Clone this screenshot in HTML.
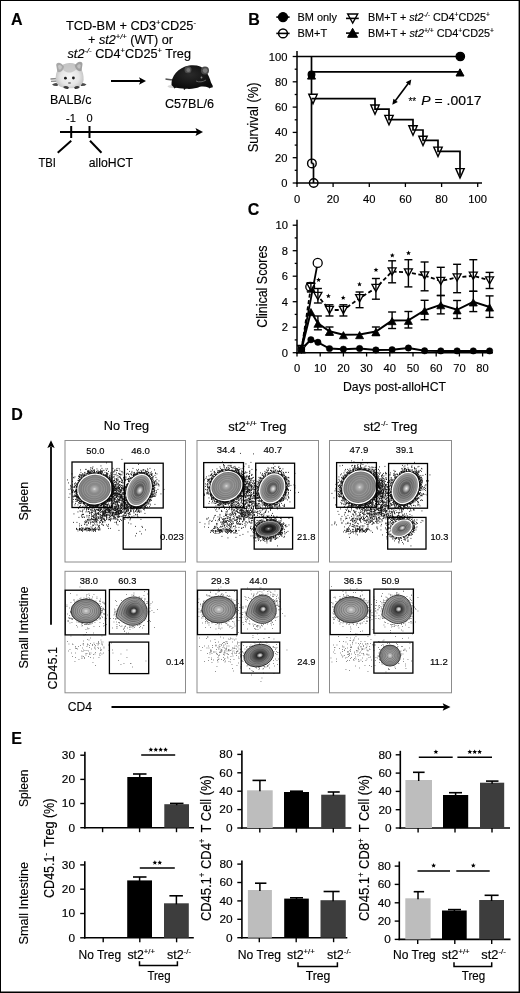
<!DOCTYPE html><html><head><meta charset="utf-8"><style>html,body{margin:0;padding:0;background:#fff;}svg{display:block;will-change:transform;font-family:"Liberation Sans",sans-serif;}text{stroke:#000;stroke-width:0.15px;}</style></head><body>
<svg width="520" height="993" viewBox="0 0 520 993">
<rect x="0" y="0" width="520" height="993" fill="#fff"/>
<text x="11" y="25" font-size="16" font-weight="bold">A</text>
<text x="66" y="30" font-size="12.8" textLength="130" lengthAdjust="spacingAndGlyphs">TCD-BM + CD3<tspan font-size="7.7" dy="-4.8">+</tspan><tspan dy="4.8">CD25</tspan><tspan font-size="7.7" dy="-4.8">-</tspan></text>
<text x="88" y="43.5" font-size="12.8" textLength="85" lengthAdjust="spacingAndGlyphs">+ <tspan font-style="italic">st2</tspan><tspan font-size="7.7" dy="-4.8" font-style="italic">+/+</tspan><tspan dy="4.8"> (WT) or</tspan></text>
<text x="67.5" y="57.5" font-size="12.8" textLength="123.5" lengthAdjust="spacingAndGlyphs"><tspan font-style="italic">st2</tspan><tspan font-size="7.7" dy="-4.8" font-style="italic">-/-</tspan><tspan dy="4.8"> CD4</tspan><tspan font-size="7.7" dy="-4.8">+</tspan><tspan dy="4.8">CD25</tspan><tspan font-size="7.7" dy="-4.8">+</tspan><tspan dy="4.8"> Treg</tspan></text>
<defs><radialGradient id="wm" cx="0.5" cy="0.55" r="0.55"><stop offset="0" stop-color="#f6f6f6"/><stop offset="0.6" stop-color="#e6e6e6"/><stop offset="1" stop-color="#bdbdbd"/></radialGradient>
<radialGradient id="bm" cx="0.45" cy="0.4" r="0.6"><stop offset="0" stop-color="#2a2a2a"/><stop offset="1" stop-color="#0a0a0a"/></radialGradient></defs>
<g>
<path d="M50.5 79 L58 78.5 M51 81.3 L58 81" stroke="#8a8a8a" stroke-width="1.3"/>
<path d="M52 84.5 Q55 82 58.5 83.5 L57.5 86 Q54 86.5 52 84.5Z" fill="#4a4a4a"/>
<path d="M86.5 84.5 Q83.5 82 80 83.5 L81 86 Q84.5 86.5 86.5 84.5Z" fill="#4a4a4a"/>
<path d="M55.8 80 C55 71 60 63.5 69.5 63 C79 63 84.3 70 83.6 80 C83 86 77 88.3 69.5 88.3 C62 88.3 56.3 86 55.8 80Z" fill="url(#wm)"/>
<path d="M62 67 C64 64 75 63.5 77.5 67 C76 71 72 72.5 69.5 72.5 C66 72.5 63 71 62 67Z" fill="#c4c4c4" opacity="0.85"/>
<path d="M56.2 65 C56.5 61.5 61.5 62 64 66.5 C63.3 71 59.5 73.5 57.3 71.5 Z" fill="#a8a8a8"/>
<path d="M82.5 64 C82.3 60.5 77 61 74.8 65.5 C75.5 70 79.5 72.5 81.6 70.5 Z" fill="#a0a0a0"/>
<path d="M58 66.2 C58.4 64.5 60.8 64.6 62 67 C61.5 69.3 59.8 70.2 58.8 69.2Z" fill="#c6c6c6"/>
<path d="M80.8 65.3 C80.5 63.6 78 63.7 77 66 C77.5 68.3 79.3 69.2 80.2 68.2Z" fill="#c0c0c0"/>
<circle cx="65.4" cy="78.2" r="1.4" fill="#1a1a1a"/>
<circle cx="73.4" cy="78" r="1.4" fill="#1a1a1a"/>
<ellipse cx="69.5" cy="83" rx="1.6" ry="1.1" fill="#8a8a8a"/>
<path d="M63 87 Q66 85 69 87.5 L68 89 Q65 89.5 63 87Z" fill="#3a3a3a"/>
<path d="M80 87 Q77 85 74 87.5 L75 89 Q78 89.5 80 87Z" fill="#3a3a3a"/>
</g>
<text x="50" y="104" font-size="12.3" textLength="41.5" lengthAdjust="spacingAndGlyphs">BALB/c</text>
<line x1="111" y1="81" x2="141" y2="81" stroke="#000" stroke-width="2"/>
<path d="M146 81 L139 77.3 L140.5 81 L139 84.7 Z" fill="#000"/>
<g>
<path d="M165.5 79 C169 79.5 172 80 176 80.5" stroke="#555" stroke-width="1.4" fill="none"/>
<ellipse cx="175" cy="86.5" rx="7.5" ry="1.6" fill="#d5d5d5"/>
<path d="M171.5 85 C171 76 178 67.5 189 65.5 C197 64.5 202 66.5 205 70 C208 73.5 210 79 211 82.5 C212 84.5 213.5 86 212.5 87.5 L209 87.8 C206 86.5 203 86 200 86.8 C196 88.5 191 89.3 186 88.8 C181 88.4 177 88 174 87.5 Z" fill="url(#bm)"/>
<path d="M174 88 L177 86 M184 89.5 L186 86.5 M209 88 L211.5 86" stroke="#111" stroke-width="1.5"/>
<circle cx="188" cy="69.8" r="3.5" fill="#4a4a4a"/>
<circle cx="188.3" cy="70" r="2" fill="#777"/>
<circle cx="205" cy="70.4" r="4" fill="#4a4a4a"/>
<circle cx="205.2" cy="70.6" r="2.4" fill="#7a7a7a"/>
<path d="M196 81 C199 82.5 203 82 206 80" stroke="#666" stroke-width="0.9" fill="none"/>
<circle cx="201.5" cy="77.5" r="0.9" fill="#888"/>
</g>
<text x="165" y="108" font-size="12.3" textLength="49" lengthAdjust="spacingAndGlyphs">C57BL/6</text>
<text x="71" y="122" font-size="11" text-anchor="middle">-1</text>
<text x="89.5" y="122" font-size="11" text-anchor="middle">0</text>
<line x1="60" y1="132" x2="197" y2="132" stroke="#000" stroke-width="2"/>
<path d="M203 132 L195.5 128 L197 132 L195.5 136 Z" fill="#000"/>
<line x1="71.2" y1="126" x2="71.2" y2="138" stroke="#000" stroke-width="2"/>
<line x1="89.5" y1="126" x2="89.5" y2="138" stroke="#000" stroke-width="2"/>
<line x1="71.2" y1="140.8" x2="57.7" y2="152.8" stroke="#000" stroke-width="2"/>
<line x1="90" y1="140.8" x2="101.5" y2="152.8" stroke="#000" stroke-width="2"/>
<text x="38.5" y="166.5" font-size="12.3" textLength="17.5" lengthAdjust="spacingAndGlyphs">TBI</text>
<text x="88.8" y="166.5" font-size="12.3" textLength="44.2" lengthAdjust="spacingAndGlyphs">alloHCT</text>
<text x="248.3" y="24.8" font-size="16" font-weight="bold">B</text>
<line x1="276.3" y1="17.1" x2="289.6" y2="17.1" stroke="#000" stroke-width="1.6"/>
<circle cx="283" cy="17.1" r="4.5" fill="#000" stroke="#000" stroke-width="1.3"/>
<circle cx="283" cy="33.4" r="4.4" fill="#fff" stroke="#000" stroke-width="1.5"/>
<line x1="276.3" y1="33.4" x2="289.6" y2="33.4" stroke="#000" stroke-width="1.6"/>
<text x="297.5" y="20.8" font-size="11" textLength="39.5" lengthAdjust="spacingAndGlyphs">BM only</text>
<text x="297.5" y="37" font-size="11">BM+T</text>
<path d="M347.7 14 L357.7 14 L352.7 23 Z" fill="#fff" stroke="#000" stroke-width="1.4"/>
<line x1="346" y1="18.4" x2="358.8" y2="18.4" stroke="#000" stroke-width="1.6"/>
<path d="M347.6 37.3 L357.6 37.3 L352.6 28.3 Z" fill="#000" stroke="#000" stroke-width="1"/>
<line x1="346" y1="33.1" x2="358.8" y2="33.1" stroke="#000" stroke-width="1.6"/>
<text x="368" y="21" font-size="11" textLength="122" lengthAdjust="spacingAndGlyphs">BM+T + <tspan font-style="italic">st2</tspan><tspan font-size="6.8" dy="-4.2" font-style="italic">-/-</tspan><tspan dy="4.2"> CD4</tspan><tspan font-size="6.8" dy="-4.2">+</tspan><tspan dy="4.2">CD25</tspan><tspan font-size="6.8" dy="-4.2">+</tspan></text>
<text x="368" y="37" font-size="11" textLength="126" lengthAdjust="spacingAndGlyphs">BM+T + <tspan font-style="italic">st2</tspan><tspan font-size="6.8" dy="-4.2" font-style="italic">+/+</tspan><tspan dy="4.2"> CD4</tspan><tspan font-size="6.8" dy="-4.2">+</tspan><tspan dy="4.2">CD25</tspan><tspan font-size="6.8" dy="-4.2">+</tspan></text>
<line x1="297" y1="51" x2="297" y2="184" stroke="#000" stroke-width="1.5"/>
<line x1="296.2" y1="183" x2="482" y2="183" stroke="#000" stroke-width="1.5"/>
<line x1="292.7" y1="183" x2="297" y2="183" stroke="#000" stroke-width="1.3"/>
<line x1="294.7" y1="170.3" x2="297" y2="170.3" stroke="#000" stroke-width="1.3"/>
<line x1="292.7" y1="157.7" x2="297" y2="157.7" stroke="#000" stroke-width="1.3"/>
<line x1="294.7" y1="145.1" x2="297" y2="145.1" stroke="#000" stroke-width="1.3"/>
<line x1="292.7" y1="132.4" x2="297" y2="132.4" stroke="#000" stroke-width="1.3"/>
<line x1="294.7" y1="119.8" x2="297" y2="119.8" stroke="#000" stroke-width="1.3"/>
<line x1="292.7" y1="107.1" x2="297" y2="107.1" stroke="#000" stroke-width="1.3"/>
<line x1="294.7" y1="94.5" x2="297" y2="94.5" stroke="#000" stroke-width="1.3"/>
<line x1="292.7" y1="81.8" x2="297" y2="81.8" stroke="#000" stroke-width="1.3"/>
<line x1="294.7" y1="69.2" x2="297" y2="69.2" stroke="#000" stroke-width="1.3"/>
<line x1="292.7" y1="56.5" x2="297" y2="56.5" stroke="#000" stroke-width="1.3"/>
<text x="287.5" y="187" font-size="11.2" text-anchor="end">0</text>
<text x="287.5" y="161.7" font-size="11.2" text-anchor="end">20</text>
<text x="287.5" y="136.4" font-size="11.2" text-anchor="end">40</text>
<text x="287.5" y="111.1" font-size="11.2" text-anchor="end">60</text>
<text x="287.5" y="85.8" font-size="11.2" text-anchor="end">80</text>
<text x="287.5" y="60.5" font-size="11.2" text-anchor="end">100</text>
<line x1="297" y1="183" x2="297" y2="187" stroke="#000" stroke-width="1.3"/>
<text x="297" y="202.6" font-size="11.2" text-anchor="middle">0</text>
<line x1="333.1" y1="183" x2="333.1" y2="187" stroke="#000" stroke-width="1.3"/>
<text x="333.1" y="202.6" font-size="11.2" text-anchor="middle">20</text>
<line x1="369.3" y1="183" x2="369.3" y2="187" stroke="#000" stroke-width="1.3"/>
<text x="369.3" y="202.6" font-size="11.2" text-anchor="middle">40</text>
<line x1="405.4" y1="183" x2="405.4" y2="187" stroke="#000" stroke-width="1.3"/>
<text x="405.4" y="202.6" font-size="11.2" text-anchor="middle">60</text>
<line x1="441.6" y1="183" x2="441.6" y2="187" stroke="#000" stroke-width="1.3"/>
<text x="441.6" y="202.6" font-size="11.2" text-anchor="middle">80</text>
<line x1="477.7" y1="183" x2="477.7" y2="187" stroke="#000" stroke-width="1.3"/>
<text x="477.7" y="202.6" font-size="11.2" text-anchor="middle">100</text>
<text transform="translate(258.2 117.3) rotate(-90)" x="0" y="0" font-size="14" text-anchor="middle" textLength="70" lengthAdjust="spacingAndGlyphs">Survival (%)</text>
<line x1="297" y1="56.5" x2="460.3" y2="56.5" stroke="#000" stroke-width="1.7"/>
<circle cx="460.3" cy="56.5" r="4.2" fill="#000" stroke="#000" stroke-width="1.3"/>
<line x1="311.5" y1="56.5" x2="311.5" y2="163.4" stroke="#000" stroke-width="1.7"/>
<line x1="311.5" y1="163.4" x2="313.5" y2="163.4" stroke="#000" stroke-width="1.7"/>
<line x1="313.5" y1="163.4" x2="313.5" y2="183" stroke="#000" stroke-width="1.7"/>
<circle cx="311.9" cy="163.4" r="4.3" fill="none" stroke="#000" stroke-width="1.4"/>
<circle cx="313.7" cy="183" r="4.3" fill="none" stroke="#000" stroke-width="1.4"/>
<line x1="311.5" y1="71.9" x2="460" y2="71.9" stroke="#000" stroke-width="1.7"/>
<path d="M456 76 L464 76 L460 68.8 Z" fill="#000" stroke="#000" stroke-width="1"/>
<circle cx="311.5" cy="74.5" r="3.3" fill="#000" stroke="#000" stroke-width="1.3"/>
<path d="M307.5 79.1 L315.5 79.1 L311.5 71.9 Z" fill="#000" stroke="#000" stroke-width="1"/>
<path d="M308.8 94.3 L317.2 94.3 L313 103.7 Z" fill="#fff" stroke="#000" stroke-width="1.4"/>
<path d="M370.8 105 L379.2 105 L375 114.4 Z" fill="#fff" stroke="#000" stroke-width="1.4"/>
<path d="M384.8 115.4 L393.2 115.4 L389 124.8 Z" fill="#fff" stroke="#000" stroke-width="1.4"/>
<path d="M408.8 125.8 L417.2 125.8 L413 135.2 Z" fill="#fff" stroke="#000" stroke-width="1.4"/>
<path d="M418.8 136.2 L427.2 136.2 L423 145.6 Z" fill="#fff" stroke="#000" stroke-width="1.4"/>
<path d="M433.8 147.1 L442.2 147.1 L438 156.5 Z" fill="#fff" stroke="#000" stroke-width="1.4"/>
<path d="M455.8 168.6 L464.2 168.6 L460 178 Z" fill="#fff" stroke="#000" stroke-width="1.4"/>
<polyline points="311.5,98.6 375,98.6 375,109.2 389,109.2 389,119.6 413,119.6 413,130 423,130 423,140.4 438,140.4 438,151.3 460,151.3 460,175.8" fill="none" stroke="#000" stroke-width="1.7"/>
<line x1="394" y1="102.5" x2="409.5" y2="81.8" stroke="#000" stroke-width="1.6"/>
<path d="M392.3 104.8 L393.4 98.7 L397.8 102 Z" fill="#000"/>
<path d="M411.3 79.5 L410.2 85.6 L405.8 82.3 Z" fill="#000"/>
<text x="408.4" y="104.5" font-size="10">**</text>
<text x="421.3" y="105" font-size="12.8" textLength="60.2" lengthAdjust="spacingAndGlyphs"><tspan font-style="italic">P</tspan> = .0017</text>
<text x="247.8" y="215.2" font-size="16" font-weight="bold">C</text>
<line x1="297" y1="219.8" x2="297" y2="354" stroke="#000" stroke-width="1.5"/>
<line x1="296.2" y1="352.7" x2="493" y2="352.7" stroke="#000" stroke-width="1.5"/>
<line x1="292.7" y1="352.7" x2="297" y2="352.7" stroke="#000" stroke-width="1.3"/>
<line x1="294.7" y1="339.9" x2="297" y2="339.9" stroke="#000" stroke-width="1.3"/>
<line x1="292.7" y1="327.2" x2="297" y2="327.2" stroke="#000" stroke-width="1.3"/>
<line x1="294.7" y1="314.4" x2="297" y2="314.4" stroke="#000" stroke-width="1.3"/>
<line x1="292.7" y1="301.7" x2="297" y2="301.7" stroke="#000" stroke-width="1.3"/>
<line x1="294.7" y1="288.9" x2="297" y2="288.9" stroke="#000" stroke-width="1.3"/>
<line x1="292.7" y1="276.2" x2="297" y2="276.2" stroke="#000" stroke-width="1.3"/>
<line x1="294.7" y1="263.4" x2="297" y2="263.4" stroke="#000" stroke-width="1.3"/>
<line x1="292.7" y1="250.7" x2="297" y2="250.7" stroke="#000" stroke-width="1.3"/>
<line x1="294.7" y1="237.9" x2="297" y2="237.9" stroke="#000" stroke-width="1.3"/>
<line x1="292.7" y1="225.2" x2="297" y2="225.2" stroke="#000" stroke-width="1.3"/>
<text x="288" y="356.7" font-size="11.2" text-anchor="end">0</text>
<text x="288" y="331.2" font-size="11.2" text-anchor="end">2</text>
<text x="288" y="305.7" font-size="11.2" text-anchor="end">4</text>
<text x="288" y="280.2" font-size="11.2" text-anchor="end">6</text>
<text x="288" y="254.7" font-size="11.2" text-anchor="end">8</text>
<text x="288" y="229.2" font-size="11.2" text-anchor="end">10</text>
<line x1="297" y1="352.7" x2="297" y2="356.5" stroke="#000" stroke-width="1.3"/>
<text x="297" y="372.3" font-size="11.2" text-anchor="middle">0</text>
<line x1="320.2" y1="352.7" x2="320.2" y2="356.5" stroke="#000" stroke-width="1.3"/>
<text x="320.2" y="372.3" font-size="11.2" text-anchor="middle">10</text>
<line x1="343.4" y1="352.7" x2="343.4" y2="356.5" stroke="#000" stroke-width="1.3"/>
<text x="343.4" y="372.3" font-size="11.2" text-anchor="middle">20</text>
<line x1="366.6" y1="352.7" x2="366.6" y2="356.5" stroke="#000" stroke-width="1.3"/>
<text x="366.6" y="372.3" font-size="11.2" text-anchor="middle">30</text>
<line x1="389.8" y1="352.7" x2="389.8" y2="356.5" stroke="#000" stroke-width="1.3"/>
<text x="389.8" y="372.3" font-size="11.2" text-anchor="middle">40</text>
<line x1="413" y1="352.7" x2="413" y2="356.5" stroke="#000" stroke-width="1.3"/>
<text x="413" y="372.3" font-size="11.2" text-anchor="middle">50</text>
<line x1="436.2" y1="352.7" x2="436.2" y2="356.5" stroke="#000" stroke-width="1.3"/>
<text x="436.2" y="372.3" font-size="11.2" text-anchor="middle">60</text>
<line x1="459.4" y1="352.7" x2="459.4" y2="356.5" stroke="#000" stroke-width="1.3"/>
<text x="459.4" y="372.3" font-size="11.2" text-anchor="middle">70</text>
<line x1="482.6" y1="352.7" x2="482.6" y2="356.5" stroke="#000" stroke-width="1.3"/>
<text x="482.6" y="372.3" font-size="11.2" text-anchor="middle">80</text>
<text transform="translate(267.3 286.6) rotate(-90)" x="0" y="0" font-size="14.8" text-anchor="middle" textLength="82.3" lengthAdjust="spacingAndGlyphs">Clinical Scores</text>
<text x="343" y="391" font-size="13.5" textLength="103" lengthAdjust="spacingAndGlyphs">Days post-alloHCT</text>
<line x1="317.9" y1="316" x2="317.9" y2="329.8" stroke="#000" stroke-width="1.4"/>
<line x1="313.9" y1="316" x2="321.9" y2="316" stroke="#000" stroke-width="1.4"/>
<line x1="313.9" y1="329.8" x2="321.9" y2="329.8" stroke="#000" stroke-width="1.4"/>
<line x1="329.5" y1="327" x2="329.5" y2="335" stroke="#000" stroke-width="1.4"/>
<line x1="325.5" y1="327" x2="333.5" y2="327" stroke="#000" stroke-width="1.4"/>
<line x1="325.5" y1="335" x2="333.5" y2="335" stroke="#000" stroke-width="1.4"/>
<line x1="375.9" y1="327" x2="375.9" y2="335.5" stroke="#000" stroke-width="1.4"/>
<line x1="371.9" y1="327" x2="379.9" y2="327" stroke="#000" stroke-width="1.4"/>
<line x1="371.9" y1="335.5" x2="379.9" y2="335.5" stroke="#000" stroke-width="1.4"/>
<line x1="392.1" y1="312" x2="392.1" y2="328.5" stroke="#000" stroke-width="1.4"/>
<line x1="388.1" y1="312" x2="396.1" y2="312" stroke="#000" stroke-width="1.4"/>
<line x1="388.1" y1="328.5" x2="396.1" y2="328.5" stroke="#000" stroke-width="1.4"/>
<line x1="408.4" y1="311.5" x2="408.4" y2="328" stroke="#000" stroke-width="1.4"/>
<line x1="404.4" y1="311.5" x2="412.4" y2="311.5" stroke="#000" stroke-width="1.4"/>
<line x1="404.4" y1="328" x2="412.4" y2="328" stroke="#000" stroke-width="1.4"/>
<line x1="424.6" y1="300.3" x2="424.6" y2="319.7" stroke="#000" stroke-width="1.4"/>
<line x1="420.6" y1="300.3" x2="428.6" y2="300.3" stroke="#000" stroke-width="1.4"/>
<line x1="420.6" y1="319.7" x2="428.6" y2="319.7" stroke="#000" stroke-width="1.4"/>
<line x1="440.8" y1="295.5" x2="440.8" y2="313.9" stroke="#000" stroke-width="1.4"/>
<line x1="436.8" y1="295.5" x2="444.8" y2="295.5" stroke="#000" stroke-width="1.4"/>
<line x1="436.8" y1="313.9" x2="444.8" y2="313.9" stroke="#000" stroke-width="1.4"/>
<line x1="457.1" y1="300.5" x2="457.1" y2="318.5" stroke="#000" stroke-width="1.4"/>
<line x1="453.1" y1="300.5" x2="461.1" y2="300.5" stroke="#000" stroke-width="1.4"/>
<line x1="453.1" y1="318.5" x2="461.1" y2="318.5" stroke="#000" stroke-width="1.4"/>
<line x1="473.3" y1="291.3" x2="473.3" y2="311.6" stroke="#000" stroke-width="1.4"/>
<line x1="469.3" y1="291.3" x2="477.3" y2="291.3" stroke="#000" stroke-width="1.4"/>
<line x1="469.3" y1="311.6" x2="477.3" y2="311.6" stroke="#000" stroke-width="1.4"/>
<line x1="489.6" y1="295.9" x2="489.6" y2="317.4" stroke="#000" stroke-width="1.4"/>
<line x1="485.6" y1="295.9" x2="493.6" y2="295.9" stroke="#000" stroke-width="1.4"/>
<line x1="485.6" y1="317.4" x2="493.6" y2="317.4" stroke="#000" stroke-width="1.4"/>
<polyline points="301.6,349 310.9,287 317.9,296 329.5,310 343.4,310 359.6,298.2 375.9,288 392.1,271.5 408.4,272.5 424.6,275.5 440.8,281 457.1,277.4 473.3,275.8 489.6,280.4" fill="none" stroke="#000" stroke-width="1.8" stroke-dasharray="4 2.5"/>
<polyline points="301.6,349 310.9,311.6 317.9,323.2 329.5,331.2 343.4,334.7 359.6,334.6 375.9,331.5 392.1,320.6 408.4,320.3 424.6,310.3 440.8,304.7 457.1,309.8 473.3,301.9 489.6,307" fill="none" stroke="#000" stroke-width="2"/>
<polyline points="301.6,349 310.9,339.7 317.9,342.3 329.5,348.6 343.4,349.2 359.6,348.5 375.9,350 392.1,349.7 408.4,348 424.6,350.8 440.8,350.9 457.1,350.9 473.3,350.9 489.6,350.9" fill="none" stroke="#000" stroke-width="2"/>
<polyline points="301.3,349.2 317.7,262.9" fill="none" stroke="#000" stroke-width="1.8"/>
<line x1="310.2" y1="282.7" x2="310.2" y2="291" stroke="#000" stroke-width="1.2"/>
<line x1="306.7" y1="282.7" x2="313.7" y2="282.7" stroke="#000" stroke-width="1.2"/>
<line x1="306.7" y1="291" x2="313.7" y2="291" stroke="#000" stroke-width="1.2"/>
<circle cx="310.2" cy="286.8" r="4.4" fill="none" stroke="#000" stroke-width="1.3"/>
<circle cx="317.7" cy="262.9" r="4.5" fill="#fff" stroke="#000" stroke-width="1.3"/>
<circle cx="301.3" cy="349.2" r="3.2" fill="none" stroke="#000" stroke-width="1.2"/>
<path d="M297.6 345.4 L305.6 345.4 L301.6 352.6 Z" fill="#fff" stroke="#000" stroke-width="1.3"/>
<path d="M306.9 283.4 L314.9 283.4 L310.9 290.6 Z" fill="#fff" stroke="#000" stroke-width="1.3"/>
<path d="M313.9 292.4 L321.9 292.4 L317.9 299.6 Z" fill="#fff" stroke="#000" stroke-width="1.3"/>
<path d="M325.5 306.4 L333.5 306.4 L329.5 313.6 Z" fill="#fff" stroke="#000" stroke-width="1.3"/>
<path d="M339.4 306.4 L347.4 306.4 L343.4 313.6 Z" fill="#fff" stroke="#000" stroke-width="1.3"/>
<path d="M355.6 294.6 L363.6 294.6 L359.6 301.8 Z" fill="#fff" stroke="#000" stroke-width="1.3"/>
<path d="M371.9 284.4 L379.9 284.4 L375.9 291.6 Z" fill="#fff" stroke="#000" stroke-width="1.3"/>
<path d="M388.1 267.9 L396.1 267.9 L392.1 275.1 Z" fill="#fff" stroke="#000" stroke-width="1.3"/>
<path d="M404.4 268.9 L412.4 268.9 L408.4 276.1 Z" fill="#fff" stroke="#000" stroke-width="1.3"/>
<path d="M420.6 271.9 L428.6 271.9 L424.6 279.1 Z" fill="#fff" stroke="#000" stroke-width="1.3"/>
<path d="M436.8 277.4 L444.8 277.4 L440.8 284.6 Z" fill="#fff" stroke="#000" stroke-width="1.3"/>
<path d="M453.1 273.8 L461.1 273.8 L457.1 281 Z" fill="#fff" stroke="#000" stroke-width="1.3"/>
<path d="M469.3 272.2 L477.3 272.2 L473.3 279.4 Z" fill="#fff" stroke="#000" stroke-width="1.3"/>
<path d="M485.6 276.8 L493.6 276.8 L489.6 284 Z" fill="#fff" stroke="#000" stroke-width="1.3"/>
<line x1="310.9" y1="282.7" x2="310.9" y2="292" stroke="#000" stroke-width="1.4"/>
<line x1="306.9" y1="282.7" x2="314.9" y2="282.7" stroke="#000" stroke-width="1.4"/>
<line x1="306.9" y1="292" x2="314.9" y2="292" stroke="#000" stroke-width="1.4"/>
<line x1="317.9" y1="288.5" x2="317.9" y2="303" stroke="#000" stroke-width="1.4"/>
<line x1="313.9" y1="288.5" x2="321.9" y2="288.5" stroke="#000" stroke-width="1.4"/>
<line x1="313.9" y1="303" x2="321.9" y2="303" stroke="#000" stroke-width="1.4"/>
<line x1="329.5" y1="304.8" x2="329.5" y2="316" stroke="#000" stroke-width="1.4"/>
<line x1="325.5" y1="304.8" x2="333.5" y2="304.8" stroke="#000" stroke-width="1.4"/>
<line x1="325.5" y1="316" x2="333.5" y2="316" stroke="#000" stroke-width="1.4"/>
<line x1="343.4" y1="304.8" x2="343.4" y2="316" stroke="#000" stroke-width="1.4"/>
<line x1="339.4" y1="304.8" x2="347.4" y2="304.8" stroke="#000" stroke-width="1.4"/>
<line x1="339.4" y1="316" x2="347.4" y2="316" stroke="#000" stroke-width="1.4"/>
<line x1="359.6" y1="292" x2="359.6" y2="307.7" stroke="#000" stroke-width="1.4"/>
<line x1="355.6" y1="292" x2="363.6" y2="292" stroke="#000" stroke-width="1.4"/>
<line x1="355.6" y1="307.7" x2="363.6" y2="307.7" stroke="#000" stroke-width="1.4"/>
<line x1="375.9" y1="278.5" x2="375.9" y2="299.2" stroke="#000" stroke-width="1.4"/>
<line x1="371.9" y1="278.5" x2="379.9" y2="278.5" stroke="#000" stroke-width="1.4"/>
<line x1="371.9" y1="299.2" x2="379.9" y2="299.2" stroke="#000" stroke-width="1.4"/>
<line x1="392.1" y1="260.8" x2="392.1" y2="282.8" stroke="#000" stroke-width="1.4"/>
<line x1="388.1" y1="260.8" x2="396.1" y2="260.8" stroke="#000" stroke-width="1.4"/>
<line x1="388.1" y1="282.8" x2="396.1" y2="282.8" stroke="#000" stroke-width="1.4"/>
<line x1="408.4" y1="259.7" x2="408.4" y2="286.9" stroke="#000" stroke-width="1.4"/>
<line x1="404.4" y1="259.7" x2="412.4" y2="259.7" stroke="#000" stroke-width="1.4"/>
<line x1="404.4" y1="286.9" x2="412.4" y2="286.9" stroke="#000" stroke-width="1.4"/>
<line x1="424.6" y1="262" x2="424.6" y2="290.8" stroke="#000" stroke-width="1.4"/>
<line x1="420.6" y1="262" x2="428.6" y2="262" stroke="#000" stroke-width="1.4"/>
<line x1="420.6" y1="290.8" x2="428.6" y2="290.8" stroke="#000" stroke-width="1.4"/>
<line x1="440.8" y1="267.3" x2="440.8" y2="295.5" stroke="#000" stroke-width="1.4"/>
<line x1="436.8" y1="267.3" x2="444.8" y2="267.3" stroke="#000" stroke-width="1.4"/>
<line x1="436.8" y1="295.5" x2="444.8" y2="295.5" stroke="#000" stroke-width="1.4"/>
<line x1="457.1" y1="264.3" x2="457.1" y2="292.7" stroke="#000" stroke-width="1.4"/>
<line x1="453.1" y1="264.3" x2="461.1" y2="264.3" stroke="#000" stroke-width="1.4"/>
<line x1="453.1" y1="292.7" x2="461.1" y2="292.7" stroke="#000" stroke-width="1.4"/>
<line x1="473.3" y1="259.7" x2="473.3" y2="291.3" stroke="#000" stroke-width="1.4"/>
<line x1="469.3" y1="259.7" x2="477.3" y2="259.7" stroke="#000" stroke-width="1.4"/>
<line x1="469.3" y1="291.3" x2="477.3" y2="291.3" stroke="#000" stroke-width="1.4"/>
<line x1="489.6" y1="272.4" x2="489.6" y2="288.5" stroke="#000" stroke-width="1.4"/>
<line x1="485.6" y1="272.4" x2="493.6" y2="272.4" stroke="#000" stroke-width="1.4"/>
<line x1="485.6" y1="288.5" x2="493.6" y2="288.5" stroke="#000" stroke-width="1.4"/>
<path d="M297.6 353.1 L305.6 353.1 L301.6 345.9 Z" fill="#000" stroke="#000" stroke-width="0.8"/>
<path d="M306.9 315.7 L314.9 315.7 L310.9 308.5 Z" fill="#000" stroke="#000" stroke-width="0.8"/>
<path d="M313.9 327.3 L321.9 327.3 L317.9 320.1 Z" fill="#000" stroke="#000" stroke-width="0.8"/>
<path d="M325.5 335.3 L333.5 335.3 L329.5 328.1 Z" fill="#000" stroke="#000" stroke-width="0.8"/>
<path d="M339.4 338.8 L347.4 338.8 L343.4 331.6 Z" fill="#000" stroke="#000" stroke-width="0.8"/>
<path d="M355.6 338.7 L363.6 338.7 L359.6 331.5 Z" fill="#000" stroke="#000" stroke-width="0.8"/>
<path d="M371.9 335.6 L379.9 335.6 L375.9 328.4 Z" fill="#000" stroke="#000" stroke-width="0.8"/>
<path d="M388.1 324.7 L396.1 324.7 L392.1 317.5 Z" fill="#000" stroke="#000" stroke-width="0.8"/>
<path d="M404.4 324.4 L412.4 324.4 L408.4 317.2 Z" fill="#000" stroke="#000" stroke-width="0.8"/>
<path d="M420.6 314.4 L428.6 314.4 L424.6 307.2 Z" fill="#000" stroke="#000" stroke-width="0.8"/>
<path d="M436.8 308.8 L444.8 308.8 L440.8 301.6 Z" fill="#000" stroke="#000" stroke-width="0.8"/>
<path d="M453.1 313.9 L461.1 313.9 L457.1 306.7 Z" fill="#000" stroke="#000" stroke-width="0.8"/>
<path d="M469.3 306 L477.3 306 L473.3 298.8 Z" fill="#000" stroke="#000" stroke-width="0.8"/>
<path d="M485.6 311.1 L493.6 311.1 L489.6 303.9 Z" fill="#000" stroke="#000" stroke-width="0.8"/>
<circle cx="301.6" cy="349" r="3.2" fill="#000" stroke="#000" stroke-width="0.5"/>
<circle cx="310.9" cy="339.7" r="3.2" fill="#000" stroke="#000" stroke-width="0.5"/>
<circle cx="317.9" cy="342.3" r="3.2" fill="#000" stroke="#000" stroke-width="0.5"/>
<circle cx="329.5" cy="348.6" r="3.2" fill="#000" stroke="#000" stroke-width="0.5"/>
<circle cx="343.4" cy="349.2" r="3.2" fill="#000" stroke="#000" stroke-width="0.5"/>
<circle cx="359.6" cy="348.5" r="3.2" fill="#000" stroke="#000" stroke-width="0.5"/>
<circle cx="375.9" cy="350" r="3.2" fill="#000" stroke="#000" stroke-width="0.5"/>
<circle cx="392.1" cy="349.7" r="3.2" fill="#000" stroke="#000" stroke-width="0.5"/>
<circle cx="408.4" cy="348" r="3.2" fill="#000" stroke="#000" stroke-width="0.5"/>
<circle cx="424.6" cy="350.8" r="3.2" fill="#000" stroke="#000" stroke-width="0.5"/>
<circle cx="440.8" cy="350.9" r="3.2" fill="#000" stroke="#000" stroke-width="0.5"/>
<circle cx="457.1" cy="350.9" r="3.2" fill="#000" stroke="#000" stroke-width="0.5"/>
<circle cx="473.3" cy="350.9" r="3.2" fill="#000" stroke="#000" stroke-width="0.5"/>
<circle cx="489.6" cy="350.9" r="3.2" fill="#000" stroke="#000" stroke-width="0.5"/>
<polygon points="318.6,277.4 319.3,279 321,279.1 319.7,280.2 320.1,281.9 318.6,281 317.1,281.9 317.5,280.2 316.2,279.1 317.9,279" fill="#000"/>
<polygon points="328.4,293.6 329.1,295.2 330.8,295.3 329.5,296.4 329.9,298.1 328.4,297.2 326.9,298.1 327.3,296.4 326,295.3 327.7,295.2" fill="#000"/>
<polygon points="343.2,295.3 343.9,296.9 345.6,297 344.3,298.1 344.7,299.8 343.2,298.9 341.7,299.8 342.1,298.1 340.8,297 342.5,296.9" fill="#000"/>
<polygon points="359.5,281.8 360.2,283.4 361.9,283.5 360.6,284.6 361,286.3 359.5,285.4 358,286.3 358.4,284.6 357.1,283.5 358.8,283.4" fill="#000"/>
<polygon points="376,267.5 376.7,269.1 378.4,269.2 377.1,270.3 377.5,272 376,271.1 374.5,272 374.9,270.3 373.6,269.2 375.3,269.1" fill="#000"/>
<polygon points="392.3,253 393,254.6 394.7,254.7 393.4,255.8 393.8,257.5 392.3,256.6 390.8,257.5 391.2,255.8 389.9,254.7 391.6,254.6" fill="#000"/>
<polygon points="408.5,250.6 409.2,252.2 410.9,252.3 409.6,253.4 410,255.1 408.5,254.2 407,255.1 407.4,253.4 406.1,252.3 407.8,252.2" fill="#000"/>
<text x="11.2" y="420" font-size="16" font-weight="bold">D</text>
<text x="103.8" y="430.4" font-size="12.5" textLength="45.4" lengthAdjust="spacingAndGlyphs">No Treg</text>
<text x="228.3" y="430.9" font-size="12.5" textLength="58.2" lengthAdjust="spacingAndGlyphs">st2<tspan font-size="7.5" dy="-4.6">+/+</tspan><tspan dy="4.6"> Treg</tspan></text>
<text x="363.5" y="430.9" font-size="12.5" textLength="53.9" lengthAdjust="spacingAndGlyphs">st2<tspan font-size="7.5" dy="-4.6">-/-</tspan><tspan dy="4.6"> Treg</tspan></text>
<defs><radialGradient id="g1" cx="0.5" cy="0.5" r="0.5" fx="0.5" fy="0.5"><stop offset="0" stop-color="#e0e0e0"/><stop offset="0.1" stop-color="#b0b0b0"/><stop offset="0.3" stop-color="#8a8a8a"/><stop offset="0.8" stop-color="#7a7a7a"/><stop offset="1" stop-color="#6a6a6a"/></radialGradient><radialGradient id="g5" cx="0.5" cy="0.5" r="0.5" fx="0.55" fy="0.5"><stop offset="0" stop-color="#f0f0f0"/><stop offset="0.12" stop-color="#bcbcbc"/><stop offset="0.3" stop-color="#5a5a5a"/><stop offset="0.6" stop-color="#6a6a6a"/><stop offset="0.88" stop-color="#8a8a8a"/><stop offset="1" stop-color="#9a9a9a"/></radialGradient><radialGradient id="g2" cx="0.5" cy="0.5" r="0.5" fx="0.5" fy="0.5"><stop offset="0" stop-color="#e0e0e0"/><stop offset="0.12" stop-color="#555"/><stop offset="0.35" stop-color="#1a1a1a"/><stop offset="0.7" stop-color="#3a3a3a"/><stop offset="1" stop-color="#6a6a6a"/></radialGradient><radialGradient id="g3" cx="0.5" cy="0.5" r="0.5" fx="0.5" fy="0.5"><stop offset="0" stop-color="#e0e0e0"/><stop offset="0.15" stop-color="#b0b0b0"/><stop offset="0.5" stop-color="#a0a0a0"/><stop offset="0.85" stop-color="#909090"/><stop offset="1" stop-color="#707070"/></radialGradient><radialGradient id="g4" cx="0.5" cy="0.5" r="0.5" fx="0.55" fy="0.5"><stop offset="0" stop-color="#f4f4f4"/><stop offset="0.1" stop-color="#b0b0b0"/><stop offset="0.22" stop-color="#2a2a2a"/><stop offset="0.42" stop-color="#505050"/><stop offset="0.7" stop-color="#8a8a8a"/><stop offset="1" stop-color="#888"/></radialGradient><radialGradient id="g6" cx="0.5" cy="0.5" r="0.5" fx="0.6" fy="0.5"><stop offset="0" stop-color="#f4f4f4"/><stop offset="0.09" stop-color="#b8b8b8"/><stop offset="0.2" stop-color="#333"/><stop offset="0.36" stop-color="#555"/><stop offset="0.6" stop-color="#8a8a8a"/><stop offset="0.85" stop-color="#a5a5a5"/><stop offset="1" stop-color="#999"/></radialGradient></defs>
<rect x="65" y="440.5" width="120.5" height="121.5" fill="none" stroke="#8c8c8c" stroke-width="1"/>
<rect x="65" y="571.3" width="120.5" height="121.5" fill="none" stroke="#8c8c8c" stroke-width="1"/>
<rect x="197" y="440.5" width="121.5" height="121.5" fill="none" stroke="#8c8c8c" stroke-width="1"/>
<rect x="197" y="571.3" width="121.5" height="121.5" fill="none" stroke="#8c8c8c" stroke-width="1"/>
<rect x="329.5" y="440.5" width="122" height="121.5" fill="none" stroke="#8c8c8c" stroke-width="1"/>
<rect x="329.5" y="571.3" width="122" height="121.5" fill="none" stroke="#8c8c8c" stroke-width="1"/>
<path d="M121.5 459.4h.9m117.6-6h.9m12.1 0.5h.9m-147.9 9h.9m31.1 1.5h.9m83.1-2.5h.9m0.1 2.5h.9m-0.9 0.5h.9m6.6-2h.9m-0.9-0.5h.9m0.6 0h.9m12.6 1.5h.9m4.1-1.5h.9m21.6 1.5h.9m77.1-3h.9m1.6 1h.9m3.1 2.5h.9m1.6-0.5h.9m0.1 0h.9m0.1-4h.9m-0.4 4.5h.9m3.6-1.5h.9m39.1 2h.9m6.1-2.5h.9m-334.9 7.5h.9m4.6-0.5h.9m-0.9 0h.9m0.6 2h.9m-0.9-0.5h.9m0.1 0h.9m-0.9 0.5h.9m-0.4-1h.9m0.6-2.5h.9m-0.9 2h.9m-0.9 1.5h.9m0.1-1h.9m-0.4 0.5h.9m-0.9-3h.9m-0.4 0.5h.9m-0.9 3h.9m-0.4-4.5h.9m-0.9 3h.9m-0.4 1h.9m-0.4-0.5h.9m-0.4 0.5h.9m-0.9-1h.9m-0.9 1.5h.9m1.1 0h.9m-0.4-2.5h.9m0.1 1.5h.9m1.6-0.5h.9m-0.9 1h.9m-0.4 0.5h.9m-0.9-5.5h.9m-0.9 5.5h.9m-0.9 0h.9m-0.4-0.5h.9m-0.4-2.5h.9m-0.4 3h.9m-0.4-1h.9m0.1 0h.9m1.1-1.5h.9m-0.4 1.5h.9m0.1-1.5h.9m0.1 2.5h.9m3.6-3h.9m0.6 2.5h.9m-0.4 0h.9m-0.9-1h.9m0.6 0.5h.9m-0.9-1.5h.9m0.1 1.5h.9m-0.4-2h.9m0.6 0.5h.9m-0.4 2h.9m1.1 0.5h.9m4.6-2h.9m1.1 2h.9m1.6 0h.9m0.1-3h.9m2.6 1.5h.9m0.1 1h.9m-0.4 0h.9m-0.4-1.5h.9m1.6 1h.9m0.1 0.5h.9m0.1-1h.9m-0.4 0h.9m-0.4 0h.9m0.6 0.5h.9m-0.9 1h.9m0.1 0h.9m0.1 0h.9m-0.9-2.5h.9m-0.4 1h.9m1.1-1.5h.9m3.6 1.5h.9m55.6 1.5h.9m0.6-1.5h.9m1.1 1.5h.9m1.6-2.5h.9m-0.4 2h.9m0.1 0h.9m-0.9 0h.9m0.1 0.5h.9m-0.9-0.5h.9m-0.4-0.5h.9m-0.9-3.5h.9m-0.4 1.5h.9m-0.9 3h.9m-0.4-1h.9m-0.4 0h.9m-0.9-0.5h.9m-0.9 1h.9m-0.4-1.5h.9m-0.9 2h.9m-0.9-2h.9m-0.9 1.5h.9m-0.4 0.5h.9m-0.9-1h.9m-0.9 0h.9m-0.4-1h.9m-0.4 0.5h.9m-0.9 1.5h.9m-0.9 0h.9m-0.4 0h.9m-0.9-6h.9m-0.9 1.5h.9m-0.4-1h.9m-0.9 2h.9m-0.4 3.5h.9m-0.9 0h.9m-0.9-1.5h.9m-0.9-0.5h.9m-0.4 1.5h.9m-0.9-1.5h.9m-0.9 2h.9m-0.4 0h.9m-0.9-0.5h.9m-0.9 0h.9m-0.9-1.5h.9m-0.4-1.5h.9m-0.9 3h.9m-0.9-3h.9m-0.4 3.5h.9m-0.9-1.5h.9m-0.9 0.5h.9m-0.9 0h.9m-0.4 1h.9m-0.9-0.5h.9m-0.9 0h.9m-0.4 0.5h.9m-0.9-2h.9m-0.9-1.5h.9m-0.9 3.5h.9m-0.9 0h.9m-0.9-0.5h.9m-0.9-5h.9m-0.9 4h.9m-0.4-2h.9m-0.9 1.5h.9m-0.4 1.5h.9m-0.9 0h.9m-0.9-1h.9m-0.9-4.5h.9m-0.9 4.5h.9m-0.9 0.5h.9m-0.4-2h.9m-0.9 2h.9m-0.4-4.5h.9m-0.4 5.5h.9m-0.9 0h.9m-0.9-1h.9m-0.4-4.5h.9m-0.9 4.5h.9m-0.9-5h.9m-0.9 6h.9m-0.9 0h.9m-0.9-0.5h.9m-0.9-4h.9m-0.4 4.5h.9m-0.9 0h.9m-0.9 0h.9m-0.9-0.5h.9m-0.9 0h.9m-0.9-3.5h.9m-0.4 4h.9m-0.9-1.5h.9m-0.9 0.5h.9m-0.9 1h.9m-0.4-0.5h.9m-0.9-3h.9m-0.9 3h.9m-0.9 0.5h.9m-0.4 0h.9m-0.9 0h.9m-0.9-0.5h.9m-0.9 0h.9m-0.9 0h.9m-0.4-3h.9m-0.4 2.5h.9m-0.9-3.5h.9m-0.4 4.5h.9m-0.9 0h.9m-0.4-3h.9m-0.9-2h.9m-0.9 2h.9m-0.9 2.5h.9m-0.4-1h.9m-0.9-2h.9m-0.9 2.5h.9m-0.9-1.5h.9m-0.4 0.5h.9m-0.9 1h.9m-0.9 1h.9m-0.4 0h.9m-0.9-3h.9m-0.4 2.5h.9m-0.9-0.5h.9m-0.9-1h.9m-0.9-0.5h.9m-0.4 0h.9m-0.9 0.5h.9m-0.9 0.5h.9m-0.4 0.5h.9m-0.4-0.5h.9m-0.9 1h.9m-0.9-1h.9m-0.9 1h.9m-0.4 0.5h.9m-0.9-4h.9m-0.9 3h.9m-0.4-1h.9m0.6-0.5h.9m-0.4 2h.9m-0.4 0.5h.9m0.1-3h.9m0.1-2h.9m4.1-0.5h.9m-0.9 1.5h.9m-0.4 4h.9m-0.4-0.5h.9m1.1-1.5h.9m3.6 0.5h.9m7.6 1.5h.9m0.6-1.5h.9m0.6 0.5h.9m-0.9-2.5h.9m-0.9 2.5h.9m-0.4-0.5h.9m-0.4-1.5h.9m0.6 2h.9m-0.4 0h.9m-0.9 0h.9m-0.4-2.5h.9m-0.9 3.5h.9m-0.4-0.5h.9m0.1-3h.9m-0.4 0h.9m-0.9 3.5h.9m-0.9-3.5h.9m-0.4 1h.9m-0.9 1.5h.9m0.1-4h.9m-0.9 5h.9m-0.4-1h.9m-0.4-0.5h.9m0.6 1h.9m-0.4 0.5h.9m-0.4 0h.9m-0.9-4h.9m-0.4 4h.9m-0.9-5h.9m-0.4 5h.9m-0.9-3h.9m-0.9 3h.9m-0.9 0h.9m-0.9-0.5h.9m-0.9 0h.9m-0.9-2h.9m0.1-0.5h.9m-0.9 3h.9m0.1-1h.9m0.6-1.5h.9m56.1-3h.9m1.6-0.5h.9m1.6 5.5h.9m-0.4-1.5h.9m1.1 0h.9m0.1 1h.9m0.1 1h.9m-0.4-1h.9m-0.9-1.5h.9m-0.4 1.5h.9m0.1-4.5h.9m-0.9 5h.9m0.1-5.5h.9m-0.9 4.5h.9m-0.9 1h.9m-0.4-3h.9m-0.9 3.5h.9m-0.9-2h.9m-0.4-0.5h.9m-0.9 2.5h.9m-0.9-2h.9m-0.9 1.5h.9m-0.9-1h.9m-0.9 0.5h.9m-0.9-1h.9m-0.4 0h.9m-0.9 2h.9m-0.4-5h.9m-0.9 0.5h.9m-0.9-1.5h.9m-0.9 2h.9m-0.4 3.5h.9m-0.9-2h.9m-0.9-0.5h.9m-0.4-0.5h.9m-0.9 2.5h.9m-0.9-4.5h.9m-0.4 5h.9m-0.9-1h.9m-0.9 1h.9m-0.9-0.5h.9m-0.9 0.5h.9m-0.9-1h.9m-0.9 1h.9m-0.4 0.5h.9m-0.9-1h.9m-0.9-2h.9m-0.9 3h.9m-0.4-0.5h.9m-0.9 0h.9m-0.4 0.5h.9m-0.9-6h.9m-0.9 2h.9m-0.9 2h.9m-0.9 0h.9m-0.9 2h.9m-0.9-1h.9m-0.4 0.5h.9m-0.9-2.5h.9m-0.9-1.5h.9m-0.9 2h.9m-0.9-2h.9m-0.9 3.5h.9m-0.9 0.5h.9m-0.9-1h.9m-0.4-0.5h.9m-0.9 1.5h.9m-0.9-3h.9m-0.9 2.5h.9m-0.4 0.5h.9m-0.9 0.5h.9m-0.9-1.5h.9m-0.9 0.5h.9m-0.9-2h.9m-0.9 2.5h.9m-0.9-0.5h.9m-0.9 1h.9m-0.4-1.5h.9m-0.9-1h.9m-0.9 1.5h.9m-0.9 1h.9m-0.9-1.5h.9m-0.4-1h.9m-0.9-0.5h.9m-0.9 3h.9m-0.9-3h.9m-0.9 2h.9m-0.9-1h.9m-0.9 1.5h.9m-0.9-2h.9m-0.4 2.5h.9m-0.9-2h.9m-0.9-3h.9m-0.9-1h.9m-0.9 6h.9m-0.9-2.5h.9m-0.9 2.5h.9m-0.9-5.5h.9m-0.4 1.5h.9m-0.9 0h.9m-0.9 1.5h.9m-0.9 2h.9m-0.9-0.5h.9m-0.9-0.5h.9m-0.4 1.5h.9m-0.9-0.5h.9m-0.9-2h.9m-0.9 1.5h.9m-0.9 0.5h.9m-0.9 0.5h.9m-0.4-3.5h.9m-0.9 2h.9m-0.9 1h.9m-0.9-2.5h.9m-0.9 1.5h.9m-0.4 0h.9m-0.9 1.5h.9m-0.9-1h.9m-0.9 0.5h.9m-0.9-0.5h.9m-0.4 1h.9m-0.9-0.5h.9m-0.9-1h.9m-0.9-0.5h.9m-0.9 1.5h.9m-0.9 0.5h.9m-0.4-1h.9m-0.9 0h.9m-0.9-1h.9m-0.9 1.5h.9m-0.9 0h.9m-0.4-2h.9m-0.9 0.5h.9m-0.9 0h.9m-0.9-1.5h.9m-0.9 2.5h.9m-0.9 0h.9m-0.9 1h.9m-0.9-0.5h.9m-0.9-0.5h.9m-0.4 0.5h.9m-0.9-2h.9m-0.9 0h.9m-0.9 0.5h.9m-0.4 0.5h.9m-0.9-3h.9m-0.4 2h.9m-0.9 1h.9m-0.9 1.5h.9m-0.9-0.5h.9m-0.9-1.5h.9m-0.9-0.5h.9m-0.4 2.5h.9m-0.9-2h.9m-0.9-3.5h.9m-0.9 5h.9m-0.4-0.5h.9m-0.9 0.5h.9m-0.9 0h.9m-0.9-2h.9m-0.9 2h.9m-0.4 0h.9m-0.9-0.5h.9m-0.4 0.5h.9m-0.9 0h.9m-0.9-0.5h.9m-0.4 0.5h.9m-0.9 0h.9m-0.9-2h.9m-0.4 0h.9m-0.9 1h.9m-0.9 0.5h.9m-0.4-4h.9m-0.9 4h.9m-0.9 1h.9m-0.9 0h.9m-0.4-2h.9m-0.9 2h.9m-0.4-2.5h.9m-0.9-1.5h.9m-0.9 2.5h.9m-0.4 1.5h.9m-0.4-0.5h.9m-0.9 0.5h.9m0.1-4.5h.9m-0.9 3.5h.9m-0.9-2.5h.9m-0.9 1.5h.9m-0.4 0h.9m-0.4-2h.9m-0.4 3.5h.9m-0.9 0h.9m-0.4-3.5h.9m-0.9 2h.9m-0.4 1h.9m0.1-3h.9m-0.9 2h.9m0.1 2h.9m1.1-2h.9m0.1 1.5h.9m-0.9-4h.9m4.6-0.5h.9m8.1 4h.9m0.6 1h.9m5.1 0h.9m-0.4-2.5h.9m-0.9-0.5h.9m-0.4-3h.9m-0.9 5.5h.9m-0.4-1.5h.9m-0.9 1.5h.9m-0.4 0.5h.9m-0.4-4.5h.9m-0.9 4h.9m-0.4 0.5h.9m-0.9-2.5h.9m-0.9 0.5h.9m-0.9-1h.9m-0.4 3h.9m-0.9-5.5h.9m-0.9 4.5h.9m-0.9-1.5h.9m-0.9 2.5h.9m-0.4-3h.9m-0.4 1.5h.9m-0.4 0h.9m-0.9 1h.9m-0.9-0.5h.9m-0.9 1h.9m-0.9 0h.9m-0.9-2h.9m-0.4 2h.9m0.1-3.5h.9m-0.9 1.5h.9m-0.4 0h.9m-0.9 1h.9m-0.9-1h.9m-0.4 1.5h.9m-0.4 0.5h.9m-0.9 0h.9m-0.9-1.5h.9m-0.9 1.5h.9m-0.4-1h.9m0.1-0.5h.9m-0.4-3h.9m-0.4 3.5h.9m-0.9-3h.9m-0.9-1.5h.9m-0.4 4h.9m0.6 1.5h.9m-0.4-2.5h.9m-0.9-1.5h.9m-0.9 1h.9m-0.4 2.5h.9m0.1 0.5h.9m-0.9-2.5h.9m-0.9 0h.9m-0.4 1.5h.9m-0.4 1h.9m0.1-4.5h.9m0.1 3.5h.9m-0.9-4h.9m0.6 4h.9m0.1-2h.9m-0.9 3h.9m-0.4-2.5h.9m-350.9 5h.9m2.1 3h.9m2.6-0.5h.9m-0.4-0.5h.9m-0.4 1h.9m-0.9 0h.9m-0.9-0.5h.9m-0.9 0.5h.9m-0.9-2.5h.9m-0.4 1.5h.9m-0.9 1h.9m0.1-2.5h.9m-0.9 1h.9m-0.9-3h.9m-0.9 2.5h.9m-0.4 0.5h.9m-0.9 1h.9m0.1-2.5h.9m-0.9 1h.9m-0.4-1h.9m-0.9 2h.9m-0.9 1h.9m-0.9-1h.9m-0.4 0.5h.9m-0.9-1.5h.9m-0.9 1.5h.9m-0.4-1h.9m-0.4 0h.9m-0.9 1.5h.9m-0.9-1.5h.9m-0.9-2.5h.9m-0.9 1.5h.9m-0.4 1.5h.9m-0.9-3.5h.9m-0.9 3h.9m-0.9 1h.9m-0.4 0.5h.9m-0.9-2h.9m-0.9 1.5h.9m-0.4 0h.9m-0.9 0h.9m-0.9 0.5h.9m-0.9-1h.9m-0.9 1h.9m-0.9-3.5h.9m-0.9 3.5h.9m-0.4-1.5h.9m-0.9 1h.9m-0.9 0.5h.9m-0.9-3h.9m-0.4 2h.9m-0.9 0h.9m-0.9-1.5h.9m-0.4-1.5h.9m-0.9 3.5h.9m-0.9-0.5h.9m-0.9-2.5h.9m-0.9 3h.9m-0.9-3h.9m-0.9 3h.9m-0.9 0h.9m-0.4-0.5h.9m-0.9-2h.9m-0.9 2h.9m-0.9 0.5h.9m-0.9-0.5h.9m-0.9 0h.9m-0.9-4h.9m-0.9 4.5h.9m-0.4-1h.9m-0.9 0.5h.9m-0.9-2h.9m-0.9-1.5h.9m-0.9 3.5h.9m-0.9-4h.9m-0.4 2h.9m-0.9 2h.9m-0.9-1h.9m-0.9-3h.9m-0.9 4h.9m-0.9-1.5h.9m-0.9 1h.9m-0.9-3h.9m-0.9 2.5h.9m-0.9 0.5h.9m-0.9-0.5h.9m-0.4-0.5h.9m-0.9 0h.9m-0.9-1h.9m-0.9 1h.9m-0.9-2h.9m-0.9 0h.9m-0.9-0.5h.9m-0.4 1.5h.9m-0.9 1h.9m-0.9 1h.9m-0.9-1.5h.9m-0.9 1.5h.9m-0.4-0.5h.9m-0.9-2.5h.9m-0.9 1.5h.9m-0.9-1h.9m-0.4 2.5h.9m-0.9-2.5h.9m-0.9 2h.9m-0.9 0.5h.9m-0.9-2h.9m-0.9 2h.9m-0.4-1.5h.9m-0.9 1h.9m-0.9 0h.9m-0.9 0.5h.9m-0.9-3.5h.9m-0.4 1h.9m-0.9 0.5h.9m-0.9 0h.9m-0.9 0h.9m-0.4 0.5h.9m-0.9 1h.9m-0.9-1h.9m-0.9 1h.9m-0.4-0.5h.9m-0.9-0.5h.9m-0.9 0.5h.9m-0.9 0.5h.9m-0.9-0.5h.9m-0.9-2h.9m-0.9 2h.9m-0.4 0h.9m-0.9-1.5h.9m-0.9 1.5h.9m-0.9-1.5h.9m-0.9 1.5h.9m-0.9 0.5h.9m-0.9-1h.9m-0.9 0.5h.9m-0.9-0.5h.9m-0.4-0.5h.9m-0.9 1.5h.9m-0.9 0h.9m-0.9-1h.9m-0.9-1h.9m-0.9 0.5h.9m-0.9 1h.9m-0.4-1h.9m-0.9-1.5h.9m-0.9 0h.9m-0.9 1h.9m-0.4 1.5h.9m-0.9-1h.9m-0.9 0h.9m-0.9 0h.9m-0.9 1.5h.9m-0.9-2h.9m-0.9 0.5h.9m-0.9-0.5h.9m-0.4 1h.9m-0.9 1h.9m-0.9 0h.9m-0.9-0.5h.9m-0.4-0.5h.9m-0.9 0.5h.9m-0.9 0h.9m-0.9-1.5h.9m0.1-1h.9m-0.9 2h.9m-0.9 0.5h.9m-0.9-2h.9m-0.9 1.5h.9m-0.4 0.5h.9m-0.9 0h.9m-0.9-0.5h.9m-0.9 0h.9m-0.9 1h.9m-0.9-2h.9m-0.4 1.5h.9m-0.9 0h.9m-0.9-0.5h.9m-0.9-2h.9m-0.9 3h.9m-0.9 0h.9m-0.4-1.5h.9m-0.9 1.5h.9m-0.9-2.5h.9m-0.9 1.5h.9m-0.9-0.5h.9m-0.9-1h.9m-0.9 1h.9m-0.9 1.5h.9m-0.9-0.5h.9m-0.9-2h.9m-0.9 0.5h.9m-0.9 1.5h.9m-0.4-2.5h.9m-0.9 2h.9m-0.9-2h.9m-0.9 2h.9m-0.9 0h.9m-0.9-1h.9m-0.9 1.5h.9m-0.4 1h.9m-0.9-3.5h.9m-0.9 3.5h.9m-0.9-0.5h.9m-0.9-2h.9m-0.9 2h.9m-0.9 0h.9m-0.4 0h.9m-0.9-0.5h.9m-0.9 1h.9m-0.9-3.5h.9m-0.4 1.5h.9m-0.9 2h.9m-0.9-2.5h.9m-0.9 0h.9m-0.9 2.5h.9m-0.9-1.5h.9m-0.9-1h.9m-0.9 0h.9m0.1 2h.9m-0.9-1.5h.9m-0.9 2h.9m-0.9-2h.9m-0.9 1h.9m-0.9 0h.9m-0.9 0h.9m-0.9 0.5h.9m-0.9-3h.9m-0.9 1h.9m-0.9 2h.9m-0.4-1h.9m-0.9 2h.9m-0.9-0.5h.9m-0.4 0.5h.9m-0.9-3.5h.9m-0.4 3.5h.9m-0.9 0h.9m-0.9-2h.9m-0.9 1h.9m-0.9 1h.9m-0.9-1h.9m-0.9 1.5h.9m-0.4-0.5h.9m-0.9-1.5h.9m-0.9 1h.9m-0.9 0h.9m-0.9 0.5h.9m-0.4 0h.9m-0.9 1h.9m-0.9-2h.9m-0.9 1h.9m-0.4 1h.9m-0.9 0h.9m-0.9-1h.9m-0.4-0.5h.9m-0.9-0.5h.9m-0.9 0h.9m-0.9 2h.9m-0.9-4.5h.9m-0.9 4.5h.9m-0.9 0h.9m-0.4 0h.9m-0.9 0h.9m-0.9-1.5h.9m-0.4 1h.9m-0.9 0.5h.9m-0.9-1h.9m-0.9 1h.9m-0.9-1.5h.9m-0.9 0.5h.9m-0.9-1h.9m-0.4 0h.9m-0.9 2h.9m-0.9-3h.9m-0.9 2.5h.9m-0.9-3.5h.9m-0.4 3h.9m-0.9-0.5h.9m-0.9 1.5h.9m-0.9-1h.9m-0.9 1h.9m-0.9-3.5h.9m-0.9-0.5h.9m-0.9 1h.9m-0.4 0h.9m-0.9 1h.9m-0.9 2h.9m-0.4 0h.9m-0.9 0h.9m-0.9-3h.9m0.6 3h.9m-0.4-1.5h.9m-0.9 0h.9m-0.4-1.5h.9m-0.4 2.5h.9m-0.9-4h.9m-0.4 2h.9m-0.9 2h.9m-0.9-0.5h.9m-0.4-3h.9m0.6 4h.9m-0.9-5h.9m-0.4 0h.9m-0.9 2.5h.9m-0.4 2.5h.9m-0.4-2h.9m0.1-0.5h.9m-0.4-1.5h.9m-0.4 3h.9m0.1-0.5h.9m-0.4-2h.9m-0.4 3.5h.9m-0.4 0h.9m-0.9-3h.9m-0.9 0.5h.9m-0.4 2.5h.9m-0.9-3h.9m-0.4 1h.9m-0.4-0.5h.9m0.1 0.5h.9m-0.9-3h.9m0.1 1h.9m2.1 4h.9m-0.4-2.5h.9m-0.4-1h.9m0.1 0h.9m-0.4 1h.9m-0.4 0h.9m-0.4 2h.9m0.1-2.5h.9m0.1 0.5h.9m-0.9 0.5h.9m-0.9-2h.9m0.6 0h.9m-0.9 2.5h.9m-0.4 0h.9m-0.9 1h.9m-0.9-1h.9m-0.9 1h.9m-0.9-2h.9m-0.9 0.5h.9m-0.4 1h.9m-0.9-3h.9m-0.9 3.5h.9m-0.9-1h.9m-0.9-1h.9m-0.4 2h.9m-0.9-2h.9m-0.9-2h.9m-0.4 4.5h.9m-0.9-1.5h.9m-0.9 1.5h.9m-0.9-2h.9m-0.9-1h.9m-0.9-0.5h.9m-0.9 2.5h.9m-0.9-1.5h.9m-0.4 0h.9m-0.9 0.5h.9m-0.4 0.5h.9m-0.9 1.5h.9m-0.9 0h.9m-0.9-1.5h.9m-0.4 1h.9m-0.9 0h.9m-0.9 0h.9m-0.9-0.5h.9m-0.9 0.5h.9m-0.9-2h.9m-0.9 0.5h.9m-0.4-0.5h.9m-0.9-1h.9m-0.9-1h.9m-0.9 1.5h.9m-0.9 1h.9m-0.9-0.5h.9m-0.9-1h.9m-0.4 1.5h.9m-0.9 1h.9m-0.9-2h.9m-0.9-0.5h.9m-0.9 0.5h.9m-0.4 0.5h.9m-0.9-1.5h.9m-0.9-0.5h.9m-0.9 3.5h.9m-0.4-0.5h.9m-0.9-0.5h.9m-0.9 1h.9m-0.9-3h.9m-0.9 2.5h.9m-0.9-0.5h.9m-0.4 0.5h.9m-0.9-0.5h.9m-0.9 0.5h.9m-0.9 0h.9m-0.9-3h.9m-0.9 2h.9m-0.4-2h.9m-0.9 3h.9m-0.9-3h.9m-0.9 1.5h.9m-0.9 1h.9m-0.9-0.5h.9m-0.9 1h.9m-0.9-2.5h.9m-0.4-0.5h.9m-0.9 0h.9m-0.9 3h.9m-0.9-1h.9m-0.4 0.5h.9m-0.9-2h.9m-0.9 2h.9m-0.9-0.5h.9m-0.4 0.5h.9m-0.9 0h.9m-0.9-1h.9m-0.9-0.5h.9m-0.9-0.5h.9m-0.9 0h.9m-0.4-1h.9m-0.9 3h.9m-0.9 0h.9m-0.9-2.5h.9m-0.9-0.5h.9m-0.9 3h.9m-0.4-1h.9m-0.9-1h.9m-0.9 1h.9m-0.9 0h.9m-0.9-1h.9m-0.9 1h.9m-0.9-1h.9m-0.9 0.5h.9m-0.9 1.5h.9m-0.4 0h.9m-0.9-2h.9m-0.9 1.5h.9m-0.9 0.5h.9m-0.9 0h.9m-0.9-1h.9m-0.4 0h.9m-0.9-1h.9m-0.9 1h.9m-0.9-0.5h.9m-0.4 1.5h.9m-0.9-2.5h.9m-0.4 2.5h.9m-0.9-2h.9m-0.9 2h.9m-0.9 0h.9m-0.9-1h.9m-0.9 0.5h.9m-0.9-1.5h.9m-0.4 0.5h.9m-0.9 2h.9m-0.9-1h.9m-0.9 0.5h.9m-0.9-1.5h.9m-0.9 1.5h.9m-0.9-2.5h.9m-0.4 2h.9m-0.4-0.5h.9m-0.9 1h.9m-0.9 1h.9m-0.9-0.5h.9m-0.9-3h.9m-0.9 3h.9m-0.4-1.5h.9m-0.4-1h.9m-0.9 1.5h.9m-0.9 0.5h.9m-0.9 0h.9m-0.9-3h.9m-0.9 1.5h.9m-0.9 2h.9m-0.4-1.5h.9m-0.9 2h.9m-0.9 0h.9m-0.9-0.5h.9m-0.9 0h.9m-0.9 1h.9m-0.9-2.5h.9m-0.9 0.5h.9m-0.9 1.5h.9m-0.4-2h.9m-0.9 1h.9m-0.9 0h.9m-0.9 0h.9m-0.9 1.5h.9m-0.9-1h.9m-0.4-2.5h.9m-0.9 2h.9m-0.9-1h.9m-0.4 3h.9m-0.9 0h.9m-0.9 0h.9m-0.9-1h.9m-0.9 0h.9m-0.9-3.5h.9m-0.9 0h.9m-0.9 3.5h.9m-0.4-3h.9m-0.9 3h.9m-0.9-0.5h.9m-0.4 0h.9m-0.4 1h.9m-0.9 0.5h.9m-0.9-0.5h.9m-0.9 0h.9m-0.9-2h.9m-0.4-1.5h.9m-0.4 1.5h.9m-0.4 0h.9m-0.9 1h.9m-0.9-3.5h.9m-0.9 2.5h.9m-0.9-0.5h.9m-0.4 1.5h.9m-0.4-1.5h.9m-0.4 2.5h.9m-0.4 0.5h.9m0.6-1.5h.9m-0.4-2h.9m-0.9-0.5h.9m0.6 1h.9m48.6 3h.9m1.6-1h.9m0.6-0.5h.9m-0.4-0.5h.9m-0.4-0.5h.9m-0.9 0h.9m-0.4-1h.9m-0.9 2h.9m-0.9 1.5h.9m-0.4-1.5h.9m-0.4 1h.9m-0.9 0.5h.9m-0.4-1h.9m-0.4 1h.9m-0.9-5h.9m-0.9 2.5h.9m-0.9 2.5h.9m-0.4-2.5h.9m-0.9-2h.9m-0.9 1.5h.9m-0.4 3h.9m-0.9 0h.9m-0.9-0.5h.9m-0.9 0h.9m-0.9-2h.9m-0.4 0.5h.9m-0.9 1h.9m-0.9-3h.9m-0.9 2.5h.9m-0.9 0h.9m-0.9-0.5h.9m-0.9 0h.9m-0.4 2h.9m-0.9-1.5h.9m-0.9 1h.9m-0.9 0.5h.9m-0.4-3h.9m-0.9 1h.9m-0.9-0.5h.9m-0.9 1h.9m-0.9 1h.9m-0.9 0h.9m-0.9 0h.9m-0.4 0h.9m-0.9-1h.9m-0.9 0h.9m-0.4-3h.9m-0.9 0.5h.9m-0.9-0.5h.9m-0.9 2.5h.9m-0.9 0.5h.9m-0.9 1h.9m-0.9-1.5h.9m-0.4 0.5h.9m-0.9-0.5h.9m-0.9 0.5h.9m-0.4-2.5h.9m-0.9 0h.9m-0.9 1.5h.9m-0.9 0.5h.9m-0.9 0h.9m-0.9 0.5h.9m-0.4-2.5h.9m-0.9 2h.9m-0.9-0.5h.9m-0.4-1h.9m-0.9 1.5h.9m-0.9-2.5h.9m-0.4 1h.9m-0.9-1.5h.9m-0.9 2h.9m-0.9 0.5h.9m-0.9 0h.9m-0.9 0h.9m-0.4-2.5h.9m-0.9 1.5h.9m-0.9 0.5h.9m-0.9 0.5h.9m-0.9-2.5h.9m-0.9 2h.9m-0.4 0h.9m-0.4-0.5h.9m-0.9 0h.9m-0.4 0h.9m-0.9-0.5h.9m-0.9 0.5h.9m-0.9-0.5h.9m-0.9 0.5h.9m-0.4-1h.9m-0.9 1h.9m-0.9 0h.9m-0.9-0.5h.9m-0.4 0h.9m-0.9 0h.9m-0.9 0h.9m-0.9-1h.9m-0.4 1h.9m-0.9-0.5h.9m-0.9 0h.9m-0.4 0h.9m-0.9 0.5h.9m-0.9-0.5h.9m-0.4 0h.9m-0.9 0h.9m-0.4-0.5h.9m-0.9 0h.9m-0.9 0h.9m-0.9 0h.9m-0.9 0h.9m-0.4 0h.9m-0.9 0.5h.9m-0.4 0h.9m-0.9-0.5h.9m-0.9 0.5h.9m-0.4-0.5h.9m-0.9 0.5h.9m-0.9 0h.9m-0.9 0h.9m0.1-0.5h.9m0.1 0h.9m-0.9 0h.9m-0.4 0h.9m-0.4 0h.9m-0.4 0.5h.9m-0.9-0.5h.9m-0.9 0h.9m-0.9 0h.9m-0.9 0h.9m-0.4 0h.9m-0.9 0h.9m-0.4 0.5h.9m-0.9 0h.9m-0.9-0.5h.9m-0.9 0h.9m-0.9 0h.9m0.1 0h.9m-0.9 0.5h.9m-0.9-0.5h.9m-0.9 0.5h.9m-0.4-0.5h.9m-0.9 0.5h.9m-0.9 0h.9m-0.4 0h.9m-0.9 0h.9m-0.9 0.5h.9m-0.4-0.5h.9m-0.9 0.5h.9m-0.9-0.5h.9m-0.9-0.5h.9m-0.9 1h.9m-0.9-0.5h.9m-0.4-0.5h.9m-0.9 0h.9m-0.9 1h.9m-0.9-0.5h.9m-0.9 0h.9m-0.9 0h.9m-0.9 0.5h.9m-0.4 0h.9m-0.9 0h.9m-0.9 0h.9m-0.9-1h.9m-0.9 1h.9m-0.4 0h.9m-0.9-0.5h.9m-0.9 0.5h.9m-0.9-1h.9m-0.9 1h.9m-0.9-0.5h.9m-0.4 0.5h.9m-0.9 0.5h.9m-0.9 0h.9m-0.4 0.5h.9m-0.9 0h.9m-0.9 0h.9m-0.4-1.5h.9m-0.9 2h.9m-0.9-2h.9m-0.9 2h.9m-0.4 0h.9m-0.9-2.5h.9m-0.9 2h.9m-0.9-0.5h.9m-0.9-0.5h.9m-0.9 0h.9m-0.9 1h.9m-0.4 1h.9m-0.9 0h.9m-0.9-0.5h.9m-0.9-1.5h.9m-0.9 1h.9m-0.9 0.5h.9m-0.4-2.5h.9m-0.9 2.5h.9m-0.9 0.5h.9m-0.9 0h.9m-0.9 0.5h.9m-0.9-1.5h.9m-0.9-1h.9m-0.9 2.5h.9m-0.9-1h.9m-0.9-0.5h.9m-0.4 2h.9m-0.9-0.5h.9m-0.9 0.5h.9m-0.9-0.5h.9m-0.9-3h.9m-0.9 0.5h.9m-0.9 1.5h.9m-0.9-2h.9m-0.9 3h.9m-0.4 0h.9m-0.9-2h.9m-0.9 2h.9m-0.9-3.5h.9m-0.9 4h.9m-0.9-2h.9m-0.9 0h.9m-0.9 0h.9m-0.9 2h.9m-0.9 0h.9m-0.9-2.5h.9m-0.9-0.5h.9m-0.9 0.5h.9m-0.4 2.5h.9m-0.9-2.5h.9m-0.9 3h.9m-0.9-1.5h.9m-0.9 0h.9m-0.9-0.5h.9m-0.9-0.5h.9m-0.9 2h.9m-0.9-1h.9m-0.4 1h.9m-0.9 0.5h.9m-0.9-1h.9m-0.9 0.5h.9m-0.9 0h.9m-0.9 1h.9m-0.9-1h.9m-0.9-0.5h.9m-0.9-2.5h.9m-0.4 3h.9m-0.9 1h.9m-0.9-1.5h.9m-0.9 0.5h.9m-0.9 1h.9m-0.4-0.5h.9m-0.9-1h.9m-0.9 1.5h.9m-0.9 0h.9m-0.9-3h.9m-0.9 1.5h.9m-0.9 0.5h.9m-0.9-1h.9m-0.9 0.5h.9m-0.9 1.5h.9m-0.4-4h.9m-0.9 4h.9m-0.9-3.5h.9m-0.9 3h.9m-0.4-1.5h.9m-0.9 0.5h.9m-0.4-3.5h.9m-0.9 2.5h.9m-0.9 2h.9m-0.9 0.5h.9m-0.4 0h.9m-0.9-2.5h.9m-0.9 2.5h.9m-0.4-4h.9m-0.4 3.5h.9m-0.9-0.5h.9m-0.4-2.5h.9m-0.4-0.5h.9m-0.9 3.5h.9m-0.4-4.5h.9m-0.4 1h.9m-0.4 4h.9m-0.9 0h.9m-0.4-4.5h.9m-0.9 4h.9m-0.9-1h.9m0.1 1.5h.9m-0.4-0.5h.9m-0.4 0.5h.9m-0.4-3.5h.9m-0.9 2.5h.9m-0.9 0h.9m-0.9 0.5h.9m-0.4-3.5h.9m0.6 2.5h.9m-0.4-0.5h.9m-0.9-0.5h.9m7.6-1.5h.9m0.6 2h.9m-0.4 0.5h.9m-0.9-2h.9m-0.4 1.5h.9m-0.4 1.5h.9m-0.9-0.5h.9m-0.9 1h.9m-0.4 0h.9m-0.4 0h.9m-0.9-3.5h.9m-0.4 1.5h.9m-0.9 1h.9m-0.4-1.5h.9m-0.9-1.5h.9m-0.9 2.5h.9m-0.4-1.5h.9m-0.9 3h.9m-0.9 0h.9m-0.9 0h.9m-0.9-0.5h.9m-0.4 0.5h.9m-0.9-4.5h.9m-0.9 4.5h.9m-0.4-1h.9m-0.9 1h.9m-0.9-4.5h.9m-0.4 4h.9m-0.9-4.5h.9m-0.9 4h.9m-0.9 0.5h.9m-0.9-1h.9m-0.4 1.5h.9m-0.9-0.5h.9m-0.9-2h.9m-0.9 0h.9m-0.9 2h.9m-0.9-2.5h.9m-0.4 2h.9m-0.9 0.5h.9m-0.9-3.5h.9m-0.9 2.5h.9m-0.9 1h.9m-0.9-2.5h.9m-0.9 2.5h.9m-0.4-3h.9m-0.9 0.5h.9m-0.9-1h.9m-0.9 3h.9m-0.9-1.5h.9m-0.4 1h.9m-0.9 0h.9m-0.9 0.5h.9m-0.4-2h.9m-0.9-1.5h.9m-0.9 3h.9m-0.9-1h.9m-0.9-0.5h.9m-0.4 1h.9m-0.9-1.5h.9m-0.9 1h.9m-0.9 0h.9m-0.4-1h.9m-0.9 1h.9m-0.9 0.5h.9m-0.9-2h.9m-0.9 2h.9m-0.9 0h.9m-0.9-1.5h.9m-0.9 0.5h.9m-0.4 0.5h.9m-0.9 0h.9m-0.9 0.5h.9m-0.9-0.5h.9m-0.9-0.5h.9m-0.9-0.5h.9m-0.9 1.5h.9m-0.4-1h.9m-0.9 1h.9m-0.9 0h.9m-0.9-1.5h.9m-0.4-0.5h.9m-0.9 1h.9m-0.9 1h.9m-0.4-1.5h.9m-0.9-1h.9m-0.9 1.5h.9m-0.9-0.5h.9m-0.9-1.5h.9m-0.9 2.5h.9m-0.4-1h.9m-0.9 0h.9m-0.9-1.5h.9m-0.4 2h.9m-0.9 0.5h.9m-0.9-0.5h.9m-0.9 0.5h.9m-0.9-1h.9m-0.9-0.5h.9m-0.9 1h.9m-0.4 0.5h.9m-0.9-1h.9m-0.9-1h.9m-0.4 2h.9m-0.9 0h.9m-0.9-0.5h.9m-0.9-1.5h.9m-0.9-0.5h.9m-0.9 1.5h.9m-0.9 1h.9m-0.4-0.5h.9m-0.9-0.5h.9m-0.4 1h.9m-0.9-0.5h.9m-0.9 0.5h.9m-0.9 0h.9m-0.4 0h.9m-0.9 0.5h.9m-0.9-1.5h.9m-0.9 1.5h.9m-0.4-3h.9m-0.9 2.5h.9m-0.9 0.5h.9m-0.9-2h.9m-0.4 1h.9m-0.9 1h.9m-0.9 0h.9m-0.4 0h.9m-0.9-1h.9m-0.4 0.5h.9m-0.9-0.5h.9m-0.9 0h.9m-0.9-0.5h.9m-0.9-0.5h.9m-0.4 1.5h.9m-0.9 0.5h.9m-0.9-1h.9m-0.9 0.5h.9m-0.9 0h.9m-0.4 1h.9m-0.9-0.5h.9m-0.9 0.5h.9m-0.4 0.5h.9m-0.9-0.5h.9m-0.4-3.5h.9m-0.9 3.5h.9m-0.9 0h.9m-0.9-1h.9m-0.9 2h.9m-0.9-1h.9m-0.4-0.5h.9m-0.9 2h.9m-0.9-1h.9m-0.9 0.5h.9m-0.4-0.5h.9m-0.9 1h.9m-0.9-0.5h.9m-0.9-3h.9m-0.9 2.5h.9m-0.9 0h.9m-0.9 1h.9m-0.9-2h.9m-0.9-0.5h.9m-0.9 2h.9m-0.9-4h.9m-0.4 4h.9m-0.9-1.5h.9m-0.9-1h.9m-0.9 1.5h.9m-0.9-3.5h.9m-0.9 2.5h.9m-0.9 1h.9m-0.9 0.5h.9m-0.4 1h.9m-0.9-0.5h.9m-0.4-1h.9m-0.9 0.5h.9m-0.9-1.5h.9m-0.9 2.5h.9m-0.4-4.5h.9m-0.9 0.5h.9m-0.4 1h.9m-0.9 2h.9m-0.9-1h.9m-0.4 0.5h.9m-0.4 1h.9m-0.4 0.5h.9m-0.9 0h.9m-0.4-0.5h.9m-0.9-4h.9m-0.9 0h.9m1.6 0h.9m5.6 1h.9m43.1 3.5h.9m0.6-2h.9m0.1-1h.9m0.6 2h.9m-0.4 0.5h.9m-0.4-3.5h.9m-0.4 2.5h.9m-0.4 1h.9m-0.9-2h.9m-0.4 1.5h.9m-0.4-0.5h.9m-0.9 1.5h.9m-0.9-1.5h.9m-0.9-0.5h.9m-0.9 2h.9m-0.4-0.5h.9m-0.9 0h.9m-0.9-3.5h.9m-0.9 2h.9m-0.4 0.5h.9m-0.9 0.5h.9m-0.9 1h.9m-0.9-4.5h.9m-0.9 4h.9m-0.4-1.5h.9m-0.9-1h.9m-0.9 3h.9m-0.9-5h.9m-0.9 2h.9m-0.9 0h.9m-0.9-1h.9m-0.9 4h.9m-0.4 0h.9m-0.9-1h.9m-0.9 0.5h.9m-0.4-1h.9m-0.9 1h.9m-0.9-3h.9m-0.9 2h.9m-0.9-2.5h.9m-0.9 2.5h.9m-0.9 0.5h.9m-0.9 1h.9m-0.9 0h.9m-0.4-4h.9m-0.9-0.5h.9m-0.9 1h.9m-0.9 1.5h.9m-0.9-3h.9m-0.4 4h.9m-0.9-3h.9m-0.9 2.5h.9m-0.9 0.5h.9m-0.9-1h.9m-0.9 1h.9m-0.9-1.5h.9m-0.9 1.5h.9m-0.9-1.5h.9m-0.9 0h.9m-0.4 0.5h.9m-0.9-1.5h.9m-0.9-0.5h.9m-0.9 0.5h.9m-0.9 0.5h.9m-0.9 0.5h.9m-0.4 0h.9m-0.9 0h.9m-0.9 0h.9m-0.9 0h.9m-0.9 0.5h.9m-0.9-3h.9m-0.9 3.5h.9m-0.9-2h.9m-0.4-1h.9m-0.9 1h.9m-0.9-0.5h.9m-0.9-0.5h.9m-0.4 1.5h.9m-0.9-0.5h.9m-0.9 0h.9m-0.9-0.5h.9m-0.9 0h.9m-0.9 0.5h.9m-0.9-1h.9m-0.4 2h.9m-0.9-1h.9m-0.4-1h.9m-0.9 0h.9m-0.9 1h.9m-0.9-0.5h.9m-0.9 0.5h.9m-0.9 0h.9m-0.9-0.5h.9m-0.4 0.5h.9m-0.9 0.5h.9m-0.9-2h.9m-0.4 1h.9m-0.9 0.5h.9m-0.4-0.5h.9m-0.9-1h.9m-0.9 1h.9m-0.4-1h.9m-0.9 0.5h.9m-0.9 0.5h.9m-0.4-1h.9m-0.9 0h.9m-0.9 1h.9m-0.4-1h.9m-0.9 0.5h.9m-0.9-0.5h.9m-0.9 0h.9m-0.4 0h.9m-0.9 0.5h.9m-0.9-0.5h.9m0.6 0h.9m-0.9 0h.9m-0.9 0h.9m-0.9 0h.9m5.6 0h.9m-0.4 0h.9m-0.4 0h.9m-0.4 0h.9m-0.4 0.5h.9m-0.9-0.5h.9m-0.9 0h.9m-0.4 0h.9m-0.9 0h.9m-0.9 0.5h.9m-0.4-0.5h.9m-0.4 0h.9m-0.9 1h.9m-0.9-1h.9m-0.9 0h.9m-0.4 0.5h.9m-0.9-0.5h.9m-0.4 1h.9m-0.4 0.5h.9m-0.9-1h.9m-0.9 0h.9m-0.9 0h.9m-0.9 1h.9m-0.4 0h.9m-0.9-0.5h.9m-0.9 0h.9m-0.4 0h.9m-0.9 1h.9m-0.9-1.5h.9m-0.9 1.5h.9m-0.9-2h.9m-0.4 1.5h.9m-0.9-0.5h.9m-0.9 1h.9m-0.9-1.5h.9m-0.9 1.5h.9m-0.4 0h.9m-0.9-1h.9m-0.9 1.5h.9m-0.9-2h.9m-0.9 2h.9m-0.9-1h.9m-0.9 1h.9m-0.9-0.5h.9m-0.9 1h.9m-0.9-2h.9m-0.9 0.5h.9m-0.9 0.5h.9m-0.9-1h.9m-0.4 1h.9m-0.9-0.5h.9m-0.9 1.5h.9m-0.9-1h.9m-0.9-1h.9m-0.4 2h.9m-0.9-3h.9m-0.9 2.5h.9m-0.9 0.5h.9m-0.9-1.5h.9m-0.9 1.5h.9m-0.4 1h.9m-0.9 0h.9m-0.9 0h.9m-0.4 0h.9m-0.9 0h.9m-0.9-1.5h.9m-0.9 1.5h.9m-0.9-1h.9m-0.9-1h.9m-0.9 2h.9m-0.9-4h.9m-0.4 4h.9m-0.9-2h.9m-0.9-0.5h.9m-0.9 2.5h.9m-0.9 1h.9m-0.9-1.5h.9m-0.9-0.5h.9m-0.9 2h.9m-0.9 0h.9m-0.9 0h.9m-0.9-0.5h.9m-0.9-3h.9m-0.4-0.5h.9m-0.9 3.5h.9m-0.9-4.5h.9m-0.9 4.5h.9m-0.9-1h.9m-0.4 1.5h.9m-0.9-1.5h.9m-0.9-3.5h.9m-0.9 1h.9m-0.9 1.5h.9m-0.9 2.5h.9m-0.4-4.5h.9m-0.9 2h.9m-0.9-1.5h.9m-0.9 2.5h.9m-0.9 0h.9m-0.4-1.5h.9m-0.9 3h.9m-0.9-4.5h.9m-0.4 4.5h.9m-0.9-3h.9m-0.9 2.5h.9m-0.9 0h.9m-0.9-2.5h.9m-0.9 3h.9m-0.4 0h.9m-0.4-2.5h.9m-0.9 2.5h.9m-0.9-1.5h.9m-0.4 1h.9m-0.9-3.5h.9m-0.9 2h.9m0.1 1h.9m-0.4-2.5h.9m-0.9-0.5h.9m-0.9 3.5h.9m-0.4-2h.9m0.1-1.5h.9m0.1 2.5h.9m-0.9 1h.9m0.1-1h.9m-0.9-1h.9m-0.4 2.5h.9m-0.4-3.5h.9m-0.4 2.5h.9m0.6-2.5h.9m-0.9-1h.9m-0.4 2.5h.9m-0.4-1.5h.9m2.6 1.5h.9m-0.9 0h.9m-0.4-2h.9m2.1 1h.9m-0.9 1.5h.9m0.1 0.5h.9m-0.9-2h.9m-0.9-2h.9m-0.4 2.5h.9m-0.9 1.5h.9m-0.4-1h.9m-0.9 2h.9m0.1 0h.9m-0.4-3h.9m-0.9 3h.9m-0.9-2.5h.9m-0.4 0.5h.9m-0.9-0.5h.9m-0.4 2h.9m-0.9 0.5h.9m-0.4-1h.9m-0.9 1h.9m-0.4-2h.9m-0.9 2h.9m-0.4-1.5h.9m-0.9-1.5h.9m-0.9 1h.9m-0.9-0.5h.9m-0.9 2h.9m-0.9 0h.9m-0.9-2.5h.9m-0.9-1h.9m-0.4 1h.9m-0.9 2.5h.9m-0.9-1h.9m-0.9 0.5h.9m-0.9-1h.9m-0.9-0.5h.9m-0.4 0h.9m-0.9 0h.9m-0.9 0.5h.9m-0.9 0.5h.9m-0.9-1h.9m-0.9 1h.9m-0.9 1h.9m-0.9-4.5h.9m-0.4 1h.9m-0.9 1h.9m-0.4 1.5h.9m-0.9-3h.9m-0.9 3h.9m-0.9-0.5h.9m-0.9 0.5h.9m-0.9-3.5h.9m-0.9 3.5h.9m-0.4-1h.9m-0.9 0.5h.9m-0.9-3h.9m-0.9 3.5h.9m-0.9-1.5h.9m-0.9-2h.9m-0.9 1h.9m-0.9-1h.9m-0.9 2h.9m-0.4 0.5h.9m-0.9 0h.9m-0.9-2h.9m-0.9 2.5h.9m-0.4-0.5h.9m-0.9-0.5h.9m-0.4 0h.9m-0.9-1.5h.9m-0.9 2h.9m-0.9-2h.9m-0.9 0h.9m0.1 1.5h.9m-0.9 0h.9m-0.9-1h.9m-0.9-1h.9m-0.9 0h.9m-0.9 0.5h.9m-0.9 0h.9m-0.4 1h.9m-0.9-1.5h.9m-0.9 1.5h.9m-0.9 0h.9m-0.9-0.5h.9m-0.4 0h.9m-0.9 0h.9m-0.4 0.5h.9m-0.9 0h.9m-0.4-0.5h.9m-0.9-1h.9m-0.9 1h.9m-0.4-1h.9m-0.9 1h.9m-0.9 0h.9m-0.9-1h.9m-0.9 1.5h.9m-0.4-1.5h.9m-0.9 1.5h.9m-0.9-0.5h.9m-0.9 0h.9m-0.4-1h.9m-0.9 0.5h.9m-0.9 0h.9m-0.9-0.5h.9m-0.4 0.5h.9m-0.9-0.5h.9m-0.9 0.5h.9m-0.9-0.5h.9m-0.9 1h.9m-0.4-1h.9m-0.9 0.5h.9m-0.9 0.5h.9m-0.9-0.5h.9m-0.9 0.5h.9m-0.4-1h.9m-0.9 0.5h.9m-0.9 0.5h.9m-0.9 0h.9m-0.9-0.5h.9m-0.9 0.5h.9m-0.4-1h.9m-0.9 0.5h.9m-0.9-0.5h.9m-0.4 0h.9m-0.9 0h.9m-0.9 0.5h.9m-0.4 1h.9m-0.9-0.5h.9m-0.4 0h.9m-0.9 0h.9m-0.9 0.5h.9m-0.9 0h.9m-0.9-1h.9m-0.4-0.5h.9m-0.9 1.5h.9m-0.9 0h.9m-0.9-1h.9m-0.9 1h.9m0.1-1h.9m-0.9 1.5h.9m-0.9-2h.9m-0.9 1.5h.9m-0.9-1h.9m-0.9 0h.9m-0.9 1.5h.9m-0.9-0.5h.9m-0.9 0.5h.9m-0.9-2h.9m-0.4 0.5h.9m-0.9 1h.9m-0.9 0h.9m-0.9-1.5h.9m-0.9 2h.9m-0.4-0.5h.9m-0.9 0h.9m-0.9 0.5h.9m-0.9-0.5h.9m-0.4 0h.9m-0.9 1.5h.9m-0.9-1.5h.9m-0.9 1h.9m-0.9-1h.9m-0.4 2h.9m-0.9-0.5h.9m-0.9 0h.9m-0.9 0h.9m-0.9-3h.9m-0.9 2.5h.9m-0.9 1h.9m-0.9-2h.9m-0.9 1h.9m-0.4 1.5h.9m-0.9-0.5h.9m-0.9-2.5h.9m-0.9 3.5h.9m-0.9-1h.9m-0.9-2h.9m-0.9 2.5h.9m-0.4 0h.9m-0.9-1h.9m-0.9-0.5h.9m-0.9 2.5h.9m-0.9-0.5h.9m-0.9-0.5h.9m-0.9 0h.9m-0.9-2.5h.9m-0.9-1.5h.9m-0.9 4h.9m-0.9 1h.9m-0.4 0h.9m-0.9-2.5h.9m-0.9 0.5h.9m-0.9 0.5h.9m-0.9-1.5h.9m-0.9-1.5h.9m-0.9 3h.9m-0.9-3h.9m-0.9 2h.9m-0.4 1h.9m-0.9-0.5h.9m-0.9 0.5h.9m-0.9 1.5h.9m-0.9 0h.9m-0.9-0.5h.9m-0.9 0.5h.9m-0.4-3.5h.9m-0.9 1.5h.9m-0.9 1.5h.9m-0.9-3h.9m-0.9 2h.9m-0.9-2.5h.9m-0.4 2h.9m-0.9-3h.9m-0.9 3.5h.9m-0.9 0.5h.9m-0.4 0.5h.9m-0.9-4.5h.9m-0.9 4.5h.9m-0.9-4.5h.9m-0.9 2.5h.9m-0.9-1.5h.9m0.1-1h.9m-0.9 4.5h.9m-0.9 0.5h.9m-0.4-1.5h.9m0.1 0.5h.9m1.1-0.5h.9m1.6-1h.9m3.6 0.5h.9m-363.4 5h.9m0.1 3h.9m3.1-1.5h.9m0.1-4h.9m-0.4 0.5h.9m0.6 5h.9m1.1 0.5h.9m-0.4-0.5h.9m-0.9-2.5h.9m-0.9 2.5h.9m-0.4-4.5h.9m-0.9 2.5h.9m-0.9 2h.9m-0.9-0.5h.9m-0.9 0h.9m-0.9-1.5h.9m-0.9-0.5h.9m-0.4 2h.9m-0.9 1h.9m-0.9-0.5h.9m-0.9 0h.9m-0.4-2.5h.9m-0.9 1.5h.9m-0.9-1h.9m-0.9-1h.9m-0.9-0.5h.9m-0.9 2h.9m-0.9 2h.9m-0.9-1h.9m-0.4 1h.9m-0.9 0h.9m-0.9-2h.9m-0.9 1h.9m-0.9 1h.9m-0.9-3.5h.9m-0.9 2.5h.9m-0.9-1.5h.9m-0.9 0.5h.9m-0.9 2h.9m-0.9-1h.9m-0.9-4.5h.9m-0.9 3h.9m-0.9 0.5h.9m-0.9 1.5h.9m-0.4 0.5h.9m-0.9-2h.9m-0.9-1h.9m-0.9 2h.9m-0.9 0h.9m-0.9 0h.9m-0.9-2.5h.9m-0.4 0.5h.9m-0.9-1h.9m-0.9-2h.9m-0.9 1h.9m-0.9 1h.9m-0.9 2h.9m-0.9 0h.9m-0.9-0.5h.9m-0.4-1h.9m-0.9 0h.9m-0.9-0.5h.9m-0.9 1.5h.9m-0.9 0.5h.9m-0.9-2.5h.9m-0.9 1h.9m-0.9 1.5h.9m-0.9-0.5h.9m-0.9 0h.9m-0.4-0.5h.9m-0.9 0h.9m-0.9-1h.9m-0.9 1h.9m-0.9-1h.9m-0.9 1.5h.9m-0.9-0.5h.9m-0.9-2h.9m-0.9-1h.9m-0.9 0.5h.9m-0.9 0h.9m-0.4 1.5h.9m-0.9 1h.9m-0.9-1h.9m-0.9 1h.9m-0.9-0.5h.9m-0.9-0.5h.9m-0.9 0.5h.9m-0.9-1.5h.9m-0.4 1h.9m-0.9-1h.9m-0.9 0.5h.9m-0.4 0.5h.9m-0.9-1.5h.9m-0.4 0h.9m-0.9 0h.9m-0.9 0.5h.9m-0.9 0h.9m-0.4 0h.9m-0.9 0h.9m-0.9 0h.9m-0.9-0.5h.9m-0.9 0.5h.9m-0.9-1h.9m-0.9 1h.9m-0.9 0h.9m-0.9 0h.9m-0.4-1h.9m-0.4 0.5h.9m-0.9 0h.9m-0.9 0h.9m-0.4-0.5h.9m-0.9 0h.9m-0.9 0h.9m-0.9 0h.9m18.1 0h.9m-0.4 0.5h.9m-0.9-0.5h.9m-0.4 0.5h.9m-0.9 0.5h.9m-0.9-0.5h.9m-0.9 0.5h.9m-0.9-1h.9m-0.4 1h.9m-0.9-0.5h.9m-0.9 0h.9m-0.9 0.5h.9m-0.9 0h.9m-0.4 0h.9m-0.9 0.5h.9m-0.9-1h.9m-0.9 1h.9m-0.9-1h.9m-0.4 0h.9m-0.9 1.5h.9m-0.9-1h.9m-0.4 1h.9m-0.9 0.5h.9m-0.9 0h.9m-0.9-1.5h.9m-0.9-1h.9m-0.9 2.5h.9m-0.4 0h.9m-0.9-1.5h.9m-0.9 1h.9m-0.9 0.5h.9m-0.9 0h.9m-0.9 0.5h.9m-0.9-0.5h.9m-0.9 0h.9m-0.9 0.5h.9m-0.9-0.5h.9m-0.9-1.5h.9m-0.4 2.5h.9m-0.9-1.5h.9m-0.9 1h.9m-0.9-0.5h.9m-0.9 1.5h.9m-0.9-1.5h.9m-0.4-0.5h.9m-0.9 2h.9m-0.9-1.5h.9m-0.9 2h.9m-0.9-1.5h.9m-0.9 1h.9m-0.9 0.5h.9m-0.9-4.5h.9m-0.9 0h.9m-0.9 4.5h.9m-0.9-0.5h.9m-0.9-2.5h.9m-0.9-0.5h.9m-0.9 1.5h.9m-0.4 1h.9m-0.9 2h.9m-0.9 0h.9m-0.9-0.5h.9m-0.9-2.5h.9m-0.9 0h.9m-0.9 2h.9m-0.4-3.5h.9m-0.9 3.5h.9m-0.9 0.5h.9m-0.9-1.5h.9m-0.9 2h.9m-0.9-1.5h.9m-0.9-2h.9m-0.9 4h.9m-0.4-1h.9m-0.9 1h.9m-0.9-2.5h.9m-0.9 2.5h.9m-0.9-6h.9m-0.9 6h.9m-0.9-1.5h.9m-0.9-2.5h.9m-0.9 2h.9m-0.9 0.5h.9m-0.9-4.5h.9m-0.9 3.5h.9m-0.9 0h.9m-0.4-1h.9m-0.9-1.5h.9m-0.9 3.5h.9m-0.9-0.5h.9m-0.9 1h.9m-0.9-0.5h.9m-0.9 1.5h.9m-0.9-2.5h.9m-0.9 2.5h.9m-0.9-3h.9m-0.4 3h.9m-0.9-5h.9m-0.9 4.5h.9m-0.9-3h.9m-0.9 2h.9m-0.4 1.5h.9m-0.9-0.5h.9m-0.9 0h.9m-0.9 0h.9m-0.9 0h.9m-0.9 0h.9m-0.9 0.5h.9m-0.9 0h.9m-0.4-6h.9m-0.9 3.5h.9m-0.9 0.5h.9m-0.4-0.5h.9m-0.9 2h.9m-0.9 0.5h.9m-0.4-3h.9m-0.4-1.5h.9m-0.9 1.5h.9m-0.9 0h.9m-0.9 2h.9m-0.4-0.5h.9m-0.4 0h.9m-0.4-3h.9m-0.9 3h.9m-0.4-2.5h.9m-0.9-0.5h.9m-0.9 3.5h.9m-0.4-1.5h.9m-0.9 2h.9m-0.9-4h.9m-0.9 1.5h.9m-0.9 0.5h.9m-0.4-1h.9m-0.4-2h.9m-0.4 2h.9m-0.9 3.5h.9m-0.4-2h.9m-0.9 1h.9m-0.4-1h.9m-0.4 0h.9m-0.9 0.5h.9m-0.4-3.5h.9m-0.9-1h.9m0.1 2.5h.9m-0.9-1h.9m-0.9 3.5h.9m-0.9 0h.9m-0.4-1.5h.9m-0.9-1h.9m-0.4 2h.9m-0.9-1.5h.9m-0.4 2.5h.9m-0.9 0h.9m-0.4-5.5h.9m-0.9 1.5h.9m0.1 3.5h.9m-0.4-0.5h.9m-0.4-1.5h.9m-0.9-1h.9m-0.4-1.5h.9m0.1 1.5h.9m-0.4 0h.9m-0.4 0h.9m-0.4 2h.9m-0.9-0.5h.9m-0.9-2h.9m-0.9-0.5h.9m-0.4 2.5h.9m-0.9 0h.9m-0.9-2h.9m-0.9 1h.9m-0.9 2h.9m-0.4 1.5h.9m-0.9-4.5h.9m-0.9 4h.9m-0.9-0.5h.9m-0.9 1h.9m-0.9-1.5h.9m-0.4 0h.9m-0.9-4h.9m-0.9 4.5h.9m-0.9-1h.9m-0.9 0.5h.9m-0.9 1.5h.9m-0.9-0.5h.9m-0.9 0.5h.9m-0.4-2.5h.9m-0.9-3h.9m-0.9 4.5h.9m-0.9 0.5h.9m-0.9-1h.9m-0.9-1.5h.9m-0.9 2h.9m-0.9-4h.9m-0.9 0h.9m-0.9 4.5h.9m-0.9-1.5h.9m-0.4 0h.9m-0.9-1.5h.9m-0.9 2.5h.9m-0.4-1h.9m-0.9-0.5h.9m-0.9-1.5h.9m-0.9 2h.9m-0.9-1h.9m-0.9 0.5h.9m-0.9 0.5h.9m-0.9-0.5h.9m-0.4-2h.9m-0.9 2h.9m-0.9-1h.9m-0.9-1.5h.9m-0.9 0.5h.9m-0.9 0h.9m-0.9-1.5h.9m-0.9 0h.9m-0.4 3h.9m-0.9-3h.9m-0.9 0.5h.9m-0.9 0h.9m-0.9 0h.9m-0.9 2h.9m-0.9-0.5h.9m-0.4 0h.9m-0.9 0h.9m-0.9 0.5h.9m-0.4-1h.9m-0.9-1.5h.9m-0.9 2h.9m-0.9-2h.9m-0.4 1h.9m-0.9 0.5h.9m-0.9-0.5h.9m-0.4-0.5h.9m-0.9-0.5h.9m-0.4 0.5h.9m-0.9 0h.9m-0.4-0.5h.9m12.1 0.5h.9m-0.9-0.5h.9m-0.4 0.5h.9m-0.9 0h.9m-0.9 0h.9m-0.9 0h.9m-0.9 0.5h.9m-0.9-1h.9m-0.9 1h.9m-0.9 0h.9m-0.4 0.5h.9m-0.9 0h.9m-0.9 0h.9m-0.4 1h.9m-0.9-1.5h.9m-0.9 2h.9m-0.9-2h.9m-0.9 0.5h.9m-0.9 1.5h.9m-0.9-1.5h.9m-0.4-0.5h.9m-0.9 0.5h.9m-0.9-0.5h.9m-0.9 0.5h.9m-0.9 1.5h.9m-0.9-2h.9m-0.9 1h.9m-0.4 3h.9m-0.9-1.5h.9m-0.9 1h.9m-0.9-2h.9m-0.9-0.5h.9m-0.9-1h.9m-0.9 2h.9m-0.9-2.5h.9m-0.9 3.5h.9m-0.9 2h.9m-0.9-0.5h.9m-0.4 0h.9m-0.9-3h.9m-0.9 1.5h.9m-0.9 2h.9m-0.9-1h.9m-0.9-2h.9m-0.9 3h.9m-0.9-2h.9m-0.9-3.5h.9m-0.9 5h.9m-0.9 0h.9m-0.9-0.5h.9m-0.9-0.5h.9m-0.9-1h.9m-0.4 2.5h.9m-0.9-2h.9m-0.9 1.5h.9m-0.9-3.5h.9m-0.9-1.5h.9m-0.9 5.5h.9m-0.9 0h.9m-0.9-2h.9m-0.4-2.5h.9m-0.9 3h.9m-0.9-4.5h.9m-0.4 5.5h.9m-0.9-0.5h.9m-0.9-3.5h.9m-0.9 1h.9m-0.9 1h.9m-0.4 0h.9m-0.9 2h.9m0.1 0.5h.9m-0.9-2h.9m-0.9 1.5h.9m-0.9-0.5h.9m-0.9 0.5h.9m0.1-2h.9m-0.4-3.5h.9m-0.9 4.5h.9m-0.9-1h.9m0.1-1.5h.9m-0.9 3.5h.9m0.1 0.5h.9m0.1-2.5h.9m43.6-3.5h.9m-0.9 4h.9m0.1-1.5h.9m0.6-1.5h.9m0.6 3h.9m-0.9-2h.9m-0.9 4h.9m-0.4-3h.9m-0.4 0h.9m-0.9-1h.9m-0.4 2h.9m-0.9-2h.9m-0.9 0.5h.9m-0.9 0.5h.9m-0.9 2h.9m-0.4-3h.9m-0.9 4h.9m-0.4-1h.9m-0.9-1h.9m-0.9-3h.9m-0.4 4h.9m-0.9 0.5h.9m-0.9 0h.9m-0.9-1.5h.9m-0.9 0.5h.9m-0.9-0.5h.9m-0.4 1h.9m-0.9-0.5h.9m-0.9-0.5h.9m-0.9-3h.9m-0.9 1.5h.9m-0.4 1.5h.9m-0.9 1h.9m-0.9-0.5h.9m-0.9 0h.9m-0.9-1.5h.9m-0.9-1h.9m-0.9-1.5h.9m-0.9 1.5h.9m-0.4 4h.9m-0.9-1.5h.9m-0.9-3.5h.9m-0.9-0.5h.9m-0.9 2h.9m-0.9-1h.9m-0.9 3h.9m-0.9-2.5h.9m-0.9-1h.9m-0.9 2.5h.9m-0.4-1h.9m-0.9 2.5h.9m-0.9-2.5h.9m-0.9 1.5h.9m-0.9 1.5h.9m-0.9-1h.9m-0.4-0.5h.9m-0.9-1h.9m-0.9-0.5h.9m-0.9 2h.9m-0.9-2h.9m-0.9-1.5h.9m-0.9 0.5h.9m-0.9-0.5h.9m-0.9 1h.9m-0.4 0h.9m-0.9 0h.9m-0.9 0h.9m-0.9 1.5h.9m-0.4-0.5h.9m-0.9-2h.9m-0.9 1.5h.9m-0.9-2.5h.9m-0.9 1.5h.9m-0.4-0.5h.9m-0.9 1.5h.9m-0.9-0.5h.9m-0.9-0.5h.9m-0.9-1.5h.9m-0.9 1h.9m-0.9-0.5h.9m-0.4 0h.9m-0.9 0.5h.9m-0.9-0.5h.9m-0.4 0.5h.9m-0.9-1h.9m-0.4 0h.9m-0.9 0h.9m-0.9 0h.9m-0.9 0h.9m23.6 0.5h.9m-0.9 0.5h.9m-0.9-0.5h.9m-0.9-0.5h.9m-0.4 2.5h.9m-0.9-1h.9m-0.9-1h.9m-0.4 1.5h.9m-0.9-1h.9m-0.9 0h.9m-0.9 1.5h.9m-0.9-0.5h.9m-0.9-1h.9m-0.9 1.5h.9m-0.4 2h.9m-0.9-2h.9m-0.9-1h.9m-0.9 0h.9m-0.9 4h.9m-0.9-4.5h.9m-0.9-1h.9m-0.9 2h.9m-0.9-2h.9m-0.9 3.5h.9m-0.9 2.5h.9m-0.9-4.5h.9m-0.9 1h.9m-0.9 1h.9m-0.9 1h.9m-0.9-1h.9m-0.9 2h.9m-0.9-5.5h.9m-0.9 5h.9m-0.9 1h.9m-0.9-5.5h.9m-0.4 4h.9m-0.9-4h.9m-0.9 4h.9m-0.9-4h.9m-0.9 0.5h.9m-0.9 0.5h.9m-0.9 1h.9m-0.9-2.5h.9m-0.9 4.5h.9m-0.9-2.5h.9m-0.9 4h.9m-0.9-5h.9m-0.9 0h.9m-0.4 2.5h.9m-0.9 2.5h.9m-0.9-4.5h.9m-0.9 3h.9m-0.9-1h.9m-0.9 0h.9m-0.4 0.5h.9m-0.9-0.5h.9m-0.9 2.5h.9m-0.9-4h.9m-0.9 3h.9m-0.9-4h.9m-0.9 3h.9m-0.9-1.5h.9m-0.9 0.5h.9m-0.9 2h.9m-0.9-0.5h.9m-0.4-1.5h.9m-0.9-1.5h.9m-0.9 4.5h.9m-0.9-2.5h.9m-0.9-0.5h.9m-0.9-0.5h.9m-0.4-2.5h.9m-0.9 1h.9m-0.9 1h.9m-0.9 1h.9m-0.9-0.5h.9m-0.9-1.5h.9m-0.9 0.5h.9m-0.9-0.5h.9m-0.9 3.5h.9m-0.4-0.5h.9m-0.9 1h.9m-0.9-1h.9m-0.9-2h.9m-0.9 1.5h.9m-0.9 0h.9m-0.9 1h.9m-0.4-2.5h.9m-0.9-2h.9m-0.9 4.5h.9m-0.9-2.5h.9m-0.4-1h.9m-0.9 2.5h.9m-0.9-1h.9m-0.4 2h.9m-0.9 1.5h.9m-0.9 0h.9m-0.4-4h.9m-0.9 3h.9m-0.4-1h.9m-0.9 2h.9m-0.9-1.5h.9m-0.4 1h.9m-0.9-3h.9m-0.4-2h.9m-0.4 0.5h.9m-0.9-0.5h.9m-0.9 1h.9m-0.9-0.5h.9m-0.9 3h.9m-0.9 2h.9m-0.4-5h.9m-0.9 4.5h.9m-0.9-3.5h.9m-0.4 4h.9m-0.9-1h.9m-0.9 0.5h.9m-0.9-1h.9m-0.9-3h.9m-0.4 1.5h.9m-0.4-0.5h.9m-0.9-1.5h.9m-0.9 3.5h.9m-0.4-3h.9m-0.4 3.5h.9m-0.9-2h.9m-0.9-2h.9m-0.4-0.5h.9m-0.9 5.5h.9m0.1-6h.9m-0.9 3.5h.9m-0.9 1h.9m0.1 1.5h.9m-0.9-0.5h.9m-0.4-2.5h.9m-0.4-1h.9m-0.9 1h.9m0.6 1h.9m0.1 0.5h.9m-0.4 1h.9m-0.4 0.5h.9m-0.9-2h.9m-0.9 1h.9m-0.9-5h.9m-0.9 2.5h.9m-0.4 3h.9m-0.9-2.5h.9m-0.4 2.5h.9m-0.9-5h.9m-0.9 0.5h.9m-0.4 4.5h.9m-0.9-1.5h.9m-0.9 1.5h.9m-0.9-4.5h.9m-0.9 4h.9m-0.9-5h.9m-0.9 5.5h.9m-0.4 0.5h.9m-0.9-1.5h.9m-0.9-2.5h.9m-0.9 2h.9m-0.9-1h.9m-0.4 3h.9m-0.9-0.5h.9m-0.9-4.5h.9m-0.9 3h.9m-0.9 1.5h.9m-0.4 0.5h.9m-0.9-2h.9m-0.9 1.5h.9m-0.9-3h.9m-0.9 0.5h.9m-0.9-2.5h.9m-0.9 3.5h.9m-0.9-1h.9m-0.9 0.5h.9m-0.9 1h.9m-0.4 1h.9m-0.9-0.5h.9m-0.9-2h.9m-0.9 1.5h.9m-0.9-0.5h.9m-0.9 0.5h.9m-0.9-3.5h.9m-0.4 1.5h.9m-0.9-1h.9m-0.9 2h.9m-0.4 0h.9m-0.9 0h.9m-0.9-2.5h.9m-0.9 2.5h.9m-0.9 0.5h.9m-0.9-0.5h.9m-0.4-2h.9m-0.9-1h.9m-0.9 0h.9m-0.9 0.5h.9m-0.9 1.5h.9m-0.4-1.5h.9m-0.9 1.5h.9m-0.9-2h.9m-0.9 1h.9m-0.9 0h.9m-0.4 0h.9m-0.9-0.5h.9m-0.9 0.5h.9m-0.4-1h.9m-0.9 1h.9m-0.9-1.5h.9m-0.9 0.5h.9m-0.9 0.5h.9m-0.4-1h.9m-0.9 0.5h.9m-0.4-0.5h.9m-0.9 0h.9m-0.4 0h.9m14.1 0.5h.9m-0.4-0.5h.9m-0.9 0.5h.9m-0.9 0h.9m-0.9-0.5h.9m-0.9 0.5h.9m-0.4 1h.9m-0.9-1.5h.9m-0.9 2h.9m-0.4 0h.9m-0.9 0.5h.9m-0.4-2h.9m-0.9 2.5h.9m-0.9-2h.9m-0.9 1h.9m-0.9-1h.9m-0.4 0h.9m-0.9 4.5h.9m-0.9-4h.9m-0.9-1h.9m-0.9 1.5h.9m-0.9 1.5h.9m-0.9-1h.9m-0.9-1.5h.9m-0.9 1.5h.9m-0.9-0.5h.9m-0.9 2h.9m-0.9 0h.9m-0.9-3.5h.9m-0.9 4h.9m-0.9-3h.9m-0.4-1h.9m-0.9 1h.9m-0.9 3h.9m-0.9-0.5h.9m-0.9 1.5h.9m-0.9-1h.9m-0.9 0h.9m-0.9 0h.9m-0.9-0.5h.9m-0.9-3h.9m-0.4 4h.9m-0.9-1h.9m-0.9 0h.9m-0.9 1h.9m-0.9-2h.9m-0.9 3h.9m-0.9-5h.9m-0.9 5h.9m-0.9-0.5h.9m-0.4 0h.9m-0.9-3h.9m-0.9 3h.9m-0.9-3.5h.9m-0.9-2h.9m-0.9 2.5h.9m-0.9 3.5h.9m-0.9-3.5h.9m-0.4 3h.9m-0.9-5h.9m-0.9 1h.9m-0.4 4h.9m-0.9-3h.9m-0.9 3.5h.9m-0.9-2h.9m-0.9-2h.9m-0.9-0.5h.9m0.1-1.5h.9m-0.9 3.5h.9m-0.4 2.5h.9m-0.9-3h.9m-0.9 1.5h.9m-0.9-4.5h.9m-0.4 0.5h.9m-0.9 3h.9m-0.4 1h.9m47.1 1h.9m0.1-0.5h.9m-0.4-3h.9m-0.4 1.5h.9m0.1 0.5h.9m-0.9 1.5h.9m0.1-5.5h.9m-0.9 4h.9m-0.9-1h.9m-0.4 3h.9m-0.9-1h.9m-0.9 0h.9m-0.9 0.5h.9m-0.9-4h.9m-0.9 3h.9m-0.9 1h.9m-0.9-1h.9m-0.4-4h.9m-0.9 5h.9m-0.9 0h.9m-0.4-4h.9m-0.9 4.5h.9m-0.9-1h.9m-0.9-4h.9m-0.9 0.5h.9m-0.9 2.5h.9m-0.9 0.5h.9m-0.9-1h.9m-0.4 0.5h.9m-0.9-2h.9m-0.9-1h.9m-0.9 3.5h.9m-0.9-4h.9m-0.9 1.5h.9m-0.9-0.5h.9m-0.9 4.5h.9m-0.9-2h.9m-0.9-4h.9m-0.4 2h.9m-0.9-1h.9m-0.9 3.5h.9m-0.9-2.5h.9m-0.9 1.5h.9m-0.9 1.5h.9m-0.9-0.5h.9m-0.9-1h.9m-0.9 2h.9m-0.4-4h.9m-0.9 4.5h.9m-0.9-0.5h.9m-0.9-1.5h.9m-0.9-2.5h.9m-0.9 4h.9m-0.9-1h.9m-0.9-1h.9m-0.9 1.5h.9m-0.9-5h.9m-0.9 4.5h.9m-0.4-1h.9m-0.9-2h.9m-0.9 1.5h.9m-0.9 1.5h.9m-0.9-1.5h.9m-0.9 0.5h.9m-0.9 1h.9m-0.9 0.5h.9m-0.9-4h.9m-0.9 1.5h.9m-0.4 0.5h.9m-0.9 1h.9m-0.9 0h.9m-0.9-2h.9m-0.9 0.5h.9m-0.9 0h.9m-0.9-2.5h.9m-0.4 2h.9m-0.9-1.5h.9m-0.9 1h.9m-0.9 0h.9m-0.9-1.5h.9m-0.9 1.5h.9m-0.9 1h.9m-0.9 0h.9m-0.9 0h.9m-0.9-2.5h.9m-0.9 0.5h.9m-0.9 0h.9m-0.9 2.5h.9m-0.9-2.5h.9m-0.4 1.5h.9m-0.9-2h.9m-0.4 1h.9m-0.4 0h.9m-0.9-0.5h.9m23.6 2.5h.9m-0.4 0h.9m0.1-3h.9m-0.9 1.5h.9m-0.4-1.5h.9m-0.9 0h.9m-0.9 0.5h.9m-0.4 0h.9m-0.9 0h.9m-0.9-0.5h.9m-0.9 0.5h.9m-0.9 3.5h.9m-0.4-2h.9m-0.9-1h.9m-0.9 0.5h.9m-0.9-1h.9m-0.4 1.5h.9m-0.9-0.5h.9m-0.9 1.5h.9m-0.9-1h.9m-0.9-2h.9m-0.9 1.5h.9m-0.4 2h.9m-0.9-2h.9m-0.9-0.5h.9m-0.9-0.5h.9m-0.9 2h.9m-0.9 1h.9m-0.9 1h.9m-0.9-3h.9m-0.9 3.5h.9m-0.9-1.5h.9m-0.4-1.5h.9m-0.9 2h.9m-0.9-4h.9m-0.9 5.5h.9m-0.9-3h.9m-0.9 3.5h.9m-0.9-2.5h.9m-0.9 1.5h.9m-0.9-2.5h.9m-0.9 3.5h.9m-0.9-1.5h.9m-0.9 0h.9m-0.9 0h.9m-0.9 0.5h.9m-0.9 1h.9m-0.9-4h.9m-0.9 3h.9m-0.9-3h.9m-0.9 3.5h.9m-0.9-3h.9m-0.9 2h.9m-0.4-4.5h.9m-0.9 3.5h.9m-0.9 0.5h.9m-0.9 2h.9m-0.9-0.5h.9m-0.9 0h.9m-0.9 0.5h.9m-0.9-1.5h.9m-0.9-2h.9m-0.9 1h.9m-0.9-1h.9m-0.9 3h.9m-0.9-4h.9m-0.9 4h.9m-0.9-3.5h.9m-0.9 1.5h.9m-0.4-0.5h.9m-0.9 2.5h.9m-0.9-3.5h.9m-0.9 2.5h.9m-0.9-1h.9m-0.9-1.5h.9m-0.9-0.5h.9m-0.9 0.5h.9m-0.9 4h.9m-0.9 0h.9m-0.4-5.5h.9m-0.9-0.5h.9m-0.9 1.5h.9m-0.9 1.5h.9m-0.9-2h.9m-0.9 0h.9m-0.9 4h.9m-0.9 0h.9m-0.9-1.5h.9m-0.9-3.5h.9m-0.4 3h.9m-0.9 2.5h.9m-0.9 0.5h.9m-0.9-1.5h.9m-0.4 1.5h.9m-0.9-1h.9m-0.9-3h.9m-0.9 2.5h.9m-0.4-3h.9m-0.9 2.5h.9m-0.9 1.5h.9m-0.9-3h.9m-0.9 2.5h.9m-0.9-0.5h.9m-0.4-1h.9m-0.9-0.5h.9m-0.9 2.5h.9m-0.9 0.5h.9m-0.9-0.5h.9m-0.4-2.5h.9m-0.9-1.5h.9m-0.4 4h.9m-0.9-2.5h.9m-0.4 0.5h.9m-0.9 1.5h.9m-0.9-3h.9m-0.9 1h.9m-0.4 0.5h.9m-0.9-2.5h.9m-0.9 2h.9m-0.9-2.5h.9m-0.9 4h.9m-0.9 1.5h.9m-0.4-2h.9m-0.9-3.5h.9m-0.9 3.5h.9m-0.9-1.5h.9m-0.9 2h.9m-0.9 1.5h.9m-0.4-2.5h.9m-0.9 2h.9m-0.9-1h.9m-0.4-3.5h.9m-0.4 0.5h.9m-0.9 4h.9m-0.9-2.5h.9m-0.9 0h.9m-0.9 1.5h.9m-0.4 0h.9m-0.9 1.5h.9m-0.4-4h.9m-0.4 2h.9m-0.4-3.5h.9m-0.9 0h.9m-0.4 1.5h.9m-0.9 0h.9m0.1 3h.9m-0.9 0h.9m0.1 0h.9m0.1-0.5h.9m-0.9-1.5h.9m-0.4 2h.9m-0.4-2.5h.9m-0.9 3.5h.9m-0.4-2h.9m-0.9-3.5h.9m-0.4 5h.9m-0.9-5h.9m-0.9 2.5h.9m-0.9 2.5h.9m-0.4-0.5h.9m-0.9-3h.9m-0.9 0h.9m-0.4 1h.9m-0.4 2.5h.9m-0.9 0h.9m-0.9-1h.9m-0.9 1h.9m-0.4 0h.9m-0.9-2h.9m-0.9 1h.9m-0.9 0h.9m-0.9 1.5h.9m-0.4-0.5h.9m-0.9 0h.9m-0.9-0.5h.9m-0.9 0h.9m-0.9 1h.9m-0.9-4h.9m-0.9 3.5h.9m-0.4-2h.9m-0.9 0h.9m-0.9 0h.9m-0.9-1h.9m-0.9 3.5h.9m-0.9-3h.9m-0.9 1.5h.9m-0.9-1.5h.9m-0.4 2.5h.9m-0.9-4.5h.9m-0.9-1h.9m-0.9 4.5h.9m-0.9 1h.9m-0.9-5.5h.9m-0.9 5h.9m-0.9 0h.9m-0.9 0h.9m-0.4-0.5h.9m-0.9 0h.9m-0.9-3h.9m-0.9 1h.9m-0.9-1.5h.9m-0.9 3.5h.9m-0.4-0.5h.9m-0.9-2.5h.9m-0.9 0.5h.9m-0.9 1.5h.9m-0.9 0.5h.9m-0.9-4h.9m-0.4 2.5h.9m-0.9-1h.9m-0.4-1h.9m-0.9 1.5h.9m-0.9-1h.9m-0.9-1h.9m-0.9 1h.9m-0.9-1h.9m-0.4 0.5h.9m-0.9 0h.9m-0.9 1h.9m-0.4-1.5h.9m-0.9 1h.9m-0.4-0.5h.9m-0.4-0.5h.9m-0.9 0h.9m16.6 0h.9m-0.4 0.5h.9m-0.9-0.5h.9m-0.9 0h.9m-0.4 0h.9m-0.9 0.5h.9m-0.9 0.5h.9m-0.9-1h.9m-0.4 1.5h.9m-0.9 0.5h.9m-0.9-0.5h.9m-0.9 1h.9m-0.9-1.5h.9m-0.9 1h.9m-0.9-2h.9m-0.9 2.5h.9m-0.9 0.5h.9m-0.4-1h.9m-0.9 2h.9m-0.9-1h.9m-0.9 2.5h.9m-0.9-4.5h.9m-0.9-0.5h.9m-0.9 5h.9m-0.9-2h.9m-0.9-2.5h.9m-0.9 3h.9m-0.9 0.5h.9m-0.9-4.5h.9m-0.9 1.5h.9m-0.9 0h.9m-0.4 4h.9m-0.9-5.5h.9m-0.9 4h.9m-0.9-1.5h.9m-0.9-1.5h.9m-0.9 4h.9m-0.9 0.5h.9m-0.9-4h.9m-0.4 4h.9m-0.9-0.5h.9m-0.9-4.5h.9m-0.9 4h.9m-0.9-3.5h.9m-0.9 1h.9m-0.9 2h.9m-0.9 1h.9m-0.4 0.5h.9m-0.9-1h.9m-0.9-2.5h.9m-0.9 2h.9m-0.9-3h.9m-0.9 3.5h.9m-0.9 1h.9m-0.9-4.5h.9m-0.9 5h.9m-0.9-3h.9m-0.4-3h.9m-0.9 4.5h.9m-0.9-2h.9m-0.9 1h.9m-0.9 2.5h.9m-0.9-3h.9m-0.4 0.5h.9m-0.9-3h.9m-0.4 1.5h.9m-0.9 1.5h.9m-0.9-3.5h.9m-0.9 5h.9m-0.4 0.5h.9m-0.9-2.5h.9m-0.9 2.5h.9m-0.9-4.5h.9m-0.9 2.5h.9m-0.9-1.5h.9m-0.4 2.5h.9m-0.9-1h.9m3.1 0h.9m-0.9 0h.9m1.1 0h.9m-358.9 4.5h.9m-0.9 3.5h.9m-0.9-2h.9m0.6 0.5h.9m-0.9-1h.9m-0.4-1.5h.9m0.6 2.5h.9m-0.9-0.5h.9m-0.4 0h.9m-0.9 0h.9m-0.9-3h.9m-0.4 0h.9m-0.9 2h.9m-0.4-0.5h.9m-0.4 2.5h.9m-0.9-2h.9m-0.4-2h.9m-0.9 2.5h.9m-0.9 1h.9m-0.9-1h.9m-0.4-2h.9m-0.9 2h.9m-0.9-2h.9m-0.9 2.5h.9m-0.9-1h.9m-0.9 1.5h.9m-0.9 1.5h.9m-0.4-4h.9m-0.9 1.5h.9m-0.9 1h.9m-0.9-0.5h.9m-0.9 0h.9m-0.9-1.5h.9m-0.9 1.5h.9m-0.9 1h.9m-0.9 0h.9m-0.9-2.5h.9m-0.9 1.5h.9m-0.4-0.5h.9m-0.9 1.5h.9m-0.9-3.5h.9m-0.9 2h.9m-0.9-0.5h.9m-0.9 1.5h.9m-0.9-3h.9m-0.9 2.5h.9m-0.9 1.5h.9m-0.4-3.5h.9m-0.9 0.5h.9m-0.9-1.5h.9m-0.9 4.5h.9m-0.9 0h.9m-0.9-2.5h.9m-0.9-0.5h.9m-0.9-1.5h.9m-0.9 4h.9m-0.9 1h.9m-0.9-3h.9m-0.9 2.5h.9m-0.4-2.5h.9m-0.9-1h.9m-0.9 0.5h.9m-0.9-1h.9m-0.9 0h.9m-0.9-0.5h.9m-0.9 2h.9m-0.9-1h.9m-0.9-0.5h.9m-0.4 0h.9m-0.9 0h.9m-0.9 1h.9m-0.9 0h.9m-0.9-1h.9m-0.9-0.5h.9m25.6 0.5h.9m-0.4 2.5h.9m3.1-3h.9m-0.9 0.5h.9m-0.4 1.5h.9m-0.9-2h.9m-0.9 0.5h.9m-0.9 0.5h.9m-0.9 4h.9m-0.4-0.5h.9m-0.9-1h.9m-0.9-0.5h.9m-0.9-0.5h.9m-0.9-1.5h.9m-0.9 0h.9m-0.9 1.5h.9m-0.9-2h.9m-0.9 1.5h.9m-0.9 3h.9m-0.9-0.5h.9m-0.4-2h.9m-0.9-1.5h.9m-0.9-0.5h.9m-0.9 1.5h.9m-0.9 2.5h.9m-0.9 0h.9m-0.9-3h.9m-0.9 0.5h.9m-0.9 0h.9m-0.4 3h.9m-0.9-0.5h.9m-0.9-2h.9m-0.9 1h.9m-0.9-2.5h.9m-0.9 1h.9m-0.9 2.5h.9m-0.9 0h.9m-0.4-4.5h.9m-0.9 4.5h.9m-0.9 0.5h.9m-0.9-3h.9m-0.9-2h.9m-0.9 2.5h.9m-0.9-0.5h.9m-0.9-0.5h.9m-0.9 2.5h.9m-0.9-1.5h.9m-0.9 2h.9m-0.4-4h.9m-0.9 1.5h.9m-0.9 0h.9m-0.9 0h.9m-0.9 2.5h.9m-0.9 0h.9m-0.9-3.5h.9m-0.9 1.5h.9m-0.4 1h.9m-0.9 0h.9m-0.9-1.5h.9m-0.9 1.5h.9m-0.9-0.5h.9m-0.9-1h.9m-0.9 2.5h.9m-0.9-2.5h.9m-0.9 3h.9m-0.4-1.5h.9m-0.9 0.5h.9m-0.9-0.5h.9m-0.9-1h.9m-0.4 2h.9m-0.9-2h.9m-0.9-2h.9m-0.9 4.5h.9m-0.9-4.5h.9m-0.4 4h.9m-0.9-3.5h.9m-0.9 1h.9m-0.9 2.5h.9m-0.9 0.5h.9m-0.4-4h.9m-0.9 2.5h.9m-0.9-2h.9m-0.9 1.5h.9m-0.9-0.5h.9m-0.9-2h.9m-0.4 4h.9m-0.9-4.5h.9m-0.4 5h.9m-0.9-0.5h.9m-0.9-1h.9m-0.9 1.5h.9m-0.4-4h.9m-0.9-1h.9m-0.9 3h.9m-0.4 1h.9m-0.9 0.5h.9m-0.9-1h.9m-0.4 1h.9m-0.9-0.5h.9m-0.9-2h.9m-0.9 1h.9m-0.9-0.5h.9m-0.4-1.5h.9m-0.9-0.5h.9m-0.9 4h.9m-0.4-1h.9m-0.9 1h.9m-0.9-3.5h.9m-0.9 3h.9m-0.9-2.5h.9m-0.9 2h.9m-0.4 0h.9m-0.4-1h.9m-0.9-1.5h.9m0.1 3.5h.9m-0.9-1h.9m-0.9-2h.9m-0.4 2h.9m-0.9 0.5h.9m-0.9-2.5h.9m-0.4 3h.9m-0.4 0h.9m-0.9-2h.9m-0.9-1h.9m-0.9 1.5h.9m-0.4 1.5h.9m-0.9-0.5h.9m-0.4 0h.9m-0.4-2.5h.9m-0.9 3.5h.9m-0.4 0h.9m-0.9-2h.9m-0.9 2h.9m-0.4-1h.9m-0.9-0.5h.9m-0.9-1h.9m-0.4 1h.9m-0.9 1h.9m-0.9-1h.9m-0.4-1h.9m-0.9 0.5h.9m-0.9 1h.9m-0.4 0h.9m-0.9-1h.9m-0.9-2h.9m-0.9 2.5h.9m-0.9-0.5h.9m-0.9-2.5h.9m-0.9 0.5h.9m-0.9 4h.9m-0.9-3.5h.9m-0.9 0h.9m-0.4 0h.9m-0.9-1.5h.9m-0.9 1.5h.9m-0.9 2.5h.9m-0.9-3.5h.9m-0.9 2.5h.9m-0.9-2.5h.9m-0.4 2.5h.9m-0.9 0.5h.9m-0.9-3.5h.9m-0.9 4.5h.9m-0.9-2h.9m-0.9 2.5h.9m-0.9-3h.9m-0.9-1.5h.9m-0.9 1h.9m-0.4 1.5h.9m-0.9 0.5h.9m-0.9-3.5h.9m-0.9 0h.9m-0.9 0.5h.9m-0.9 1h.9m-0.9 0h.9m-0.9 1h.9m-0.9-0.5h.9m-0.4-0.5h.9m-0.9 0.5h.9m-0.9-1h.9m-0.9 2h.9m-0.9-1h.9m-0.4-0.5h.9m21.1 0.5h.9m-0.9 0h.9m-0.9 3h.9m-0.9 0h.9m-0.9-4h.9m-0.4 0.5h.9m-0.9-1h.9m-0.9 1.5h.9m-0.9 1h.9m-0.9-3h.9m-0.9 4.5h.9m-0.9-1.5h.9m-0.9 1.5h.9m-0.9-0.5h.9m-0.9-0.5h.9m-0.9-3.5h.9m-0.9 0.5h.9m-0.9 0h.9m-0.9 2.5h.9m-0.4-0.5h.9m-0.9-0.5h.9m-0.9-0.5h.9m-0.9 3h.9m-0.9 0.5h.9m-0.9-4h.9m-0.9 0.5h.9m-0.9 0h.9m-0.4 0.5h.9m-0.9 0.5h.9m-0.9-0.5h.9m-0.9 0h.9m-0.9 3h.9m-0.9-3h.9m-0.9 0h.9m-0.9 0.5h.9m-0.4 0h.9m-0.9 2h.9m-0.9-2.5h.9m-0.9 2h.9m-0.9-3h.9m-0.9 0.5h.9m-0.4 3h.9m-0.9 0h.9m-0.4-2.5h.9m-0.9 1.5h.9m-0.9-2h.9m-0.4 2.5h.9m-0.9-3.5h.9m-0.9-0.5h.9m-0.9 1.5h.9m0.1-0.5h.9m-0.4-1h.9m-0.4 1h.9m0.6-0.5h.9m-0.4 0.5h.9m-0.9 1h.9m45.6-2h.9m-0.9 2.5h.9m0.6-1.5h.9m-0.4 2h.9m-0.9-2h.9m-0.9 2h.9m-0.4-0.5h.9m-0.9-2.5h.9m-0.9 4h.9m-0.9-0.5h.9m-0.9-2.5h.9m0.1 3h.9m-0.9 0.5h.9m-0.9-1h.9m-0.9 0.5h.9m-0.4-1.5h.9m-0.9 1h.9m-0.4 0h.9m-0.9-2.5h.9m-0.9 4h.9m-0.9-0.5h.9m-0.9-0.5h.9m-0.4-3h.9m-0.9 3.5h.9m-0.9 0.5h.9m-0.9-4h.9m-0.9 0h.9m-0.9 2h.9m-0.9 0.5h.9m-0.9 1h.9m-0.9-2.5h.9m-0.4 1.5h.9m-0.9-1.5h.9m-0.9-2h.9m-0.9 0.5h.9m-0.9 4.5h.9m-0.9-1h.9m-0.9-0.5h.9m-0.9-1.5h.9m-0.9 1.5h.9m-0.9-3h.9m-0.4 2.5h.9m-0.9 0.5h.9m-0.9-0.5h.9m-0.9-2.5h.9m-0.9 3.5h.9m-0.9-4h.9m-0.9 3.5h.9m-0.9-1.5h.9m-0.9-1h.9m-0.9-0.5h.9m-0.9 3h.9m-0.9-1h.9m-0.9 0.5h.9m-0.9-1.5h.9m-0.9-0.5h.9m-0.4 0.5h.9m-0.9-1.5h.9m-0.9 1.5h.9m-0.9 0.5h.9m25.1-1.5h.9m2.1 2.5h.9m0.1 2h.9m-0.9-1h.9m-0.9 0h.9m-0.9-1.5h.9m-0.9 0.5h.9m-0.9-3h.9m-0.9 4.5h.9m-0.9-2h.9m-0.9-1h.9m-0.9 3.5h.9m-0.9 0h.9m-0.4-3.5h.9m-0.9-1h.9m-0.9 4h.9m-0.9-4.5h.9m-0.9 3.5h.9m-0.9-1h.9m-0.9 0.5h.9m-0.9-0.5h.9m-0.9 2h.9m-0.9-3.5h.9m-0.9 0.5h.9m-0.9 0h.9m-0.9-1h.9m-0.9 0h.9m-0.9 2h.9m-0.9-0.5h.9m-0.9 2h.9m-0.4-1.5h.9m-0.9-1h.9m-0.9 0h.9m-0.9-0.5h.9m-0.9 1h.9m-0.9 2.5h.9m-0.9 0h.9m-0.9-0.5h.9m-0.9-2h.9m-0.9-0.5h.9m-0.4-1.5h.9m-0.9 1h.9m-0.9 2.5h.9m-0.9 0.5h.9m-0.9-3.5h.9m-0.9 2.5h.9m-0.9 0.5h.9m-0.9-2h.9m-0.9-1.5h.9m-0.9 5h.9m-0.4-2.5h.9m-0.9 0h.9m-0.9-2h.9m-0.9 0.5h.9m-0.9 2h.9m-0.9-2.5h.9m-0.9 1.5h.9m-0.9 3h.9m-0.4 0h.9m-0.9-1.5h.9m-0.9-1h.9m-0.9-2.5h.9m-0.9 2h.9m-0.9-1.5h.9m-0.9 0h.9m-0.9 3.5h.9m-0.9 0.5h.9m-0.4-2h.9m-0.9 2h.9m-0.9-3.5h.9m-0.9 1.5h.9m-0.9 0h.9m-0.9-1.5h.9m-0.4 0h.9m-0.9-0.5h.9m-0.9 0.5h.9m-0.9 3h.9m-0.9-0.5h.9m-0.4-1h.9m-0.9 2.5h.9m-0.9-4h.9m-0.9-1h.9m-0.9 5h.9m-0.9-2h.9m-0.9-2.5h.9m-0.4 4.5h.9m-0.9-2h.9m-0.4 0.5h.9m-0.9 0h.9m-0.4 0.5h.9m-0.9-1.5h.9m-0.9 1h.9m-0.9 1.5h.9m-0.9-0.5h.9m-0.4-3.5h.9m-0.9 3h.9m-0.4-1h.9m-0.9 2h.9m-0.9-5h.9m-0.4 0.5h.9m-0.9 1.5h.9m-0.9 0h.9m-0.9-2h.9m-0.9 2h.9m-0.9-1h.9m-0.4-0.5h.9m-0.4 3.5h.9m-0.9-2h.9m-0.9 1h.9m-0.4-1h.9m-0.9-1h.9m-0.4 4h.9m-0.9-3.5h.9m-0.9-0.5h.9m-0.4 4h.9m-0.9-3h.9m-0.9 0.5h.9m-0.9 1h.9m-0.9 0h.9m-0.9-1h.9m-0.9-1.5h.9m-0.4 1.5h.9m-0.4 0.5h.9m-0.9 2h.9m-0.4-3.5h.9m-0.4 2.5h.9m-0.9 0h.9m-0.4-4h.9m-0.9 2.5h.9m-0.9-2.5h.9m-0.4 3h.9m-0.9-1.5h.9m-0.4 2.5h.9m-0.9-2.5h.9m-0.4 2h.9m-0.9 1.5h.9m-0.4-2.5h.9m-0.4 0.5h.9m-0.9-1h.9m-0.9 3h.9m0.1-2.5h.9m-0.9 1h.9m-0.9 1h.9m-0.4-2h.9m-0.9-2h.9m-0.9 2.5h.9m-0.9 0h.9m-0.9-3h.9m-0.4 2h.9m-0.9 1.5h.9m-0.9 1.5h.9m-0.9-1.5h.9m-0.4 0.5h.9m-0.9 0.5h.9m-0.9-2.5h.9m-0.4 1h.9m-0.9-2h.9m-0.9 0h.9m-0.9 0h.9m-0.9 1h.9m-0.4 0.5h.9m-0.9 2h.9m-0.9 0.5h.9m-0.9-0.5h.9m-0.9-4.5h.9m-0.9 1.5h.9m-0.9 3h.9m-0.9-3.5h.9m-0.9 2h.9m-0.9 2h.9m-0.4-5h.9m-0.9 3h.9m-0.9 1h.9m-0.9 0h.9m-0.9-0.5h.9m-0.9-1.5h.9m-0.9 1.5h.9m-0.4-3h.9m-0.9 1h.9m-0.9-1h.9m-0.9 1h.9m-0.4-1.5h.9m-0.9 0.5h.9m-0.9 0h.9m22.6 1.5h.9m-0.9-1h.9m-0.9 1h.9m-0.9 1.5h.9m-0.9-3h.9m-0.9 3h.9m-0.9-3h.9m-0.9 4.5h.9m-0.9 0h.9m-0.9-2h.9m-0.9-2.5h.9m-0.9 2.5h.9m-0.9-1h.9m-0.4-0.5h.9m-0.9 0h.9m-0.9 0h.9m-0.9-1.5h.9m-0.9 4h.9m-0.9-1h.9m-0.9 1h.9m-0.9-3h.9m-0.9-0.5h.9m-0.9 2.5h.9m-0.4-2.5h.9m-0.9 1.5h.9m-0.9 1.5h.9m-0.9 0h.9m-0.9-2h.9m-0.9 1.5h.9m-0.9-0.5h.9m-0.9 1.5h.9m-0.4-1.5h.9m-0.9 0.5h.9m-0.9-3h.9m-0.9 5h.9m-0.9-5h.9m-0.9 0h.9m-0.9 5h.9m-0.9-0.5h.9m-0.4-2h.9m-0.9 1.5h.9m-0.9 1h.9m-0.9-2h.9m-0.9 0.5h.9m-0.4 1h.9m-0.9-4h.9m-0.9 1.5h.9m-0.9-0.5h.9m-0.9 3h.9m0.1-2h.9m-0.9-1.5h.9m-0.4-1h.9m-0.4 0h.9m-0.9 2h.9m0.6-0.5h.9m2.1-0.5h.9m0.1 1h.9m-0.9 2h.9m40.1-3.5h.9m-0.9 4h.9m-0.4-3.5h.9m-0.4 0h.9m0.6 1h.9m-0.9 0.5h.9m-0.4-0.5h.9m-0.9 3h.9m-0.4-1.5h.9m-0.9-2h.9m-0.4-0.5h.9m-0.9 2.5h.9m-0.9-2.5h.9m-0.9 3h.9m-0.4-1h.9m-0.9 1h.9m-0.9 1h.9m-0.9-2.5h.9m-0.9 0.5h.9m-0.9-1h.9m-0.4-2h.9m-0.4 4.5h.9m-0.9-2.5h.9m-0.4 3h.9m-0.9-4h.9m-0.9-1h.9m-0.9 4h.9m-0.9-0.5h.9m-0.9-2h.9m-0.9 2.5h.9m-0.9 0.5h.9m-0.9-2.5h.9m-0.4 2.5h.9m-0.9-1h.9m-0.9-1.5h.9m-0.9-1h.9m-0.9 1h.9m-0.9 0.5h.9m-0.9 0h.9m-0.9-1h.9m-0.9-1h.9m-0.4 4h.9m-0.9-3h.9m-0.9-0.5h.9m-0.9 3.5h.9m-0.9-3h.9m-0.9 0h.9m-0.9 2.5h.9m-0.9-0.5h.9m-0.9-2h.9m-0.9 3h.9m-0.9-2h.9m-0.9-1.5h.9m-0.9 1.5h.9m-0.9 2.5h.9m-0.9-3.5h.9m-0.9 0.5h.9m-0.4-2h.9m-0.9 5h.9m-0.9-2h.9m-0.9-3h.9m-0.9 4.5h.9m-0.9-3.5h.9m-0.9 0h.9m-0.9 3h.9m-0.9-2.5h.9m-0.9 1h.9m-0.9 0h.9m-0.4-2.5h.9m-0.9 2.5h.9m-0.9-2.5h.9m-0.9 0.5h.9m-0.9 0.5h.9m-0.9-0.5h.9m-0.4-0.5h.9m31.1 4h.9m-0.9 0.5h.9m-0.9-3h.9m-0.9-0.5h.9m-0.9 3h.9m-0.4-3.5h.9m-0.9 1h.9m-0.9 0.5h.9m-0.9-0.5h.9m-0.9-1h.9m-0.9 0h.9m-0.9-0.5h.9m-0.9 3.5h.9m-0.9-2.5h.9m-0.9 4h.9m-0.9-3.5h.9m-0.9 2h.9m-0.9 1.5h.9m-0.9-4.5h.9m-0.9 1.5h.9m-0.9 2.5h.9m-0.9 0.5h.9m-0.9-5h.9m-0.4 0.5h.9m-0.9 4.5h.9m-0.9-5h.9m-0.9 1.5h.9m-0.9 2h.9m-0.9-0.5h.9m-0.9-1h.9m-0.9 0h.9m-0.9-1h.9m-0.4 2.5h.9m-0.9-3.5h.9m-0.9 1h.9m-0.9 2h.9m-0.9 0h.9m-0.9-1h.9m-0.9 0.5h.9m-0.9-2.5h.9m-0.9 1.5h.9m-0.9 2.5h.9m-0.9 0h.9m-0.9-3.5h.9m-0.9 4.5h.9m-0.4-3.5h.9m-0.9 1h.9m-0.9 0.5h.9m-0.9 0h.9m-0.9-0.5h.9m-0.9-1h.9m-0.9 1.5h.9m-0.4-2h.9m-0.9 3h.9m-0.9-2h.9m-0.9 1.5h.9m-0.9-2h.9m-0.9-1h.9m-0.9 1.5h.9m-0.9 0h.9m-0.9-1.5h.9m-0.4 1.5h.9m-0.9 0.5h.9m-0.9 2h.9m-0.9-0.5h.9m-0.9-3.5h.9m-0.9 3h.9m-0.4-1h.9m-0.9 2h.9m-0.9-1h.9m-0.9 1h.9m-0.9-1h.9m-0.9 1.5h.9m-0.4-4h.9m-0.9 4h.9m-0.9 0h.9m-0.9-3.5h.9m-0.9-1.5h.9m-0.9 3.5h.9m-0.4-0.5h.9m-0.9-1h.9m-0.9 2h.9m-0.9-3.5h.9m-0.4 4.5h.9m-0.9-3.5h.9m-0.9 1.5h.9m-0.9-1h.9m-0.9-2h.9m-0.4 4h.9m-0.9 1h.9m-0.9-2h.9m-0.4-0.5h.9m-0.9-2.5h.9m-0.9 1.5h.9m-0.9 1.5h.9m-0.9 0h.9m-0.9-2h.9m-0.4 1h.9m-0.9 3h.9m-0.9-2h.9m-0.9-2.5h.9m-0.9 2.5h.9m-0.9-2.5h.9m-0.4 4.5h.9m-0.9-3h.9m-0.4-1h.9m-0.4 2h.9m-0.9 0h.9m-0.9 2h.9m-0.4-1.5h.9m-0.9 1h.9m-0.9-2.5h.9m-0.9-1.5h.9m-0.9 3.5h.9m-0.4-1h.9m-0.9-2h.9m-0.9 4h.9m-0.9-3.5h.9m-0.4-1h.9m-0.9 1h.9m-0.9-0.5h.9m-0.9 1h.9m-0.4 1h.9m-0.4-2.5h.9m-0.4 2h.9m-0.9 1h.9m-0.4 1.5h.9m-0.9-2h.9m0.1-1.5h.9m-0.4 3.5h.9m-0.9-2h.9m-0.4-0.5h.9m-0.4-1.5h.9m-0.9 0.5h.9m-0.4 3h.9m-0.4-2h.9m-0.9-1h.9m-0.9 1.5h.9m-0.9 2h.9m-0.9-1.5h.9m-0.9 0h.9m-0.4-3h.9m-0.9 4.5h.9m-0.9-2h.9m-0.4 0h.9m-0.9 1h.9m-0.9 0.5h.9m-0.9 0h.9m-0.9-4.5h.9m-0.9 5h.9m-0.9-3.5h.9m-0.4-1h.9m-0.9 3.5h.9m-0.9-1.5h.9m-0.9 2h.9m-0.9-2.5h.9m-0.9 3h.9m-0.9-1.5h.9m-0.9 1h.9m-0.9 0h.9m-0.9 0h.9m-0.9 0.5h.9m-0.4-2h.9m-0.9-3h.9m-0.9 3h.9m-0.9-2h.9m-0.9 2h.9m-0.4-1.5h.9m-0.9-0.5h.9m-0.9 0.5h.9m-0.9 0h.9m-0.4-1h.9m23.1 0h.9m-0.9 4.5h.9m-0.9-1.5h.9m-0.4-0.5h.9m-0.9-1h.9m-0.9 0h.9m-0.9-1h.9m-0.9-1h.9m-0.9 4.5h.9m-0.9-2.5h.9m-0.9-1h.9m-0.9-0.5h.9m-0.9 0.5h.9m-0.9 2h.9m-0.9-2.5h.9m-0.9 3.5h.9m-0.9-1.5h.9m-0.9 1.5h.9m-0.4-3h.9m-0.9 1h.9m-0.9 3h.9m-0.9-3h.9m-0.9 0.5h.9m-0.9 0h.9m-0.9-0.5h.9m-0.9 1h.9m-0.9 1h.9m-0.9-2.5h.9m-0.9-1.5h.9m-0.4 0h.9m-0.9 1h.9m-0.9 0.5h.9m-0.9-1h.9m-0.9-0.5h.9m-0.9 1.5h.9m-0.9-0.5h.9m-0.9 4h.9m-0.9-2.5h.9m-0.4-1.5h.9m-0.9 0.5h.9m-0.9 3.5h.9m-0.9-1.5h.9m-0.4-3.5h.9m-0.9 3.5h.9m-0.9 1h.9m-0.9-1.5h.9m-0.9 0h.9m-0.9-2.5h.9m-0.9 0h.9m-0.9 0h.9m-0.4 1.5h.9m-0.9 3h.9m-0.9-1h.9m-0.9-3h.9m0.1 1.5h.9m-0.9 0.5h.9m-0.4 2h.9m-0.4-1h.9m0.1-0.5h.9m-0.4-1.5h.9m-0.4 2.5h.9m-0.9-3.5h.9m0.6 0h.9m-358.9 4.5h.9m0.1 4.5h.9m0.6-3h.9m-0.9-1h.9m-0.4 2.5h.9m-0.4 0h.9m-0.9-1h.9m-0.4-1.5h.9m-0.4 0.5h.9m-0.4 1.5h.9m-0.4 0h.9m-0.4 0.5h.9m-0.9-1h.9m-0.9 3h.9m-0.4-3h.9m-0.9-0.5h.9m-0.4-0.5h.9m-0.9 1h.9m-0.9-1h.9m-0.9-1h.9m-0.9 2h.9m-0.9 2h.9m-0.9-2h.9m-0.9 0.5h.9m-0.4-2.5h.9m-0.9 0.5h.9m-0.9 4h.9m-0.9-0.5h.9m-0.9-2h.9m-0.9-0.5h.9m-0.9 0.5h.9m-0.9 3.5h.9m-0.9-2.5h.9m-0.9 1h.9m-0.9 0h.9m-0.4-2.5h.9m-0.9 4h.9m-0.9-2.5h.9m-0.9-3h.9m-0.9 1h.9m-0.9-1h.9m-0.9 5h.9m-0.9-4h.9m-0.9 0.5h.9m-0.9 0h.9m-0.9-1h.9m-0.9-0.5h.9m-0.9 2.5h.9m-0.9-1.5h.9m-0.4-0.5h.9m-0.9 0.5h.9m-0.9-0.5h.9m-0.9 2h.9m-0.9-2h.9m-0.9 1.5h.9m-0.9 0h.9m-0.9-0.5h.9m-0.9 1h.9m-0.9-1h.9m-0.4 0.5h.9m-0.9-1h.9m-0.9 2h.9m-0.9 2.5h.9m-0.9-5h.9m-0.9 5h.9m-0.9-2.5h.9m-0.9-2.5h.9m-0.9 0h.9m-0.9 0.5h.9m-0.9 2h.9m-0.9 2.5h.9m-0.9-2h.9m-0.9 2.5h.9m-0.9-3h.9m-0.9-1h.9m-0.9 1h.9m-0.9 1.5h.9m-0.4 1h.9m-0.9 0h.9m-0.9-1h.9m-0.9 0h.9m-0.9 0.5h.9m-0.9-2h.9m-0.9 0.5h.9m-0.9-2.5h.9m-0.9 5h.9m-0.9 0h.9m-0.9-3h.9m-0.9 3h.9m-0.9-4.5h.9m-0.4 4h.9m-0.9 0h.9m-0.9-1h.9m-0.9 0.5h.9m-0.9-0.5h.9m-0.9 1.5h.9m-0.4 0h.9m-0.9-0.5h.9m-0.9 0h.9m29.1-5.5h.9m-0.9 0h.9m-0.4 6h.9m-0.9 0h.9m-0.9-0.5h.9m-0.4-0.5h.9m-0.9 0.5h.9m-0.9 0h.9m-0.9 0h.9m-0.9 0.5h.9m-0.9-3h.9m-0.4 2h.9m-0.9-1h.9m-0.9 0.5h.9m-0.9 0h.9m-0.9-0.5h.9m-0.9 0h.9m-0.9-1h.9m-0.9 2.5h.9m-0.9-3h.9m-0.9 3h.9m-0.4-1.5h.9m-0.9-2h.9m-0.9 1.5h.9m-0.9-0.5h.9m-0.9 0.5h.9m-0.9 0.5h.9m-0.9-3.5h.9m-0.9 4h.9m-0.9 0h.9m-0.9 0.5h.9m-0.9-1h.9m-0.9-1.5h.9m-0.9-2h.9m-0.9 1.5h.9m-0.9 1h.9m-0.9 3h.9m-0.9 0h.9m-0.9-4.5h.9m-0.9 4.5h.9m-0.9-1.5h.9m-0.9 0.5h.9m-0.9-4.5h.9m-0.9 1h.9m-0.9 3.5h.9m-0.9-1h.9m-0.4-2h.9m-0.9-1h.9m-0.9-1h.9m-0.9 5h.9m-0.9-5h.9m-0.9 5.5h.9m-0.9-4h.9m-0.9 0.5h.9m-0.9 0.5h.9m-0.9-1.5h.9m-0.9 4.5h.9m-0.9-5h.9m-0.9 5.5h.9m-0.9-3.5h.9m-0.9 0h.9m-0.9-0.5h.9m-0.9 3.5h.9m-0.4-4h.9m-0.9-1.5h.9m-0.9 0.5h.9m-0.9 1h.9m-0.9 0h.9m-0.9 0h.9m-0.9 3h.9m-0.9-4h.9m-0.9 2.5h.9m-0.9 2.5h.9m-0.9-5.5h.9m-0.4 0.5h.9m-0.9 1h.9m-0.9 3h.9m-0.9-3.5h.9m-0.9 0.5h.9m-0.9-0.5h.9m-0.9 0h.9m-0.9-0.5h.9m-0.9 4h.9m-0.9-1h.9m-0.9-0.5h.9m-0.4-0.5h.9m-0.9-2.5h.9m-0.9 2h.9m-0.9 2.5h.9m-0.9-1h.9m-0.9-1.5h.9m-0.9 2h.9m-0.9 0.5h.9m-0.9-3h.9m-0.9-1h.9m-0.4 0.5h.9m-0.9 3.5h.9m-0.9-0.5h.9m-0.9-3h.9m-0.9 2.5h.9m-0.9 2h.9m-0.9-1.5h.9m-0.9 0h.9m-0.9 1h.9m-0.9-2.5h.9m-0.9-2.5h.9m-0.9 4h.9m-0.4 0h.9m-0.9 2h.9m-0.9-2h.9m-0.9-3h.9m-0.4 2.5h.9m-0.9 1h.9m-0.9 1h.9m-0.9 0.5h.9m-0.9-2h.9m-0.9-3.5h.9m-0.9 3.5h.9m-0.9-2.5h.9m-0.9-1h.9m-0.9-0.5h.9m-0.4 1h.9m-0.9 0h.9m-0.9 3.5h.9m-0.9 0h.9m-0.9-1.5h.9m-0.4 3h.9m-0.9-1.5h.9m-0.9 1.5h.9m-0.9-1h.9m-0.4-1.5h.9m-0.9-3.5h.9m-0.9 2.5h.9m-0.9 1.5h.9m-0.9 0.5h.9m-0.9-2.5h.9m-0.9-1.5h.9m-0.4 0.5h.9m-0.9 2.5h.9m-0.9 1h.9m-0.9 1h.9m-0.9 0h.9m-0.9-4h.9m-0.4 2.5h.9m-0.9 0h.9m-0.9-3.5h.9m-0.9 5.5h.9m-0.9-2.5h.9m-0.4 2h.9m-0.9-4h.9m-0.9 4h.9m-0.9 0h.9m-0.4-5h.9m-0.9 4.5h.9m-0.9-1h.9m-0.9-2.5h.9m-0.4 2h.9m-0.9-1.5h.9m-0.9 3h.9m-0.9-0.5h.9m-0.9-2h.9m-0.4 2.5h.9m-0.9 0.5h.9m-0.9-0.5h.9m-0.9-1h.9m-0.9-1.5h.9m-0.9-1h.9m-0.4-1.5h.9m-0.9 0h.9m-0.9 5.5h.9m-0.9-5h.9m-0.9-0.5h.9m-0.9 5.5h.9m-0.4 0h.9m-0.9-3h.9m-0.9-1h.9m-0.9-0.5h.9m-0.9 2h.9m-0.9 0.5h.9m-0.9 2h.9m-0.4-4h.9m-0.9 3.5h.9m-0.9 1h.9m-0.9-4h.9m-0.4-0.5h.9m-0.9 4.5h.9m-0.9-6h.9m-0.9 1h.9m-0.4 4.5h.9m-0.9-4.5h.9m-0.9 4.5h.9m-0.9-2.5h.9m-0.9 1.5h.9m-0.9 0.5h.9m-0.4-1h.9m-0.4-1h.9m-0.9-3h.9m-0.4 5h.9m-0.9-1h.9m-0.9-4h.9m-0.9 1h.9m-0.9 2h.9m-0.4-3h.9m-0.9 1.5h.9m-0.9 1.5h.9m-0.9 2.5h.9m-0.9-1h.9m-0.4 1.5h.9m-0.9-0.5h.9m-0.9-5h.9m-0.9 4.5h.9m-0.4-1.5h.9m-0.9-3h.9m-0.9 5.5h.9m-0.9-5.5h.9m-0.9 0h.9m-0.4 2h.9m-0.9 1.5h.9m-0.9-3h.9m-0.9 2.5h.9m-0.9 0.5h.9m-0.4-1.5h.9m-0.9 0h.9m-0.9 3h.9m-0.9-1h.9m-0.9 0h.9m-0.9 0.5h.9m-0.9-2.5h.9m-0.4 0.5h.9m-0.9 0h.9m-0.9 1.5h.9m-0.9-4h.9m-0.9 3.5h.9m-0.9 0.5h.9m-0.9-4.5h.9m-0.9 2.5h.9m-0.9 2h.9m-0.9-1.5h.9m-0.9 0h.9m-0.9 1.5h.9m-0.4-0.5h.9m-0.9-2.5h.9m-0.9 3.5h.9m-0.9 0.5h.9m-0.9-4.5h.9m-0.9 4.5h.9m-0.9 0h.9m-0.9-2h.9m-0.9 1.5h.9m-0.9-1h.9m-0.9 0h.9m-0.9-2h.9m-0.9-1.5h.9m-0.9 0.5h.9m-0.4 4.5h.9m-0.9-3h.9m-0.9 2.5h.9m-0.9-0.5h.9m-0.9 1.5h.9m-0.9-4h.9m-0.9 0.5h.9m-0.9 3.5h.9m-0.9-2h.9m-0.4-3.5h.9m-0.9-0.5h.9m21.1 5.5h.9m-0.9 0h.9m-0.4 0.5h.9m-0.9 0h.9m-0.9-2h.9m-0.9 0h.9m-0.4 1h.9m-0.9 1h.9m-0.9-4h.9m-0.9 0.5h.9m-0.9 1.5h.9m-0.9-1h.9m-0.9 0.5h.9m-0.9 2h.9m-0.9-1.5h.9m-0.9-1h.9m-0.4-3h.9m-0.9 2h.9m-0.9-2h.9m-0.9 0.5h.9m-0.9 4.5h.9m-0.9 0h.9m-0.9 0h.9m-0.9-4h.9m-0.9 0.5h.9m-0.9-1.5h.9m-0.9 1h.9m-0.9 3h.9m-0.9-3.5h.9m-0.4 0h.9m-0.9 2h.9m-0.9 0.5h.9m-0.9-3h.9m-0.4 2h.9m-0.9 1.5h.9m-0.9 1.5h.9m-0.9 0.5h.9m-0.9-5.5h.9m-0.4 6h.9m-0.9-6h.9m-0.9 4h.9m-0.9-2.5h.9m-0.9-1h.9m-0.9 4h.9m-0.4-4.5h.9m-0.9 2.5h.9m-0.9 2.5h.9m-0.4-3h.9m-0.4-1.5h.9m-0.9 3h.9m-0.9-1.5h.9m-0.9-0.5h.9m-0.9-1h.9m-0.4 3.5h.9m-0.9 1.5h.9m-0.9-4.5h.9m0.1 4.5h.9m-0.9-2h.9m-0.4-0.5h.9m-0.9-1.5h.9m0.6-1.5h.9m2.1 4.5h.9m2.1-4.5h.9m39.1 4h.9m-0.4 2h.9m-0.9-1h.9m0.1-5h.9m0.1 3.5h.9m-0.4-3h.9m-0.9 4h.9m-0.4-0.5h.9m-0.9-4h.9m-0.9 1.5h.9m-0.4 1.5h.9m-0.9-0.5h.9m-0.9 0.5h.9m-0.4 1.5h.9m-0.4 0h.9m-0.9-4h.9m-0.4 0h.9m-0.4 4h.9m-0.9-3h.9m-0.9-1h.9m-0.9 2h.9m-0.9-1.5h.9m-0.9 1h.9m-0.4-1.5h.9m-0.9-0.5h.9m-0.9 2.5h.9m-0.9 1h.9m-0.9 2.5h.9m-0.9-0.5h.9m-0.4-0.5h.9m-0.9-4h.9m-0.9 1h.9m-0.9-1.5h.9m-0.9-0.5h.9m-0.9 4h.9m-0.9 1.5h.9m-0.9-0.5h.9m-0.9-3h.9m-0.9-1h.9m-0.9 4.5h.9m-0.9-2.5h.9m-0.9 1.5h.9m-0.9 0h.9m-0.9-1h.9m-0.9 1.5h.9m-0.4-5h.9m-0.9 5.5h.9m-0.9-4.5h.9m-0.9 2h.9m-0.9 1.5h.9m-0.9-3h.9m-0.9-1.5h.9m-0.9 3h.9m-0.9-1.5h.9m-0.9-1h.9m-0.9 3h.9m-0.9-2.5h.9m-0.9 1h.9m-0.9-1h.9m-0.9 1h.9m-0.4 2.5h.9m-0.9 0.5h.9m-0.9-1h.9m-0.9 2h.9m-0.9-1h.9m-0.9-0.5h.9m-0.9-2.5h.9m-0.9 2.5h.9m-0.9-1h.9m-0.9 0h.9m-0.9-0.5h.9m-0.4 1h.9m-0.9 1h.9m-0.9 0h.9m-0.9 0h.9m-0.9-0.5h.9m-0.9 1.5h.9m-0.4-2h.9m-0.9 1h.9m-0.9 0h.9m-0.9-0.5h.9m-0.4 1.5h.9m-0.9-0.5h.9m-0.4 0.5h.9m-0.9-0.5h.9m-0.9 0.5h.9m-0.9 0h.9m14.1 0h.9m0.1-1.5h.9m5.6 0.5h.9m0.1 1h.9m-0.9-1h.9m-0.4 0.5h.9m-0.9 0.5h.9m-0.9-0.5h.9m-0.4 0.5h.9m-0.9-1h.9m-0.4-0.5h.9m-0.9 1.5h.9m-0.9-1h.9m-0.9 0h.9m-0.4 1h.9m-0.9-2h.9m-0.9-0.5h.9m-0.9 1h.9m-0.4-1.5h.9m-0.9-0.5h.9m-0.9 1h.9m-0.9 2.5h.9m-0.9-1.5h.9m-0.4-1h.9m-0.9 1h.9m-0.9-0.5h.9m-0.9-0.5h.9m-0.9 1.5h.9m-0.9-1h.9m-0.9 1.5h.9m-0.9-0.5h.9m-0.9-1.5h.9m-0.4 2.5h.9m-0.9 0h.9m-0.9-5h.9m-0.9 0.5h.9m-0.9-0.5h.9m-0.9 0.5h.9m-0.9 1.5h.9m-0.9-1.5h.9m-0.9 3h.9m-0.9-1h.9m-0.9 0h.9m-0.9-1h.9m-0.9-1.5h.9m-0.9 1h.9m-0.9-0.5h.9m-0.9 3h.9m-0.4-2.5h.9m-0.9 0.5h.9m-0.9-2h.9m-0.9 0h.9m-0.9-0.5h.9m-0.9 1h.9m-0.9-0.5h.9m-0.9 5.5h.9m-0.4-5.5h.9m-0.9 5.5h.9m-0.9-6h.9m-0.9 4h.9m-0.9-2h.9m-0.9 0h.9m-0.9 0.5h.9m-0.4-2.5h.9m-0.9 1h.9m-0.4-0.5h.9m-0.9 1.5h.9m-0.9-1h.9m-0.9 5h.9m-0.9-5h.9m-0.9 2h.9m-0.9-3h.9m-0.9 2h.9m-0.9-2h.9m-0.4 4.5h.9m-0.9-1.5h.9m-0.9-1h.9m-0.9-0.5h.9m-0.9 3h.9m-0.4-3.5h.9m-0.9 5h.9m-0.9-5.5h.9m-0.9 4h.9m-0.9 1h.9m-0.9-5.5h.9m-0.9 5h.9m-0.9 1h.9m-0.9-4.5h.9m-0.4 0h.9m-0.9-1h.9m-0.9 4.5h.9m-0.9-3h.9m-0.9-2h.9m-0.9 3.5h.9m-0.9 1h.9m-0.4-2h.9m-0.9-2h.9m-0.9 3h.9m-0.4 0.5h.9m-0.9-3.5h.9m-0.4-0.5h.9m-0.9 6h.9m-0.9-4h.9m-0.9 3.5h.9m-0.4-1.5h.9m-0.9 1h.9m-0.9-2.5h.9m-0.9-0.5h.9m-0.9 1h.9m-0.4-2.5h.9m-0.9 2h.9m-0.9 0h.9m-0.4 0h.9m-0.9 1h.9m-0.9-1h.9m-0.9-0.5h.9m-0.9-1.5h.9m-0.9 0.5h.9m-0.9 0h.9m-0.9 1.5h.9m-0.9-1h.9m-0.4 1h.9m-0.9-2h.9m-0.9 5.5h.9m-0.9 0h.9m-0.4-5.5h.9m-0.9 2h.9m-0.9-2.5h.9m-0.9 4.5h.9m-0.9-3h.9m-0.4 4.5h.9m-0.9-5.5h.9m-0.9 1.5h.9m-0.9-1.5h.9m-0.4 2.5h.9m-0.9-2.5h.9m-0.9 2.5h.9m-0.9-2.5h.9m-0.9 0.5h.9m-0.9 2h.9m-0.9-3h.9m-0.9 6h.9m-0.4-4.5h.9m-0.9 4h.9m-0.9-5h.9m-0.4 4h.9m-0.9-3h.9m-0.9 4.5h.9m-0.4-5.5h.9m-0.9 2.5h.9m-0.9 3h.9m-0.4-5h.9m-0.9 4.5h.9m-0.9 0.5h.9m-0.9-5.5h.9m-0.9 2.5h.9m-0.4 2h.9m-0.9-0.5h.9m0.1-4.5h.9m-0.4 4h.9m-0.9 2h.9m-0.9-3.5h.9m-0.9-2h.9m-0.9 5.5h.9m-0.9-3h.9m-0.4 1h.9m-0.9 0.5h.9m-0.9-1h.9m-0.4-1h.9m-0.9 3.5h.9m-0.9 0h.9m-0.9-5.5h.9m-0.9-0.5h.9m-0.4 0.5h.9m-0.4-0.5h.9m-0.4 2h.9m-0.4 2h.9m-0.9 1.5h.9m-0.4-1.5h.9m-0.9 0.5h.9m-0.9-1h.9m-0.9 0h.9m-0.4-3h.9m-0.9 5.5h.9m-0.9-0.5h.9m-0.9 0.5h.9m-0.9 0h.9m-0.9-3.5h.9m-0.9-1.5h.9m-0.9 1h.9m-0.9 1.5h.9m-0.4 2.5h.9m-0.9-1.5h.9m-0.9 0.5h.9m-0.9-4h.9m-0.4 3h.9m-0.9-3.5h.9m-0.9 1h.9m-0.9-1.5h.9m-0.4 6h.9m-0.9-1h.9m-0.9-0.5h.9m-0.9-0.5h.9m-0.9 0h.9m-0.9-1h.9m-0.9 2h.9m-0.9-2h.9m-0.4-1h.9m-0.9 2.5h.9m-0.9-0.5h.9m-0.9-2h.9m-0.9 1.5h.9m-0.4 2h.9m-0.9-2.5h.9m-0.9 0.5h.9m-0.9-1h.9m-0.9-0.5h.9m-0.9 1.5h.9m-0.9 2h.9m-0.9 0.5h.9m-0.9-4h.9m-0.9-0.5h.9m-0.9 0.5h.9m-0.9 1h.9m-0.9-1.5h.9m-0.9 1h.9m-0.9 2h.9m-0.9 0h.9m-0.9-1h.9m-0.9 2h.9m-0.4-1.5h.9m-0.9-3.5h.9m-0.9 2h.9m-0.9 3h.9m-0.9-5.5h.9m-0.9 4.5h.9m-0.9-3h.9m-0.9-1.5h.9m-0.9 2h.9m-0.9-2h.9m-0.9 6h.9m21.1 0h.9m-0.9-0.5h.9m-0.4 0h.9m-0.9-0.5h.9m-0.4 0.5h.9m-0.9 0.5h.9m-0.9-1.5h.9m-0.4-1.5h.9m-0.9 0.5h.9m-0.9 1h.9m-0.9 0.5h.9m-0.9-1.5h.9m-0.9 2.5h.9m-0.9-3h.9m-0.4 1.5h.9m-0.9-2h.9m-0.9 0h.9m-0.9-0.5h.9m-0.4 3h.9m-0.9-2.5h.9m-0.9-2h.9m-0.9 2h.9m-0.9 2.5h.9m-0.9 0h.9m-0.9-2.5h.9m-0.9-2.5h.9m-0.9 2h.9m-0.9-1h.9m-0.9-1h.9m-0.9 2.5h.9m-0.4-2h.9m-0.9 2.5h.9m-0.9-1.5h.9m-0.9 2.5h.9m-0.9 1.5h.9m-0.9-1.5h.9m-0.9 0.5h.9m-0.9-0.5h.9m-0.9-2.5h.9m-0.9 4.5h.9m-0.9-3h.9m-0.9 1.5h.9m-0.4-4.5h.9m-0.9 3h.9m-0.9-1.5h.9m-0.9-1.5h.9m-0.9 1.5h.9m-0.9 0h.9m-0.4-1h.9m-0.9 2.5h.9m-0.9 1.5h.9m-0.9-4.5h.9m-0.9 0.5h.9m-0.9-0.5h.9m-0.9 0.5h.9m-0.4 2h.9m-0.4-2.5h.9m-0.9 0h.9m-0.4 5.5h.9m-0.9-4.5h.9m-0.4 2h.9m-0.9-3h.9m-0.9 1h.9m-0.9 3.5h.9m-0.9-1h.9m1.1-2.5h.9m3.1 1h.9m-0.4 1.5h.9m2.6-0.5h.9m32.6 1h.9m2.1-2.5h.9m0.1-1h.9m0.1 5.5h.9m0.1-4h.9m-0.4 0h.9m-0.9 2h.9m-0.4 1h.9m-0.9 0h.9m-0.4-4.5h.9m-0.9 5h.9m-0.9-2.5h.9m-0.4-1h.9m-0.4 0h.9m-0.9-1h.9m-0.4-0.5h.9m-0.9 1h.9m-0.9 2h.9m-0.9 2h.9m-0.9-4.5h.9m-0.9 3.5h.9m-0.9-1h.9m-0.9-1h.9m-0.9 1.5h.9m-0.4-2h.9m-0.9-1.5h.9m-0.9 0.5h.9m-0.9 3h.9m-0.4-4h.9m-0.9 5h.9m-0.9-2h.9m-0.9 1h.9m-0.9 0.5h.9m-0.9-4.5h.9m-0.9 1h.9m-0.9 0.5h.9m-0.9 1.5h.9m-0.9 1.5h.9m-0.9-2.5h.9m-0.9 1h.9m-0.4-2.5h.9m-0.9 2h.9m-0.9 1.5h.9m-0.9-2.5h.9m-0.4-1h.9m-0.9 2.5h.9m-0.9-1.5h.9m-0.9 2.5h.9m-0.9-1h.9m-0.9-1.5h.9m-0.9 1.5h.9m-0.4 0h.9m-0.9-2h.9m-0.9 4h.9m-0.9-3h.9m-0.9-1.5h.9m-0.9 5h.9m-0.9-5h.9m-0.9 5h.9m-0.9-1.5h.9m-0.9-1.5h.9m-0.9 0.5h.9m-0.9-2h.9m-0.9-1h.9m-0.9 1.5h.9m-0.4 3h.9m-0.9 0h.9m-0.9 1h.9m-0.9 0h.9m-0.9 0.5h.9m-0.9-1h.9m-0.9-0.5h.9m-0.9 0h.9m-0.9-1h.9m-0.9 2.5h.9m-0.4 0h.9m-0.9-0.5h.9m-0.9 0.5h.9m-0.9-0.5h.9m-0.9 0h.9m-0.9 0h.9m-0.4 0.5h.9m-0.9 0h.9m28.1 0h.9m-0.9-0.5h.9m-0.4-1h.9m-0.9 0.5h.9m-0.9 0h.9m-0.4 0.5h.9m-0.9 0h.9m-0.9 0h.9m-0.9-1h.9m-0.9 1.5h.9m-0.9-1.5h.9m-0.9 0h.9m-0.9 0.5h.9m-0.9 1h.9m-0.9-1.5h.9m-0.9 0h.9m-0.9 0.5h.9m-0.9 1h.9m-0.9-1.5h.9m-0.9 0.5h.9m-0.4-1.5h.9m-0.9 1h.9m-0.9 1h.9m-0.9-2h.9m-0.9 1.5h.9m-0.9-1h.9m-0.9 1.5h.9m-0.4-1.5h.9m-0.9 0.5h.9m-0.9-2.5h.9m-0.9 0h.9m-0.9 4h.9m-0.9-3.5h.9m-0.9-1.5h.9m-0.9-0.5h.9m-0.9 1h.9m-0.9 3h.9m-0.9-3h.9m-0.4 3h.9m-0.9-0.5h.9m-0.9 1.5h.9m-0.9-1.5h.9m-0.9-4h.9m-0.9 4h.9m-0.9-3.5h.9m-0.9 0.5h.9m-0.9 3h.9m-0.9-1.5h.9m-0.9-2h.9m-0.9 1.5h.9m-0.9-2h.9m-0.9 6h.9m-0.4-3.5h.9m-0.9 3.5h.9m-0.9-3.5h.9m-0.9 2h.9m-0.9-2.5h.9m-0.9-2h.9m-0.9 0.5h.9m-0.9-0.5h.9m-0.9 4.5h.9m-0.4-3h.9m-0.9-0.5h.9m-0.9 2h.9m-0.9-2.5h.9m-0.9 4.5h.9m-0.9-1.5h.9m-0.9-0.5h.9m-0.9 0.5h.9m-0.9 0.5h.9m-0.9 2h.9m-0.9-5.5h.9m-0.4 4.5h.9m-0.9-1.5h.9m-0.9-2.5h.9m-0.9 0.5h.9m-0.9-0.5h.9m-0.9 2.5h.9m-0.9 0.5h.9m-0.4-2.5h.9m-0.9 2.5h.9m-0.9 1.5h.9m-0.9-0.5h.9m-0.9-3h.9m-0.9 1.5h.9m-0.9-1.5h.9m-0.4 1.5h.9m-0.9-0.5h.9m-0.9 1.5h.9m-0.9 1h.9m-0.9-3h.9m-0.9 1h.9m-0.9 0h.9m-0.9 0h.9m-0.4 0h.9m-0.9-2h.9m-0.9 3h.9m-0.9-1.5h.9m-0.9 1.5h.9m-0.9-2.5h.9m-0.4 2.5h.9m-0.9-1h.9m-0.9-3.5h.9m-0.9 3h.9m-0.9 0h.9m-0.9 2h.9m-0.9-3.5h.9m-0.9 4.5h.9m-0.4-3.5h.9m-0.9 1h.9m-0.9-2h.9m-0.9 2.5h.9m-0.9-0.5h.9m-0.9-1.5h.9m-0.9 3.5h.9m-0.4-5h.9m-0.9 2.5h.9m-0.9-1h.9m-0.4-0.5h.9m-0.9 2.5h.9m-0.9 0.5h.9m-0.9-2h.9m-0.9-0.5h.9m-0.9-1h.9m-0.9 2.5h.9m-0.9-2.5h.9m-0.4 3h.9m-0.9 2h.9m-0.4-3h.9m-0.9-1.5h.9m-0.9 4.5h.9m-0.9-1.5h.9m-0.9-0.5h.9m-0.9-4h.9m-0.9 6h.9m-0.4-2.5h.9m-0.9 1.5h.9m-0.9-1h.9m-0.9 1h.9m-0.9-5h.9m-0.9 0.5h.9m-0.4 1h.9m-0.9 1h.9m-0.9 0h.9m-0.9 0h.9m-0.9 0.5h.9m-0.9-2h.9m-0.9 1h.9m-0.9-0.5h.9m-0.4 2.5h.9m-0.9-3.5h.9m-0.9 5h.9m-0.9 0.5h.9m-0.9-3.5h.9m-0.9 1.5h.9m0.1-4h.9m-0.9 1h.9m-0.4 3.5h.9m-0.9-2.5h.9m-0.9 3h.9m-0.9-5h.9m-0.9 2.5h.9m-0.9 1h.9m-0.9 2.5h.9m-0.4 0h.9m-0.9-4.5h.9m-0.4-1.5h.9m-0.9 4h.9m-0.9-0.5h.9m-0.4-3.5h.9m-0.9 3.5h.9m-0.9-3h.9m-0.9 0h.9m-0.9 1.5h.9m-0.4 4h.9m-0.9-1.5h.9m-0.9-0.5h.9m-0.9-1h.9m-0.4 1h.9m-0.4-3.5h.9m-0.9 2h.9m-0.9-2h.9m-0.9 0h.9m-0.9-0.5h.9m-0.9 0h.9m-0.9 3h.9m-0.4-2h.9m-0.4 5h.9m-0.9-5.5h.9m-0.9 3.5h.9m-0.4-4h.9m-0.9 3h.9m-0.9 0h.9m-0.4 0h.9m-0.9-0.5h.9m-0.9 3h.9m-0.9-0.5h.9m-0.9 1h.9m-0.4-4h.9m-0.9 3h.9m-0.9-2h.9m-0.9 2.5h.9m-0.9-0.5h.9m-0.9-1.5h.9m-0.9 2h.9m-0.9-3.5h.9m-0.9-1h.9m-0.4-0.5h.9m-0.9 2.5h.9m-0.9-1h.9m-0.9-2h.9m-0.9 2h.9m-0.9-2h.9m-0.9 2h.9m-0.9-2h.9m-0.9 5h.9m-0.4-3.5h.9m-0.9 3h.9m-0.9-2h.9m-0.4-0.5h.9m-0.9 3.5h.9m-0.9-4h.9m-0.9 3h.9m-0.9-1h.9m-0.9-3h.9m-0.9 5.5h.9m-0.9-1.5h.9m-0.9-3h.9m-0.9 0.5h.9m-0.9 2h.9m-0.4-4h.9m-0.9 3.5h.9m-0.9 0h.9m-0.9 2h.9m-0.9 0.5h.9m-0.9-2h.9m-0.9-2h.9m-0.9 4h.9m-0.9-6h.9m-0.4 6h.9m-0.9 0h.9m2.6-2h.9m18.1 1.5h.9m-0.4 0h.9m-0.9 0.5h.9m-0.4-1h.9m-0.9-1.5h.9m-0.9 1.5h.9m-0.9-0.5h.9m-0.9 1h.9m-0.9 0.5h.9m-0.9-2h.9m-0.9 0h.9m-0.4 0.5h.9m-0.9-1.5h.9m-0.9 3h.9m-0.9-2h.9m-0.9 1h.9m-0.9-1.5h.9m-0.9-1h.9m-0.4-0.5h.9m-0.9 0h.9m-0.9 3.5h.9m-0.9-4h.9m-0.9 1h.9m-0.9-0.5h.9m-0.9-1h.9m-0.9 2h.9m-0.9 2.5h.9m-0.4-3.5h.9m-0.9 2h.9m-0.9-1h.9m-0.9-1h.9m-0.9 2.5h.9m-0.9-4.5h.9m-0.9 3h.9m-0.4 2h.9m-0.9-4.5h.9m-0.9 0h.9m-0.9 3.5h.9m-0.9-4h.9m-0.9 4h.9m-0.9-0.5h.9m-0.4 1h.9m-0.9-0.5h.9m-0.9-3h.9m-0.9-0.5h.9m-0.9 0.5h.9m-0.9-1h.9m-0.9 5h.9m-0.4-1.5h.9m-0.4 2.5h.9m-0.9-3h.9m-0.9-2h.9m-0.4 0h.9m-0.9 3.5h.9m-0.4 1.5h.9m-0.4-1.5h.9m-0.9 1.5h.9m0.1-5.5h.9m-0.9 4.5h.9m-0.4-0.5h.9m-0.9 0h.9m0.1-4.5h.9m-0.4 5h.9m-0.4-4h.9m0.6 4.5h.9m-358.9 2.5h.9m3.1-1h.9m-0.4 0.5h.9m-0.9 2.5h.9m-0.4-3.5h.9m-0.4 0h.9m-0.4 0.5h.9m-0.9 0h.9m-0.4 3h.9m-0.9-3.5h.9m-0.9 0h.9m-0.4 0h.9m-0.9 3.5h.9m-0.9-3.5h.9m-0.4 0h.9m-0.9 4h.9m-0.9-3.5h.9m-0.9 0h.9m-0.4 1h.9m-0.9 1h.9m-0.9-1h.9m-0.9 0.5h.9m-0.9-1.5h.9m-0.4 3h.9m-0.9-2.5h.9m-0.9 4h.9m-0.9-4.5h.9m-0.9 1h.9m-0.9 3h.9m-0.4-4h.9m-0.9 0h.9m-0.9 0h.9m-0.9 1.5h.9m-0.4-0.5h.9m-0.9 0h.9m-0.9 3h.9m-0.9-2h.9m-0.4 1h.9m-0.9-2h.9m-0.9-1.5h.9m-0.9 3h.9m-0.9 1.5h.9m-0.9-3h.9m-0.9-1.5h.9m-0.9 0.5h.9m-0.9 0h.9m-0.9 1.5h.9m-0.9-0.5h.9m-0.9-1.5h.9m-0.4 4h.9m-0.9-1.5h.9m-0.9-2h.9m-0.9-0.5h.9m-0.9 0h.9m-0.9 1h.9m-0.9 1.5h.9m-0.9-1h.9m-0.4-0.5h.9m-0.9 0h.9m-0.9-0.5h.9m-0.9 1h.9m-0.9-1h.9m-0.9 2h.9m-0.4-0.5h.9m-0.9-0.5h.9m-0.9 1h.9m-0.9 0.5h.9m-0.9 0h.9m-0.9-2h.9m-0.9 3h.9m-0.4-1.5h.9m-0.9 0.5h.9m-0.9 2h.9m-0.9-1.5h.9m-0.4 0h.9m-0.9 0h.9m-0.9 1h.9m-0.9-2h.9m-0.9 2h.9m-0.9-2h.9m-0.4 0.5h.9m-0.9 1h.9m-0.9-0.5h.9m-0.9 0h.9m-0.9 0h.9m-0.9 0h.9m-0.4 0h.9m-0.9 0.5h.9m-0.4 0h.9m-0.9 0.5h.9m-0.9-0.5h.9m-0.4 0.5h.9m-0.9 0h.9m-0.9 0.5h.9m-0.9 0h.9m-0.9-0.5h.9m-0.4 0.5h.9m-0.9 0h.9m-0.4 0h.9m-0.9 0h.9m-0.9 0h.9m8.1-4.5h.9m-0.4 4h.9m3.1 0.5h.9m0.6-1h.9m4.6 1h.9m-0.9 0h.9m-0.4 0h.9m-0.9 0h.9m-0.9-0.5h.9m-0.4-0.5h.9m-0.9 0h.9m-0.9 0.5h.9m-0.9 0.5h.9m-0.9 0h.9m-0.4-0.5h.9m-0.4 0h.9m-0.9-0.5h.9m-0.9 0.5h.9m-0.9-1.5h.9m-0.9 0.5h.9m-0.9-0.5h.9m-0.9 0.5h.9m-0.9 0h.9m-0.4 0h.9m-0.9 0.5h.9m-0.9-0.5h.9m-0.9-1h.9m-0.9 2h.9m-0.4-1h.9m-0.9-0.5h.9m-0.9 1.5h.9m-0.9 0.5h.9m-0.9-2h.9m-0.9-0.5h.9m-0.9 0h.9m-0.9 1h.9m-0.9-1.5h.9m-0.9 2h.9m-0.9-2h.9m-0.9 2.5h.9m-0.4-1.5h.9m-0.9 0h.9m-0.9 0h.9m-0.9 0h.9m-0.9-1h.9m-0.9 0.5h.9m-0.9 1.5h.9m-0.9-2.5h.9m-0.9 2.5h.9m-0.9-1h.9m-0.4 1.5h.9m-0.9-2.5h.9m-0.9 1.5h.9m-0.9 1.5h.9m-0.9-2h.9m-0.9 0h.9m-0.4 2h.9m-0.9-3.5h.9m-0.9 0h.9m-0.9-1h.9m-0.9 2.5h.9m-0.9 0.5h.9m-0.9 1.5h.9m-0.9-2h.9m-0.9-1h.9m-0.9 0.5h.9m-0.9 0h.9m-0.9 2h.9m-0.9-4h.9m-0.9 0h.9m-0.4 3h.9m-0.9 1.5h.9m-0.9-1.5h.9m-0.9 0.5h.9m-0.9-3.5h.9m-0.9 0.5h.9m-0.9-0.5h.9m-0.9-0.5h.9m-0.9 4h.9m-0.9-3h.9m-0.4-1h.9m-0.9 2.5h.9m-0.9 0h.9m-0.9-2h.9m-0.4 0h.9m-0.9 3.5h.9m-0.9-1h.9m-0.9 0h.9m-0.9-3h.9m-0.9 0h.9m-0.9 1h.9m-0.9 3.5h.9m-0.9 0h.9m-0.4-4.5h.9m-0.9 3.5h.9m-0.9 1h.9m-0.9-1.5h.9m-0.4-2.5h.9m-0.9 2h.9m-0.9 2h.9m-0.4-3.5h.9m-0.4 0.5h.9m-0.9 0h.9m-0.9-0.5h.9m-0.9-1h.9m-0.9 1.5h.9m-0.4 1h.9m-0.9-2h.9m-0.9 0h.9m-0.9 4h.9m-0.4-1h.9m-0.9 0h.9m-0.4-1h.9m-0.9 1h.9m-0.9-1h.9m-0.9 0h.9m-0.9 2h.9m-0.4-3.5h.9m-0.9 2.5h.9m-0.9-1.5h.9m-0.9-2h.9m-0.9 3h.9m-0.4-1h.9m-0.4 1.5h.9m-0.4-3h.9m-0.9 1h.9m-0.9 0h.9m-0.9-1.5h.9m-0.9 5h.9m-0.4-4h.9m-0.9 0h.9m-0.9 4h.9m-0.4-4.5h.9m-0.9 4.5h.9m-0.9-2.5h.9m-0.4 1h.9m-0.9 0h.9m-0.4-3h.9m-0.9 3.5h.9m-0.9 1h.9m-0.4-0.5h.9m-0.9-3h.9m-0.9 2h.9m-0.9 0h.9m-0.4 0.5h.9m-0.9-3h.9m-0.9 2h.9m-0.9 1.5h.9m-0.9-1.5h.9m-0.4-2h.9m-0.9 0h.9m-0.4-0.5h.9m-0.9 1h.9m-0.9 3h.9m-0.9-3h.9m-0.9-0.5h.9m-0.9 0h.9m-0.9 0.5h.9m-0.9 1.5h.9m-0.4-1h.9m-0.9 1h.9m-0.4 1.5h.9m-0.9-4h.9m-0.9 0h.9m-0.9 1h.9m-0.4 0h.9m-0.9-1h.9m-0.9 3.5h.9m-0.9-2h.9m-0.9 0h.9m-0.9 0.5h.9m-0.9-1.5h.9m-0.9-1h.9m-0.4 1h.9m-0.9 2.5h.9m-0.9-1h.9m-0.9 2h.9m-0.4-1.5h.9m-0.9 0h.9m-0.9 1.5h.9m-0.9-1.5h.9m-0.4-2h.9m-0.9 2h.9m-0.4 0.5h.9m-0.9 0h.9m-0.9 0.5h.9m-0.9 0h.9m-0.4 1h.9m-0.9-5h.9m-0.9 1.5h.9m-0.9-0.5h.9m-0.9 0h.9m-0.4-1h.9m-0.4 4.5h.9m-0.9-3.5h.9m-0.9 1h.9m-0.9 0.5h.9m-0.4 2h.9m-0.9-2.5h.9m-0.9-0.5h.9m-0.9 2.5h.9m-0.9-3h.9m-0.9 3h.9m-0.9 1h.9m-0.9-1h.9m-0.9 0h.9m-0.4-2.5h.9m-0.9 3.5h.9m-0.9-2h.9m-0.9-3h.9m-0.9 1.5h.9m-0.9 2.5h.9m-0.9-2.5h.9m-0.4 2h.9m-0.9-2h.9m-0.9 1h.9m-0.9 1h.9m-0.9 1.5h.9m-0.9-0.5h.9m-0.9-3.5h.9m-0.9 3h.9m-0.9 0h.9m-0.9 0.5h.9m-0.9 0.5h.9m-0.4 0h.9m-0.9-2h.9m-0.9-3h.9m-0.9 1.5h.9m-0.9 1.5h.9m-0.9-2.5h.9m-0.9 2.5h.9m-0.9 1h.9m-0.4 0.5h.9m-0.9-2h.9m-0.9-0.5h.9m-0.9 2h.9m-0.9 1h.9m-0.9-0.5h.9m-0.9-0.5h.9m-0.9 1h.9m-0.9-3h.9m-0.4 2h.9m-0.9 0.5h.9m-0.9 0.5h.9m-0.4 0h.9m1.6-2.5h.9m13.6 2.5h.9m-0.4-0.5h.9m-0.9 0h.9m-0.4-1h.9m-0.9 0.5h.9m-0.4-0.5h.9m-0.9 0.5h.9m-0.9 1h.9m-0.9 0h.9m-0.9 0h.9m-0.9-1h.9m-0.9-0.5h.9m-0.4 1h.9m-0.9 0.5h.9m-0.9-1.5h.9m-0.9-0.5h.9m-0.9 0.5h.9m-0.4-1.5h.9m-0.9 0.5h.9m-0.9 0h.9m-0.9-1h.9m-0.9 0.5h.9m-0.9 1.5h.9m-0.9-0.5h.9m-0.4-2.5h.9m-0.9 1h.9m-0.9 0.5h.9m-0.4-2h.9m-0.9 1.5h.9m-0.9 0h.9m-0.9-1.5h.9m-0.9 4h.9m-0.9-4h.9m-0.9 4h.9m-0.9-4h.9m-0.9 1h.9m-0.9 3.5h.9m-0.9-4h.9m-0.9 1.5h.9m-0.4 0h.9m-0.9-1h.9m-0.9-1h.9m-0.9 1.5h.9m-0.9 0h.9m-0.9-1h.9m-0.4 3h.9m-0.9-3h.9m-0.9 3h.9m-0.9-3h.9m-0.9 4.5h.9m-0.4-3h.9m-0.9-1h.9m-0.9-1h.9m-0.9 4h.9m-0.9-4h.9m-0.9 1h.9m-0.4 3.5h.9m-0.4-4h.9m-0.9 0.5h.9m-0.9 0.5h.9m-0.4-1h.9m-0.4-0.5h.9m-0.9 0.5h.9m-0.4 0h.9m0.1-0.5h.9m-0.4 0.5h.9m-0.9 0h.9m53.1 1.5h.9m1.1-1.5h.9m-0.4-0.5h.9m-0.9 3h.9m-0.9-1h.9m-0.9 1.5h.9m-0.9-3h.9m-0.4 2.5h.9m-0.9-1.5h.9m-0.9 0.5h.9m-0.9 0h.9m-0.4-0.5h.9m-0.9 2.5h.9m-0.4-1.5h.9m-0.9-2h.9m-0.9-0.5h.9m-0.4 2h.9m-0.9-2h.9m-0.9 4h.9m-0.9-2h.9m-0.9 0h.9m-0.9-1.5h.9m-0.9 1h.9m-0.4-1h.9m-0.9 0h.9m-0.9 0.5h.9m-0.9 1.5h.9m-0.9-2.5h.9m-0.9 2.5h.9m-0.9-2h.9m-0.4 1h.9m-0.9-1.5h.9m-0.9 0.5h.9m-0.9 1h.9m-0.9 2.5h.9m-0.9-2.5h.9m-0.9 3.5h.9m-0.9-3.5h.9m-0.4 0.5h.9m-0.9-1.5h.9m-0.9 1h.9m-0.9 0.5h.9m-0.9 0h.9m-0.9-1h.9m-0.4 2.5h.9m-0.9-1h.9m-0.9 0.5h.9m-0.9-1h.9m-0.9 1.5h.9m-0.9-0.5h.9m-0.9 0h.9m-0.4 0.5h.9m-0.9-1h.9m-0.9-0.5h.9m-0.9 1h.9m-0.4 0h.9m-0.9 1h.9m-0.9-0.5h.9m-0.9-0.5h.9m-0.9 0h.9m-0.9-0.5h.9m-0.9 0h.9m-0.4 2h.9m-0.9-1.5h.9m-0.4 0.5h.9m-0.9 1h.9m-0.9-1.5h.9m-0.4 0.5h.9m-0.9 0h.9m-0.9 1.5h.9m-0.9-0.5h.9m-0.4-1h.9m-0.9 0.5h.9m-0.9-0.5h.9m-0.9 0.5h.9m-0.4 0h.9m-0.9 0h.9m-0.9 0h.9m-0.4 0.5h.9m-0.9 0h.9m-0.9-0.5h.9m-0.9 0.5h.9m-0.4 0h.9m-0.9-0.5h.9m-0.9 1h.9m-0.9-0.5h.9m-0.9 0h.9m-0.9-0.5h.9m-0.4 0.5h.9m-0.9 0h.9m-0.9 0h.9m-0.9 0.5h.9m-0.9 0h.9m-0.9 0h.9m-0.4-0.5h.9m-0.9 0h.9m-0.9 0.5h.9m-0.4 0h.9m-0.9-0.5h.9m-0.9 0h.9m-0.4 0h.9m-0.9 0h.9m-0.4 0.5h.9m-0.9-0.5h.9m-0.9 0.5h.9m-0.4 0h.9m-0.4 0h.9m-0.4 0h.9m-0.9 0h.9m-0.4 0h.9m-0.4 0h.9m-0.9 0h.9m-0.9 0h.9m-0.9 0h.9m-0.4 0h.9m-0.9 0h.9m-0.9 0h.9m-0.4 0h.9m-0.4 0h.9m-0.4 0h.9m-0.4 0h.9m-0.9 0h.9m-0.9 0h.9m-0.9-0.5h.9m-0.9 0.5h.9m-0.4 0h.9m-0.9-0.5h.9m-0.9 0.5h.9m-0.9-0.5h.9m-0.9-1.5h.9m-0.4 1.5h.9m-0.9 0.5h.9m0.1 0h.9m-0.4-1h.9m-0.9 1h.9m-0.4-1h.9m-0.9 0.5h.9m-0.4-0.5h.9m-0.4 0.5h.9m-0.9-1h.9m-0.9 1h.9m-0.4 0h.9m-0.9-0.5h.9m-0.9 1h.9m-0.9-0.5h.9m-0.9-0.5h.9m-0.4 0.5h.9m-0.9-1h.9m-0.9 1.5h.9m-0.9-1.5h.9m-0.9 0h.9m-0.4 0h.9m-0.9 0.5h.9m-0.9 1h.9m-0.4-1.5h.9m-0.9 1.5h.9m-0.9-2h.9m-0.9 0h.9m-0.9 1h.9m-0.9 0.5h.9m-0.9 0.5h.9m-0.9-0.5h.9m-0.4-1h.9m-0.9-1h.9m-0.9 1h.9m-0.9 1.5h.9m-0.9-4h.9m-0.4 3.5h.9m-0.9-0.5h.9m-0.9-1.5h.9m-0.9 0h.9m-0.4-0.5h.9m-0.4 0.5h.9m-0.4 1h.9m-0.9-2h.9m-0.9 1h.9m-0.9-1.5h.9m-0.9 0.5h.9m-0.9 2h.9m-0.4-2.5h.9m-0.4-1h.9m-0.9 2.5h.9m-0.9 0.5h.9m-0.9 1h.9m-0.9-0.5h.9m-0.9-2.5h.9m-0.4-1h.9m-0.9 1h.9m-0.9 1h.9m-0.9-0.5h.9m-0.4-1.5h.9m-0.9 0.5h.9m-0.9-0.5h.9m-0.9 1.5h.9m-0.9-1h.9m-0.9 0.5h.9m-0.9 1h.9m-0.4 1h.9m-0.9-2h.9m-0.9 1h.9m-0.9 2.5h.9m-0.4-0.5h.9m-0.9-2.5h.9m-0.9 3.5h.9m-0.4-4.5h.9m-0.9-0.5h.9m-0.4 3h.9m-0.9-3h.9m-0.9 0.5h.9m-0.9 0.5h.9m-0.9 3h.9m-0.4-1.5h.9m-0.9-2h.9m-0.4-0.5h.9m-0.9 2.5h.9m-0.4-2.5h.9m-0.9 1.5h.9m-0.9 1.5h.9m-0.9-2.5h.9m-0.9 4h.9m-0.4 0h.9m-0.9-1h.9m-0.4-3h.9m-0.9 0h.9m-0.4 0.5h.9m0.1 0.5h.9m-0.4-1.5h.9m-0.9 4.5h.9m-0.4-4h.9m-0.9 4h.9m-0.9 0.5h.9m-0.4-3.5h.9m-0.9-0.5h.9m-0.9 3h.9m-0.4 0.5h.9m-0.9-2.5h.9m-0.9-1.5h.9m-0.9 1h.9m-0.9-1.5h.9m0.1 3.5h.9m-0.9 1h.9m-0.9-4.5h.9m-0.9 4h.9m0.1-4h.9m-0.9 0.5h.9m-0.9 4h.9m-0.9-1.5h.9m-0.4-0.5h.9m-0.4 2.5h.9m-0.9-3h.9m-0.9 2h.9m-0.4-1h.9m-0.9 0.5h.9m-0.4 0.5h.9m-0.9 0h.9m-0.9-1.5h.9m-0.9 1h.9m-0.9-2.5h.9m-0.4 2.5h.9m-0.9-3h.9m-0.9 0h.9m-0.9 1h.9m-0.9 1.5h.9m-0.4-2.5h.9m-0.4 4.5h.9m-0.4-2.5h.9m-0.9-1.5h.9m-0.9 2h.9m0.1-0.5h.9m-0.9 2.5h.9m-0.9-4h.9m-0.9 1.5h.9m0.1-1h.9m-0.9-1h.9m-0.4 1.5h.9m-0.9-1.5h.9m-0.9 2.5h.9m-0.4-0.5h.9m-0.4-2.5h.9m-0.9 1.5h.9m-0.9 2.5h.9m-0.4-3h.9m-0.9-1h.9m-0.9 1.5h.9m-0.9 1.5h.9m-0.4-1h.9m-0.9 0.5h.9m0.1-2.5h.9m-0.9 2h.9m-0.9 0.5h.9m-0.9-1h.9m-0.4 0.5h.9m-0.9 2.5h.9m-0.4-3h.9m-0.9 1h.9m-0.4-2h.9m-0.9 1.5h.9m-0.9-1h.9m-0.9 4h.9m-0.9 0h.9m-0.4-1h.9m-0.9-3h.9m-0.9 0.5h.9m-0.9 0h.9m-0.4-1.5h.9m-0.9 2.5h.9m-0.9-1.5h.9m-0.9-0.5h.9m-0.9-0.5h.9m-0.9 4.5h.9m-0.9-4h.9m-0.4 1.5h.9m-0.9-2h.9m-0.9 0h.9m-0.9 1.5h.9m-0.9-1h.9m-0.9 0.5h.9m-0.4 0.5h.9m-0.9 3h.9m-0.9-3h.9m-0.9 0.5h.9m-0.9-1.5h.9m-0.9-0.5h.9m-0.9 0.5h.9m-0.9 1h.9m-0.9-1h.9m-0.9 1h.9m-0.9 1h.9m-0.4-0.5h.9m-0.9-0.5h.9m-0.9 0.5h.9m-0.9 0.5h.9m-0.9 0.5h.9m-0.9 2h.9m-0.4-1h.9m-0.9-1.5h.9m-0.9 1h.9m-0.9 0h.9m-0.9 0.5h.9m-0.9-2h.9m-0.9 0.5h.9m-0.9 0h.9m-0.9-0.5h.9m-0.9 2.5h.9m-0.4-2h.9m-0.9 0.5h.9m-0.9 0h.9m-0.9 1h.9m-0.9 0h.9m-0.4 0.5h.9m-0.9 0.5h.9m-0.9-0.5h.9m-0.9-0.5h.9m-0.9 1h.9m-0.9-1h.9m-0.9 0h.9m-0.4 0.5h.9m-0.4 0.5h.9m-0.9 0h.9m-0.4 0h.9m12.6-0.5h.9m-0.4-0.5h.9m-0.9 0.5h.9m-0.9 0h.9m-0.4 0h.9m-0.9 0h.9m-0.9 0.5h.9m-0.9 0h.9m-0.9-1h.9m-0.4 0.5h.9m-0.9-0.5h.9m-0.9 0h.9m-0.9 0.5h.9m-0.9-1h.9m-0.4 1.5h.9m-0.9-2.5h.9m-0.9 2.5h.9m-0.9-0.5h.9m-0.9-0.5h.9m-0.4-1.5h.9m-0.9 2h.9m-0.9-0.5h.9m-0.4-1h.9m-0.9 1h.9m-0.9-1h.9m-0.9 0h.9m-0.4-2h.9m-0.9 3.5h.9m-0.9-1h.9m-0.9-2.5h.9m-0.9 1h.9m-0.9 2h.9m-0.9-2.5h.9m-0.4 1h.9m-0.9-0.5h.9m-0.9-0.5h.9m-0.9 2.5h.9m-0.4-1h.9m-0.9-1.5h.9m-0.9-1.5h.9m-0.9 5h.9m-0.4-2.5h.9m-0.9 1.5h.9m-0.9-2h.9m-0.4-2h.9m-0.9 1h.9m-0.9 3.5h.9m-0.9-2h.9m-0.9 1.5h.9m-0.4-1.5h.9m-0.9 1h.9m-0.9-0.5h.9m-0.9-3h.9m-0.9 0h.9m-0.4 1.5h.9m-0.4-1h.9m0.1 2.5h.9m-0.9-1h.9m0.1-2h.9m-0.4 4h.9m0.1-3h.9m-0.9 1h.9m-0.9-1h.9m-0.4 1h.9m44.1 0h.9m3.6-1.5h.9m-0.4-0.5h.9m-0.4 1h.9m-0.9-1h.9m-0.4 1h.9m-0.9-0.5h.9m0.1-0.5h.9m-0.9 0.5h.9m-0.9 0h.9m-0.4 0.5h.9m-0.9 3.5h.9m0.1-2.5h.9m-0.9-0.5h.9m-0.9 1.5h.9m-0.9 2h.9m-0.4-1h.9m-0.9-2h.9m-0.9-2h.9m-0.4 0h.9m-0.9 0.5h.9m-0.9 0.5h.9m-0.9-1h.9m-0.9 1.5h.9m-0.9-1.5h.9m-0.9 3h.9m-0.9-3h.9m-0.4 3h.9m-0.9 1.5h.9m-0.9-4h.9m-0.9-0.5h.9m-0.9 0h.9m-0.9 2.5h.9m-0.9-2.5h.9m-0.9 2.5h.9m-0.9 2.5h.9m-0.4-5h.9m-0.9 0.5h.9m-0.9 1h.9m-0.9 0.5h.9m-0.9-1h.9m-0.9 0h.9m-0.9 3h.9m-0.4-3.5h.9m-0.9 1h.9m-0.9 2h.9m-0.9-1.5h.9m-0.9 0h.9m-0.9-2h.9m-0.9 2.5h.9m-0.9-0.5h.9m-0.4-1h.9m-0.9 2.5h.9m-0.9-1.5h.9m-0.9 1h.9m-0.9 1h.9m-0.9-2h.9m-0.9-0.5h.9m-0.9-1.5h.9m-0.4 3h.9m-0.9-0.5h.9m-0.9 0.5h.9m-0.9 0.5h.9m-0.9-2h.9m-0.9 0.5h.9m-0.9 3h.9m-0.4-1.5h.9m-0.9 0.5h.9m-0.9-0.5h.9m-0.9-0.5h.9m-0.9 0.5h.9m-0.9-0.5h.9m-0.9-0.5h.9m-0.9 1h.9m-0.4-0.5h.9m-0.9 0h.9m-0.9-0.5h.9m-0.9 1h.9m-0.9 0.5h.9m-0.9-0.5h.9m-0.4-0.5h.9m-0.9 1h.9m-0.9-0.5h.9m-0.9 0.5h.9m-0.4 0.5h.9m-0.9-0.5h.9m-0.9 0.5h.9m-0.4 0h.9m-0.9 0h.9m-0.9-0.5h.9m-0.4 0.5h.9m-0.9 0.5h.9m-0.9 0h.9m-0.4 0h.9m-0.9 0h.9m-0.4 0h.9m7.6-0.5h.9m8.1 0h.9m0.1 0.5h.9m-0.4 0h.9m-0.9 0h.9m-0.9-0.5h.9m-0.9 0.5h.9m-0.4 0h.9m-0.9-0.5h.9m-0.9 0h.9m-0.9-0.5h.9m-0.4 1h.9m-0.9 0h.9m-0.9-1.5h.9m-0.9 1h.9m-0.9-0.5h.9m-0.9-0.5h.9m-0.9 1.5h.9m-0.4-1h.9m-0.9-0.5h.9m-0.9 1h.9m-0.9-1h.9m-0.4 0h.9m-0.4 0.5h.9m-0.9-0.5h.9m-0.4 0.5h.9m-0.9-1h.9m-0.9-0.5h.9m-0.9 1h.9m-0.9 0.5h.9m-0.9-1h.9m-0.4-1.5h.9m-0.9 0.5h.9m-0.9 2h.9m-0.9 1h.9m-0.9-3.5h.9m-0.9 0.5h.9m-0.9 2h.9m-0.9 0.5h.9m-0.4-3h.9m-0.9-0.5h.9m-0.9 2h.9m-0.9 1.5h.9m-0.9-3h.9m-0.4 2h.9m-0.9 0h.9m-0.9-3h.9m-0.9 1.5h.9m-0.9-1h.9m-0.9-0.5h.9m-0.9-0.5h.9m-0.9 2h.9m-0.9-0.5h.9m-0.9 1.5h.9m-0.4-1h.9m-0.9 0h.9m-0.9 3h.9m-0.9-4.5h.9m-0.4 1.5h.9m-0.9-1h.9m-0.9 3h.9m-0.9-2.5h.9m-0.9 2h.9m-0.9-0.5h.9m-0.9-2h.9m-0.9 2.5h.9m-0.4-3.5h.9m-0.9 2.5h.9m-0.9-2.5h.9m-0.9 4h.9m-0.9-3h.9m-0.9-1h.9m-0.9 1.5h.9m-0.9-1h.9m-0.9 0.5h.9m-0.9 0.5h.9m-0.4-0.5h.9m-0.9 0.5h.9m-0.9-1.5h.9m-0.9 1h.9m-0.9 0.5h.9m-0.4 3h.9m-0.9-0.5h.9m-0.4-4h.9m-0.9 0h.9m-0.9 3h.9m-0.9 0.5h.9m-0.9 1h.9m-0.4-4h.9m-0.9 2h.9m-0.9-1.5h.9m-0.9 1.5h.9m-0.9 0h.9m-0.4-2h.9m-0.9 0.5h.9m-0.9 3h.9m-0.9-4h.9m-0.4 5h.9m-0.4-3h.9m-0.9-2h.9m-0.4 1.5h.9m-0.9 3.5h.9m-0.9-1h.9m-0.4-1h.9m-0.9-0.5h.9m-0.9 0.5h.9m-0.4-2.5h.9m-0.9 2h.9m-0.4-2h.9m-0.9 0.5h.9m-0.9 3.5h.9m-0.4-4.5h.9m-0.9 2.5h.9m-0.4 0h.9m-0.9-2h.9m-0.9 0h.9m-0.9 2.5h.9m-0.9-2h.9m-0.4 1h.9m-0.9 0.5h.9m-0.9 2.5h.9m-0.9-4h.9m-0.9 3.5h.9m-0.9-1h.9m-0.9 1.5h.9m-0.4-3.5h.9m-0.9 3h.9m-0.9-3h.9m-0.9-0.5h.9m-0.9-0.5h.9m-0.9 4h.9m-0.9-3h.9m-0.9 3.5h.9m-0.4-3h.9m-0.9-1h.9m-0.9 0h.9m-0.4 0h.9m-0.4 2h.9m-0.9 2h.9m-0.4-3h.9m-0.4-0.5h.9m-0.9-1h.9m-0.4-0.5h.9m-0.9 3.5h.9m-0.4-0.5h.9m-0.4-2h.9m-0.9 2h.9m-0.9 2h.9m-0.4-2h.9m-0.9-0.5h.9m-0.4-1h.9m-0.4 3.5h.9m-0.9-0.5h.9m-0.4 0h.9m-0.4-1h.9m-0.9 0.5h.9m-0.4-4h.9m-0.4 5h.9m-0.9-2h.9m-0.9 1.5h.9m-0.4-4h.9m-0.9-0.5h.9m-0.9 1h.9m-0.4-0.5h.9m-0.9 2h.9m-0.9 1.5h.9m-0.4-2.5h.9m-0.9-1.5h.9m-0.9 2h.9m-0.9-1.5h.9m-0.9 4h.9m-0.9-4.5h.9m-0.9 3h.9m-0.4-2.5h.9m-0.9 1.5h.9m-0.9 0h.9m-0.9-0.5h.9m-0.9 0.5h.9m-0.9-2h.9m-0.9 2h.9m-0.9 0h.9m-0.9 0.5h.9m-0.4-1.5h.9m-0.9-1h.9m-0.9 0.5h.9m-0.9 2h.9m-0.4 0h.9m-0.9-0.5h.9m-0.9 1h.9m-0.9-3h.9m-0.9 4.5h.9m-0.9-2h.9m-0.9-2h.9m-0.9 2.5h.9m-0.9-2h.9m-0.9 2h.9m-0.4 2h.9m-0.9-3.5h.9m-0.9-1h.9m-0.9 1.5h.9m-0.9-1h.9m-0.9 1.5h.9m-0.9 0.5h.9m-0.9 0.5h.9m-0.9-2.5h.9m-0.9 1h.9m-0.4-1h.9m-0.9 1.5h.9m-0.9-0.5h.9m-0.9 0.5h.9m-0.9 1h.9m-0.9 1.5h.9m-0.9-4h.9m-0.9 1h.9m-0.4 1h.9m-0.9 1h.9m-0.9 0.5h.9m-0.9-1h.9m-0.9 0h.9m-0.4 0h.9m-0.9 0.5h.9m-0.9-0.5h.9m-0.9 1h.9m-0.4 0h.9m-0.9 0h.9m-0.9 0.5h.9m-0.9 0h.9m-0.9 0h.9m-0.4-0.5h.9m14.1 0.5h.9m-0.4 0h.9m-0.4-0.5h.9m-0.9-0.5h.9m-0.4 0h.9m-0.4 0.5h.9m-0.9-1h.9m-0.9 1.5h.9m-0.9 0h.9m-0.9-0.5h.9m-0.9-0.5h.9m-0.9-0.5h.9m-0.4 0.5h.9m-0.9 1h.9m-0.9-2.5h.9m-0.4 2h.9m-0.9-2.5h.9m-0.9 3h.9m-0.9-2.5h.9m-0.4-0.5h.9m-0.9 0h.9m-0.9 0.5h.9m-0.9 1h.9m-0.9-0.5h.9m-0.9-1.5h.9m-0.9 0.5h.9m-0.9-1h.9m-0.4 4h.9m-0.9-3.5h.9m-0.9 0.5h.9m-0.9-0.5h.9m-0.9-0.5h.9m-0.9 0.5h.9m-0.9 0.5h.9m-0.4-2h.9m-0.9 4h.9m-0.9 0h.9m-0.9-1.5h.9m-0.9-2h.9m-0.9 0h.9m-0.9 1h.9m-0.9 1h.9m-0.9-2.5h.9m-0.9 3h.9m-0.9-1h.9m-0.4 1h.9m-0.9-3h.9m-0.9 0.5h.9m-0.9 3h.9m-0.4 1h.9m-0.9-2h.9m-0.9-2.5h.9m-0.9 0.5h.9m-0.9 3.5h.9m-0.4-2.5h.9m-0.4 1h.9m-0.9-2.5h.9m-0.9 0h.9m-0.9 2.5h.9m-0.9 1h.9m0.1-1.5h.9m-0.9 0h.9m-0.4 0.5h.9m0.1-1.5h.9m-0.4 3.5h.9m0.1-0.5h.9m-0.4-4h.9m-0.4 4.5h.9m-350.4 1.5h.9m1.1 3h.9m-0.4-1.5h.9m-0.4-2h.9m0.1 0h.9m0.1 3.5h.9m-0.4-2h.9m-0.4-0.5h.9m-0.4 4.5h.9m-0.9-5h.9m-0.9-0.5h.9m-0.9 2h.9m-0.9-2h.9m-0.4 5h.9m-0.9-5h.9m-0.4 4h.9m-0.9-4h.9m-0.9 2h.9m-0.4-2h.9m-0.9 1h.9m-0.9 1h.9m-0.9-2h.9m-0.4 0h.9m-0.9 0.5h.9m-0.4 1h.9m-0.9 4.5h.9m-0.4-0.5h.9m-0.9-5.5h.9m-0.9 0h.9m-0.4 0h.9m-0.9 0h.9m-0.9 0h.9m-0.9 1.5h.9m-0.4-0.5h.9m-0.9 0h.9m-0.9 1h.9m-0.9 0h.9m-0.9-0.5h.9m-0.9-1h.9m-0.9-0.5h.9m-0.9 0h.9m-0.4 3.5h.9m-0.9-2h.9m-0.9-1h.9m-0.9 1h.9m-0.9-1h.9m-0.9 0.5h.9m-0.9-0.5h.9m-0.9-0.5h.9m-0.9 5.5h.9m-0.4-5h.9m-0.9 0h.9m-0.9 1.5h.9m-0.9 1h.9m-0.9-2h.9m-0.4-0.5h.9m-0.9 1h.9m-0.9-1.5h.9m-0.9 0h.9m-0.9 0.5h.9m-0.9 1.5h.9m-0.9-1.5h.9m-0.4 5h.9m-0.9-5.5h.9m-0.9 0.5h.9m-0.9 0.5h.9m-0.9 3h.9m-0.4-2.5h.9m-0.9 0.5h.9m-0.9-0.5h.9m-0.9 2h.9m-0.9-2.5h.9m-0.9 0h.9m-0.9-0.5h.9m-0.4 5h.9m-0.9-4h.9m-0.9 0h.9m-0.4 0h.9m-0.9 2h.9m-0.9 1.5h.9m-0.9-3.5h.9m-0.9 1.5h.9m-0.9 1.5h.9m-0.4-3h.9m-0.9 2.5h.9m-0.9-0.5h.9m-0.9-2h.9m-0.9 1h.9m-0.4-1h.9m-0.9 2h.9m-0.9-1h.9m-0.9-0.5h.9m-0.9 0h.9m-0.9 2h.9m-0.9-1.5h.9m-0.9-0.5h.9m-0.4 1.5h.9m-0.9-1h.9m-0.9-1h.9m-0.9 0.5h.9m-0.9 1.5h.9m-0.9 0.5h.9m-0.4-0.5h.9m-0.9 0.5h.9m-0.9-0.5h.9m-0.9-1h.9m-0.9-0.5h.9m-0.4 1h.9m-0.9 2.5h.9m-0.9-3h.9m-0.9 3h.9m-0.9-3h.9m-0.9 0.5h.9m-0.9-1h.9m-0.9 0.5h.9m-0.9-0.5h.9m-0.9 0h.9m-0.4 0.5h.9m-0.9 1h.9m-0.9 0h.9m-0.9 1.5h.9m-0.9-3h.9m-0.9 2.5h.9m-0.9 0h.9m-0.9-2h.9m-0.9 2h.9m-0.9-1.5h.9m-0.9 1h.9m-0.4 1.5h.9m-0.9-3h.9m-0.9 1h.9m-0.4 2h.9m-0.9-1h.9m-0.9-0.5h.9m-0.9 1.5h.9m-0.9-2.5h.9m-0.9 0.5h.9m-0.9-1h.9m-0.9 1h.9m-0.4 0h.9m-0.9 1h.9m-0.9-1h.9m-0.9-1h.9m-0.9 0.5h.9m-0.9 1.5h.9m-0.4 0h.9m-0.9-1h.9m-0.9-0.5h.9m-0.9-0.5h.9m-0.4 0.5h.9m-0.9 2.5h.9m-0.9-2.5h.9m-0.9 1h.9m-0.9-1.5h.9m-0.9 3h.9m-0.9-1.5h.9m-0.9 0h.9m-0.4 0h.9m-0.9 0.5h.9m-0.9-1.5h.9m-0.9-0.5h.9m-0.9 2.5h.9m-0.4-2h.9m-0.9 1h.9m-0.9-1h.9m-0.9 0.5h.9m-0.9 0.5h.9m-0.9-1h.9m-0.9 2.5h.9m-0.9-0.5h.9m-0.4-0.5h.9m-0.9 1h.9m-0.9-2.5h.9m-0.9 0.5h.9m-0.9-0.5h.9m-0.9 0h.9m-0.9 1h.9m-0.9 0.5h.9m-0.4 0h.9m-0.9-1h.9m-0.4 0.5h.9m-0.9 1h.9m-0.9-0.5h.9m-0.9-0.5h.9m-0.9-1.5h.9m-0.9 1.5h.9m-0.9-0.5h.9m-0.4 0.5h.9m-0.9 1.5h.9m-0.9 0h.9m-0.9-3h.9m-0.9 1.5h.9m-0.9-1h.9m-0.9 2h.9m-0.9 1h.9m-0.4-3h.9m-0.9 0.5h.9m-0.9 0h.9m-0.9-0.5h.9m-0.9 1.5h.9m-0.9-2.5h.9m-0.9 2.5h.9m-0.4 0h.9m-0.9-1.5h.9m-0.9 2h.9m-0.9-1.5h.9m-0.9-1h.9m-0.9 1h.9m-0.9-0.5h.9m-0.9 0h.9m-0.4 2h.9m-0.9-1h.9m-0.9-1h.9m-0.9 1h.9m-0.9-1h.9m-0.9 1.5h.9m-0.9-2h.9m-0.9 1h.9m-0.4 1h.9m-0.9-1h.9m-0.9 0.5h.9m-0.9-1.5h.9m-0.9 1.5h.9m-0.9 0h.9m-0.9-1h.9m-0.9 0.5h.9m-0.9 0h.9m-0.9 1.5h.9m-0.9 0h.9m-0.4 0.5h.9m-0.9 0h.9m-0.4-1.5h.9m-0.9 0.5h.9m-0.9-1.5h.9m-0.9 0h.9m-0.4-0.5h.9m-0.9 0.5h.9m-0.9 1.5h.9m-0.9-1h.9m-0.9-0.5h.9m-0.9-0.5h.9m-0.4 0h.9m-0.9-0.5h.9m-0.4 2.5h.9m-0.9-2.5h.9m-0.9 3.5h.9m-0.9-3h.9m-0.4-0.5h.9m-0.9 0h.9m-0.9-0.5h.9m-0.9 0.5h.9m-0.9 2h.9m-0.9-1.5h.9m-0.9 2h.9m-0.9-2.5h.9m-0.4 2h.9m-0.9-2h.9m-0.9 2h.9m-0.4-3h.9m-0.9 2.5h.9m-0.9-1.5h.9m-0.9-0.5h.9m-0.9 2.5h.9m-0.9-1h.9m-0.9 3h.9m-0.9-3.5h.9m-0.4-1h.9m-0.9 2h.9m-0.9-1.5h.9m-0.9-0.5h.9m-0.9 1.5h.9m-0.9-2h.9m-0.9 1.5h.9m-0.9-0.5h.9m-0.9-0.5h.9m-0.9 3.5h.9m-0.9-4.5h.9m-0.4 1h.9m-0.9 0.5h.9m-0.9 1h.9m-0.9-2h.9m-0.4 1.5h.9m-0.9 0h.9m-0.9 1h.9m-0.9-2.5h.9m-0.9 1.5h.9m-0.9-0.5h.9m-0.9 1h.9m-0.9-0.5h.9m-0.9-2h.9m-0.9 1h.9m-0.4 0h.9m-0.9 0h.9m-0.9 0.5h.9m-0.9 3h.9m-0.9-2.5h.9m-0.9-2.5h.9m-0.9 1h.9m-0.9 0h.9m-0.9 0.5h.9m-0.9 0h.9m-0.9 4h.9m-0.9-0.5h.9m-0.9-1h.9m-0.4-2.5h.9m-0.9-1.5h.9m-0.9 1h.9m-0.9 0.5h.9m-0.9-1.5h.9m-0.9 2h.9m-0.9 1.5h.9m-0.9 1.5h.9m-0.9-1.5h.9m-0.9 0.5h.9m-0.4-3h.9m-0.9 1.5h.9m-0.9 1h.9m-0.9-1.5h.9m-0.9-0.5h.9m-0.9-1.5h.9m-0.9 5h.9m-0.4-0.5h.9m-0.9-3h.9m-0.9 4.5h.9m-0.9-3.5h.9m-0.9-2.5h.9m-0.9 1h.9m-0.9-0.5h.9m-0.9 5.5h.9m-0.4-0.5h.9m-0.9-2.5h.9m-0.9-3h.9m-0.9 0.5h.9m-0.9 1h.9m-0.9-1h.9m-0.9 2h.9m-0.9 3.5h.9m-0.4-5.5h.9m-0.9 2.5h.9m-0.9-0.5h.9m-0.9 2.5h.9m-0.9-2.5h.9m-0.9 2.5h.9m-0.4-4h.9m-0.9 5h.9m-0.9-2.5h.9m-0.4-2.5h.9m-0.9 5h.9m-0.9-6h.9m-0.9 0h.9m-0.9 6h.9m-0.9-3h.9m-0.9 1.5h.9m-0.4-4.5h.9m-0.9 0h.9m-0.9 4h.9m-0.9 1h.9m-0.9-2h.9m-0.9 0.5h.9m-0.4-3.5h.9m-0.4 0.5h.9m-0.9 2h.9m-0.4 0.5h.9m-0.9 1.5h.9m-0.4 0.5h.9m-0.9-0.5h.9m-0.4 0h.9m-0.9-4.5h.9m-0.9 5.5h.9m-0.9 0.5h.9m-0.9 0h.9m-0.4 0h.9m-0.4-1h.9m-0.9-2.5h.9m-0.4-1h.9m-0.9 2.5h.9m-0.9 0h.9m-0.9 1.5h.9m-0.4-0.5h.9m-0.9-5h.9m-0.9 4.5h.9m-0.9 0h.9m-0.4-2h.9m-0.9 3h.9m-0.9-2h.9m-0.4 2.5h.9m-0.9-0.5h.9m-0.9-1h.9m-0.4-2h.9m-0.9-0.5h.9m-0.9-1h.9m-0.9 1h.9m-0.4-2h.9m-0.4 0h.9m-0.9 2.5h.9m-0.9-1h.9m-0.9 4.5h.9m-0.9-1h.9m-0.4-4.5h.9m-0.9 4.5h.9m-0.4-4h.9m-0.9 1.5h.9m-0.9 1h.9m-0.9-3.5h.9m-0.9 5h.9m-0.4-3.5h.9m-0.9 1.5h.9m-0.9 3h.9m-0.4-1h.9m-0.9-4.5h.9m-0.9 0h.9m-0.9 5h.9m-0.4-5.5h.9m-0.9 0.5h.9m-0.9 3h.9m-0.9 1h.9m-0.9 0h.9m-0.9 1.5h.9m-0.9-4.5h.9m-0.4 0h.9m-0.9 0h.9m-0.9 1.5h.9m-0.9-2.5h.9m-0.9 2h.9m-0.4-2h.9m-0.9 4.5h.9m-0.9-1h.9m-0.4 1h.9m-0.9-1.5h.9m-0.9 1h.9m-0.9 0h.9m-0.9-0.5h.9m-0.9 1.5h.9m-0.9-1.5h.9m-0.4-3.5h.9m-0.9 0h.9m-0.9 4h.9m-0.9 1.5h.9m-0.4-5h.9m-0.4 3.5h.9m-0.4 0.5h.9m-0.4-1h.9m-0.9-2.5h.9m-0.9 1h.9m-0.9 3h.9m-0.9-1h.9m-0.9-1h.9m-0.9-0.5h.9m-0.9 3h.9m-0.4-3.5h.9m-0.9 0h.9m-0.9 1h.9m-0.9-3h.9m-0.9 3.5h.9m-0.9 2h.9m-0.4-1.5h.9m-0.9-1h.9m-0.4-3h.9m-0.9 0h.9m-0.9 4h.9m-0.9-1.5h.9m-0.9-1h.9m-0.9 2.5h.9m-0.4 1h.9m-0.9 0.5h.9m-0.9-2.5h.9m-0.4-3h.9m-0.9 0.5h.9m-0.9-0.5h.9m-0.9-0.5h.9m-0.9 5.5h.9m-0.4-1.5h.9m-0.9-4h.9m-0.9 2h.9m-0.9 0h.9m-0.9 1.5h.9m-0.9 1h.9m-0.4-1.5h.9m-0.9 0.5h.9m-0.9-0.5h.9m-0.9 0.5h.9m-0.4 2.5h.9m-0.9-1h.9m-0.9-2h.9m-0.9 1.5h.9m-0.4-2.5h.9m-0.9-0.5h.9m-0.9-0.5h.9m-0.9 1.5h.9m-0.4 0.5h.9m-0.9-2h.9m-0.9 3h.9m-0.4-1h.9m-0.9 1.5h.9m-0.9-1.5h.9m-0.9 2h.9m-0.4 0h.9m-0.9 1h.9m-0.9-4.5h.9m-0.9 1.5h.9m-0.9 1h.9m-0.4 0h.9m-0.9-2.5h.9m-0.9 1h.9m-0.9 3h.9m-0.9-5.5h.9m-0.9 3.5h.9m-0.9 2.5h.9m-0.4-5h.9m-0.9 0.5h.9m-0.9-0.5h.9m-0.9 0h.9m-0.9 4.5h.9m-0.4-2h.9m-0.9-2h.9m-0.9-1.5h.9m-0.9 5h.9m-0.9-2h.9m-0.9-1h.9m-0.9-1h.9m-0.9-0.5h.9m-0.9 0h.9m-0.9 5h.9m-0.4-4.5h.9m-0.9 0h.9m-0.9 1h.9m-0.9-1.5h.9m-0.9-0.5h.9m-0.9 2h.9m-0.9-1.5h.9m-0.9-0.5h.9m-0.4 1h.9m-0.9 2h.9m-0.9-2.5h.9m-0.9 2.5h.9m-0.9-1h.9m-0.9 3h.9m-0.9-4h.9m-0.9 2.5h.9m-0.9 0h.9m-0.4-1h.9m-0.9-0.5h.9m-0.9 1.5h.9m-0.9-2.5h.9m-0.9 2.5h.9m-0.9-0.5h.9m-0.9 1.5h.9m-0.4-2h.9m-0.9 0.5h.9m-0.9 3h.9m-0.9-3.5h.9m-0.9-1h.9m-0.9 2.5h.9m-0.9-0.5h.9m-0.9-1h.9m-0.9 3.5h.9m-0.9-3.5h.9m-0.9 0h.9m-0.9 0h.9m-0.9 3.5h.9m-0.4-1h.9m-0.9 1h.9m-0.9-4h.9m-0.9 2h.9m-0.9 1h.9m-0.9-0.5h.9m-0.9 1h.9m-0.4-3h.9m-0.9 1h.9m-0.9 0.5h.9m-0.9 0.5h.9m-0.9 0h.9m-0.9-0.5h.9m-0.9 0h.9m-0.9 1h.9m-0.9-0.5h.9m-0.9-1.5h.9m-0.9 1.5h.9m-0.9 1h.9m-0.9-1h.9m-0.4-1h.9m-0.9-0.5h.9m-0.9 2h.9m-0.9-2h.9m-0.9 1.5h.9m-0.9-0.5h.9m-0.4 1.5h.9m-0.9-2h.9m-0.9 0.5h.9m-0.9-0.5h.9m-0.9 0h.9m-0.9 0h.9m-0.4 1h.9m-0.9 0.5h.9m-0.9 0.5h.9m-0.9-2h.9m-0.9 1.5h.9m-0.9-0.5h.9m-0.9-0.5h.9m-0.4 1.5h.9m-0.9 0h.9m-0.9-1h.9m-0.9 1h.9m-0.9-1h.9m-0.9-0.5h.9m-0.9 0h.9m-0.9 0h.9m-0.9 2h.9m-0.4-2h.9m-0.9 1h.9m-0.9 1h.9m-0.9-2h.9m-0.9 1.5h.9m-0.9-1h.9m-0.9 1.5h.9m-0.4-1.5h.9m-0.9 1.5h.9m-0.9-1h.9m-0.9 0.5h.9m-0.9-1h.9m-0.4 0h.9m-0.9 1h.9m-0.9-1h.9m-0.4 0.5h.9m-0.9 1h.9m-0.9-0.5h.9m-0.9-1h.9m-0.9 0.5h.9m-0.4 1h.9m-0.9-1.5h.9m-0.9 0.5h.9m-0.9 1h.9m-0.9-1h.9m-0.9 0.5h.9m-0.9 0h.9m-0.9-0.5h.9m-0.4 0h.9m-0.9 0.5h.9m-0.9-0.5h.9m-0.4 0.5h.9m-0.9-0.5h.9m-0.9-0.5h.9m-0.9 0h.9m-0.9 0h.9m-0.4 1.5h.9m-0.9-0.5h.9m-0.9-1h.9m-0.4 0.5h.9m-0.9 0h.9m-0.9 0.5h.9m-0.9-1h.9m-0.9-3.5h.9m-0.4 4h.9m-0.9 0.5h.9m-0.9-1h.9m-0.9 1.5h.9m-0.9-1.5h.9m-0.9 1h.9m-0.4 0.5h.9m-0.9-1h.9m-0.9 0.5h.9m-0.9-1h.9m-0.4-0.5h.9m-0.9 0h.9m-0.9 1h.9m-0.9-0.5h.9m-0.9 1h.9m-0.4-1h.9m-0.9 0h.9m-0.9 0h.9m-0.9 1.5h.9m-0.9-1h.9m-0.9-1h.9m-0.4 2h.9m-0.9-1.5h.9m-0.9 1h.9m-0.9-2h.9m-0.9 2.5h.9m-0.9-2.5h.9m-0.4 0.5h.9m-0.9-1h.9m-0.9 3h.9m-0.9-1.5h.9m-0.9-0.5h.9m-0.9-0.5h.9m-0.4 2h.9m-0.9-2.5h.9m-0.9 2h.9m-0.9 1h.9m-0.9-0.5h.9m-0.9-2.5h.9m-0.4 0.5h.9m-0.9 0.5h.9m-0.9-1h.9m-0.9 2.5h.9m-0.9-1.5h.9m-0.9 0h.9m-0.9-0.5h.9m-0.9 0.5h.9m-0.4 0h.9m-0.9 0.5h.9m-0.9-1h.9m-0.4 0h.9m-0.9 0h.9m-0.9-1h.9m-0.9 1h.9m-0.9 1.5h.9m-0.9-1.5h.9m-0.9 1.5h.9m-0.4-2.5h.9m-0.9 1.5h.9m-0.9-2h.9m-0.9 1.5h.9m-0.9-0.5h.9m-0.4-1.5h.9m-0.9 1.5h.9m-0.9 0h.9m-0.4 0h.9m-0.9 0h.9m-0.9-1.5h.9m-0.9 3h.9m-0.9-3h.9m-0.9 0h.9m-0.9 3.5h.9m-0.4-3h.9m-0.9-0.5h.9m-0.9-0.5h.9m-0.9 4h.9m-0.9-2.5h.9m-0.9 1h.9m-0.9-3h.9m-0.9 5.5h.9m-0.4-4h.9m-0.9-1h.9m-0.9 1.5h.9m-0.9-1h.9m-0.9 0h.9m-0.9 0h.9m-0.9-1h.9m-0.9 5.5h.9m-0.9-4.5h.9m-0.9 0h.9m-0.9-0.5h.9m-0.9 0h.9m-0.9 4h.9m-0.4-4h.9m-0.9 0.5h.9m-0.9 0.5h.9m-0.9-1.5h.9m-0.9 1h.9m-0.9-1h.9m-0.9 3.5h.9m-0.9-4h.9m-0.9 4h.9m-0.9 2h.9m-0.4-5h.9m-0.9 2.5h.9m-0.4-2.5h.9m-0.9 1h.9m-0.4 3.5h.9m-0.9-4h.9m-0.4 1.5h.9m-0.9-3h.9m-0.9 1h.9m-0.4 1h.9m-0.4-1h.9m-0.4-1h.9m-0.9 5h.9m-0.4-2.5h.9m-0.4 1h.9m3.6-0.5h.9m53.1-1h.9m-0.4-2h.9m1.6 1.5h.9m-0.4-1.5h.9m0.6 1.5h.9m-0.4-1.5h.9m-0.4 2h.9m-0.4 0h.9m-0.4-1.5h.9m-0.9 4h.9m-0.9-4.5h.9m-0.4 0h.9m-0.9 1.5h.9m-0.4-1.5h.9m-0.9 0.5h.9m-0.9 0.5h.9m-0.4 2.5h.9m-0.9-3.5h.9m-0.9 1h.9m-0.9 2.5h.9m-0.4-3.5h.9m-0.4 3.5h.9m-0.9 0h.9m-0.9 0h.9m-0.9-2h.9m-0.4-1.5h.9m-0.9 3.5h.9m-0.9-2.5h.9m-0.4 3h.9m-0.9-1.5h.9m-0.9 0h.9m-0.4-2.5h.9m-0.9 2h.9m-0.9-1h.9m-0.9 5h.9m-0.9-6h.9m-0.4 3h.9m-0.9-1.5h.9m-0.9 2h.9m-0.9-1h.9m-0.4-1.5h.9m-0.9-1h.9m-0.9 0h.9m-0.4 1.5h.9m-0.9 1h.9m-0.4-0.5h.9m-0.9 1.5h.9m-0.9-3h.9m-0.9-0.5h.9m-0.9 5.5h.9m-0.4-5.5h.9m-0.9 0h.9m-0.9 0.5h.9m-0.9 1h.9m-0.9-1h.9m-0.4 0.5h.9m-0.9-1h.9m-0.9 4.5h.9m-0.9-1.5h.9m-0.4-3h.9m-0.9 1.5h.9m-0.9 2.5h.9m-0.9-3.5h.9m-0.9 4.5h.9m-0.9-3.5h.9m-0.9-1h.9m-0.9 1.5h.9m-0.4-0.5h.9m-0.9 3.5h.9m-0.4-4.5h.9m-0.9 0h.9m-0.9 0.5h.9m-0.9 0h.9m-0.9-1h.9m-0.9 2.5h.9m-0.4 0h.9m-0.9-2.5h.9m-0.9 0.5h.9m-0.9 2h.9m-0.9-1.5h.9m-0.4-1h.9m-0.9 1.5h.9m-0.9 0h.9m-0.9-1h.9m-0.9 0.5h.9m-0.9 0.5h.9m-0.9 1.5h.9m-0.9 0h.9m-0.9-2.5h.9m-0.9 0.5h.9m-0.4 1.5h.9m-0.9-2h.9m-0.9 0.5h.9m-0.4 1.5h.9m-0.9-2h.9m-0.9-0.5h.9m-0.9 0.5h.9m-0.9 0.5h.9m-0.4-0.5h.9m-0.9 0h.9m-0.4-0.5h.9m-0.9 1.5h.9m-0.9 0h.9m-0.4-1.5h.9m-0.9 0h.9m-0.9 0h.9m-0.9 0h.9m-0.9 2.5h.9m-0.9-2h.9m-0.9 1h.9m-0.4-1.5h.9m-0.9 0h.9m-0.9 2h.9m-0.9-2h.9m-0.9 3.5h.9m-0.4-2.5h.9m-0.9 1h.9m-0.4-0.5h.9m-0.9 3.5h.9m-0.4-3h.9m-0.9-0.5h.9m-0.9-1.5h.9m-0.4 0.5h.9m-0.4 3h.9m-0.9-3.5h.9m-0.9 3.5h.9m-0.9-2.5h.9m-0.9 3h.9m-0.4-1.5h.9m-0.9 2h.9m-0.9 0h.9m-0.9-4h.9m-0.9 0h.9m-0.9-0.5h.9m-0.9 5h.9m-0.9-3h.9m-0.9 3h.9m-0.4-0.5h.9m-0.9-2h.9m-0.9 1h.9m-0.9 2.5h.9m-0.4-3.5h.9m-0.9-0.5h.9m-0.9 2.5h.9m-0.9-3h.9m-0.9-1.5h.9m-0.4 0.5h.9m-0.9 3.5h.9m-0.4-3h.9m-0.9 0.5h.9m-0.9 4h.9m-0.4-4.5h.9m-0.9 2.5h.9m-0.9-0.5h.9m-0.4-2.5h.9m-0.4 2h.9m-0.9 3h.9m-0.9 0.5h.9m-0.9-2h.9m-0.4-4h.9m-0.9 5h.9m-0.9 1h.9m-0.9 0h.9m-0.4-5h.9m-0.9 2.5h.9m-0.9 1h.9m-0.4-1.5h.9m-0.9 3h.9m-0.9-0.5h.9m-0.4-5h.9m-0.9 0h.9m-0.9 0h.9m-0.4 1.5h.9m-0.9 4h.9m-0.9 0h.9m-0.4-3.5h.9m-0.9 2h.9m-0.9 0h.9m-0.9 1.5h.9m-0.9 0h.9m-0.4-5h.9m-0.9 1h.9m-0.9 2h.9m-0.4 0.5h.9m-0.9-2h.9m-0.4 3.5h.9m-0.9-2.5h.9m-0.4 2h.9m-0.9-3h.9m-0.4 2.5h.9m-0.9 0h.9m-0.4-4h.9m-0.4 3h.9m-0.9-4h.9m-0.9 1.5h.9m0.6 0.5h.9m-0.9 3.5h.9m-0.9-0.5h.9m-0.9-3h.9m-0.9 0.5h.9m-0.4 3.5h.9m-0.9-5h.9m-0.9 4.5h.9m-0.4-5.5h.9m-0.9 3h.9m-0.4 2h.9m-0.9-1h.9m-0.9-1.5h.9m-0.9 3.5h.9m-0.9 0h.9m-0.4-3h.9m-0.4-2.5h.9m-0.9 2.5h.9m-0.9-1h.9m-0.4 0h.9m-0.9 3h.9m-0.4-3.5h.9m-0.9-1h.9m-0.9 4.5h.9m-0.4-3.5h.9m-0.9-1h.9m-0.9 5h.9m0.1-3h.9m-0.9 2.5h.9m-0.9-4h.9m-0.9 2.5h.9m-0.9 0.5h.9m-0.4 0h.9m-0.4 1h.9m-0.9-1.5h.9m-0.9 0h.9m-0.9-3.5h.9m-0.4 4h.9m-0.9-3.5h.9m-0.9 1h.9m-0.9-0.5h.9m-0.9 4h.9m-0.9-1h.9m-0.9-3.5h.9m-0.4 0h.9m-0.9 0.5h.9m-0.9-0.5h.9m-0.9 4h.9m-0.9 1.5h.9m-0.4-5h.9m-0.9-1h.9m-0.9 0.5h.9m-0.4 3.5h.9m-0.4-3.5h.9m-0.9 2.5h.9m-0.9-1.5h.9m-0.9 4.5h.9m-0.4-6h.9m-0.9 1h.9m-0.9 4h.9m-0.9-2.5h.9m-0.4-2.5h.9m-0.9 2.5h.9m-0.4 1.5h.9m-0.9-2h.9m-0.9-1.5h.9m-0.4 5h.9m-0.9-5.5h.9m-0.9 1.5h.9m-0.9 4h.9m-0.9-0.5h.9m0.1-5h.9m-0.9 3.5h.9m-0.9 1h.9m-0.4-2h.9m-0.9-1.5h.9m-0.9 1h.9m0.1 0h.9m-0.4 2.5h.9m-0.9-1h.9m-0.9 1h.9m-0.4-2.5h.9m-0.4 2h.9m-0.9-0.5h.9m-0.4 1.5h.9m-0.9 0.5h.9m-0.4-3.5h.9m-0.9 0.5h.9m-0.4 2h.9m-0.9-1h.9m-0.9-3.5h.9m-0.4 2h.9m-0.4 3h.9m-0.9-5h.9m-0.4 6h.9m-0.4-6h.9m-0.9 3.5h.9m-0.4-3.5h.9m-0.4 0.5h.9m-0.9 1h.9m-0.4 3h.9m-0.9-2h.9m-0.4-1.5h.9m-0.4 2.5h.9m-0.4-0.5h.9m-0.9-1h.9m-0.9-1h.9m-0.9 0.5h.9m-0.9-1h.9m-0.4 2.5h.9m-0.9-2h.9m-0.9-0.5h.9m-0.9 0h.9m-0.9 3.5h.9m-0.9-3.5h.9m-0.9 0h.9m-0.9 1.5h.9m-0.9 1.5h.9m-0.9-3.5h.9m-0.4 2.5h.9m-0.9 0h.9m-0.9-1.5h.9m-0.9 0.5h.9m-0.9-1.5h.9m-0.4 5h.9m-0.9-3.5h.9m-0.9 2.5h.9m-0.9-3h.9m-0.9 1h.9m-0.9 1.5h.9m-0.4-2h.9m-0.9 1h.9m-0.9-1.5h.9m-0.9-0.5h.9m-0.9 1.5h.9m-0.9 2.5h.9m-0.4-3.5h.9m-0.9 0h.9m-0.9 2h.9m-0.9-2h.9m-0.9 1h.9m-0.9 2h.9m-0.4-1.5h.9m-0.9-1h.9m-0.9 2.5h.9m-0.9-1h.9m-0.9-2h.9m-0.4 4h.9m-0.9-3.5h.9m-0.9 1h.9m-0.9 0.5h.9m-0.9 0.5h.9m-0.9 2h.9m-0.4-3h.9m-0.9-0.5h.9m-0.9 1.5h.9m-0.9-2h.9m-0.9 0.5h.9m-0.4 2.5h.9m-0.9-2.5h.9m-0.9 0h.9m-0.4 2.5h.9m-0.9-0.5h.9m-0.9-0.5h.9m-0.4-1.5h.9m-0.9 1h.9m-0.9-0.5h.9m-0.9 1.5h.9m-0.9-2h.9m-0.9 2.5h.9m-0.9 0h.9m-0.9-1h.9m-0.9-2h.9m-0.9 4.5h.9m-0.9-2.5h.9m-0.9 0h.9m-0.4-0.5h.9m-0.9-1.5h.9m-0.9 0.5h.9m-0.9 0h.9m-0.9-0.5h.9m-0.9 4h.9m-0.4-2h.9m-0.9 0h.9m-0.9-1h.9m-0.9 0.5h.9m-0.9-1h.9m-0.9 0.5h.9m-0.9 0.5h.9m-0.9 2.5h.9m-0.4-3.5h.9m-0.9 2.5h.9m-0.9-0.5h.9m-0.9 0.5h.9m-0.9-2h.9m-0.9 0h.9m-0.4-1h.9m-0.9 0.5h.9m-0.9 0h.9m-0.9 2.5h.9m-0.9-2.5h.9m-0.4 3h.9m-0.9-2h.9m-0.9 0h.9m-0.4-1h.9m-0.9 3.5h.9m-0.9-4h.9m-0.9 2h.9m-0.4-1.5h.9m-0.9 1h.9m-0.9-1h.9m-0.9 3.5h.9m-0.9-4h.9m-0.9 0.5h.9m-0.9 0h.9m-0.9 1.5h.9m-0.4-1.5h.9m-0.9-0.5h.9m-0.9 1h.9m-0.9 0h.9m-0.9-1h.9m-0.9 1h.9m-0.9-1h.9m-0.4 0.5h.9m-0.9 0h.9m-0.4-1h.9m-0.9 0.5h.9m-0.9 0.5h.9m-0.9 0.5h.9m-0.9-0.5h.9m-0.9 1.5h.9m-0.4 1.5h.9m-0.9-1h.9m-0.9-3h.9m-0.9 1.5h.9m-0.9 2h.9m-0.9 0h.9m-0.9-1.5h.9m-0.9-2h.9m-0.4 0.5h.9m-0.9 1.5h.9m-0.9-2h.9m-0.9-0.5h.9m-0.4 3h.9m-0.9-3.5h.9m-0.9 3h.9m-0.9-2.5h.9m-0.4 0h.9m-0.9-0.5h.9m-0.9 1h.9m-0.9-0.5h.9m-0.9 3h.9m-0.9-2h.9m-0.9-1.5h.9m-0.9 3h.9m-0.9-3h.9m-0.4 0.5h.9m-0.9 4.5h.9m-0.9-4.5h.9m-0.9 0.5h.9m-0.9 0h.9m-0.9 1.5h.9m-0.9-1.5h.9m-0.9 5h.9m-0.9-6h.9m-0.9 0h.9m-0.9 0h.9m-0.4 0h.9m-0.9 1h.9m-0.9 2h.9m-0.9-3h.9m-0.4 4.5h.9m-0.9-4.5h.9m-0.9 0h.9m-0.9 2h.9m-0.9-1h.9m0.1 1h.9m-0.9 3h.9m-0.9-5h.9m-0.4 4h.9m-0.9-1h.9m-0.9 1h.9m-0.9 0.5h.9m-0.4 1h.9m-0.9-5h.9m-0.9 0h.9m-0.4-0.5h.9m-0.4 0h.9m-0.9 0h.9m-0.4 2h.9m0.6 2h.9m0.1 1h.9m-0.4 0h.9m-0.9-2h.9m-0.9 1h.9m4.6-3.5h.9m44.6 3h.9m4.6-2.5h.9m-0.4 1.5h.9m-0.4-0.5h.9m0.6 4h.9m-0.4-3h.9m-0.9-0.5h.9m-0.4 2.5h.9m-0.9-4.5h.9m0.1 3h.9m-0.4-2.5h.9m-0.9 1h.9m-0.9 1h.9m-0.4-1h.9m-0.9-1.5h.9m-0.9 1.5h.9m-0.4 0h.9m-0.4 3.5h.9m-0.9-4h.9m-0.4-0.5h.9m-0.9 5h.9m-0.9-4.5h.9m-0.4-1.5h.9m-0.9 2h.9m-0.9-2h.9m-0.9 5h.9m-0.4-1h.9m-0.9-1.5h.9m-0.9-0.5h.9m-0.9 2.5h.9m-0.9-2h.9m-0.9 0h.9m-0.4-2h.9m-0.9 0h.9m-0.9 1.5h.9m-0.9-1.5h.9m-0.9 0h.9m-0.9-0.5h.9m-0.4 1h.9m-0.9 3h.9m-0.9-3h.9m-0.9 1h.9m-0.9-2h.9m-0.9 0.5h.9m-0.9 1.5h.9m-0.9 3h.9m-0.4 1h.9m-0.9-5.5h.9m-0.9-0.5h.9m-0.9 1h.9m-0.9 0.5h.9m-0.9-1h.9m-0.4 5h.9m-0.9-4h.9m-0.9-0.5h.9m-0.9 3h.9m-0.9-3h.9m-0.4 1h.9m-0.9-0.5h.9m-0.9 0h.9m-0.9 0.5h.9m-0.9 1h.9m-0.9 0.5h.9m-0.9 1h.9m-0.9-3.5h.9m-0.9-0.5h.9m-0.9 3.5h.9m-0.9-1.5h.9m-0.4 2h.9m-0.9-3.5h.9m-0.9 1.5h.9m-0.9-0.5h.9m-0.9 1.5h.9m-0.9 2h.9m-0.9 0h.9m-0.9-2.5h.9m-0.9 2h.9m-0.9-0.5h.9m-0.9-1h.9m-0.9-1.5h.9m-0.9 2h.9m-0.9-2.5h.9m-0.4 1.5h.9m-0.9 0.5h.9m-0.9-2.5h.9m-0.9 2h.9m-0.4-1h.9m-0.9 0h.9m-0.9-0.5h.9m-0.9 1h.9m-0.9-1h.9m-0.9 0h.9m-0.9 3h.9m-0.9-2h.9m-0.4 3.5h.9m-0.9-1.5h.9m-0.9-3h.9m-0.9 0.5h.9m-0.9-0.5h.9m-0.9 0.5h.9m-0.9-0.5h.9m-0.4 3h.9m-0.9-1h.9m-0.9-1h.9m-0.9 1.5h.9m-0.9-2h.9m-0.9-0.5h.9m-0.9 1.5h.9m-0.4 0h.9m-0.9-0.5h.9m-0.9-0.5h.9m-0.4 0h.9m-0.9 0.5h.9m-0.9-0.5h.9m-0.9 0h.9m-0.9 2.5h.9m-0.9-1.5h.9m-0.9 0.5h.9m-0.9-1h.9m-0.4 0.5h.9m-0.9 1.5h.9m-0.4-2h.9m-0.9 0.5h.9m-0.9 1.5h.9m-0.4-1.5h.9m-0.9-1h.9m-0.9 2h.9m-0.9 0h.9m-0.9 1.5h.9m-0.4-3h.9m-0.9-0.5h.9m-0.9 0h.9m-0.9 0h.9m-0.4 1h.9m-0.9 0h.9m-0.9 2h.9m-0.4-2.5h.9m-0.9 1h.9m-0.9-1h.9m-0.9 0h.9m-0.4 1h.9m-0.9-0.5h.9m-0.9 3h.9m-0.9-1.5h.9m-0.9 0.5h.9m-0.9 0.5h.9m-0.4-2.5h.9m-0.9 1h.9m-0.9 0.5h.9m-0.4 0h.9m-0.9-2h.9m-0.9 1h.9m-0.9-0.5h.9m-0.9 1h.9m-0.9 0.5h.9m-0.9-2h.9m-0.9 1.5h.9m-0.9-1.5h.9m-0.9 0h.9m-0.4 1.5h.9m-0.9 0h.9m-0.9-1h.9m-0.9-0.5h.9m-0.9 2h.9m-0.9 0h.9m-0.9-2h.9m-0.9 2h.9m-0.9-2h.9m-0.4 1h.9m-0.9 1.5h.9m-0.9-2h.9m-0.9-0.5h.9m-0.9-1h.9m-0.4 2h.9m-0.9-0.5h.9m-0.9-0.5h.9m-0.9 0h.9m-0.9 1h.9m-0.9-1.5h.9m-0.9 2h.9m-0.9-1h.9m-0.9 2.5h.9m-0.9 0h.9m-0.4-3.5h.9m-0.9 1.5h.9m-0.9 0h.9m-0.9-1.5h.9m-0.4 0h.9m-0.9 0.5h.9m-0.9-0.5h.9m-0.9 2h.9m-0.9-1h.9m-0.9 1h.9m-0.9-2h.9m-0.9 1.5h.9m-0.9-0.5h.9m-0.9-0.5h.9m-0.4 2h.9m-0.9-1h.9m-0.9-1h.9m-0.9-1.5h.9m-0.4 0.5h.9m-0.9 0h.9m-0.9 1.5h.9m-0.9-1.5h.9m-0.9 0.5h.9m-0.9 0.5h.9m-0.4-1h.9m-0.9 2.5h.9m-0.9-1.5h.9m-0.4 1h.9m-0.9 0.5h.9m-0.9-2h.9m-0.4 3h.9m-0.9-1.5h.9m-0.9 0h.9m-0.9-2h.9m-0.9 1h.9m-0.4-1h.9m-0.9 0h.9m-0.9 0h.9m-0.9 0.5h.9m-0.9 0.5h.9m-0.9 2h.9m-0.9 1.5h.9m-0.9-0.5h.9m-0.4-1h.9m-0.9-2.5h.9m-0.9 2h.9m-0.9-1h.9m-0.9 1h.9m-0.9-0.5h.9m-0.9-0.5h.9m-0.9-0.5h.9m-0.9-0.5h.9m-0.9 0h.9m-0.4 0h.9m-0.9-0.5h.9m-0.9 1.5h.9m-0.9-2.5h.9m-0.9 1h.9m-0.9-0.5h.9m-0.9 2h.9m-0.9 2.5h.9m-0.9-0.5h.9m-0.9 0h.9m-0.9-4h.9m-0.9 2h.9m-0.9-2h.9m-0.4 0h.9m-0.9 1.5h.9m-0.9 0h.9m-0.9-1.5h.9m-0.9-0.5h.9m-0.4 1.5h.9m-0.9-0.5h.9m-0.9-0.5h.9m-0.9-0.5h.9m-0.9 0h.9m-0.9 0h.9m-0.9 4.5h.9m-0.9-1.5h.9m-0.9-3h.9m-0.9 2.5h.9m-0.9-2.5h.9m-0.9 2h.9m-0.9-2h.9m-0.9 0.5h.9m-0.9 3.5h.9m-0.4-4h.9m-0.9 2.5h.9m-0.9-3h.9m-0.9 1h.9m-0.9 0h.9m-0.4 2.5h.9m-0.9-3.5h.9m-0.9 0.5h.9m-0.9 1h.9m-0.9 0.5h.9m-0.9 2h.9m-0.9-3.5h.9m-0.9 4.5h.9m-0.9-5h.9m-0.4 5h.9m-0.9-5h.9m-0.9 4.5h.9m-0.9-2.5h.9m-0.9-2h.9m-0.9 0.5h.9m-0.9 3h.9m-0.9-3.5h.9m-0.9 4h.9m-0.4-3.5h.9m-0.9 1h.9m-0.9 0.5h.9m-0.9 3h.9m-0.4-4.5h.9m-0.9 0h.9m-0.9 1.5h.9m-0.9-1.5h.9m-0.9 2.5h.9m-0.9 2.5h.9m-0.4-1h.9m-0.9-2.5h.9m-0.9 0h.9m-0.9-2h.9m-0.4 2h.9m-0.9-2h.9m-0.9 1h.9m-0.9 3.5h.9m-0.9-3.5h.9m-0.4 0.5h.9m-0.9 0h.9m-0.9 0.5h.9m-0.9-0.5h.9m-0.4 0h.9m-0.9 0h.9m-0.9-1h.9m-0.9 2.5h.9m-0.9 2h.9m-0.4-0.5h.9m-0.9 0h.9m-0.4-4.5h.9m-0.9 1h.9m-0.9 2h.9m-0.9 1.5h.9m-0.9-2.5h.9m-0.9-2h.9m-0.4 1.5h.9m-0.9 3h.9m-0.9-1.5h.9m-0.4-1.5h.9m-0.4 2h.9m-0.4 1h.9m-0.9 0h.9m-0.4 0h.9m-0.4-1h.9m-0.9-1h.9m-0.9-0.5h.9m-0.9 3h.9m-0.9-5h.9m-0.4 0h.9m-0.9 0h.9m-0.4 4h.9m-0.9-1.5h.9m-0.9 2h.9m-0.4-3.5h.9m-0.9 4h.9m-0.4-5h.9m-0.9 3h.9m-0.9-2.5h.9m-0.9 3h.9m-0.4-0.5h.9m-0.9 1.5h.9m-0.9-4h.9m-0.9 5.5h.9m-0.9-3h.9m-0.4-1h.9m-0.9-0.5h.9m-0.9 0h.9m-0.4-1.5h.9m-0.9 3h.9m-0.9-3h.9m-0.9 3h.9m-0.4-1.5h.9m-0.9 1.5h.9m0.1 1.5h.9m-0.9 1.5h.9m-0.9-5h.9m-0.9 5h.9m-0.9-1h.9m-0.4-2h.9m-0.9 3h.9m-0.9-5.5h.9m-0.4 5.5h.9m-0.9-1.5h.9m-0.9 0h.9m-0.9-4.5h.9m-0.9 4.5h.9m-0.4-1h.9m-0.9 0h.9m-0.9 0h.9m-0.9-3h.9m-0.9 5.5h.9m-0.9 0h.9m-0.9-1.5h.9m-0.4-2h.9m-0.9 3h.9m-0.9 0.5h.9m-0.9-6h.9m-0.9 3h.9m-0.9-2h.9m-0.9 5h.9m-0.9-0.5h.9m-0.9 0h.9m-0.4-4h.9m-0.9-0.5h.9m-0.9 5h.9m-0.4-3.5h.9m-0.9 1.5h.9m-0.9-3.5h.9m-0.9 4h.9m-0.4-3.5h.9m-0.9-0.5h.9m-0.9 1h.9m-0.9 3h.9m-0.4-1h.9m-0.4-3h.9m-0.9 0.5h.9m-0.9 3h.9m-0.9 1.5h.9m-0.9-0.5h.9m-0.9-1.5h.9m-0.4 1.5h.9m-0.9-2h.9m-0.9-1.5h.9m-0.4 2.5h.9m-0.4 0h.9m-0.9 1h.9m-0.9-3.5h.9m-0.9 1.5h.9m-0.4-1.5h.9m-0.9 0h.9m-0.9-1.5h.9m-0.4 4.5h.9m-0.9-0.5h.9m-0.4 0h.9m-0.9 1.5h.9m-0.9-0.5h.9m-0.4-5h.9m-0.9 4h.9m-0.4-2.5h.9m-0.9 2.5h.9m-0.4-4h.9m-0.9 0h.9m-0.4 0.5h.9m-0.9 4h.9m-0.9 0.5h.9m-0.4-3h.9m-0.9 0.5h.9m-0.4 1h.9m-0.4-1h.9m-0.9 1.5h.9m-0.4-0.5h.9m-0.9-0.5h.9m-0.4-2h.9m-0.4 2.5h.9m-0.4-3.5h.9m-0.9 1.5h.9m-0.9 0h.9m-0.4 1.5h.9m-0.9-1.5h.9m-0.9-1.5h.9m-0.9 0.5h.9m-0.9-0.5h.9m-0.9 2.5h.9m-0.4-2.5h.9m-0.9 5.5h.9m-0.9-1.5h.9m-0.9-2.5h.9m-0.9-1.5h.9m-0.4 6h.9m-0.9-2h.9m-0.9-1.5h.9m-0.9 0.5h.9m-0.9-3h.9m-0.4 2h.9m-0.9-1h.9m-0.9-0.5h.9m-0.9-0.5h.9m-0.4 0.5h.9m-0.9 5h.9m-0.9-5.5h.9m-0.9 0h.9m-0.9 2h.9m-0.9 3.5h.9m-0.9-4h.9m-0.9 0.5h.9m-0.9-0.5h.9m-0.4 2.5h.9m-0.9-3.5h.9m-0.9 2.5h.9m-0.9-2h.9m-0.9 2h.9m-0.9-2.5h.9m-0.9 1h.9m-0.4-0.5h.9m-0.9 3.5h.9m-0.9-3.5h.9m-0.9-0.5h.9m-0.9-0.5h.9m-0.9 1h.9m-0.9 1h.9m-0.4 1h.9m-0.9 0h.9m-0.9-1h.9m-0.9 0h.9m-0.9 0.5h.9m-0.9-1h.9m-0.9 4.5h.9m-0.9-4.5h.9m-0.4-0.5h.9m-0.9 0h.9m-0.9 0h.9m-0.9 1h.9m-0.9 0h.9m-0.4-0.5h.9m-0.9 3h.9m-0.9-3.5h.9m-0.9 1h.9m-0.9 4h.9m-0.9-0.5h.9m-0.9-3h.9m-0.9 2h.9m-0.4-2h.9m-0.9 0h.9m-0.9 0.5h.9m-0.9-1h.9m-0.9 2.5h.9m-0.9 0.5h.9m-0.4 0h.9m-0.9-2.5h.9m-0.9 0.5h.9m-0.9 2.5h.9m-0.9-2.5h.9m-0.9 0.5h.9m-0.4 1h.9m-0.9 0h.9m-0.9 0.5h.9m-0.9-3h.9m-0.9 1h.9m-0.4 0.5h.9m-0.9 1.5h.9m-0.9-2.5h.9m-0.9 3.5h.9m-0.4-2.5h.9m-0.9 0.5h.9m-0.9-1h.9m-0.9 1h.9m-0.9 2h.9m-0.9-4h.9m-0.9 4h.9m-0.9-0.5h.9m-0.4-2h.9m-0.9-0.5h.9m-0.9 0h.9m-0.4 1h.9m-0.9-1.5h.9m-0.9 0.5h.9m-0.9-0.5h.9m-0.9-0.5h.9m-0.9 1.5h.9m-0.4 0.5h.9m-0.9-0.5h.9m-0.9-0.5h.9m-0.9-0.5h.9m-0.4 0h.9m-0.9 0h.9m-0.9 1h.9m-0.9-0.5h.9m-0.9 1h.9m-0.4 1.5h.9m-0.9-3h.9m-0.9 1.5h.9m-0.9 1h.9m-0.4 0h.9m-0.9 0.5h.9m-0.9-1h.9m-0.9 1h.9m-0.9-1.5h.9m-0.9-1.5h.9m-0.9 0h.9m-0.4 2h.9m-0.9 0h.9m-0.9-0.5h.9m-0.9-1.5h.9m-0.9 0h.9m-0.4 1.5h.9m-0.9 2h.9m-0.9-1h.9m-0.9-2.5h.9m-0.9 3.5h.9m-0.9-3.5h.9m-0.9 0h.9m-0.9 0h.9m-0.9 1.5h.9m-0.9 0h.9m-0.4-1h.9m-0.9-0.5h.9m-0.4 3.5h.9m-0.9-2.5h.9m-0.9 0h.9m-0.9 0h.9m-0.9-0.5h.9m-0.9-0.5h.9m-0.4 1.5h.9m-0.9-2h.9m-0.9 0.5h.9m-0.9-0.5h.9m-0.4 0h.9m-0.9 4h.9m-0.9-4h.9m-0.9 0h.9m-0.9-0.5h.9m-0.9 0h.9m-0.4 3.5h.9m-0.9-2.5h.9m-0.9 1.5h.9m-0.9-1.5h.9m-0.9 1h.9m-0.9-1h.9m-0.9-0.5h.9m-0.9 0.5h.9m-0.9-1h.9m-0.4 0h.9m-0.9 0h.9m-0.9 0.5h.9m-0.9-1h.9m-0.9 2h.9m-0.9-1h.9m-0.9 3h.9m-0.9-2.5h.9m-0.9-0.5h.9m-0.4 0h.9m-0.9 0h.9m-0.9-1h.9m-0.9 0h.9m-0.9 1h.9m-0.4-1h.9m-0.9 1h.9m-0.9 0h.9m-0.9-1.5h.9m-0.9 1.5h.9m-0.9-1h.9m-0.4 1h.9m-0.9-1h.9m-0.9 4.5h.9m-0.9-3h.9m-0.9-1.5h.9m-0.9 0.5h.9m-0.4 1h.9m-0.9-2.5h.9m-0.9 1h.9m-0.9 1.5h.9m-0.9-2h.9m-0.4 1.5h.9m-0.9 1h.9m-0.9-1.5h.9m-0.9 1h.9m-0.4-1h.9m-0.9-1.5h.9m-0.9 0h.9m-0.9 3.5h.9m-0.9-3.5h.9m-0.9 0h.9m-0.4 2h.9m-0.9-2h.9m-0.9 4.5h.9m-0.4-3h.9m-0.9-0.5h.9m-0.4-1h.9m-0.9 0.5h.9m-0.9 0.5h.9m-0.9-0.5h.9m-0.4 1h.9m-0.9-1h.9m-0.4 0h.9m-0.9 3.5h.9m-0.4 0h.9m0.1-3.5h.9m-0.4 4h.9m1.1-4.5h.9m-0.4 4h.9m-0.9-4h.9m-0.9 1.5h.9m-0.9 1.5h.9m-0.4-2h.9m-0.4 2h.9m0.1 1.5h.9m-342.9 6h.9m-0.4-3.5h.9m0.6 2.5h.9m0.1 0.5h.9m0.6 0.5h.9m-0.9-1h.9m-0.4-1h.9m0.6-1h.9m0.6 3h.9m-0.4-1h.9m-0.9-1.5h.9m-0.4-0.5h.9m-0.9-1h.9m-0.9 0.5h.9m0.1 3.5h.9m-0.4-2.5h.9m-0.9-0.5h.9m-0.9 0.5h.9m-0.9 2h.9m-0.4-2.5h.9m-0.4 3h.9m-0.9-4h.9m-0.4 5h.9m-0.9 0h.9m-0.4-3.5h.9m-0.4 1h.9m-0.4 1.5h.9m-0.9 1h.9m-0.9 0h.9m-0.4-4h.9m-0.9 1.5h.9m-0.9-1h.9m-0.9 3h.9m-0.4-1.5h.9m-0.9 1.5h.9m-0.4-4h.9m0.1 2h.9m-0.9 1h.9m-0.4-3.5h.9m-0.9 1.5h.9m-0.4 0.5h.9m-0.9 0h.9m-0.9 2h.9m-0.4 1h.9m-0.9-1.5h.9m-0.9-1h.9m-0.4 0.5h.9m-0.9 2h.9m-0.4-3.5h.9m-0.4 0h.9m-0.4 0.5h.9m-0.4 0h.9m-0.9 3h.9m-0.9-3h.9m-0.4 0.5h.9m-0.9 0h.9m-0.9-1h.9m-0.9 3h.9m-0.4-3.5h.9m-0.9 4h.9m-0.9-2.5h.9m-0.9-1.5h.9m-0.4-1h.9m-0.9 3.5h.9m-0.4-3.5h.9m-0.9 2h.9m-0.9 0.5h.9m-0.4 0.5h.9m-0.9-1h.9m-0.9 0.5h.9m-0.9 2h.9m-0.9-2.5h.9m-0.4-1h.9m-0.9-0.5h.9m-0.9 0.5h.9m-0.4 0.5h.9m-0.9 2h.9m-0.4 1h.9m-0.9-3.5h.9m-0.4 2h.9m-0.9 1h.9m-0.9 0h.9m-0.4 1h.9m-0.9-2h.9m-0.4 1.5h.9m-0.9-3.5h.9m-0.9 3h.9m-0.4-0.5h.9m-0.9-3.5h.9m-0.9 3.5h.9m-0.9-1.5h.9m-0.4 0.5h.9m-0.9 2h.9m-0.4-4h.9m-0.9 3h.9m-0.9 0.5h.9m-0.9-3h.9m-0.9-1h.9m-0.9 3h.9m-0.4 0.5h.9m-0.9-1.5h.9m-0.9 2h.9m-0.9-1.5h.9m-0.9 2h.9m-0.4 0h.9m-0.9 0h.9m-0.9-4.5h.9m-0.9 1.5h.9m-0.9 3.5h.9m-0.9-2.5h.9m-0.9 0.5h.9m-0.9-3h.9m-0.9 3h.9m-0.4-2h.9m-0.9 0.5h.9m-0.9 0h.9m-0.4 3h.9m-0.9 0h.9m-0.4-4h.9m-0.9 1.5h.9m-0.4 0.5h.9m-0.9-1.5h.9m-0.9 1h.9m-0.9-1h.9m-0.9 1.5h.9m-0.9 1.5h.9m-0.9-3.5h.9m-0.9 1h.9m-0.9 3h.9m-0.4-4h.9m-0.9 3.5h.9m-0.9-2h.9m-0.4 0h.9m-0.9 2h.9m-0.9-2h.9m-0.9 2h.9m-0.9-1h.9m-0.9 1h.9m-0.9-2h.9m-0.9 2h.9m-0.4-2h.9m-0.9 1.5h.9m-0.9-1.5h.9m-0.9 1.5h.9m-0.9 1h.9m-0.9-3.5h.9m-0.9 1.5h.9m-0.4 1h.9m-0.9-1.5h.9m-0.9 0h.9m-0.9 2.5h.9m-0.9-3.5h.9m-0.4-0.5h.9m-0.9 2h.9m-0.4 2.5h.9m-0.9-2.5h.9m-0.9 0h.9m-0.9 2h.9m-0.9-1h.9m-0.9 1.5h.9m-0.4-4.5h.9m-0.9 1h.9m-0.4 2.5h.9m-0.9-2h.9m-0.4 3h.9m-0.9-4.5h.9m-0.4 1h.9m-0.9 3h.9m-0.9-2.5h.9m-0.9 2h.9m-0.9-3h.9m-0.9 0h.9m-0.9 4h.9m-0.4 0h.9m-0.9-0.5h.9m-0.4-3h.9m-0.9 0h.9m-0.9 3h.9m-0.9-4h.9m-0.9 2h.9m-0.9-1h.9m-0.4-1h.9m-0.9 2h.9m-0.4 0h.9m-0.9 2h.9m-0.9-4.5h.9m-0.9 0.5h.9m-0.4 2h.9m-0.9 0h.9m-0.9 0h.9m-0.9-2.5h.9m-0.9 2h.9m-0.9-1.5h.9m-0.9-0.5h.9m-0.9 5h.9m-0.4-1h.9m-0.9 0.5h.9m-0.9-3.5h.9m-0.9 3.5h.9m-0.9 0.5h.9m-0.9-3.5h.9m-0.9-0.5h.9m-0.9 3.5h.9m-0.4-2.5h.9m-0.9 1.5h.9m-0.9 0h.9m-0.9 0.5h.9m-0.9-2h.9m-0.4 1.5h.9m-0.9 1h.9m-0.9 0.5h.9m-0.9-4h.9m-0.9-1h.9m-0.9 4h.9m-0.4-2.5h.9m-0.9-0.5h.9m-0.9-0.5h.9m-0.9 3.5h.9m-0.9-2.5h.9m-0.4 2h.9m-0.9-1.5h.9m-0.9 1h.9m-0.9 0h.9m-0.9 2h.9m-0.9-4.5h.9m-0.9 1h.9m-0.9-1h.9m-0.9 2h.9m-0.4 2h.9m-0.9-1.5h.9m-0.9 0.5h.9m-0.9-3.5h.9m-0.9 5h.9m-0.4-4.5h.9m-0.9 2h.9m-0.9 0.5h.9m-0.9-3h.9m-0.9 4.5h.9m-0.4-2.5h.9m-0.9 0.5h.9m-0.4-2h.9m-0.9 3h.9m-0.9 0h.9m-0.4-0.5h.9m-0.9 1h.9m-0.9-3.5h.9m-0.9 1h.9m-0.9 3.5h.9m-0.9-2.5h.9m-0.4-2.5h.9m-0.9 4.5h.9m-0.9 0.5h.9m-0.9-2h.9m-0.9 1.5h.9m-0.9 0h.9m-0.4-4h.9m-0.9 2h.9m-0.9-2.5h.9m-0.9 3h.9m-0.9-0.5h.9m-0.9 1h.9m-0.4-0.5h.9m-0.9-2.5h.9m-0.9 3.5h.9m-0.4 0.5h.9m-0.9-3h.9m-0.4-0.5h.9m-0.9 3h.9m-0.4-3h.9m-0.9 3h.9m-0.4-1.5h.9m-0.9-2h.9m-0.9 0.5h.9m-0.4-1h.9m-0.9 4h.9m-0.9-3.5h.9m-0.9 4.5h.9m-0.9-4.5h.9m-0.9 1h.9m-0.4-0.5h.9m-0.9 1h.9m-0.9-2h.9m-0.9 2h.9m-0.4 2h.9m-0.9 0.5h.9m-0.4-4h.9m-0.9 0.5h.9m-0.9-0.5h.9m-0.9 4h.9m-0.9-3.5h.9m-0.4 1.5h.9m-0.9 1h.9m-0.9 0h.9m-0.9-1.5h.9m-0.4 1h.9m-0.9-2h.9m-0.9 2.5h.9m-0.4-1.5h.9m-0.9-2h.9m-0.9 2h.9m-0.4 2h.9m-0.4-1.5h.9m-0.9-1h.9m-0.9 1.5h.9m-0.9-1h.9m0.1 2.5h.9m-0.9 0.5h.9m-0.4 0h.9m-0.4-3h.9m-0.9 1.5h.9m-0.9-1h.9m-0.9-2.5h.9m-0.4 1h.9m-0.9 2.5h.9m-0.9-3h.9m-0.4-0.5h.9m-0.9 3h.9m-0.9-2.5h.9m-0.9 0h.9m-0.9 0.5h.9m0.1-0.5h.9m-0.4 0.5h.9m-0.9 0h.9m-0.9-0.5h.9m-0.4 0.5h.9m-0.9-1h.9m-0.9 3h.9m-0.9 0h.9m-0.4 1h.9m-0.9 1h.9m-0.4-4h.9m-0.4-1h.9m-0.9 0h.9m-0.4 3.5h.9m-0.9-0.5h.9m-0.4-3h.9m-0.4 1.5h.9m-0.9-1h.9m-0.9 1.5h.9m-0.4-2h.9m-0.9 2h.9m-0.9-1.5h.9m-0.9 1.5h.9m-0.9 2h.9m-0.9-3.5h.9m-0.9-0.5h.9m-0.9 1h.9m-0.4-1h.9m-0.9 4h.9m-0.4-3.5h.9m-0.4 2h.9m-0.9-0.5h.9m-0.9 1.5h.9m-0.4 0h.9m-0.9-2.5h.9m-0.9-0.5h.9m-0.9 3.5h.9m-0.4-1h.9m-0.9 1.5h.9m-0.4-4h.9m-0.9 0.5h.9m-0.4-1h.9m-0.4 4h.9m-0.9-1h.9m1.1-3h.9m-0.4 1.5h.9m0.1 0.5h.9m-0.9-1.5h.9m1.6-0.5h.9m58.6 0h.9m7.1 0h.9m0.1 2h.9m0.1-1h.9m-0.4 2.5h.9m1.1-2.5h.9m-0.4-0.5h.9m1.1 3h.9m-0.9-1h.9m-0.4 1h.9m1.6-3h.9m0.6 3.5h.9m-0.4-2.5h.9m-0.4 3.5h.9m-0.9-1.5h.9m-0.4-0.5h.9m0.6-1.5h.9m-0.4-1h.9m1.1-0.5h.9m-0.9 2h.9m-0.9-1h.9m-0.4 4h.9m-0.9-3h.9m-0.9 2h.9m-0.4 0h.9m-0.9-3h.9m-0.9 4h.9m0.1-2.5h.9m-0.4-2.5h.9m-0.9 1.5h.9m-0.9 2.5h.9m-0.4-2h.9m-0.9 3h.9m-0.4-2.5h.9m-0.4-2.5h.9m-0.9 4h.9m-0.4-4h.9m-0.4 0.5h.9m-0.9 2.5h.9m-0.4 0.5h.9m-0.9 0h.9m-0.9-1h.9m-0.9-1.5h.9m-0.4 3.5h.9m-0.9-3h.9m-0.9-1.5h.9m-0.9 3.5h.9m-0.4-2.5h.9m-0.4 3.5h.9m-0.9-3.5h.9m-0.4 4h.9m-0.4-5h.9m-0.9 3h.9m-0.4-3h.9m-0.9 1h.9m-0.9 4h.9m-0.9-0.5h.9m-0.9-2h.9m-0.4 0h.9m-0.4 1h.9m-0.9-2.5h.9m-0.9 1h.9m-0.9 0.5h.9m-0.9-1h.9m-0.4 3.5h.9m-0.9-2.5h.9m-0.9 2h.9m-0.9-1h.9m-0.4-1.5h.9m-0.9-1h.9m-0.9 0.5h.9m-0.9 0.5h.9m-0.9-1.5h.9m-0.9 2.5h.9m-0.4 1.5h.9m-0.9-4.5h.9m-0.9 2.5h.9m-0.4 2h.9m-0.9-4.5h.9m-0.9 4h.9m-0.9-1h.9m-0.9-3h.9m-0.4 2.5h.9m-0.9 2.5h.9m-0.9-1h.9m-0.9-4h.9m-0.4 0h.9m-0.9 1h.9m-0.9 2h.9m-0.9 1.5h.9m-0.4-0.5h.9m-0.9-3.5h.9m-0.9 0h.9m-0.9 4.5h.9m-0.4-4.5h.9m-0.9 0.5h.9m-0.9 2.5h.9m-0.9-3h.9m-0.4 4.5h.9m-0.9-4.5h.9m-0.9 0h.9m-0.4 3.5h.9m-0.9 0.5h.9m-0.9 0.5h.9m-0.9-2.5h.9m-0.9 2.5h.9m-0.4-5h.9m-0.9 2.5h.9m-0.9 0.5h.9m-0.9-1.5h.9m-0.9-1.5h.9m-0.9 0.5h.9m-0.9 0h.9m-0.4 3h.9m-0.9 0h.9m-0.4 0.5h.9m-0.9-1h.9m-0.9 2h.9m-0.9 0h.9m-0.9-5h.9m-0.9 3h.9m-0.4 0h.9m-0.9 0h.9m-0.4 1.5h.9m-0.9-1.5h.9m-0.9-2h.9m-0.4 3h.9m-0.9 0.5h.9m-0.4-1.5h.9m-0.9 1h.9m-0.4 1h.9m-0.9-4.5h.9m-0.9 4.5h.9m-0.4-2.5h.9m-0.9 0h.9m-0.9 2.5h.9m-0.9-3h.9m-0.4 3h.9m-0.4-4.5h.9m-0.9-0.5h.9m-0.9 0.5h.9m-0.9 4h.9m-0.9-1h.9m-0.4 0.5h.9m-0.9 0h.9m-0.9-1.5h.9m-0.4-0.5h.9m-0.9 2h.9m-0.4 0.5h.9m-0.9-2.5h.9m-0.9-1.5h.9m-0.9 2h.9m-0.9 1h.9m-0.4-3.5h.9m-0.9 5h.9m-0.9-4h.9m-0.9 0h.9m-0.4 3.5h.9m-0.9-0.5h.9m0.1-1h.9m-0.9 1.5h.9m-0.4-4h.9m-0.4 0h.9m-0.9 3.5h.9m-0.4 0.5h.9m-0.4-3h.9m-0.4 3.5h.9m-0.9-1.5h.9m-0.4 0h.9m-0.4-3h.9m0.1 2.5h.9m0.1 1.5h.9m-0.4-1.5h.9m0.6-1h.9m-0.4-0.5h.9m1.1-0.5h.9m-0.9 3.5h.9m-0.4-1h.9m-0.9-3.5h.9m-0.9 4.5h.9m-0.4-1.5h.9m-0.4-1h.9m0.6-2h.9m-0.9 0.5h.9m-0.4 3.5h.9m1.1-2.5h.9m-0.9-1.5h.9m-0.9 2.5h.9m-0.4-2.5h.9m-0.4 0h.9m-0.9 0.5h.9m-0.4-0.5h.9m-0.4 0h.9m4.1 1h.9m-0.9-1h.9m59.6 3.5h.9m1.6-2.5h.9m3.6 4h.9m-0.4-0.5h.9m-0.4-3h.9m-0.4 1h.9m0.1-1.5h.9m0.1 1.5h.9m-0.9 1.5h.9m-0.9-0.5h.9m0.1 0h.9m0.1 0.5h.9m0.1-3.5h.9m-0.9 1.5h.9m1.1 1h.9m-0.4-0.5h.9m-0.4 2h.9m-0.9-0.5h.9m-0.4 0h.9m-0.4 1h.9m-0.4-5h.9m-0.9 3.5h.9m-0.9-3.5h.9m0.1 1h.9m-0.9-0.5h.9m-0.4 0.5h.9m-0.4-1h.9m0.1 4.5h.9m-0.9-4.5h.9m-0.4 0h.9m-0.9 0.5h.9m-0.9 0.5h.9m-0.4-1h.9m-0.4 4.5h.9m-0.9-1.5h.9m-0.4-3h.9m-0.9 4.5h.9m-0.9-3.5h.9m0.1 2.5h.9m-0.9-2h.9m-0.9 0h.9m-0.9-0.5h.9m-0.4 1h.9m-0.4-2h.9m-0.9 2.5h.9m-0.9 2h.9m-0.9-4h.9m-0.4 0h.9m-0.9 0h.9m-0.4 0.5h.9m-0.9 4h.9m-0.4-1h.9m-0.9-3.5h.9m-0.9 1.5h.9m-0.9 1.5h.9m-0.4-1h.9m-0.9 0h.9m-0.4-1h.9m-0.4 1.5h.9m-0.4-2h.9m-0.9 2h.9m-0.4-1h.9m-0.9 3h.9m-0.9-2h.9m-0.9-2.5h.9m0.1 2h.9m-0.9-2.5h.9m-0.9 2h.9m-0.9 0.5h.9m-0.9 2.5h.9m0.1-4h.9m-0.9 1h.9m-0.4 3h.9m-0.9-2.5h.9m-0.4 1.5h.9m-0.4-3.5h.9m-0.9 3h.9m-0.9-3h.9m-0.9 0.5h.9m-0.9 0h.9m-0.9 0.5h.9m-0.4 1h.9m-0.9-1h.9m-0.9-1.5h.9m-0.9 0h.9m-0.9 1h.9m-0.9 3h.9m-0.9-2h.9m-0.4-0.5h.9m-0.9 2h.9m-0.9 1.5h.9m-0.9-1.5h.9m-0.4-2.5h.9m-0.9 1h.9m-0.4 2h.9m-0.4-3h.9m-0.4 2.5h.9m-0.9 0.5h.9m-0.4-3h.9m-0.9-1h.9m-0.9 1.5h.9m-0.4 2.5h.9m-0.9-1.5h.9m-0.9 1.5h.9m-0.9-2.5h.9m-0.4 1.5h.9m-0.9-0.5h.9m-0.9 1.5h.9m-0.4-1.5h.9m-0.9-1.5h.9m-0.4 3.5h.9m-0.9-2h.9m-0.4-2h.9m-0.9 1h.9m-0.4-0.5h.9m-0.4 4h.9m-0.9-4h.9m-0.9 0.5h.9m-0.4 3h.9m-0.9-3.5h.9m-0.9 1h.9m-0.9-1h.9m-0.4 3.5h.9m-0.9-2h.9m-0.9-1.5h.9m-0.9-0.5h.9m-0.9 2h.9m-0.4-0.5h.9m-0.9 3h.9m-0.9-5h.9m-0.9 4.5h.9m-0.4 0h.9m-0.9-4h.9m-0.9 4.5h.9m-0.9 0h.9m-0.4-0.5h.9m-0.9 0h.9m-0.9 0.5h.9m-0.9-5h.9m-0.9 3h.9m-0.9-0.5h.9m-0.9-2h.9m-0.9 2.5h.9m-0.4-0.5h.9m-0.9-1.5h.9m-0.9 2h.9m-0.9-2.5h.9m-0.4 4h.9m-0.9-3.5h.9m-0.9-1h.9m-0.9 5h.9m-0.9-4h.9m-0.9 3h.9m-0.9-2h.9m-0.9-2h.9m-0.4 2.5h.9m-0.9 0h.9m-0.9-1.5h.9m-0.9 0.5h.9m-0.9 3h.9m-0.9-0.5h.9m-0.9-0.5h.9m-0.4-1h.9m-0.9-0.5h.9m-0.9 0h.9m-0.9-1h.9m-0.9 3h.9m-0.4-4h.9m-0.9 3h.9m-0.4-2h.9m-0.4 0.5h.9m-0.9 2h.9m-0.4-1.5h.9m-0.9 0.5h.9m-0.4-1.5h.9m-0.4 1h.9m-0.9 1h.9m-0.9-2.5h.9m-0.9 2h.9m-0.9 1h.9m-0.9-3h.9m-0.4 1.5h.9m-0.9-1h.9m-0.9 3.5h.9m-0.9-0.5h.9m-0.4-4h.9m-0.9 4h.9m-0.9-1h.9m-0.4 0h.9m-0.9 0h.9m-0.9 0h.9m-0.4 0h.9m-0.9 1h.9m-0.9-1.5h.9m-0.4-1.5h.9m-0.9-1h.9m-0.4 0h.9m-0.4 1h.9m-0.4 0.5h.9m-0.9 2.5h.9m-0.9-3.5h.9m-0.4 2.5h.9m-0.9 1h.9m0.1-3.5h.9m-0.4 3h.9m-0.4 1h.9m-0.9-3.5h.9m-0.4 2.5h.9m-0.9-2h.9m-0.9 2h.9m-0.4 1h.9m-0.4-4h.9m-0.4 2.5h.9m-0.4-2.5h.9m-0.9 3.5h.9m-0.9-2h.9m-0.4 2h.9m-0.9 0.5h.9m0.1-4.5h.9m-0.4 0.5h.9m-0.9 2h.9m-0.4 2h.9m-0.9-4h.9m0.6 4h.9m-0.9-3.5h.9m-0.4-0.5h.9m-0.4 4.5h.9m-0.9 0h.9m-0.4-3h.9m-0.9 2.5h.9m0.6-4.5h.9m-0.9 1h.9m-0.9 3.5h.9m-0.4-2h.9m-0.9-1h.9m-0.4 2h.9m-0.9 0h.9m-0.9 1.5h.9m-0.4-4h.9m-0.4 1h.9m-0.4-1.5h.9m-0.9 1h.9m3.1-0.5h.9m0.1-1h.9m0.1 3.5h.9m0.1-3h.9m-0.9 1.5h.9m-0.4 1h.9m1.6-1.5h.9m-0.4 0h.9m-0.9 1h.9m7.1 0.5h.9m-348.9 3h.9m4.1 3.5h.9m1.6-1.5h.9m-0.4-1h.9m-0.9 2h.9m-0.4-2.5h.9m-0.9 3h.9m-0.4-3h.9m-0.9 0h.9m-0.4 0h.9m-0.4 2.5h.9m-0.4 0.5h.9m1.6-0.5h.9m-0.9-1.5h.9m-0.4 4h.9m0.6-3.5h.9m-0.9 1.5h.9m-0.9 1.5h.9m-0.4-3.5h.9m-0.9-2h.9m0.1 6h.9m0.1-1h.9m-0.9-4h.9m-0.9 4.5h.9m-0.9-2h.9m-0.4-1h.9m-0.9 0h.9m-0.9 3.5h.9m-0.9-0.5h.9m-0.4-2.5h.9m-0.4 3h.9m-0.9 0h.9m-0.9 0h.9m-0.4-4h.9m-0.9 1h.9m-0.9 1h.9m-0.4-3.5h.9m-0.9 4h.9m-0.9-0.5h.9m-0.9 2h.9m-0.4-3.5h.9m-0.9-1.5h.9m-0.9 3.5h.9m0.1 0h.9m-0.9-2h.9m-0.9 2.5h.9m-0.9 1h.9m-0.4-5h.9m-0.9-0.5h.9m-0.9 0h.9m-0.9 1h.9m-0.9 1.5h.9m-0.9-3h.9m-0.9 5.5h.9m-0.4-3.5h.9m-0.9 2h.9m-0.9 1h.9m-0.9 1h.9m-0.4-2.5h.9m-0.9-2.5h.9m-0.9 5h.9m-0.4-6h.9m-0.4 0h.9m-0.9 5h.9m-0.9-1.5h.9m-0.4-3h.9m-0.9 0h.9m-0.9 3.5h.9m-0.9 1h.9m-0.9-4h.9m-0.4-0.5h.9m-0.9 3h.9m0.1 1h.9m-0.9-2h.9m-0.9-1.5h.9m-0.9 4.5h.9m-0.4-4.5h.9m-0.9 2h.9m-0.9 1.5h.9m-0.4 0.5h.9m-0.9-1h.9m-0.9-2h.9m-0.4 2.5h.9m-0.9-2.5h.9m-0.9 4h.9m-0.4 0h.9m-0.9-2h.9m-0.9 0.5h.9m-0.9-1.5h.9m-0.9 1.5h.9m-0.4-4.5h.9m-0.9 1.5h.9m-0.9 3h.9m-0.9-2.5h.9m-0.9 1h.9m-0.9-1.5h.9m-0.4 1h.9m-0.9-1h.9m-0.9 4h.9m-0.4-4.5h.9m-0.9-1h.9m-0.9 5h.9m-0.4-3h.9m-0.9-2h.9m-0.9 2.5h.9m-0.9-1.5h.9m-0.9 0.5h.9m-0.9-0.5h.9m-0.9 2.5h.9m-0.9 2.5h.9m-0.9-5.5h.9m-0.9 5.5h.9m-0.9-6h.9m-0.4 2h.9m-0.9-2h.9m-0.9 2.5h.9m-0.9 3h.9m-0.9 0.5h.9m-0.4-3.5h.9m-0.9-1.5h.9m-0.4-1h.9m-0.9 2.5h.9m-0.9 0h.9m-0.4-1.5h.9m-0.4 1.5h.9m-0.9-1.5h.9m-0.9 3.5h.9m-0.9 0h.9m-0.9-2.5h.9m-0.9 1.5h.9m-0.9-1h.9m-0.9 3.5h.9m-0.9-3.5h.9m-0.4-1h.9m-0.9 0.5h.9m-0.9 3.5h.9m-0.9-1.5h.9m-0.9-1.5h.9m-0.9-1h.9m0.1-0.5h.9m-0.9-0.5h.9m0.1 1.5h.9m-0.9 4h.9m-0.9-1.5h.9m-0.9-3h.9m-0.4 2.5h.9m-0.9-2h.9m-0.9 1.5h.9m-0.9 2.5h.9m-0.4-5.5h.9m-0.9 0h.9m-0.9 5.5h.9m-0.4-3h.9m-0.9-2.5h.9m-0.4 1.5h.9m-0.9 1.5h.9m-0.9 2h.9m-0.9 0.5h.9m-0.9-1h.9m-0.4-3h.9m-0.4-0.5h.9m-0.9-1h.9m-0.4 0.5h.9m-0.9-1h.9m-0.9 1h.9m-0.9 0h.9m-0.9-1h.9m-0.9 2.5h.9m-0.9-0.5h.9m-0.4 0h.9m-0.9 3.5h.9m-0.4-5h.9m-0.9 2.5h.9m-0.4-1h.9m-0.9 3h.9m-0.9-4.5h.9m-0.9 4h.9m-0.9-1.5h.9m-0.9 2.5h.9m-0.9-1.5h.9m-0.4-0.5h.9m-0.9-3h.9m-0.4 2h.9m-0.9-1.5h.9m-0.9 4.5h.9m-0.9-1.5h.9m-0.9-2.5h.9m-0.4 3h.9m-0.9-4h.9m-0.9 0.5h.9m-0.9 3.5h.9m-0.4-4h.9m-0.9 0.5h.9m-0.9 5h.9m-0.4-5h.9m-0.9-0.5h.9m-0.4-0.5h.9m-0.9 2.5h.9m-0.9-1h.9m-0.9 3.5h.9m-0.4-1.5h.9m-0.9-2.5h.9m-0.4 2.5h.9m-0.9 0h.9m-0.9-3.5h.9m-0.9 1.5h.9m-0.4 2h.9m-0.9-3.5h.9m-0.9 3.5h.9m-0.9-2.5h.9m-0.9 1h.9m-0.9-2h.9m-0.4 4h.9m-0.9-4h.9m-0.9 0.5h.9m-0.9-0.5h.9m-0.4 0h.9m-0.9 3h.9m-0.9-3h.9m-0.9 3h.9m-0.9-2.5h.9m-0.9 0h.9m0.1 5.5h.9m-0.9-6h.9m-0.4 3h.9m-0.4-3h.9m-0.4 3h.9m0.1-1h.9m-0.9 1h.9m-0.4-0.5h.9m-0.4-0.5h.9m-0.9-1h.9m-0.4 4.5h.9m-0.4-5.5h.9m-0.9 6h.9m-0.9-6h.9m-0.9 2.5h.9m-0.9-0.5h.9m-0.4 2h.9m-0.9 0h.9m-0.9-1.5h.9m-0.4-0.5h.9m-0.9-2h.9m-0.4 1.5h.9m0.1 2.5h.9m-0.4-4h.9m-0.9 4.5h.9m-0.4-4h.9m-0.9 0h.9m-0.9 2h.9m-0.4-2.5h.9m-0.4 3h.9m-0.4-2h.9m-0.9 0h.9m-0.4 3.5h.9m-0.9 1h.9m0.6-2.5h.9m1.1-0.5h.9m0.6-1.5h.9m-0.4 0.5h.9m0.6 1h.9m-0.9-1.5h.9m-0.4 2.5h.9m2.1 2.5h.9m3.1-6h.9m61.1 5h.9m-0.9 1h.9m0.6-1.5h.9m4.1 1h.9m-0.4-1.5h.9m-0.4-1.5h.9m0.1-0.5h.9m1.6 1.5h.9m0.1 2.5h.9m-0.9 0h.9m-0.4-0.5h.9m-0.9-0.5h.9m-0.4-4h.9m-0.9 1.5h.9m-0.9 1.5h.9m0.6 0.5h.9m0.1 1.5h.9m-0.4-0.5h.9m0.1-2.5h.9m-0.9 2.5h.9m-0.9 0.5h.9m-0.9-0.5h.9m0.1 0h.9m-0.4-5h.9m-0.9 1.5h.9m-0.9 3h.9m-0.9-3.5h.9m-0.4 3.5h.9m-0.9-3h.9m-0.4-1h.9m-0.9 1h.9m-0.4 1.5h.9m-0.4 1.5h.9m-0.9-1.5h.9m-0.4-2.5h.9m-0.9 4h.9m-0.4-1.5h.9m0.1-2h.9m-0.9 4.5h.9m-0.9-1.5h.9m-0.4-4h.9m-0.9 3.5h.9m-0.4 1.5h.9m-0.9-1.5h.9m-0.9-3.5h.9m-0.4 1.5h.9m-0.9 0.5h.9m-0.4-1.5h.9m-0.4 5h.9m-0.4-5.5h.9m-0.4-0.5h.9m-0.9 1.5h.9m-0.9 3.5h.9m-0.4-2h.9m-0.9 2.5h.9m-0.9-4.5h.9m0.1 3.5h.9m-0.4 1.5h.9m-0.9-3.5h.9m-0.9-2.5h.9m-0.4 0.5h.9m-0.9 0h.9m-0.9 1h.9m-0.4-1h.9m-0.4 3h.9m-0.9 0.5h.9m-0.4 0.5h.9m-0.4-0.5h.9m-0.9 2h.9m-0.9-2h.9m-0.4 0.5h.9m-0.9 0.5h.9m-0.9-1.5h.9m-0.9 0.5h.9m-0.4-1.5h.9m-0.4 2h.9m-0.4-2h.9m-0.9 3h.9m-0.4-0.5h.9m-0.9-1.5h.9m-0.9 1.5h.9m-0.9-2.5h.9m-0.9 1h.9m-0.9-3.5h.9m-0.4 0h.9m-0.9 1h.9m-0.9 4h.9m-0.4 1h.9m-0.9-6h.9m-0.9 1.5h.9m-0.4 1.5h.9m-0.9-3h.9m-0.9 1.5h.9m-0.9 4h.9m-0.9-3.5h.9m-0.4-1.5h.9m-0.9 0h.9m-0.9 0.5h.9m-0.9 2.5h.9m-0.9-1h.9m-0.9 1h.9m-0.4-3.5h.9m-0.9 2.5h.9m-0.9-2h.9m-0.9 2.5h.9m-0.4-1.5h.9m-0.9 1h.9m-0.9-1.5h.9m-0.4 0h.9m-0.9 2.5h.9m-0.9 2.5h.9m-0.9-4.5h.9m-0.9 4h.9m-0.9-2h.9m-0.4-3h.9m-0.9 0.5h.9m-0.9 4.5h.9m-0.9-1h.9m-0.9 0.5h.9m-0.9-1h.9m-0.4-1h.9m-0.9-1h.9m-0.4 0.5h.9m-0.9 0h.9m-0.9-0.5h.9m-0.9-1h.9m-0.9-1h.9m-0.9 3.5h.9m-0.9 2h.9m-0.4-3.5h.9m-0.9-1h.9m-0.4 0.5h.9m-0.9 2.5h.9m-0.9 0h.9m-0.4-1.5h.9m-0.9 1.5h.9m-0.4-2.5h.9m-0.9-1.5h.9m-0.4 3.5h.9m-0.4-0.5h.9m-0.9-2.5h.9m-0.9 2h.9m-0.9-1.5h.9m-0.9 3h.9m-0.9-1.5h.9m-0.4-1.5h.9m-0.9-0.5h.9m-0.9 2h.9m-0.9-1.5h.9m-0.4 4h.9m-0.9-3.5h.9m-0.9 3h.9m-0.4-3.5h.9m-0.9 3h.9m-0.9-4h.9m-0.4 2h.9m-0.9 0.5h.9m-0.4-1.5h.9m-0.9 4h.9m-0.4-1h.9m-0.4-2.5h.9m-0.4 3.5h.9m-0.9 0h.9m-0.9-0.5h.9m-0.9 0h.9m-0.4-4h.9m-0.9 4.5h.9m-0.9-1h.9m-0.9-1.5h.9m-0.9 0.5h.9m-0.4-3h.9m-0.9 3.5h.9m-0.9 0.5h.9m-0.9-2h.9m-0.4-0.5h.9m-0.4 0h.9m-0.4 0.5h.9m-0.9-1h.9m-0.9 0.5h.9m-0.4 4h.9m0.1-1.5h.9m0.6-3.5h.9m-0.9 1.5h.9m-0.4 2h.9m0.1-4h.9m-0.4 0.5h.9m-0.9 3h.9m0.6-2.5h.9m-0.4 1.5h.9m-0.4-1.5h.9m-0.9 0h.9m0.1 2h.9m-0.9 0h.9m-0.4-0.5h.9m-0.4-1h.9m-0.9 3.5h.9m-0.9-5h.9m0.1 4h.9m0.1 1h.9m-0.9 0h.9m-0.4 1h.9m-0.4-3.5h.9m-0.4 0.5h.9m-0.9 0h.9m-0.9 3h.9m-0.4-3h.9m-0.9 0.5h.9m0.1 2.5h.9m-0.9-3.5h.9m-0.4 3h.9m0.1-1.5h.9m-0.9 2h.9m-0.4 0h.9m-0.9-1h.9m-0.4 1h.9m-0.9-0.5h.9m-0.9-3.5h.9m-0.9 0h.9m0.1 4h.9m-0.9-6h.9m0.1 2.5h.9m-0.9 3.5h.9m-0.4-3h.9m-0.4 2.5h.9m0.1 0h.9m-0.4 0h.9m0.1-2.5h.9m2.6 2h.9m-0.4-1h.9m-0.4 1.5h.9m6.6-0.5h.9m49.1-4h.9m1.1 4h.9m0.1-2h.9m1.6-1.5h.9m0.1 4h.9m-0.4-2h.9m-0.4 1.5h.9m-0.4 0h.9m0.1-3h.9m0.6 2.5h.9m1.1-1.5h.9m-0.4 3h.9m-0.9-0.5h.9m-0.4-0.5h.9m-0.4-4h.9m-0.9-0.5h.9m-0.9 4.5h.9m-0.4 0.5h.9m-0.9-4h.9m-0.4 3h.9m-0.9-2h.9m0.6 3h.9m-0.4-4h.9m-0.9 3.5h.9m-0.9-4.5h.9m0.1 3h.9m-0.9 2h.9m-0.4-3h.9m-0.9 3h.9m-0.4 0.5h.9m-0.4-3.5h.9m-0.4 2h.9m-0.4 1h.9m-0.9-5h.9m-0.9 1.5h.9m-0.9 4h.9m-0.4-3.5h.9m-0.9 3h.9m-0.9-4.5h.9m-0.4 0.5h.9m-0.9 4h.9m-0.9-0.5h.9m-0.4-1.5h.9m-0.4 1h.9m-0.9 0h.9m-0.9 0h.9m0.1 1.5h.9m-0.9-6h.9m-0.4 0h.9m-0.9 3h.9m-0.4 2h.9m-0.9-1h.9m-0.9 0.5h.9m-0.9-3.5h.9m-0.4 1.5h.9m-0.9 3h.9m-0.9-5h.9m-0.4 5h.9m-0.9-0.5h.9m-0.4-4h.9m-0.9 0h.9m-0.4 3h.9m0.1-1.5h.9m-0.9 0.5h.9m-0.4 3h.9m-0.9-3h.9m-0.9-3h.9m-0.4 0h.9m-0.9 3h.9m-0.4 1h.9m-0.9-3h.9m-0.9 4.5h.9m-0.4-5.5h.9m-0.4 0.5h.9m-0.9 5h.9m-0.9-5.5h.9m-0.4 2h.9m-0.9 1.5h.9m-0.9-2h.9m-0.9-1h.9m-0.4 0h.9m-0.4 4.5h.9m-0.9-1h.9m-0.9-1.5h.9m-0.9 2h.9m-0.4-4.5h.9m-0.9 1h.9m-0.9 0h.9m-0.4 4.5h.9m-0.9-4h.9m-0.9 0h.9m-0.9 2.5h.9m-0.4-3h.9m-0.9 2h.9m-0.9-0.5h.9m-0.4 2.5h.9m-0.9-0.5h.9m-0.4-3.5h.9m-0.9-0.5h.9m-0.9 2h.9m-0.9-1h.9m-0.4 4.5h.9m-0.9-3h.9m-0.9 0h.9m-0.4 0.5h.9m-0.9-3.5h.9m-0.9 0h.9m-0.4 3.5h.9m-0.9-2h.9m-0.9 4h.9m-0.9-4.5h.9m-0.4-1h.9m-0.9 5.5h.9m-0.9-3h.9m-0.9-1.5h.9m-0.4-1h.9m-0.9 3.5h.9m-0.9-2h.9m0.1-1.5h.9m-0.9 5h.9m-0.9-4h.9m-0.9 5h.9m-0.9-1.5h.9m-0.9-1h.9m-0.4 1.5h.9m-0.9-3.5h.9m-0.9 4.5h.9m0.1-4.5h.9m-0.9-1.5h.9m-0.4 4.5h.9m-0.9-3h.9m-0.9 2.5h.9m-0.4-4h.9m-0.9 4h.9m-0.9 0.5h.9m-0.4 1h.9m-0.9-1h.9m-0.4-3h.9m-0.9-1h.9m-0.9 2.5h.9m-0.4 2.5h.9m-0.4-4.5h.9m-0.9 0h.9m-0.4 0.5h.9m-0.9-1.5h.9m-0.9 1h.9m-0.9 1h.9m-0.4-2h.9m-0.9 1.5h.9m-0.9 1.5h.9m-0.4 2.5h.9m-0.9-5.5h.9m-0.4 2.5h.9m-0.4-2.5h.9m-0.9 2.5h.9m-0.9 2h.9m-0.9 0.5h.9m-0.4-2.5h.9m-0.9 0h.9m-0.9 0.5h.9m-0.9-2h.9m-0.4 1h.9m-0.9 0h.9m-0.9-0.5h.9m-0.4 3h.9m-0.9-2.5h.9m-0.9 2h.9m-0.9-3.5h.9m0.1 3h.9m-0.9 2h.9m-0.9-4.5h.9m-0.4 0.5h.9m-0.9-0.5h.9m-0.9 1.5h.9m-0.4 1h.9m-0.9 0h.9m-0.9-3.5h.9m-0.9 1.5h.9m-0.9 0h.9m-0.9 2.5h.9m-0.4-1h.9m-0.4 2.5h.9m-0.9-5.5h.9m-0.9 0.5h.9m-0.4 5h.9m-0.9-3.5h.9m-0.9-0.5h.9m-0.9 2h.9m-0.4-1.5h.9m-0.9-1.5h.9m-0.9 4h.9m-0.4 0.5h.9m-0.9-1.5h.9m-0.4-0.5h.9m-0.9 1.5h.9m-0.4 1.5h.9m-0.9-4h.9m-0.9-2h.9m-0.4 2h.9m-0.9 1h.9m-0.4 1h.9m-0.9 1h.9m-0.9-1h.9m-0.4 0h.9m-0.9-3.5h.9m-0.4 1.5h.9m-0.9 1h.9m-0.9 0h.9m-0.9-1.5h.9m-0.9 4h.9m-0.9-5h.9m-0.4 4h.9m-0.9-1h.9m-0.9 1.5h.9m-0.4 0.5h.9m-0.9 0.5h.9m-0.9-3h.9m-0.4 2.5h.9m-0.9 0h.9m-0.9-2h.9m-0.4-3.5h.9m-0.4 6h.9m-0.9-5.5h.9m-0.9 4h.9m-0.9-1h.9m-0.9 1.5h.9m0.1 0.5h.9m-0.9-2h.9m-0.4 2.5h.9m-0.4 0h.9m-0.9-3h.9m-0.9 3h.9m-0.4-3h.9m-0.9-0.5h.9m-0.9 3h.9m-0.9-2.5h.9m-0.4 2.5h.9m-0.9-2h.9m-0.9 1.5h.9m-0.9 0.5h.9m-0.4-3h.9m-0.9-2h.9m-0.9 1.5h.9m-0.4 3.5h.9m-0.9 0h.9m-0.9-3.5h.9m-0.4 1h.9m-0.9 1.5h.9m-0.9 0h.9m-0.4-1.5h.9m-0.9 2.5h.9m-0.9-0.5h.9m-0.9 0.5h.9m-0.9 0h.9m-0.9-1.5h.9m-0.4-1h.9m-0.9 3h.9m-0.9-0.5h.9m-0.4-2h.9m-0.4-0.5h.9m-0.9 3h.9m-0.9-1.5h.9m-0.9 1h.9m-0.4 0.5h.9m-0.9-3h.9m-0.4-1.5h.9m-0.9 2.5h.9m-0.9 1h.9m-0.9 0.5h.9m-0.9-1h.9m-0.4-2h.9m-0.9-0.5h.9m-0.9 3h.9m-0.4 1h.9m-0.9-1.5h.9m-0.9 1h.9m-0.4-4h.9m-0.9 3h.9m-0.9-1h.9m-0.4 0h.9m-0.9 2.5h.9m-0.9-3h.9m-0.9 2.5h.9m-0.9-1h.9m-0.9-4h.9m-0.4 2.5h.9m0.1-0.5h.9m-0.9 1.5h.9m-0.4 2h.9m-0.9-5.5h.9m-0.9 4h.9m-0.4 1.5h.9m-0.4-1h.9m-0.9-2.5h.9m-0.4 2.5h.9m-0.9-2h.9m-0.9 1h.9m-0.4 2h.9m-0.4 0h.9m-0.4-0.5h.9m-0.4-4.5h.9m-0.9 2.5h.9m-0.9 0h.9m-0.9 1h.9m-0.9 0h.9m-0.4-0.5h.9m0.1 2h.9m-0.4-3.5h.9m-0.9 3.5h.9m-0.4-1.5h.9m-339.9 4.5h.9m2.6 0h.9m1.6 1.5h.9m4.1-2h.9m-0.9 2.5h.9m-0.4-0.5h.9m-0.4-1.5h.9m-0.4 0h.9m-0.9-2h.9m-0.9 1h.9m-0.4 0.5h.9m-0.4 2.5h.9m-0.9-2.5h.9m-0.4-2h.9m-0.4 1h.9m-0.9-1h.9m-0.4 0h.9m-0.9 2.5h.9m-0.9 1h.9m0.1-3.5h.9m-0.4 1h.9m-0.4 3h.9m-0.9-1.5h.9m-0.4-1.5h.9m0.1 1.5h.9m-0.4-0.5h.9m-0.4 3h.9m-0.9-3.5h.9m-0.4 1h.9m-0.4-2.5h.9m-0.9 0h.9m-0.4 4h.9m-0.9-2h.9m-0.9-2h.9m-0.4 1h.9m-0.4-1h.9m-0.9 0h.9m-0.4 1h.9m-0.9 1h.9m-0.9 3h.9m-0.9-3h.9m-0.4-0.5h.9m-0.9-0.5h.9m-0.4 1h.9m-0.9 1h.9m-0.4-3h.9m-0.9 5h.9m-0.4-4.5h.9m0.6 2.5h.9m-0.9-1h.9m0.1 0.5h.9m-0.4-2h.9m-0.9 0h.9m-0.9 0.5h.9m-0.4-0.5h.9m-0.4 4h.9m-0.9-0.5h.9m-0.9-3h.9m-0.4 1.5h.9m-0.9-0.5h.9m-0.4 0h.9m-0.9 0h.9m-0.9 3h.9m0.6-4.5h.9m-0.4 1.5h.9m-0.9-1.5h.9m-0.4 0h.9m0.1 4.5h.9m1.1-0.5h.9m-0.4-4.5h.9m0.6 0.5h.9m-0.9 0.5h.9m3.6 1.5h.9m0.6-0.5h.9m-0.9 0.5h.9m-0.9 1.5h.9m0.1-4h.9m-0.4 0h.9m-0.9 0h.9m-0.9 5h.9m0.6-3.5h.9m-0.9 0h.9m1.1-1h.9m6.1 2.5h.9m0.6-3h.9m0.1 4h.9m68.1-1.5h.9m4.1 1.5h.9m3.1 0h.9m-0.9-2h.9m0.1-1.5h.9m0.6 1h.9m0.1-0.5h.9m2.1-0.5h.9m0.1 3.5h.9m-0.4-0.5h.9m-0.9 1.5h.9m-0.9-1h.9m0.1-3h.9m0.6-0.5h.9m0.6 2h.9m-0.9-0.5h.9m0.1 2h.9m-0.9 0.5h.9m-0.4-1.5h.9m-0.4-0.5h.9m-0.9-1h.9m-0.4-1h.9m-0.9 3.5h.9m-0.9 0h.9m-0.9-2.5h.9m-0.4 0h.9m-0.9 1h.9m-0.4 0.5h.9m-0.4-2.5h.9m-0.9 4.5h.9m-0.9-3.5h.9m-0.9 1h.9m0.1-1.5h.9m-0.9 0.5h.9m-0.9 0.5h.9m-0.9 0h.9m-0.9 0.5h.9m-0.4-1h.9m-0.4-1h.9m-0.9 3.5h.9m-0.9-1.5h.9m-0.4 1.5h.9m-0.9-3.5h.9m-0.4 4h.9m-0.4-3h.9m-0.4-1h.9m-0.4 3.5h.9m-0.9-2.5h.9m-0.9 3.5h.9m0.1-4h.9m-0.9 1.5h.9m-0.9-2.5h.9m-0.4 4.5h.9m-0.9 0.5h.9m-0.4-4h.9m-0.9 2.5h.9m-0.4 0h.9m-0.9 1h.9m-0.9-3.5h.9m-0.9 3h.9m0.1-2h.9m-0.9 0h.9m-0.4 1.5h.9m0.1-3h.9m0.1 0h.9m0.1 2h.9m-0.9-2.5h.9m-0.9 0h.9m-0.4 1h.9m-0.9 2.5h.9m-0.9-1.5h.9m-0.9 2h.9m-0.4-2.5h.9m-0.4 2.5h.9m-0.9 0h.9m-0.4-1h.9m-0.4 1h.9m-0.4-2.5h.9m-0.9 0h.9m-0.9 3h.9m-0.9-4.5h.9m-0.4 3.5h.9m-0.4 1h.9m-0.4-0.5h.9m0.6 0.5h.9m-0.9-2.5h.9m-0.9-0.5h.9m0.1-0.5h.9m-0.4-1h.9m-0.4 0h.9m-0.4 3.5h.9m-0.4-1.5h.9m-0.4 3h.9m-0.4-3h.9m0.1 1h.9m0.6-3h.9m-0.9 2h.9m-0.4 0h.9m-0.9 0h.9m0.6 1.5h.9m-0.9-1h.9m-0.4-1.5h.9m-0.9-0.5h.9m-0.4 2.5h.9m-0.4-2.5h.9m0.6 0.5h.9m0.1 1h.9m-0.4 2.5h.9m-0.4 0.5h.9m-0.9-2h.9m-0.4 0.5h.9m-0.4-3h.9m-0.4 4.5h.9m-0.9-2.5h.9m-0.9 1.5h.9m-0.4 0.5h.9m-0.9-4h.9m-0.4 4.5h.9m-0.4-3h.9m-0.9 2.5h.9m-0.9-0.5h.9m-0.9 0.5h.9m-0.9-3h.9m-0.9 1.5h.9m-0.9 0.5h.9m-0.9 1h.9m-0.9-2h.9m-0.4 2.5h.9m-0.9-1.5h.9m-0.9 1.5h.9m-0.9-4.5h.9m-0.4 3h.9m-0.9 1.5h.9m-0.9-2h.9m-0.9 0.5h.9m-0.9-1h.9m-0.9 2h.9m-0.9 0.5h.9m-0.4 0h.9m-0.9-4.5h.9m-0.9 0.5h.9m-0.4 1.5h.9m-0.9-1.5h.9m-0.9 3.5h.9m-0.9-0.5h.9m-0.9-3.5h.9m-0.4 2.5h.9m-0.9 1h.9m-0.9-4h.9m-0.4 2h.9m-0.9 0.5h.9m-0.9 0.5h.9m-0.9 0h.9m-0.9 0h.9m-0.9-1.5h.9m-0.9 2.5h.9m-0.4-1h.9m-0.9-0.5h.9m-0.9 0.5h.9m-0.9 0.5h.9m-0.9-1.5h.9m-0.4-1h.9m-0.9 2h.9m-0.9 0h.9m-0.9-2h.9m-0.9 2h.9m-0.9-3h.9m-0.4 2h.9m-0.9 1h.9m-0.9 0h.9m-0.4-0.5h.9m-0.9 0h.9m-0.4-1h.9m-0.9 1h.9m-0.9-0.5h.9m-0.9 0.5h.9m-0.9-1h.9m-0.9 0h.9m-0.4 0.5h.9m-0.9 0.5h.9m-0.9 0.5h.9m-0.4-0.5h.9m-0.9-0.5h.9m-0.4 0.5h.9m-0.9-1h.9m-0.4 1h.9m-0.9-2.5h.9m-0.9 2h.9m-0.9-1h.9m-0.4-0.5h.9m-0.9 0h.9m-0.9 0h.9m-0.9 1.5h.9m-0.4-2h.9m-0.9 1.5h.9m-0.9 0.5h.9m-0.4-2h.9m-0.9 0h.9m-0.9 2h.9m-0.4-0.5h.9m-0.4-0.5h.9m-0.9 0h.9m-0.4-0.5h.9m-0.4 1.5h.9m-0.9-1h.9m-0.9 0.5h.9m-0.4-1h.9m-0.9 0.5h.9m-0.9 0h.9m-0.4 0.5h.9m-0.9 0h.9m-0.9-1h.9m-0.9 0.5h.9m-0.9-0.5h.9m-0.4 1h.9m-0.9-1h.9m-0.4 1.5h.9m-0.9-0.5h.9m-0.9 0h.9m-0.4-0.5h.9m-0.9-1h.9m-0.9 1.5h.9m-0.9 0h.9m-0.4 0.5h.9m-0.9 0h.9m-0.9-1.5h.9m-0.4-0.5h.9m-0.9 1.5h.9m-0.9-1h.9m-0.9 1.5h.9m-0.9 0h.9m-0.4-1h.9m-0.9-0.5h.9m-0.9 0.5h.9m-0.9 1h.9m-0.9-1.5h.9m-0.4 1.5h.9m-0.9-2h.9m-0.4 2h.9m-0.9-1.5h.9m-0.9 1h.9m-0.9-0.5h.9m-0.9 0h.9m-0.9 1h.9m-0.9 0h.9m-0.9-1h.9m-0.4 1.5h.9m-0.9 0h.9m-0.9-1.5h.9m-0.9 1h.9m-0.9-1.5h.9m-0.4 2.5h.9m-0.9-0.5h.9m-0.9 0h.9m-0.9-0.5h.9m-0.4-1h.9m-0.9 2h.9m-0.9 0h.9m-0.9-3h.9m-0.9 2h.9m-0.4 0h.9m-0.4 0h.9m-0.9 1.5h.9m-0.9 0h.9m-0.9-1.5h.9m-0.4 1h.9m-0.9 1h.9m-0.4 0h.9m-0.9 0h.9m-0.4-2h.9m-0.9 1.5h.9m-0.9 0.5h.9m-0.9 0.5h.9m-0.9-1.5h.9m-0.9-2h.9m-0.9 3h.9m-0.9-1.5h.9m-0.9 1.5h.9m-0.4-1h.9m-0.9 1.5h.9m-0.9-0.5h.9m-0.4 1h.9m-0.9-0.5h.9m-0.9 0h.9m-0.9 0h.9m-0.9 0h.9m-0.4-2h.9m-0.9 1.5h.9m-0.4-3h.9m-0.9 3.5h.9m-0.9-3.5h.9m-0.4 3.5h.9m-0.9-0.5h.9m0.1 0h.9m-0.4 0.5h.9m-0.4-1.5h.9m-0.9 1.5h.9m-0.4-1h.9m1.1 1.5h.9m2.1 0h.9m42.1 0h.9m1.6-1h.9m-0.4-1h.9m-0.9-1h.9m0.6 3h.9m3.6-5h.9m0.1 3.5h.9m-0.9-1h.9m0.6-1.5h.9m1.6 3h.9m0.6-0.5h.9m-0.4-1h.9m0.1 1h.9m0.6-3h.9m-0.9 3h.9m-0.9 1.5h.9m0.6-5h.9m-0.9 0.5h.9m-0.4 4h.9m-0.9-3h.9m-0.4 0.5h.9m-0.9-1.5h.9m-0.4 4.5h.9m-0.4-3h.9m-0.4-1h.9m-0.9-0.5h.9m-0.4 0h.9m-0.9 3h.9m-0.4-1h.9m-0.4-1.5h.9m-0.4 1h.9m-0.4-2h.9m-0.4 3.5h.9m0.1 0.5h.9m0.6-3.5h.9m-0.9 0h.9m-0.4 1h.9m-0.9-1.5h.9m-0.4 2.5h.9m1.6-2.5h.9m-0.4 1h.9m-0.4-0.5h.9m-0.4 3h.9m-0.4-3h.9m-0.4 1h.9m-0.4-1h.9m-0.9 2h.9m-0.4 2h.9m-0.9-2.5h.9m-0.4-1.5h.9m-0.4 4h.9m-0.9 0h.9m-0.4-1.5h.9m-0.4-1h.9m-0.9-2h.9m-0.9 1.5h.9m-0.4 1.5h.9m-0.4-3h.9m-0.4 2.5h.9m-0.9-0.5h.9m-0.9-1h.9m-0.4-0.5h.9m-0.4 1h.9m-0.4 3h.9m-0.9-4h.9m-0.4-0.5h.9m-0.9 4h.9m-0.9-2.5h.9m-0.4 1.5h.9m-0.4-0.5h.9m-0.4 1h.9m-0.9-0.5h.9m0.6-1.5h.9m0.1 1.5h.9m-0.4-2h.9m-0.9-1h.9m-0.9 2h.9m-0.9-1h.9m-0.9 1h.9m0.1 1.5h.9m-0.4-2.5h.9m-0.4-1h.9m-0.4 2h.9m0.6 0h.9m-0.4 2.5h.9m-0.9-4.5h.9m0.1 1h.9m2.6 3h.9m-0.9-0.5h.9m-0.9-0.5h.9m1.6 1.5h.9m-0.4-1h.9m-0.9-1.5h.9m-0.9 0.5h.9m-0.9 2h.9m0.6-3h.9m-0.9 1.5h.9m-0.4 2h.9m-0.4-1.5h.9m-0.9-3h.9m-0.9 0h.9m-0.4 2.5h.9m-0.9-3h.9m-0.4 3h.9m-0.9 1.5h.9m-0.9 0h.9m-0.9-2.5h.9m-0.9-1.5h.9m0.1 4h.9m-0.9 0.5h.9m-0.9-2.5h.9m-0.9-0.5h.9m-0.4 1.5h.9m-0.9-0.5h.9m-0.4 0.5h.9m-0.9 1h.9m-0.9-4.5h.9m-0.4 3h.9m-0.9-2h.9m-0.9-1h.9m-0.4 3.5h.9m-0.9 0.5h.9m-0.9-2.5h.9m-0.4 2.5h.9m-0.9-2h.9m-0.9 0.5h.9m-0.9-1.5h.9m-0.4 2.5h.9m-0.4-1.5h.9m-0.9-0.5h.9m-0.4 0.5h.9m-0.9 0h.9m-0.4 1.5h.9m-0.9-1h.9m-0.4-1h.9m-0.9-0.5h.9m-0.9 1.5h.9m-0.9-1h.9m-0.4-1.5h.9m-0.9 0h.9m-0.4 1.5h.9m-0.9 0h.9m-0.9 0.5h.9m-0.9-1h.9m-0.4 0.5h.9m-0.9-1h.9m-0.9 1h.9m-0.9-1.5h.9m-0.9 0.5h.9m-0.4 1h.9m-0.9-1h.9m-0.9 2.5h.9m-0.4-1.5h.9m-0.9-1.5h.9m-0.9 0h.9m-0.9 3.5h.9m-0.9-2.5h.9m-0.4 0h.9m-0.4-0.5h.9m-0.9 0h.9m-0.4 0.5h.9m-0.9-1h.9m-0.4 0.5h.9m-0.9-0.5h.9m-0.9 0h.9m-0.9 0.5h.9m-0.4 2h.9m-0.4-2h.9m-0.4 0h.9m-0.9 0.5h.9m-0.4-0.5h.9m-0.9-0.5h.9m-0.4 0h.9m-0.4 0h.9m-0.9 0.5h.9m-0.9 0h.9m-0.4 0h.9m-0.4 0.5h.9m-0.9-1h.9m-0.9 1h.9m-0.4-0.5h.9m-0.9 0h.9m-0.9 0h.9m-0.9 0h.9m-0.9 3h.9m-0.9-3h.9m-0.4 0.5h.9m-0.9 0h.9m-0.4 0.5h.9m-0.9-1h.9m-0.4 0.5h.9m-0.9 0h.9m-0.9 0h.9m-0.4 1h.9m-0.9-1h.9m-0.9 0.5h.9m-0.9 0.5h.9m-0.4-0.5h.9m-0.4-1h.9m-0.4 2.5h.9m-0.9 0.5h.9m-0.9-1.5h.9m-0.9 1h.9m-0.9-1h.9m-0.4 0.5h.9m-0.9 1.5h.9m-0.4-0.5h.9m-0.9-1.5h.9m-0.9 3h.9m-0.9-1h.9m-0.9-1h.9m-0.4 0.5h.9m-0.9-1h.9m-0.9-1h.9m-0.9-0.5h.9m-0.9 3h.9m-0.9 1h.9m-0.4-1.5h.9m-0.9-0.5h.9m-0.9 0.5h.9m-0.4-1h.9m-0.9-0.5h.9m-0.4 0.5h.9m-0.9-2h.9m-0.9 3.5h.9m-0.9 0.5h.9m-0.4-4.5h.9m-0.9 3.5h.9m-0.4-2h.9m-0.9 2.5h.9m0.1 0.5h.9m-0.4-1.5h.9m-0.9-0.5h.9m-0.4-2.5h.9m-0.4 3.5h.9m2.6-1h.9m0.1-2h.9m0.1 0.5h.9m-347.4 8h.9m-0.9-0.5h.9m-0.9 0.5h.9m-0.4 0.5h.9m0.1 1.5h.9m-0.9-1.5h.9m0.6-3.5h.9m-0.9 2.5h.9m-0.9 0h.9m-0.9 1h.9m-0.9 0h.9m-0.9 0.5h.9m-0.4-0.5h.9m-0.9-0.5h.9m-0.9 0h.9m-0.9 1.5h.9m-0.4-1.5h.9m0.1-3.5h.9m-0.9 2.5h.9m-0.9 2.5h.9m-0.4-1h.9m-0.9 0h.9m-0.9 1h.9m-0.9-0.5h.9m-0.4 1.5h.9m-0.9-3h.9m-0.4 2h.9m-0.9-2.5h.9m-0.9 1h.9m0.1 0h.9m-0.4 0.5h.9m-0.9 0.5h.9m0.1-1h.9m-0.9 0.5h.9m-0.9-0.5h.9m-0.9 1h.9m-0.9-0.5h.9m-0.4-2h.9m-0.4 2.5h.9m-0.9-1.5h.9m-0.9 0.5h.9m-0.4-3.5h.9m-0.9 5.5h.9m-0.4-2h.9m-0.9-1h.9m-0.4 2.5h.9m-0.4-2h.9m-0.9 0.5h.9m-0.9 1.5h.9m-0.4-2h.9m-0.9 0h.9m-0.9 1h.9m-0.9-1h.9m-0.9 0h.9m-0.4 1.5h.9m-0.9 1h.9m-0.9-2.5h.9m-0.9 0.5h.9m-0.4 1.5h.9m-0.4-0.5h.9m-0.9-0.5h.9m-0.4-2.5h.9m-0.9 3h.9m-0.9-1h.9m-0.9 0.5h.9m0.1 1.5h.9m-0.9-3h.9m-0.4-2h.9m-0.9 3h.9m-0.4 0h.9m-0.9 1h.9m-0.9 0h.9m-0.4-4.5h.9m-0.9 4.5h.9m-0.9-0.5h.9m-0.9 2h.9m-0.4-1.5h.9m-0.4-1h.9m-0.9 1h.9m-0.4 0.5h.9m-0.9-2h.9m-0.9 1.5h.9m-0.9-1.5h.9m-0.4 3h.9m-0.9-1.5h.9m-0.9-2.5h.9m-0.9 2h.9m-0.9 0.5h.9m0.6-1h.9m-0.9 0.5h.9m0.1-1.5h.9m-0.4-2h.9m-0.9 1h.9m-0.9 2.5h.9m-0.9 0.5h.9m-0.4-3.5h.9m-0.9 3.5h.9m-0.4-4.5h.9m-0.9 2h.9m-0.9 1.5h.9m-0.4 1h.9m-0.9-1h.9m2.6-3.5h.9m3.6 0.5h.9m-0.9 0.5h.9m-0.4 2h.9m1.1 0h.9m7.6 2h.9m15.6-4h.9m3.6 5h.9m1.1-5h.9m-0.4 1h.9m2.1 2.5h.9m58.1-3h.9m3.1 0.5h.9m1.6 3.5h.9m-0.4-0.5h.9m-0.9 0.5h.9m0.1 0h.9m-0.9-1h.9m-0.4 1.5h.9m-0.4-3h.9m-0.9 2h.9m-0.4 0.5h.9m-0.4-2.5h.9m-0.9-2h.9m-0.9 1.5h.9m-0.4-1h.9m-0.4 1h.9m-0.9 3h.9m-0.9 0h.9m-0.9 0.5h.9m-0.4-5h.9m-0.9 4.5h.9m-0.9 0h.9m0.1-3h.9m-0.9 3.5h.9m-0.4-4h.9m-0.4 2h.9m-0.9 1h.9m-0.9-1h.9m-0.9-0.5h.9m-0.9 2.5h.9m-0.4-2.5h.9m-0.4 2.5h.9m-0.9-1h.9m-0.9 0h.9m-0.4-0.5h.9m-0.9 1h.9m-0.9 0h.9m-0.9-0.5h.9m-0.4-3h.9m-0.9 2.5h.9m-0.9 0.5h.9m-0.4-4h.9m-0.9 4h.9m-0.9 0.5h.9m-0.9-1h.9m-0.9 0.5h.9m-0.4 1h.9m-0.9-2h.9m-0.4-2.5h.9m-0.9 4.5h.9m-0.9-1h.9m-0.4 0.5h.9m-0.9 0h.9m-0.9-1h.9m-0.9 0h.9m-0.4-3.5h.9m-0.4-0.5h.9m-0.9 2.5h.9m0.1 2.5h.9m-0.9-2h.9m-0.9 0.5h.9m-0.4-4h.9m-0.9 1.5h.9m-0.9-1.5h.9m-0.4 5.5h.9m-0.4-3h.9m-0.9 2h.9m-0.9 1.5h.9m-0.4-2h.9m-0.4-0.5h.9m-0.9 1h.9m-0.9 0h.9m-0.4-4h.9m-0.9 0.5h.9m-0.9 5h.9m-0.9-1.5h.9m-0.4 0h.9m-0.9 0h.9m-0.4-2h.9m-0.9 1.5h.9m-0.9 1.5h.9m-0.9 0.5h.9m-0.9 0h.9m-0.4-6h.9m-0.9 4.5h.9m-0.4 0.5h.9m-0.9-0.5h.9m-0.4-4h.9m-0.9 2.5h.9m-0.9 3h.9m-0.4-5h.9m-0.9 2h.9m-0.9 2h.9m-0.9 0.5h.9m-0.9-1h.9m-0.9 1.5h.9m-0.9-1.5h.9m-0.4 0h.9m-0.9-2.5h.9m-0.9 3h.9m-0.4-4h.9m-0.9 4h.9m-0.9 0.5h.9m-0.4-5h.9m-0.9 5.5h.9m-0.9-1h.9m-0.4-2.5h.9m-0.9 3h.9m-0.9 0.5h.9m-0.4 0h.9m0.1-5h.9m-0.9 0h.9m-0.9 4h.9m0.6-1.5h.9m-0.9-2.5h.9m-0.4-0.5h.9m-0.9 5h.9m-0.9-0.5h.9m-0.4-3h.9m-0.9 3h.9m-0.9 0.5h.9m-0.4-0.5h.9m-0.9 1h.9m1.6-1h.9m-0.9-3h.9m1.6 1h.9m-0.4-0.5h.9m0.6-0.5h.9m0.6-2h.9m-0.4 1.5h.9m4.1 1.5h.9m-0.9 0h.9m-0.9-0.5h.9m-0.4-1.5h.9m-0.4 3.5h.9m-0.4-1h.9m-0.4 0h.9m0.1 1.5h.9m-0.9-1.5h.9m-0.9 1h.9m-0.9-2.5h.9m-0.4-1h.9m-0.9 3h.9m-0.9 1h.9m-0.9-3h.9m-0.4 2h.9m-0.9-0.5h.9m-0.9-1.5h.9m-0.4 1.5h.9m-0.9-1h.9m-0.9 3h.9m-0.9-1.5h.9m-0.9-1.5h.9m-0.4 1h.9m-0.9 0.5h.9m-0.9-0.5h.9m-0.9 1.5h.9m-0.9-5h.9m-0.4 0.5h.9m-0.9 3.5h.9m-0.9 2h.9m-0.9-2.5h.9m-0.9 1h.9m-0.4 0h.9m-0.9-2h.9m-0.9-2.5h.9m-0.9 5.5h.9m-0.9-4.5h.9m-0.9 3h.9m-0.9 1.5h.9m-0.9 0h.9m-0.9 0h.9m-0.4-4h.9m-0.9 1.5h.9m-0.9 0.5h.9m-0.9-2.5h.9m-0.9 0.5h.9m-0.9 2.5h.9m-0.9 1h.9m-0.9 0.5h.9m-0.9 0h.9m-0.9 0.5h.9m-0.4-3h.9m-0.9 3h.9m-0.9-1h.9m-0.9 1h.9m-0.9-5h.9m-0.4-1h.9m-0.9 1h.9m-0.9-1h.9m-0.9 2.5h.9m0.1-2.5h.9m-0.9 0.5h.9m-0.9 0h.9m-0.4-0.5h.9m-0.4 0h.9m0.6 0.5h.9m0.6 1.5h.9m15.6-2h.9m-0.4 5.5h.9m-0.9-5.5h.9m-0.9 0h.9m-0.9 0h.9m-0.9 0h.9m-0.4 5h.9m-0.9-4.5h.9m-0.9 5.5h.9m-0.9 0h.9m-0.9-0.5h.9m-0.9-5h.9m-0.9 0.5h.9m-0.9 5h.9m-0.9-4.5h.9m-0.9 3.5h.9m-0.9 1h.9m-0.9-1h.9m-0.4-1.5h.9m-0.9-2.5h.9m-0.9 2.5h.9m-0.9-3h.9m-0.9 4h.9m-0.9-1h.9m-0.9 1.5h.9m-0.9 0h.9m-0.9-5h.9m-0.4 5.5h.9m-0.9-2h.9m-0.9-0.5h.9m-0.9 2h.9m-0.9-3h.9m-0.9 1h.9m-0.9 1.5h.9m-0.4-1h.9m-0.9-2.5h.9m-0.9 3h.9m-0.9-0.5h.9m-0.9 0.5h.9m-0.9-1h.9m-0.9-2h.9m-0.9-1h.9m-0.9 5.5h.9m-0.4-1h.9m-0.9-4h.9m-0.9 3h.9m-0.9-3h.9m-0.4 2h.9m-0.9-1.5h.9m-0.9 1h.9m-0.9 1.5h.9m-0.9 0h.9m0.6 0.5h.9m-0.9 2h.9m-0.4-6h.9m-0.4 0.5h.9m-0.9-0.5h.9m-0.4 1.5h.9m0.1-0.5h.9m0.1 5h.9m55.6-4.5h.9m-0.9 3.5h.9m0.6 0.5h.9m-0.4 0.5h.9m-0.4-2h.9m-0.9-0.5h.9m-0.9 2h.9m-0.9-0.5h.9m-0.4-1.5h.9m-0.9 0.5h.9m-0.9 2h.9m-0.4-1.5h.9m-0.4-2.5h.9m-0.9 1.5h.9m-0.9 2h.9m-0.9 0.5h.9m-0.4-2h.9m-0.4-3.5h.9m-0.9 3h.9m-0.4 2.5h.9m-0.4-1h.9m0.6-4h.9m-0.4 0h.9m-0.9 5h.9m-0.4-1.5h.9m-0.9-0.5h.9m-0.9 0h.9m-0.4-2.5h.9m-0.4-0.5h.9m-0.9 5h.9m-0.9 0h.9m-0.4-6h.9m-0.4 2h.9m-0.4 1.5h.9m-0.9 1.5h.9m-0.9 1h.9m-0.4-3h.9m-0.9-2.5h.9m-0.9 4.5h.9m-0.9-1h.9m-0.9 0.5h.9m-0.9 0h.9m-0.4-4h.9m-0.9 5.5h.9m-0.4 0h.9m-0.9-0.5h.9m-0.4-5h.9m-0.9 2.5h.9m-0.9 1h.9m-0.9-1h.9m-0.9 1h.9m-0.9 1.5h.9m-0.4-4.5h.9m-0.9 3h.9m-0.4 0h.9m-0.4-1h.9m-0.9 0.5h.9m-0.9 0.5h.9m-0.4-2.5h.9m-0.9 1h.9m-0.9 2h.9m-0.9 1h.9m-0.9 0h.9m-0.4-0.5h.9m-0.9-3.5h.9m-0.9 3h.9m-0.9-1.5h.9m-0.9-1h.9m-0.4 2.5h.9m-0.9 0.5h.9m-0.4-4.5h.9m-0.9 5h.9m-0.9-1.5h.9m0.1-0.5h.9m-0.9-0.5h.9m-0.9 1.5h.9m-0.9-0.5h.9m-0.4-3.5h.9m-0.9 3.5h.9m-0.9 1h.9m-0.4-3.5h.9m-0.9 2h.9m-0.4 2.5h.9m-0.9-0.5h.9m-0.4-5h.9m-0.9 4.5h.9m-0.9 1h.9m-0.9 0h.9m-0.9 0h.9m0.1-0.5h.9m-0.9-0.5h.9m-0.4-1h.9m0.1 2h.9m-0.9-1.5h.9m-0.9-1.5h.9m-0.9 2.5h.9m-0.9-1h.9m-0.4 0.5h.9m-0.4-1h.9m-0.4-3.5h.9m-0.9 1h.9m-0.9 2.5h.9m-0.9-0.5h.9m-0.9-0.5h.9m-0.9 1h.9m0.6 0.5h.9m0.6 1h.9m5.1-4h.9m-0.9 1h.9m-0.4 1h.9m2.6-3h.9m-0.9 4h.9m3.6-2h.9m-0.4 1h.9m-0.4 1h.9m-0.4-4.5h.9m0.1 0.5h.9m-0.9 2.5h.9m-0.4 0.5h.9m-0.9-1.5h.9m-0.4 1h.9m-0.4-0.5h.9m-0.4 3.5h.9m-0.4-3.5h.9m-0.9-1.5h.9m-0.9 4h.9m-0.9-2h.9m-0.9 2h.9m-0.4-5h.9m-0.9 5.5h.9m-0.9 0h.9m-0.9-1.5h.9m-0.4-0.5h.9m-0.9 2h.9m-0.9-2h.9m-0.9-2h.9m-0.9 4.5h.9m-0.9-2h.9m-0.9 2h.9m-0.4-3.5h.9m-0.9 0h.9m-0.9 2h.9m-0.9-1h.9m-0.4-1.5h.9m-0.4-0.5h.9m-0.9-1h.9m0.1-0.5h.9m-0.4 0h.9m-0.9 0h.9m1.1 6h.9m-0.4-6h.9m13.1 5.5h.9m-0.9-0.5h.9m-0.9 0.5h.9m-0.4-1h.9m-0.9-0.5h.9m-0.9 0.5h.9m-0.9 1h.9m-0.4-3.5h.9m-0.9 2h.9m-0.9-2h.9m-0.4-1h.9m-0.9 0.5h.9m-0.9 4.5h.9m-0.9-2h.9m-0.9-2h.9m-0.9 0.5h.9m-0.9 0h.9m-0.9-2h.9m-0.9 1.5h.9m-0.9-1.5h.9m-0.4 1h.9m-0.9 4.5h.9m-0.9-3h.9m-0.9 0.5h.9m-0.9-3h.9m-0.9 0.5h.9m-0.4 2h.9m-0.9 3h.9m-0.9-5.5h.9m-0.9 4.5h.9m-0.9 0h.9m-0.9-1h.9m-0.9-0.5h.9m-0.9-1.5h.9m-0.9-1.5h.9m0.1 0h.9m-0.9 1h.9m-0.9 3.5h.9m-0.9-2h.9m-0.9-1.5h.9m-0.9-1h.9m-0.9 3h.9m-0.9-1.5h.9m-0.9 0.5h.9m0.6 2h.9m-0.9-2h.9m0.1-1h.9m-282.4 9h.9m0.1-2.5h.9m4.1 0.5h.9m68.1-1.5h.9m2.1 0h.9m0.6 1h.9m-0.4-0.5h.9m0.6 0.5h.9m1.1 0h.9m-0.4-1.5h.9m-0.9 0.5h.9m0.1 0h.9m0.6-0.5h.9m-0.9 4.5h.9m-0.4-4.5h.9m2.6 0.5h.9m-0.4 0h.9m0.1 1h.9m-0.9-0.5h.9m0.1-0.5h.9m1.6 0h.9m-0.9 0h.9m-0.9 0.5h.9m1.6 0h.9m0.1 0h.9m0.1 0h.9m-0.9-1h.9m0.6 1.5h.9m2.1 2h.9m2.1-1h.9m4.1-2.5h.9m2.1 4h.9m1.1-4h.9m-0.9 4h.9m0.1-3.5h.9m-0.9 0h.9m-0.9 0.5h.9m0.1-1h.9m-0.9 1.5h.9m-0.9 3.5h.9m-0.9-5h.9m0.1 1.5h.9m-0.9 1h.9m-0.9 1h.9m-0.4-2.5h.9m-0.9 2h.9m-0.9-1.5h.9m-0.4 0h.9m-0.9-1h.9m-0.9 0h.9m-0.9 0.5h.9m-0.9-0.5h.9m-0.9 2.5h.9m-0.9-0.5h.9m-0.9 2.5h.9m-0.4 0h.9m-0.9-3h.9m-0.9-1h.9m-0.9 3h.9m-0.9-2h.9m-0.9-1.5h.9m-0.9 3h.9m-0.9 0.5h.9m-0.9-2.5h.9m-0.4 1h.9m-0.9-1.5h.9m-0.9 0.5h.9m-0.9 1.5h.9m-0.9-0.5h.9m-0.9-0.5h.9m-0.9-1.5h.9m-0.9 0.5h.9m-0.4 4h.9m-0.9-1.5h.9m-0.9 0h.9m-0.9 1h.9m-0.9-1.5h.9m-0.4 1h.9m-0.9 0h.9m-0.9-2h.9m-0.4 0.5h.9m-0.9 1.5h.9m-0.9-2h.9m-0.9 0.5h.9m-0.9 0.5h.9m-0.4 0h.9m-0.9 0h.9m-0.9 1.5h.9m-0.9 0h.9m-0.4 0h.9m-0.9 0.5h.9m-0.9 0h.9m-0.9-1.5h.9m-0.4 1.5h.9m-0.4-1h.9m-0.4 0h.9m-0.9 0h.9m-0.9 0h.9m-0.9 0h.9m-0.4 0h.9m-0.9 0h.9m-0.4 0h.9m-0.9 1h.9m-0.9 0h.9m-0.4 0h.9m-0.9 0h.9m-0.4-0.5h.9m-0.9 0h.9m-0.4 0.5h.9m-0.9-0.5h.9m-0.4 0.5h.9m-0.4 0h.9m-0.9-0.5h.9m0.1 0h.9m0.1 0h.9m-0.9 0.5h.9m-0.4 0h.9m-0.9 0h.9m0.6-0.5h.9m-0.9 0.5h.9m-0.9-0.5h.9m-0.4 0.5h.9m-0.9-0.5h.9m-0.9 0.5h.9m-0.4-0.5h.9m-0.9 0.5h.9m-0.9-0.5h.9m0.1 0h.9m-0.9-0.5h.9m-0.9 0.5h.9m-0.4-0.5h.9m-0.4 0.5h.9m-0.4-0.5h.9m-0.9 0h.9m-0.9 1h.9m-0.4-0.5h.9m-0.9-1h.9m-0.4 0h.9m-0.9 1.5h.9m0.1-0.5h.9m-0.9-1h.9m-0.9-0.5h.9m-0.4 1.5h.9m-0.9 0.5h.9m-0.9-2h.9m-0.9 0.5h.9m-0.9-0.5h.9m-0.9 0.5h.9m-0.4 0.5h.9m-0.9-0.5h.9m0.1-1h.9m-0.9 0h.9m-0.9-0.5h.9m-0.9 1h.9m0.1-1.5h.9m-0.9 1h.9m-0.9-0.5h.9m-0.9 0h.9m-0.4-1.5h.9m-0.9 2.5h.9m-0.9-0.5h.9m-0.4-2h.9m-0.9-0.5h.9m-0.9 0h.9m-0.9 0.5h.9m-0.9-0.5h.9m-0.9 1.5h.9m-0.4 0h.9m-0.9 1h.9m-0.9-1.5h.9m-0.9 3.5h.9m-0.4-3.5h.9m-0.9-0.5h.9m-0.9 0h.9m-0.4 2h.9m-0.9-2h.9m-0.9 1.5h.9m-0.9-0.5h.9m-0.4 0.5h.9m-0.9 0.5h.9m-0.9-2h.9m-0.9 3h.9m-0.4-2.5h.9m-0.9-0.5h.9m-0.9 2.5h.9m-0.4-2h.9m-0.9 2h.9m-0.9 1.5h.9m-0.4-3h.9m-0.9-1h.9m1.1 4h.9m-0.4-2.5h.9m-0.9-1h.9m0.6-0.5h.9m56.1-0.5h.9m1.6 0.5h.9m2.1 1.5h.9m0.6-0.5h.9m-0.4-1.5h.9m0.1 0.5h.9m0.6 0.5h.9m1.6 1h.9m-0.9-1.5h.9m0.6 2.5h.9m1.1-3h.9m-0.9 0h.9m0.6 0h.9m0.6 0h.9m1.6 0h.9m-0.4 0.5h.9m6.1 0h.9m9.1 2.5h.9m3.1 2h.9m-0.9-4.5h.9m0.6-0.5h.9m-0.9 1.5h.9m-0.4 1h.9m-0.4-1.5h.9m-0.4 2h.9m-0.4-1h.9m-0.9 2.5h.9m-0.4-1.5h.9m-0.4-0.5h.9m-0.9 2.5h.9m-0.4-3.5h.9m-0.4 2h.9m-0.9-3h.9m-0.9 4.5h.9m-0.9-4.5h.9m-0.9 0h.9m-0.9 4h.9m-0.9-3h.9m-0.9 0.5h.9m-0.9-1h.9m-0.4 2.5h.9m-0.9-1.5h.9m-0.4 2h.9m-0.9 1h.9m-0.9 0h.9m-0.9-1.5h.9m-0.4 0.5h.9m-0.9-0.5h.9m-0.9 0h.9m-0.4 0.5h.9m0.1 0h.9m0.1 1h.9m-0.4 0h.9m-0.4 0h.9m-0.9 0h.9m-0.9-0.5h.9m3.1 0.5h.9m-0.4 0h.9m0.1-0.5h.9m0.1 0h.9m-0.9 0h.9m-0.9 0.5h.9m-0.4-1h.9m-0.4 0h.9m-0.4 1h.9m-0.4-1h.9m-0.9 0h.9m-0.9-1h.9m-0.4 0h.9m-0.4 0h.9m-0.9 0.5h.9m-0.4-0.5h.9m-0.9 2h.9m-0.9-2.5h.9m-0.4-0.5h.9m-0.4 0.5h.9m-0.9 0h.9m-0.9-0.5h.9m-0.9 0.5h.9m-0.4-1h.9m-0.9 2h.9m-0.9-1h.9m-0.9 1.5h.9m-0.9-1h.9m-0.4-0.5h.9m-0.9-1h.9m-0.4 1.5h.9m-0.9-2.5h.9m-0.9 1.5h.9m-0.9-1h.9m-0.9 2h.9m-0.4 0.5h.9m-0.9-3h.9m-0.4 0h.9m-0.9 0.5h.9m-0.9-1h.9m-0.4 3h.9m-0.4-1.5h.9m-0.9 1.5h.9m-0.4-2h.9m-0.4-1h.9m-0.9 2.5h.9m0.6-2h.9m-186.9 5.5h.9m7.1-0.5h.9m16.6 0.5h.9m0.6-0.5h.9m-0.4 0.5h.9m-0.4 3h.9m-0.9-3h.9m1.1 1h.9m-0.9-1.5h.9m-0.4 3h.9m-0.4-2h.9m-0.9 1h.9m-0.4-2h.9m0.1 0h.9m-0.9 3.5h.9m-0.4-0.5h.9m-0.9-3h.9m0.6 0h.9m-0.9 1.5h.9m-0.4-1.5h.9m-0.9 2.5h.9m-0.4 0.5h.9m-0.9-2h.9m-0.9 0h.9m-0.9 0.5h.9m-0.4-1.5h.9m-0.4 2h.9m-0.9-0.5h.9m-0.9 1h.9m-0.4-2.5h.9m-0.9 0.5h.9m-0.9 3.5h.9m-0.9-3h.9m0.1 1h.9m-0.9-1h.9m-0.9 0h.9m-0.4 0h.9m-0.9 0.5h.9m-0.9-1h.9m-0.9 0.5h.9m-0.9 1.5h.9m-0.9-0.5h.9m-0.4 2h.9m-0.9-1h.9m-0.9 2.5h.9m-0.4-5h.9m-0.9-0.5h.9m-0.4 2h.9m-0.9-1.5h.9m-0.9 1.5h.9m-0.9-1.5h.9m-0.4 0.5h.9m-0.4 0.5h.9m-0.4-1h.9m-0.9 0.5h.9m-0.4-0.5h.9m-0.9 0h.9m-0.9 1h.9m-0.9 2h.9m-0.4 0h.9m-0.9-3h.9m-0.9 1h.9m-0.9 2h.9m-0.4-1.5h.9m-0.9-2h.9m-0.9 0.5h.9m-0.4 1h.9m-0.9 2h.9m-0.4-3.5h.9m-0.9 0.5h.9m-0.9 1h.9m0.6-1.5h.9m-0.9 0h.9m-0.4 1h.9m-0.9-1h.9m-0.9 0h.9m0.1 2h.9m-0.4-1.5h.9m-0.9 1.5h.9m-0.4-1h.9m-0.4 0h.9m-0.4-1h.9m0.1 0.5h.9m5.1-0.5h.9m64.6 0h.9m36.6 1.5h.9m4.6 0h.9m0.6-1.5h.9m-0.9 1.5h.9m-0.4 2h.9m-0.4-2.5h.9m-0.4 0.5h.9m-0.9 0h.9m-0.4-1h.9m-0.4 0.5h.9m-0.9-1h.9m-0.9 0.5h.9m-0.9 0h.9m-0.4-0.5h.9m0.1 0.5h.9m-0.4-0.5h.9m-0.9 1.5h.9m-0.9 3h.9m-0.4-4.5h.9m-0.9 0h.9m-0.9 5.5h.9m-0.9-5h.9m-0.9 1.5h.9m-0.4-0.5h.9m-0.9 1h.9m-0.9 1h.9m0.1-3.5h.9m-0.9 0.5h.9m-0.9 0h.9m0.1 0.5h.9m-0.9 2h.9m0.1 2h.9m0.1-5h.9m-0.4 2h.9m-0.4-0.5h.9m-0.9-1.5h.9m-0.4 2.5h.9m-0.4 0h.9m-0.4-1.5h.9m0.6-0.5h.9m-0.4 2h.9m-0.9 1h.9m-0.9 0.5h.9m-0.9-4h.9m2.1 1h.9m-134.4 7.5h.9m125.1-2h.9m6.6 2h.9" stroke="#111" stroke-width="0.9" fill="none"/>
<path d="M225.5 584h.9m-146.9 3h.9m1.1 3h.9m61.6 1.5h.9m64.1-1h.9m3.1 0h.9m4.1-1.5h.9m-0.4 2.5h.9m-0.4-0.5h.9m0.6-4h.9m12.6 4.5h.9m12.1-3.5h.9m2.6 2.5h.9m8.1 1h.9m-0.9-3.5h.9m0.1 0h.9m2.1 2.5h.9m2.6 1h.9m0.6-0.5h.9m5.1 0h.9m55.6-4.5h.9m10.6 5h.9m6.6-2.5h.9m5.6-0.5h.9m4.1 3h.9m23.1-2h.9m7.1 0h.9m8.6 1.5h.9m-0.9 0.5h.9m-333.9 2h.9m5.6 1.5h.9m8.6 1h.9m-0.4-1.5h.9m1.1-0.5h.9m-0.4 1.5h.9m2.1 1.5h.9m0.6-2.5h.9m2.1 2.5h.9m11.6-4.5h.9m16.1 2h.9m4.6 0.5h.9m0.6 0.5h.9m-0.4-0.5h.9m-0.9-2h.9m4.1 4h.9m-0.4 0h.9m3.6-1.5h.9m2.6-1.5h.9m58.1 1h.9m-0.4 0h.9m0.1 1h.9m0.1-0.5h.9m-0.4 0.5h.9m-0.4 0h.9m-0.4-4h.9m-0.9 0.5h.9m-0.4 4.5h.9m0.1 0h.9m1.6 0h.9m0.6-3h.9m-0.9 0h.9m0.1 3h.9m-0.4-0.5h.9m-0.4-4.5h.9m-0.4 4h.9m0.6 1h.9m-0.4-1h.9m-0.4-1h.9m-0.4-0.5h.9m-0.4 2.5h.9m-0.9-3.5h.9m-0.4 2.5h.9m-0.4-1h.9m-0.9 2h.9m-0.4-2h.9m1.6-2.5h.9m0.1 3.5h.9m-0.4-0.5h.9m0.1 1h.9m0.1-0.5h.9m-0.4 0.5h.9m14.1 0h.9m5.6-2.5h.9m0.6 3h.9m-0.4-1h.9m-0.9 0h.9m-0.9-0.5h.9m-0.4-0.5h.9m-0.9-1h.9m0.6 3h.9m0.1-3h.9m0.1-1h.9m-0.4-1h.9m0.6 2.5h.9m0.6 0h.9m-0.4 1h.9m-0.4-3.5h.9m-0.9 2.5h.9m0.1-0.5h.9m2.1 1h.9m-0.9 0h.9m1.1-1h.9m0.1 2.5h.9m0.6-4.5h.9m-0.9 3h.9m-0.4-2.5h.9m0.6 4h.9m-0.4-2.5h.9m-0.9 1h.9m-0.4 1.5h.9m-0.4-2h.9m0.1 0.5h.9m0.6 1.5h.9m0.1-1.5h.9m56.6 2h.9m4.1-0.5h.9m2.6-2h.9m-0.9 1.5h.9m0.6 0.5h.9m0.1-3.5h.9m-0.9-1h.9m-0.4 4h.9m-0.9 1h.9m-0.4-2h.9m0.1 0.5h.9m-0.4 0h.9m0.6 1h.9m-0.9 0h.9m1.6 0h.9m0.1 0h.9m-0.9 0h.9m-0.9-4h.9m1.1 0h.9m3.6 4.5h.9m-0.4-0.5h.9m-0.9-1h.9m1.1-0.5h.9m10.6 2h.9m6.6-1h.9m-0.9 0.5h.9m0.1-3h.9m2.6 3.5h.9m2.1-3h.9m0.6 1h.9m-0.9 0h.9m-0.4 2h.9m0.1-2h.9m0.1 1h.9m1.1-1h.9m0.1 1h.9m-0.4-0.5h.9m-0.9-2.5h.9m-0.9 2h.9m-0.4-2.5h.9m-0.9 2h.9m-0.9-0.5h.9m-0.9 1h.9m-0.4 0h.9m0.1-0.5h.9m-0.4-0.5h.9m3.1 2.5h.9m0.6 0.5h.9m1.6-0.5h.9m3.6-1.5h.9m-0.9 0.5h.9m-341.4 7h.9m1.6-2.5h.9m0.1 2h.9m-0.9-2h.9m0.1 3.5h.9m-0.4-1.5h.9m-0.4 0.5h.9m-0.4-1.5h.9m0.1-1h.9m-0.9 2h.9m0.1-1h.9m0.1-2.5h.9m0.1-0.5h.9m1.6 1.5h.9m-0.9 0.5h.9m-0.4-2h.9m1.1 0.5h.9m-0.4 0.5h.9m-0.4 0h.9m-0.9-1h.9m1.1-0.5h.9m-0.4 1h.9m0.6 0.5h.9m0.1 0h.9m-0.9 1.5h.9m1.1 0.5h.9m0.6 1.5h.9m-0.4-1.5h.9m-0.4 1.5h.9m-0.9 0h.9m-0.4 0.5h.9m-0.9-4.5h.9m1.1 5h.9m-0.4-2h.9m-0.4-1h.9m-0.4 1h.9m-0.9-2.5h.9m1.6 3h.9m-0.9 0.5h.9m0.1 1h.9m-0.4-0.5h.9m10.1-2.5h.9m0.1 1h.9m4.1-1h.9m-0.4 2.5h.9m0.6 0h.9m0.1 0h.9m4.1-3.5h.9m-0.4-2h.9m0.6 2.5h.9m0.1 0h.9m-0.4-0.5h.9m0.1 0h.9m-0.4-1h.9m0.6-0.5h.9m1.1 0.5h.9m0.1 1h.9m-0.4-1h.9m-0.4-0.5h.9m-0.4 2h.9m0.1-1.5h.9m-0.4-0.5h.9m-0.9 3h.9m0.1 0.5h.9m0.1 0.5h.9m-0.4-1h.9m-0.4-1.5h.9m-0.9-1h.9m1.1 3h.9m-0.9 2h.9m-0.9 0h.9m-0.4-1.5h.9m2.6 1.5h.9m0.6-1.5h.9m45.1 0.5h.9m-0.4-3.5h.9m3.1 4.5h.9m-0.4-2h.9m-0.4 1.5h.9m-0.9-2h.9m-0.9 1.5h.9m-0.4 0h.9m-0.4 0.5h.9m-0.9-2h.9m-0.4 0.5h.9m-0.4-0.5h.9m0.1-1h.9m-0.9 1h.9m3.6-2.5h.9m-0.4-0.5h.9m15.6 1h.9m0.6-0.5h.9m0.6 1.5h.9m-0.9-1h.9m0.6 3h.9m-0.9-2h.9m1.1 0.5h.9m0.6 1.5h.9m-0.4-2.5h.9m0.6 4h.9m6.6-6h.9m-0.9 2h.9m0.6 1h.9m0.1-3h.9m0.6 1h.9m-0.4 3h.9m0.1-1.5h.9m-0.9-1h.9m21.1 0.5h.9m-0.4 2h.9m-0.4-1h.9m-0.9 1h.9m-0.9-1h.9m0.1 2.5h.9m-0.4-1.5h.9m-0.9-1.5h.9m-0.4 1h.9m-0.9-2.5h.9m-0.9 3h.9m-0.4-1h.9m-0.4 0.5h.9m-0.9 2h.9m0.1-5h.9m0.1 3.5h.9m-0.4-2h.9m-0.4 2.5h.9m50.1 0.5h.9m0.6 0.5h.9m0.1-5.5h.9m0.6 0.5h.9m-0.4 3.5h.9m2.1-0.5h.9m-0.4-1h.9m-0.4-0.5h.9m-0.9 1h.9m-0.9-1.5h.9m-0.4 0h.9m-0.4 0.5h.9m0.1 0h.9m-0.9-0.5h.9m-0.4-1h.9m0.1 0.5h.9m-0.4 0h.9m0.6 0h.9m1.6-1h.9m7.1 0h.9m-0.9 0.5h.9m0.1-0.5h.9m0.1 0.5h.9m0.1 0.5h.9m0.6 0h.9m-0.4 0h.9m-0.4 0.5h.9m0.6 0.5h.9m-0.4 1h.9m-0.9-1.5h.9m0.1 1h.9m-0.9-1.5h.9m-0.4 3.5h.9m0.1-1.5h.9m0.1 2.5h.9m-0.9-2h.9m0.1 2h.9m-0.9-0.5h.9m-0.4-1.5h.9m5.1-1.5h.9m1.1 3h.9m-0.9-2h.9m-0.9 2h.9m3.1-1h.9m0.6 1h.9m0.6-1.5h.9m-0.9-1h.9m-0.9 2.5h.9m0.1 0h.9m-0.4 0h.9m-0.9-2h.9m0.6-0.5h.9m-0.4 0.5h.9m-0.9-3h.9m-0.4 3h.9m-0.9-1.5h.9m-0.9 1h.9m-0.4-1.5h.9m-0.9 1.5h.9m-0.4-0.5h.9m-0.4-0.5h.9m15.6-1.5h.9m1.1 2h.9m-0.4 0.5h.9m0.1 0.5h.9m-0.9 1h.9m0.1-3.5h.9m-0.4 1.5h.9m-0.4 3h.9m-0.4-2h.9m0.1 2.5h.9m0.1-1h.9m3.6-4.5h.9m-351.9 9h.9m-0.9-1.5h.9m1.6 3h.9m1.6 0.5h.9m-0.4-2h.9m-0.9 0h.9m0.6-1.5h.9m0.1-1h.9m23.6 1.5h.9m-0.9 0h.9m0.1-1.5h.9m-0.4 4.5h.9m-0.4-2h.9m-0.4 2h.9m0.1-0.5h.9m-0.4 0.5h.9m0.1-4.5h.9m9.1 5h.9m1.6-3.5h.9m-0.4 3.5h.9m0.6-1h.9m0.6-2h.9m-0.4 1h.9m-0.4-1.5h.9m-0.9 0.5h.9m-0.4-1h.9m0.1 0h.9m-0.9-0.5h.9m22.6 2.5h.9m-0.4 1h.9m0.1 1h.9m1.1-4h.9m-0.9 3h.9m48.1 1h.9m0.6-4.5h.9m-0.9-0.5h.9m-0.4 2h.9m0.6 1h.9m-0.4-1h.9m-0.9-1.5h.9m-0.9 2h.9m-0.9-2.5h.9m31.1 1.5h.9m-0.4-0.5h.9m-0.4 0h.9m-0.4 4h.9m-0.9-1.5h.9m-0.4-2.5h.9m1.6 2.5h.9m0.6 0h.9m-0.9-2.5h.9m-0.4 2.5h.9m0.1-0.5h.9m-0.4 1.5h.9m-0.4-1.5h.9m1.6 0h.9m-0.9-1h.9m3.1-0.5h.9m25.1 3h.9m0.1-3h.9m-0.9 0h.9m-0.9-0.5h.9m0.1 0h.9m-0.4 1.5h.9m-0.4-0.5h.9m-0.4 0.5h.9m0.6 2.5h.9m50.6-2h.9m-0.4-3h.9m-0.9 2.5h.9m0.1 1h.9m-0.4 1.5h.9m0.1-2.5h.9m30.6-1h.9m-0.4 1.5h.9m-0.4 0.5h.9m-0.4 0h.9m-0.4-2.5h.9m0.1 2.5h.9m0.6-3h.9m3.1 4h.9m-0.4-3h.9m-0.9 0h.9m1.6 0.5h.9m-0.4 2h.9m-0.4-2.5h.9m-0.9 2h.9m0.6-1h.9m-0.4 2.5h.9m-0.9-1h.9m-0.4-4h.9m0.1 2h.9m-0.9 2.5h.9m-0.4-1.5h.9m-0.9-2.5h.9m-0.4-0.5h.9m-0.9 0.5h.9m-0.9 1h.9m27.1 0h.9m-0.9 2.5h.9m-0.4-2h.9m0.6 1.5h.9m-0.4-0.5h.9m0.1 1.5h.9m-348.9 5.5h.9m1.1 1.5h.9m0.1-4h.9m-0.9 0.5h.9m-0.9 0h.9m-0.4 1h.9m-0.9-0.5h.9m-0.4-0.5h.9m-0.4 1h.9m-0.9 0h.9m-0.9-3.5h.9m-0.4 6h.9m27.6-2h.9m-0.9 1.5h.9m-0.4-2.5h.9m-0.9-2h.9m0.1-0.5h.9m-0.9 0h.9m-0.9 2h.9m-0.9-1.5h.9m0.1 3.5h.9m-0.4-4.5h.9m-0.9 0h.9m-0.9 4h.9m-0.4 0.5h.9m-0.4 0.5h.9m-0.9-4.5h.9m1.6 5h.9m5.6 0h.9m-0.4-2h.9m-0.4-3h.9m-0.9 2h.9m-0.9 2.5h.9m-0.9-2.5h.9m0.1 1h.9m-0.9-1.5h.9m-0.4 3h.9m-0.9-1h.9m-0.9-2.5h.9m-0.9 2.5h.9m-0.4 0.5h.9m0.1-4.5h.9m-0.9 1.5h.9m26.6 4.5h.9m2.6-1.5h.9m-0.9-1.5h.9m-0.9-1.5h.9m0.1 0.5h.9m1.1-1h.9m1.1 2h.9m2.6-3h.9m40.6 2.5h.9m1.1-1.5h.9m-0.9 1.5h.9m-0.9 0h.9m-0.4-1.5h.9m-0.4 0.5h.9m-0.9 0.5h.9m-0.9 3.5h.9m0.1-2.5h.9m-0.4 2h.9m25.1 0h.9m5.1-1.5h.9m-0.9-1h.9m-0.4-2.5h.9m-0.4 2h.9m-0.4-2h.9m-0.9 3h.9m-0.4 1.5h.9m0.1-3.5h.9m0.6 3h.9m0.1-0.5h.9m0.1 1.5h.9m-0.4 0h.9m-0.4-2h.9m1.1-0.5h.9m-0.4 1h.9m-0.4 0.5h.9m-0.9 1.5h.9m-0.9-2h.9m-0.9-1h.9m27.6 3.5h.9m0.6-2h.9m2.1-4h.9m-0.9 0.5h.9m2.6 3.5h.9m49.6-0.5h.9m-0.4 1h.9m-0.9-2.5h.9m-0.4-1.5h.9m-0.4-0.5h.9m-0.4 2.5h.9m-0.9 2h.9m-0.9-2.5h.9m32.1 1.5h.9m-0.4-2h.9m0.1 1h.9m-0.4-0.5h.9m-0.4 0h.9m-0.9 0.5h.9m-0.9-1.5h.9m-0.4 3.5h.9m-0.9-4h.9m0.1 5.5h.9m-0.9-3h.9m0.1 3h.9m1.6-4.5h.9m-0.4 0h.9m0.1 2h.9m0.1-3.5h.9m-0.9 0.5h.9m0.1 5.5h.9m1.1-4.5h.9m0.6 0h.9m-0.9-0.5h.9m-0.9 1h.9m-0.4-1h.9m-0.9-1h.9m-0.4 6h.9m26.1-1.5h.9m0.1-2h.9m-0.9-2h.9m-0.4 3h.9m-0.4 0h.9m0.1-3h.9m1.6-0.5h.9m1.1 1.5h.9m-350.9 10h.9m-0.9 0h.9m-0.4 0h.9m-0.4-3.5h.9m-0.9 0.5h.9m-0.4 0.5h.9m-0.4 0h.9m0.1-0.5h.9m-0.9 0.5h.9m-0.4 0h.9m-0.4 1h.9m-0.4-1h.9m-0.9 1h.9m-0.9-3h.9m0.6 2h.9m22.1 2h.9m1.1-1.5h.9m-0.4-1h.9m-0.4 1h.9m-0.9-1.5h.9m-0.4 1h.9m-0.9-0.5h.9m0.6-1.5h.9m-0.4 1h.9m1.6 2.5h.9m-0.9-2h.9m-0.4 0h.9m0.1 0.5h.9m2.1 2h.9m0.1-2h.9m2.1 0h.9m1.1 0.5h.9m-0.4 0h.9m-0.9-0.5h.9m0.6-0.5h.9m-0.9 0.5h.9m23.6 1.5h.9m-0.9 1h.9m-0.9-0.5h.9m0.1 0.5h.9m0.1-4h.9m-0.4 3.5h.9m0.1-3h.9m-0.4 1.5h.9m1.6-1h.9m0.1 2.5h.9m48.6-4h.9m1.6 1.5h.9m0.1-1.5h.9m-0.4 1.5h.9m-0.9-1.5h.9m0.1 0h.9m-0.9 0h.9m0.6 3h.9m-0.9-0.5h.9m-0.9-1h.9m0.1 2.5h.9m0.6-1h.9m-0.9 0.5h.9m22.6-0.5h.9m0.1-1h.9m0.1 0h.9m0.1-1h.9m0.6-0.5h.9m0.1 3h.9m-0.9-2.5h.9m1.1 3h.9m-0.4-3h.9m-0.4 0h.9m-0.4 0h.9m0.1 3.5h.9m-0.4-3.5h.9m2.1-0.5h.9m-0.4 2h.9m-0.4 0.5h.9m-0.4 0.5h.9m-0.9-3h.9m-0.4 0.5h.9m-0.4 1h.9m-0.9 0.5h.9m-0.4 0h.9m0.6 2h.9m19.6 0h.9m0.6 0h.9m2.6-3h.9m-0.9-0.5h.9m-0.4 3h.9m-0.4-3.5h.9m0.1 0.5h.9m0.1-1h.9m6.1-0.5h.9m47.1 1.5h.9m-0.4 2h.9m-0.9-1.5h.9m0.1 1.5h.9m-0.4-3h.9m-0.9 1.5h.9m-0.4-0.5h.9m0.6 0h.9m-0.4 0.5h.9m-0.4 2h.9m0.6 0.5h.9m24.1-1.5h.9m0.6-1h.9m-0.4-2h.9m-0.4 2.5h.9m-0.9-2h.9m-0.9 0h.9m-0.9 4h.9m0.1-3h.9m0.1 0h.9m-0.4 2.5h.9m-0.4-4h.9m-0.9 4.5h.9m-0.4-3h.9m0.6 2h.9m1.1-3h.9m1.1 2h.9m-0.9-2.5h.9m1.6 2.5h.9m0.6 0.5h.9m0.1-2h.9m0.6 0h.9m-0.9 1.5h.9m-0.9 0h.9m0.1-0.5h.9m-0.4 0h.9m0.1 0.5h.9m23.6 0.5h.9m-0.4-2.5h.9m0.1 2h.9m-0.9 0h.9m0.1-2h.9m-342.9 6.5h.9m1.1-0.5h.9m3.6 3h.9m-0.4-3.5h.9m-0.4 5h.9m0.6-4.5h.9m1.6 1.5h.9m-0.4-1h.9m-0.9 3h.9m-0.4-0.5h.9m-0.9-2h.9m-0.4-0.5h.9m0.6 1.5h.9m-0.4 0h.9m-0.4 0h.9m0.1 0h.9m-0.4-0.5h.9m-0.9 0h.9m-0.4 0h.9m0.1 0.5h.9m-0.4-0.5h.9m-0.9 0.5h.9m0.1-0.5h.9m-0.9-0.5h.9m0.1 0.5h.9m0.1-1h.9m-0.4 0h.9m0.6 3.5h.9m0.1-4h.9m3.6 4h.9m-0.4-4h.9m2.6 1h.9m-0.9 2.5h.9m0.6-0.5h.9m0.6-1h.9m6.6-2.5h.9m1.6 0h.9m-0.4 2.5h.9m-0.9 2h.9m-0.9 0.5h.9m0.6-4.5h.9m0.1 3h.9m-0.9-3h.9m-0.9 0.5h.9m0.6 3.5h.9m0.1-0.5h.9m1.6 1h.9m0.1-1h.9m-0.9 0.5h.9m3.1 1h.9m-0.9-1.5h.9m0.6 1.5h.9m-0.9-1h.9m0.6 0h.9m0.1 0h.9m0.1 1h.9m-0.4-1.5h.9m1.6-0.5h.9m0.6-0.5h.9m-0.4 2.5h.9m-0.9-3h.9m-0.4-0.5h.9m-0.4-2.5h.9m-0.9 5h.9m-0.4-2.5h.9m-0.4-2.5h.9m1.1 4h.9m-0.4 0h.9m2.6-4h.9m2.1 0h.9m3.1 6h.9m47.1-4.5h.9m2.1 4.5h.9m-0.9-6h.9m-0.9 1.5h.9m-0.4-1.5h.9m0.6 1.5h.9m-0.9-1.5h.9m0.6 1h.9m-0.9 0.5h.9m-0.9 2h.9m0.6 2.5h.9m0.1-5.5h.9m-0.4 1h.9m0.1-0.5h.9m2.1 2h.9m0.6-1h.9m0.6 3.5h.9m-0.9-2h.9m-0.4-1h.9m1.1 0h.9m3.1-1h.9m0.1 0.5h.9m-0.4-0.5h.9m0.1 1.5h.9m-0.9 1h.9m0.1-4h.9m-0.4 5.5h.9m-0.4-1h.9m0.1 0.5h.9m0.6-5h.9m-0.4 6h.9m0.1-5.5h.9m-0.4 2h.9m-0.4 2h.9m7.1-3.5h.9m-0.4 2h.9m1.1-3h.9m0.1 0.5h.9m1.6 1.5h.9m-0.4 0.5h.9m-0.4 0h.9m2.1 0h.9m-0.4 2h.9m-0.9 0h.9m0.6-1.5h.9m-0.9 0h.9m0.6 2h.9m-0.4-1h.9m-0.4 0.5h.9m-0.9 1h.9m-0.9-1.5h.9m-0.4 0h.9m0.1 0.5h.9m0.6 1h.9m0.1-1.5h.9m-0.9-0.5h.9m0.1 1h.9m0.1-1.5h.9m1.1-1h.9m1.1 0.5h.9m-0.4-1.5h.9m2.1 1h.9m-0.4 1.5h.9m-0.4-3h.9m-0.4 0.5h.9m0.1 2h.9m59.1-1.5h.9m4.6-1.5h.9m-0.4 0h.9m-0.4 2.5h.9m0.1-1.5h.9m1.1 4h.9m-0.9-3.5h.9m-0.4-1h.9m2.1 2h.9m-0.4-0.5h.9m1.1 1h.9m-0.4-0.5h.9m0.1 3h.9m1.6-3.5h.9m-0.4 1h.9m2.1 0.5h.9m-0.4-1.5h.9m-0.4 0h.9m0.1 4h.9m0.6-4h.9m-0.4 0.5h.9m-0.4-1h.9m0.6 0h.9m0.6-1.5h.9m1.1 2h.9m-0.4-2h.9m0.1 0h.9m15.6 3.5h.9m-0.4-3h.9m-0.4 5h.9m-0.4-4.5h.9m1.6 1h.9m1.6 1h.9m0.1 2.5h.9m-0.9-2h.9m-0.4-0.5h.9m-0.4 0h.9m-0.4 2h.9m0.1-2h.9m-0.4 2h.9m-0.9-1.5h.9m0.6 0.5h.9m1.1 0.5h.9m-0.4-0.5h.9m2.1-1h.9m-0.9-1h.9m0.1 3h.9m0.1-3h.9m0.6-0.5h.9m-0.4 2h.9m-0.4-3.5h.9m2.1 1h.9m-0.9 5h.9m1.1-6h.9m-0.9 1.5h.9m-0.9-1.5h.9m0.1 1.5h.9m0.6-1.5h.9m1.1 0.5h.9m-330.4 7.5h.9m-0.4 3h.9m0.1-4.5h.9m-0.4 1h.9m0.1-0.5h.9m3.6 4.5h.9m18.1-5h.9m3.6 0.5h.9m5.6 1h.9m-0.4-1h.9m-0.4 3h.9m-0.9-0.5h.9m-0.9-3h.9m1.1 5h.9m0.1-5h.9m0.1 5h.9m0.6-3.5h.9m2.1-1.5h.9m8.6 0h.9m72.6 1h.9m2.1-0.5h.9m0.6 0.5h.9m0.6-1h.9m9.1 0.5h.9m5.6 4h.9m8.1-3.5h.9m6.1-0.5h.9m0.1 0.5h.9m-0.4 0.5h.9m1.1 0h.9m1.1-1.5h.9m4.1 1h.9m6.6-0.5h.9m77.1 3h.9m-0.4-2.5h.9m8.6 2.5h.9m1.1-0.5h.9m9.6-1.5h.9m16.6 3h.9m-0.9-2h.9m7.6-2.5h.9m1.6 2h.9m0.6 1h.9m-332.9 5h.9m12.1-1h.9m0.6-0.5h.9m1.1 5h.9m2.1-1.5h.9m10.6-2h.9m46.1-1.5h.9m49.6 3.5h.9m6.1 0.5h.9m0.1-1.5h.9m-0.4 0h.9m6.1 2.5h.9m2.6-5.5h.9m1.1 3h.9m2.1 1h.9m4.1 1h.9m0.6 0.5h.9m-0.4-1.5h.9m-0.4 0.5h.9m1.1 0.5h.9m2.1 0h.9m-0.4-3h.9m15.6 1.5h.9m-0.9-2h.9m3.6-1.5h.9m0.1 5.5h.9m4.6-1h.9m0.1-5h.9m2.6 4h.9m0.1 0h.9m3.6 1.5h.9m63.6-2.5h.9m7.6 1h.9m2.6 0.5h.9m3.1 0h.9m0.1-4h.9m-0.4 2.5h.9m0.1-2.5h.9m0.6 5h.9m8.6-2.5h.9m2.1 3h.9m3.1-4.5h.9m19.6 1.5h.9m6.1 2h.9m5.1-0.5h.9m3.1-4h.9m-345.9 7.5h.9m0.6 2.5h.9m2.6 0h.9m-0.4 0.5h.9m9.1-0.5h.9m-0.4 1h.9m-0.9-1.5h.9m-0.9-2.5h.9m3.1 4h.9m-0.9-1h.9m-0.4 0.5h.9m0.1-4.5h.9m0.6 3.5h.9m1.1 1h.9m0.6-1.5h.9m-0.4 1.5h.9m1.6-1h.9m0.1 1.5h.9m-0.4-1h.9m-0.9-1.5h.9m-0.9-1h.9m-0.4 2h.9m1.1-3.5h.9m-0.4 2h.9m-0.4 2h.9m-0.9 0h.9m-0.4 1h.9m-0.4-3h.9m4.6 3h.9m2.1-2h.9m98.1-2h.9m4.1 1.5h.9m-0.4 2.5h.9m1.6-3h.9m0.6 2.5h.9m0.6 0.5h.9m-0.9 0h.9m0.1-1.5h.9m0.1-1h.9m-0.4 2.5h.9m-0.4-2.5h.9m0.1 1.5h.9m-0.4-2.5h.9m0.1 1.5h.9m-0.9-1.5h.9m-0.4 2h.9m4.1-1.5h.9m1.1-2h.9m2.1 2h.9m-0.9 2h.9m-0.9-1h.9m0.6-0.5h.9m2.1 1.5h.9m8.1 1h.9m2.1-2.5h.9m0.1 1.5h.9m3.6-0.5h.9m0.1-1.5h.9m4.6 0h.9m0.1 1h.9m1.1 2h.9m6.6-0.5h.9m56.1 0.5h.9m2.6 0h.9m1.6-3.5h.9m3.1 0h.9m1.6 0.5h.9m0.6 2h.9m1.6-3.5h.9m-0.4 0h.9m-0.9 4.5h.9m1.1-2.5h.9m-0.9 1.5h.9m-0.4-3h.9m-0.4-1h.9m-0.4 0h.9m1.1 3h.9m1.6 0.5h.9m0.1 1.5h.9m0.1-1.5h.9m-0.4-2h.9m0.6 2.5h.9m1.6-2.5h.9m-0.4 2.5h.9m-0.4 0h.9m0.6-0.5h.9m-0.4 0.5h.9m1.6-0.5h.9m1.6 1.5h.9m-0.9-0.5h.9m1.1 0h.9m2.6-3h.9m0.1 0.5h.9m2.6 2.5h.9m-0.9-3.5h.9m0.1-1h.9m2.6 3.5h.9m1.1 0h.9m6.1 0h.9m0.1 1h.9m11.6-1h.9m-342.4 7.5h.9m0.6-1.5h.9m4.6-1.5h.9m-0.9-1.5h.9m-0.4 2h.9m-0.4 0h.9m0.1 0.5h.9m0.1-2.5h.9m1.1-1h.9m0.1 5.5h.9m0.1-3h.9m-0.4 3.5h.9m-0.4-1.5h.9m0.6 0.5h.9m1.1-4h.9m-0.9 4h.9m0.6 0.5h.9m0.1-3.5h.9m-0.9-2h.9m1.1 3.5h.9m0.1-3.5h.9m1.1 2.5h.9m-0.4-1h.9m-0.4 2h.9m-0.9-3.5h.9m1.6 2h.9m-0.4 1h.9m1.1 2h.9m-0.9-2.5h.9m-0.4 1.5h.9m-0.4 0.5h.9m1.6-3h.9m-0.9 1h.9m4.1 2.5h.9m2.6-0.5h.9m13.6 0h.9m71.6-3.5h.9m0.6 4h.9m0.6-3h.9m1.1-1.5h.9m1.6 2h.9m0.6-2h.9m-0.4 2h.9m0.6 2h.9m-0.9 1h.9m-0.4-1h.9m-0.9 1h.9m-0.4 0h.9m0.1-5.5h.9m-0.9 2h.9m0.6 4h.9m1.1-5.5h.9m-0.9-0.5h.9m-0.4 4h.9m0.6-2h.9m-0.4 1.5h.9m-0.4-3h.9m-0.4 1h.9m-0.4 2h.9m-0.9-2.5h.9m0.1 4h.9m-0.4 0.5h.9m-0.9-1.5h.9m-0.4 0.5h.9m-0.9 1h.9m0.1-3.5h.9m-0.4-1.5h.9m0.1 2h.9m-0.4 2.5h.9m0.1-2h.9m-0.9 1h.9m-0.4-1.5h.9m-0.9 1h.9m-0.4 2h.9m-0.9-5h.9m0.6 4h.9m-0.9-0.5h.9m-0.9 1h.9m-0.4 0.5h.9m-0.9-5h.9m-0.4 4h.9m0.1 0.5h.9m0.6-0.5h.9m-0.4-2h.9m-0.4 0h.9m0.1 0.5h.9m-0.9 2.5h.9m-0.4-3h.9m-0.4 0.5h.9m-0.9-2.5h.9m0.6 0h.9m-0.9 5.5h.9m-0.9-2.5h.9m0.1 2h.9m-0.9 0.5h.9m-0.4-0.5h.9m-0.9-4h.9m0.1 2h.9m-0.9-3.5h.9m0.6 4h.9m-0.4-0.5h.9m0.6 2.5h.9m0.1-6h.9m0.6 3.5h.9m0.6-1.5h.9m-0.9 2.5h.9m-0.4-3.5h.9m0.1 2h.9m0.6-2h.9m-0.4 0.5h.9m-0.4 0h.9m0.6-0.5h.9m-0.4-0.5h.9m-0.4 0h.9m2.1-0.5h.9m6.6 3h.9m0.6-2.5h.9m3.6 1h.9m-0.4 0.5h.9m-0.9-1h.9m2.1 0.5h.9m-0.4-0.5h.9m-0.4 1h.9m-0.9 4h.9m0.1-4h.9m-0.4 2h.9m-0.4-1h.9m-0.4 3h.9m-0.4-4h.9m9.1 2.5h.9m46.6-2.5h.9m-0.9 2.5h.9m-0.4-2.5h.9m3.6 1h.9m2.1-2.5h.9m-0.9 5.5h.9m-0.9-2h.9m-0.4-2.5h.9m0.1 0h.9m-0.4 3.5h.9m-0.9-0.5h.9m0.1-1.5h.9m1.1-0.5h.9m-0.4 3.5h.9m-0.9 0h.9m1.1-1h.9m-0.4 1h.9m-0.9-2h.9m-0.9-2h.9m-0.4-0.5h.9m-0.4 0.5h.9m-0.9-0.5h.9m4.1 3.5h.9m-0.4 0h.9m0.1-2.5h.9m-0.9 3h.9m-0.4-4h.9m-0.9 1.5h.9m-0.4 1h.9m1.1-2.5h.9m-0.9-0.5h.9m-0.4 3.5h.9m-0.4-1.5h.9m-0.4 1h.9m-0.9-0.5h.9m0.1-3.5h.9m-0.9 1h.9m-0.4 2.5h.9m1.1-1h.9m-0.4-0.5h.9m-0.4-1.5h.9m-0.9 4h.9m0.1 1h.9m-0.9-0.5h.9m0.6-1.5h.9m-0.9-2.5h.9m-0.4 3h.9m2.6-2.5h.9m-0.9-1h.9m-0.4 4.5h.9m0.1-5h.9m2.6 2h.9m0.1 2h.9m0.1 0.5h.9m0.1-4.5h.9m0.1 4h.9m0.1-3.5h.9m-0.4 2h.9m-0.9-1.5h.9m-0.4 1h.9m-0.9-0.5h.9m1.1-1h.9m2.6-0.5h.9m-0.9 0h.9m-0.4 5.5h.9m5.6-3.5h.9m-0.4-0.5h.9m-0.4-0.5h.9m1.1 5h.9m0.1-0.5h.9m-0.4-4.5h.9m0.1 0h.9m0.1 4h.9m-0.4-0.5h.9m0.1 0h.9m-0.9-1h.9m0.6 2h.9m2.1-3h.9m-338.9 5h.9m0.1 3.5h.9m2.1-3.5h.9m5.6 3h.9m-0.9 1h.9m0.6-0.5h.9m1.6-1.5h.9m-0.9-1.5h.9m0.1 0h.9m0.6 3h.9m0.1-2.5h.9m-0.9-1h.9m-0.4 1.5h.9m0.1-1.5h.9m1.6 1.5h.9m0.6-0.5h.9m-0.4-1.5h.9m3.1 1.5h.9m-0.4 1.5h.9m-0.4-2.5h.9m0.6 1h.9m0.6-1h.9m8.6 0h.9m7.1 1h.9m85.6-0.5h.9m1.6-1h.9m-0.9 1.5h.9m0.1-2h.9m0.1 1.5h.9m1.1-1h.9m1.1-0.5h.9m-0.4 1.5h.9m-0.4 0.5h.9m-0.4 0.5h.9m0.1 1.5h.9m-0.4-0.5h.9m-0.4-0.5h.9m-0.9-2.5h.9m-0.4-0.5h.9m-0.4 0.5h.9m-0.4-0.5h.9m-0.9 0h.9m1.6 2.5h.9m-0.4-1.5h.9m-0.4 2h.9m-0.9-3h.9m-0.4 0h.9m-0.9 1h.9m1.1 0.5h.9m-0.4 0.5h.9m-0.9 3h.9m0.1-2.5h.9m1.6 2h.9m0.1-3h.9m-0.4 0.5h.9m-0.9-2h.9m-0.4 4h.9m0.6-3h.9m0.6 0.5h.9m-0.4-1.5h.9m-0.9 3.5h.9m-0.9-2.5h.9m1.1 4h.9m-0.4-3.5h.9m-0.4-0.5h.9m0.1 4h.9m-0.9-5h.9m-0.9 3h.9m-0.4 1.5h.9m-0.9-2h.9m-0.9 1.5h.9m0.1-0.5h.9m0.1-3h.9m-0.4 3h.9m-0.9 0.5h.9m-0.4 1h.9m-0.9-3.5h.9m0.1-1h.9m-0.4-0.5h.9m-0.9 1.5h.9m0.6 2h.9m3.6-0.5h.9m0.1 1.5h.9m0.1-2.5h.9m6.1 0h.9m12.1-1h.9m1.1 0.5h.9m0.6 1h.9m-0.4-2h.9m0.6 0h.9m53.6-0.5h.9m0.6 1.5h.9m4.6-0.5h.9m0.1 2h.9m0.1 2h.9m-0.4-1h.9m0.6-0.5h.9m2.6-3h.9m-0.9 2h.9m-0.9 0h.9m-0.4 2h.9m-0.4-2h.9m-0.9-0.5h.9m-0.4-0.5h.9m-0.9 2h.9m1.1-1.5h.9m2.1-1h.9m-0.9-1h.9m0.1 2.5h.9m-0.9 2.5h.9m0.6-5h.9m0.1 2.5h.9m-0.9 1.5h.9m0.6-3h.9m-0.4 2.5h.9m-0.4-3.5h.9m0.6 1.5h.9m0.6 0.5h.9m-0.9-0.5h.9m-0.4 1.5h.9m2.1-1h.9m-0.9 0.5h.9m0.1 0.5h.9m0.1 0h.9m0.6 2h.9m2.1-1h.9m3.6 0h.9m-0.4 0h.9m-0.4 0.5h.9m-0.9-3.5h.9m5.1-0.5h.9m15.1 3h.9m-0.4-1.5h.9m0.6 0h.9m-328.9 7.5h.9m-0.4-4h.9m2.6 2h.9m2.1-1h.9m1.6 0h.9m-0.9-1h.9m5.1 0h.9m1.6 5h.9m-0.4-4.5h.9m4.6-0.5h.9m18.6 3h.9m4.6 3h.9m2.1-6h.9m2.6 6h.9m-0.4 0h.9m14.1-2.5h.9m57.6 0.5h.9m3.1-1h.9m-0.4-3h.9m1.6 0.5h.9m-0.9 1.5h.9m-0.4 3h.9m0.6-2.5h.9m3.1 0h.9m-0.9 0.5h.9m-0.4 1.5h.9m-0.9-4.5h.9m-0.4 2h.9m-0.4-0.5h.9m1.6 0.5h.9m1.1 1h.9m-0.9-3h.9m0.1 2h.9m-0.4-1h.9m-0.9 3.5h.9m-0.4-1h.9m1.6-3h.9m0.1 3.5h.9m0.6 0.5h.9m-0.9-2.5h.9m2.6 0h.9m3.6 3.5h.9m-0.4-4.5h.9m2.1 2.5h.9m-0.9-0.5h.9m0.1 1h.9m1.6 0.5h.9m-0.4 0.5h.9m-0.4 0.5h.9m2.1-1h.9m23.1-1.5h.9m-0.9 3h.9m1.1-4.5h.9m0.6 1.5h.9m0.6-1.5h.9m51.6-1h.9m0.1 4h.9m3.6-0.5h.9m-0.9-2.5h.9m8.1-1h.9m0.1 3.5h.9m-0.4-4h.9m-0.4 3h.9m1.1 0h.9m0.1-2h.9m0.1-1h.9m1.1 2h.9m-0.4 1h.9m-0.4-2h.9m0.6 0.5h.9m1.6 0.5h.9m-0.4 2h.9m-0.9-0.5h.9m1.1-1h.9m0.6-2h.9m-0.9 3.5h.9m2.6-1h.9m0.1-1.5h.9m1.1-1.5h.9m1.6 2.5h.9m3.1 0.5h.9m-0.4-3h.9m0.6 0.5h.9m1.1 1.5h.9m-0.9 3h.9m-0.4-2.5h.9m-0.4 0h.9m0.6 2.5h.9m6.1-3.5h.9m1.6-1.5h.9m6.1 6h.9m-0.4 0h.9m3.6-4.5h.9m-0.9 2.5h.9m3.6-2h.9m2.6 1.5h.9m-316.9 4.5h.9m24.6-1h.9m10.6 2.5h.9m83.6-0.5h.9m14.1-2h.9m-0.4 4h.9m3.6-3h.9m2.6 2.5h.9m-0.4-1.5h.9m-0.4-2h.9m4.6 1.5h.9m-0.4-1.5h.9m-0.4 1h.9m0.6 3h.9m-0.9-4h.9m-0.9 4h.9m-0.4 0.5h.9m-0.4-3.5h.9m4.6 2h.9m-0.4 0.5h.9m1.6-1h.9m-0.9 0.5h.9m-0.9-0.5h.9m-0.4 1.5h.9m2.6 0.5h.9m-0.4-0.5h.9m-0.4-2h.9m-0.4 0.5h.9m-0.9-0.5h.9m0.6 0.5h.9m0.6-0.5h.9m-0.9-1h.9m-0.4 0.5h.9m-0.4-1h.9m0.1 3h.9m-0.9-4h.9m4.1 2h.9m2.1-1.5h.9m77.1 1.5h.9m3.1 2h.9m4.6-2.5h.9m3.6 0h.9m1.1 1h.9m2.6-1h.9m6.1-1.5h.9m0.1 0h.9m4.6 4.5h.9m5.6-1.5h.9m-0.4 1.5h.9m9.1-4.5h.9m-0.9 2h.9m-0.4 2.5h.9m-191.4 3h.9m17.1-0.5h.9m17.1 4h.9m-0.4-4.5h.9m0.1 1h.9m-0.4 0h.9m-0.9 0h.9m4.6-2h.9m3.6 3.5h.9m9.6 0.5h.9m71.1-4h.9m2.6 1h.9m17.6 1h.9m17.1 0.5h.9m1.6-2.5h.9m0.1 0h.9m-128.4 8.5h.9m-1.9 3.5h.9" stroke="#777" stroke-width="0.9" fill="none"/>
<g transform="translate(94.5 489) rotate(-8)"><ellipse rx="16.8" ry="14.8" fill="url(#g1)" stroke="#fff" stroke-width="1.2"/><ellipse rx="14.8" ry="13" fill="none" stroke="#b5b5b5" stroke-width="0.35"/><ellipse rx="12.4" ry="11" fill="none" stroke="#b5b5b5" stroke-width="0.35"/><ellipse rx="10.1" ry="8.9" fill="none" stroke="#b5b5b5" stroke-width="0.35"/><ellipse rx="7.7" ry="6.8" fill="none" stroke="#b5b5b5" stroke-width="0.35"/></g>
<g transform="translate(139 490) rotate(22)"><ellipse rx="11.5" ry="16.2" fill="url(#g5)" stroke="#fff" stroke-width="1.2"/><ellipse rx="10.1" ry="14.3" fill="none" stroke="#b5b5b5" stroke-width="0.35"/><ellipse rx="8.5" ry="12" fill="none" stroke="#b5b5b5" stroke-width="0.35"/><ellipse rx="6.9" ry="9.7" fill="none" stroke="#b5b5b5" stroke-width="0.35"/><ellipse rx="5.3" ry="7.5" fill="none" stroke="#b5b5b5" stroke-width="0.35"/></g>
<g transform="translate(226.4 486) rotate(-30)"><ellipse rx="16" ry="14" fill="url(#g1)" stroke="#fff" stroke-width="1.2"/><ellipse rx="14.1" ry="12.3" fill="none" stroke="#b5b5b5" stroke-width="0.35"/><ellipse rx="11.8" ry="10.4" fill="none" stroke="#b5b5b5" stroke-width="0.35"/><ellipse rx="9.6" ry="8.4" fill="none" stroke="#b5b5b5" stroke-width="0.35"/><ellipse rx="7.4" ry="6.4" fill="none" stroke="#b5b5b5" stroke-width="0.35"/></g>
<g transform="translate(272.2 488.4) rotate(25)"><ellipse rx="12" ry="15" fill="url(#g5)" stroke="#fff" stroke-width="1.2"/><ellipse rx="10.6" ry="13.2" fill="none" stroke="#b5b5b5" stroke-width="0.35"/><ellipse rx="8.9" ry="11.1" fill="none" stroke="#b5b5b5" stroke-width="0.35"/><ellipse rx="7.2" ry="9" fill="none" stroke="#b5b5b5" stroke-width="0.35"/><ellipse rx="5.5" ry="6.9" fill="none" stroke="#b5b5b5" stroke-width="0.35"/></g>
<g transform="translate(268.5 528.8) rotate(-8)"><ellipse rx="12" ry="7.4" fill="url(#g2)" stroke="#bbb" stroke-width="0.8"/><ellipse rx="10.2" ry="6.3" fill="none" stroke="#999" stroke-width="0.3"/><ellipse rx="8.4" ry="5.2" fill="none" stroke="#999" stroke-width="0.3"/></g>
<g transform="translate(359.6 487.2) rotate(-35)"><ellipse rx="17.3" ry="15.8" fill="url(#g1)" stroke="#fff" stroke-width="1.2"/><ellipse rx="15.2" ry="13.9" fill="none" stroke="#b5b5b5" stroke-width="0.35"/><ellipse rx="12.8" ry="11.7" fill="none" stroke="#b5b5b5" stroke-width="0.35"/><ellipse rx="10.4" ry="9.5" fill="none" stroke="#b5b5b5" stroke-width="0.35"/><ellipse rx="8" ry="7.3" fill="none" stroke="#b5b5b5" stroke-width="0.35"/></g>
<g transform="translate(405.4 488) rotate(25)"><ellipse rx="12.3" ry="16.2" fill="url(#g5)" stroke="#fff" stroke-width="1.2"/><ellipse rx="10.8" ry="14.3" fill="none" stroke="#b5b5b5" stroke-width="0.35"/><ellipse rx="9.1" ry="12" fill="none" stroke="#b5b5b5" stroke-width="0.35"/><ellipse rx="7.4" ry="9.7" fill="none" stroke="#b5b5b5" stroke-width="0.35"/><ellipse rx="5.7" ry="7.5" fill="none" stroke="#b5b5b5" stroke-width="0.35"/></g>
<g transform="translate(401.5 528.3) rotate(-25)"><ellipse rx="11" ry="7.6" fill="url(#g5)" stroke="#fff" stroke-width="1.2"/><ellipse rx="9.7" ry="6.7" fill="none" stroke="#b5b5b5" stroke-width="0.35"/><ellipse rx="8.1" ry="5.6" fill="none" stroke="#b5b5b5" stroke-width="0.35"/><ellipse rx="6.6" ry="4.6" fill="none" stroke="#b5b5b5" stroke-width="0.35"/><ellipse rx="5.1" ry="3.5" fill="none" stroke="#b5b5b5" stroke-width="0.35"/></g>
<g transform="translate(86 611) rotate(0)"><ellipse rx="15" ry="12" fill="url(#g3)" stroke="#2a2a2a" stroke-width="0.9"/><ellipse rx="12.9" ry="10.3" fill="none" stroke="#444" stroke-width="0.4"/><ellipse rx="10.8" ry="8.6" fill="none" stroke="#444" stroke-width="0.4"/><ellipse rx="8.7" ry="7" fill="none" stroke="#444" stroke-width="0.4"/><ellipse rx="6.6" ry="5.3" fill="none" stroke="#444" stroke-width="0.4"/><ellipse rx="4.5" ry="3.6" fill="none" stroke="#444" stroke-width="0.4"/></g>
<g transform="translate(132 611.5) rotate(-18)"><path d="M-16.8 0C-10.5 -11.2 -5.2 -14 1.5 -14C10.5 -14 15 -7.7 15 0C15 7.7 10.5 14 1.5 14C-5.2 14 -10.5 11.2 -16.8 0Z" fill="url(#g6)" stroke="#2a2a2a" stroke-width="0.8"/><path d="M-14.2 0C-8.6 -9.9 -4 -12.3 1.9 -12.3C9.9 -12.3 13.8 -6.8 13.8 0C13.8 6.8 9.9 12.3 1.9 12.3C-4 12.3 -8.6 9.9 -14.2 0Z" fill="none" stroke="#3a3a3a" stroke-width="0.4"/><path d="M-11.5 0C-6.7 -8.5 -2.7 -10.6 2.4 -10.6C9.2 -10.6 12.7 -5.9 12.7 0C12.7 5.9 9.2 10.6 2.4 10.6C-2.7 10.6 -6.7 8.5 -11.5 0Z" fill="none" stroke="#3a3a3a" stroke-width="0.4"/><path d="M-8.9 0C-4.8 -7.2 -1.5 -9 2.8 -9C8.6 -9 11.5 -4.9 11.5 0C11.5 4.9 8.6 9 2.8 9C-1.5 9 -4.8 7.2 -8.9 0Z" fill="none" stroke="#3a3a3a" stroke-width="0.4"/><path d="M-6.2 0C-2.9 -5.8 -0.2 -7.3 3.3 -7.3C8 -7.3 10.3 -4 10.3 0C10.3 4 8 7.3 3.3 7.3C-0.2 7.3 -2.9 5.8 -6.2 0Z" fill="none" stroke="#3a3a3a" stroke-width="0.4"/></g>
<g transform="translate(218.8 609.6) rotate(0)"><ellipse rx="16.9" ry="13.4" fill="url(#g3)" stroke="#2a2a2a" stroke-width="0.9"/><ellipse rx="14.5" ry="11.5" fill="none" stroke="#444" stroke-width="0.4"/><ellipse rx="12.2" ry="9.6" fill="none" stroke="#444" stroke-width="0.4"/><ellipse rx="9.8" ry="7.8" fill="none" stroke="#444" stroke-width="0.4"/><ellipse rx="7.4" ry="5.9" fill="none" stroke="#444" stroke-width="0.4"/><ellipse rx="5.1" ry="4" fill="none" stroke="#444" stroke-width="0.4"/></g>
<g transform="translate(261.5 609.7) rotate(-20)"><path d="M-16.2 0C-10.1 -11.2 -5.1 -14 1.5 -14C10.1 -14 14.5 -7.7 14.5 0C14.5 7.7 10.1 14 1.5 14C-5.1 14 -10.1 11.2 -16.2 0Z" fill="url(#g6)" stroke="#2a2a2a" stroke-width="0.8"/><path d="M-13.7 0C-8.3 -9.9 -3.9 -12.3 1.9 -12.3C9.5 -12.3 13.4 -6.8 13.4 0C13.4 6.8 9.5 12.3 1.9 12.3C-3.9 12.3 -8.3 9.9 -13.7 0Z" fill="none" stroke="#3a3a3a" stroke-width="0.4"/><path d="M-11.1 0C-6.5 -8.5 -2.6 -10.6 2.3 -10.6C8.9 -10.6 12.2 -5.9 12.2 0C12.2 5.9 8.9 10.6 2.3 10.6C-2.6 10.6 -6.5 8.5 -11.1 0Z" fill="none" stroke="#3a3a3a" stroke-width="0.4"/><path d="M-8.6 0C-4.7 -7.2 -1.4 -9 2.8 -9C8.3 -9 11.1 -4.9 11.1 0C11.1 4.9 8.3 9 2.8 9C-1.4 9 -4.7 7.2 -8.6 0Z" fill="none" stroke="#3a3a3a" stroke-width="0.4"/><path d="M-6 0C-2.8 -5.8 -0.2 -7.3 3.2 -7.3C7.7 -7.3 10 -4 10 0C10 4 7.7 7.3 3.2 7.3C-0.2 7.3 -2.8 5.8 -6 0Z" fill="none" stroke="#3a3a3a" stroke-width="0.4"/></g>
<g transform="translate(258.7 655.6) rotate(-15)"><ellipse rx="15" ry="11" fill="url(#g4)" stroke="#2a2a2a" stroke-width="0.9"/><ellipse rx="12.9" ry="9.5" fill="none" stroke="#444" stroke-width="0.4"/><ellipse rx="10.8" ry="7.9" fill="none" stroke="#444" stroke-width="0.4"/><ellipse rx="8.7" ry="6.4" fill="none" stroke="#444" stroke-width="0.4"/></g>
<g transform="translate(351 609.8) rotate(0)"><ellipse rx="17" ry="13" fill="url(#g3)" stroke="#2a2a2a" stroke-width="0.9"/><ellipse rx="14.6" ry="11.2" fill="none" stroke="#444" stroke-width="0.4"/><ellipse rx="12.2" ry="9.4" fill="none" stroke="#444" stroke-width="0.4"/><ellipse rx="9.9" ry="7.5" fill="none" stroke="#444" stroke-width="0.4"/><ellipse rx="7.5" ry="5.7" fill="none" stroke="#444" stroke-width="0.4"/><ellipse rx="5.1" ry="3.9" fill="none" stroke="#444" stroke-width="0.4"/></g>
<g transform="translate(397 609.8) rotate(-20)"><path d="M-16.2 0C-10.1 -11.2 -5.1 -14 1.5 -14C10.1 -14 14.5 -7.7 14.5 0C14.5 7.7 10.1 14 1.5 14C-5.1 14 -10.1 11.2 -16.2 0Z" fill="url(#g6)" stroke="#2a2a2a" stroke-width="0.8"/><path d="M-13.7 0C-8.3 -9.9 -3.9 -12.3 1.9 -12.3C9.5 -12.3 13.4 -6.8 13.4 0C13.4 6.8 9.5 12.3 1.9 12.3C-3.9 12.3 -8.3 9.9 -13.7 0Z" fill="none" stroke="#3a3a3a" stroke-width="0.4"/><path d="M-11.1 0C-6.5 -8.5 -2.6 -10.6 2.3 -10.6C8.9 -10.6 12.2 -5.9 12.2 0C12.2 5.9 8.9 10.6 2.3 10.6C-2.6 10.6 -6.5 8.5 -11.1 0Z" fill="none" stroke="#3a3a3a" stroke-width="0.4"/><path d="M-8.6 0C-4.7 -7.2 -1.4 -9 2.8 -9C8.3 -9 11.1 -4.9 11.1 0C11.1 4.9 8.3 9 2.8 9C-1.4 9 -4.7 7.2 -8.6 0Z" fill="none" stroke="#3a3a3a" stroke-width="0.4"/><path d="M-6 0C-2.8 -5.8 -0.2 -7.3 3.2 -7.3C7.7 -7.3 10 -4 10 0C10 4 7.7 7.3 3.2 7.3C-0.2 7.3 -2.8 5.8 -6 0Z" fill="none" stroke="#3a3a3a" stroke-width="0.4"/></g>
<g transform="translate(390 655.6) rotate(0)"><ellipse rx="10.5" ry="10.5" fill="url(#g3)" stroke="#2a2a2a" stroke-width="0.9"/><ellipse rx="9" ry="9" fill="none" stroke="#444" stroke-width="0.4"/><ellipse rx="7.6" ry="7.6" fill="none" stroke="#444" stroke-width="0.4"/><ellipse rx="6.1" ry="6.1" fill="none" stroke="#444" stroke-width="0.4"/><ellipse rx="4.6" ry="4.6" fill="none" stroke="#444" stroke-width="0.4"/><ellipse rx="3.1" ry="3.1" fill="none" stroke="#444" stroke-width="0.4"/></g>
<rect x="72" y="462" width="40" height="45.5" fill="none" stroke="#000" stroke-width="1.3"/>
<rect x="124.5" y="463.2" width="38.7" height="44.8" fill="none" stroke="#000" stroke-width="1.3"/>
<rect x="123.2" y="517.5" width="38" height="31.7" fill="none" stroke="#000" stroke-width="1.3"/>
<rect x="203.7" y="462.6" width="39.8" height="44.7" fill="none" stroke="#000" stroke-width="1.3"/>
<rect x="255.7" y="463.2" width="38.9" height="45" fill="none" stroke="#000" stroke-width="1.3"/>
<rect x="254.2" y="517.4" width="38.4" height="31.7" fill="none" stroke="#000" stroke-width="1.3"/>
<rect x="336.6" y="462.6" width="39.8" height="44.7" fill="none" stroke="#000" stroke-width="1.3"/>
<rect x="388.6" y="463.5" width="38.9" height="44.7" fill="none" stroke="#000" stroke-width="1.3"/>
<rect x="387.7" y="517.4" width="38.3" height="31.7" fill="none" stroke="#000" stroke-width="1.3"/>
<rect x="65.2" y="590.2" width="40.4" height="44.7" fill="none" stroke="#000" stroke-width="1.3"/>
<rect x="109.4" y="589.6" width="39.3" height="44.4" fill="none" stroke="#000" stroke-width="1.3"/>
<rect x="109.4" y="642.1" width="39.3" height="31.5" fill="none" stroke="#000" stroke-width="1.3"/>
<rect x="197.5" y="590.2" width="39.6" height="44.4" fill="none" stroke="#000" stroke-width="1.3"/>
<rect x="241.2" y="589.1" width="39" height="44.1" fill="none" stroke="#000" stroke-width="1.3"/>
<rect x="241.2" y="642.1" width="38.5" height="31" fill="none" stroke="#000" stroke-width="1.3"/>
<rect x="330.2" y="590.2" width="39.6" height="44.4" fill="none" stroke="#000" stroke-width="1.3"/>
<rect x="373.9" y="589.1" width="39.5" height="44.1" fill="none" stroke="#000" stroke-width="1.3"/>
<rect x="373.9" y="642.1" width="39" height="31" fill="none" stroke="#000" stroke-width="1.3"/>
<text x="86.2" y="453.8" font-size="9.6" textLength="18.3" lengthAdjust="spacingAndGlyphs" stroke-width="0">50.0</text>
<text x="131.2" y="453.8" font-size="9.6" textLength="18.8" lengthAdjust="spacingAndGlyphs" stroke-width="0">46.0</text>
<text x="160" y="540" font-size="9.6" textLength="23.7" lengthAdjust="spacingAndGlyphs" stroke-width="0">0.023</text>
<text x="216.7" y="453.4" font-size="9.6" textLength="18.8" lengthAdjust="spacingAndGlyphs" stroke-width="0">34.4</text>
<text x="263.5" y="453.4" font-size="9.6" textLength="18.7" lengthAdjust="spacingAndGlyphs" stroke-width="0">40.7</text>
<text x="297" y="539.6" font-size="9.6" textLength="18.4" lengthAdjust="spacingAndGlyphs" stroke-width="0">21.8</text>
<text x="349.6" y="453.4" font-size="9.6" textLength="18.8" lengthAdjust="spacingAndGlyphs" stroke-width="0">47.9</text>
<text x="395.8" y="453.4" font-size="9.6" textLength="17.8" lengthAdjust="spacingAndGlyphs" stroke-width="0">39.1</text>
<text x="430.4" y="539.6" font-size="9.6" textLength="17.9" lengthAdjust="spacingAndGlyphs" stroke-width="0">10.3</text>
<text x="79.8" y="584.2" font-size="9.6" textLength="18.3" lengthAdjust="spacingAndGlyphs" stroke-width="0">38.0</text>
<text x="118.3" y="584.2" font-size="9.6" textLength="18" lengthAdjust="spacingAndGlyphs" stroke-width="0">60.3</text>
<text x="165.9" y="665" font-size="9.6" textLength="18.3" lengthAdjust="spacingAndGlyphs" stroke-width="0">0.14</text>
<text x="211" y="583.7" font-size="9.6" textLength="18.8" lengthAdjust="spacingAndGlyphs" stroke-width="0">29.3</text>
<text x="249.2" y="583.7" font-size="9.6" textLength="18.3" lengthAdjust="spacingAndGlyphs" stroke-width="0">44.0</text>
<text x="297.2" y="664.5" font-size="9.6" textLength="18.3" lengthAdjust="spacingAndGlyphs" stroke-width="0">24.9</text>
<text x="343.7" y="583.7" font-size="9.6" textLength="18.6" lengthAdjust="spacingAndGlyphs" stroke-width="0">36.5</text>
<text x="381.4" y="583.7" font-size="9.6" textLength="18" lengthAdjust="spacingAndGlyphs" stroke-width="0">50.9</text>
<text x="429.9" y="664.5" font-size="9.6" textLength="18" lengthAdjust="spacingAndGlyphs" stroke-width="0">11.2</text>
<line x1="51" y1="624.8" x2="51" y2="447" stroke="#000" stroke-width="1.8"/>
<path d="M51 440.2 L47.3 448 L51 446.5 L54.7 448 Z" fill="#000"/>
<line x1="111.5" y1="707" x2="444" y2="707" stroke="#000" stroke-width="1.8"/>
<path d="M450.5 707 L442.7 703.3 L444.2 707 L442.7 710.7 Z" fill="#000"/>
<text transform="translate(28 501.2) rotate(-90)" x="0" y="0" font-size="13" text-anchor="middle" textLength="38.7" lengthAdjust="spacingAndGlyphs">Spleen</text>
<text transform="translate(28.4 627.5) rotate(-90)" x="0" y="0" font-size="13" text-anchor="middle" textLength="82.1" lengthAdjust="spacingAndGlyphs">Small Intestine</text>
<text transform="translate(56.9 668.3) rotate(-90)" x="0" y="0" font-size="13.5" text-anchor="middle" textLength="42.3" lengthAdjust="spacingAndGlyphs">CD45.1</text>
<text x="67.7" y="711.2" font-size="12.2" textLength="24.2" lengthAdjust="spacingAndGlyphs">CD4</text>
<text x="11.2" y="743.5" font-size="16" font-weight="bold">E</text>
<text transform="translate(28 788.3) rotate(-90)" x="0" y="0" font-size="13" text-anchor="middle" textLength="37.6" lengthAdjust="spacingAndGlyphs">Spleen</text>
<text transform="translate(28.4 903.2) rotate(-90)" x="0" y="0" font-size="13" text-anchor="middle" textLength="82.5" lengthAdjust="spacingAndGlyphs">Small Intestine</text>
<text transform="translate(54 848.3) rotate(-90)" x="0" y="0" font-size="14" text-anchor="middle" textLength="99.4" lengthAdjust="spacingAndGlyphs">CD45.1<tspan font-size="8.5" dy="-5.5">-</tspan><tspan dy="5.5" dx="3"> Treg (%)</tspan></text>
<text transform="translate(210.8 848.1) rotate(-90)" x="0" y="0" font-size="14" text-anchor="middle" textLength="146" lengthAdjust="spacingAndGlyphs">CD45.1<tspan font-size="8.5" dy="-5.5">+</tspan><tspan dy="5.5"> CD4</tspan><tspan font-size="8.5" dy="-5.5">+</tspan><tspan dy="5.5" dx="3"> T Cell (%)</tspan></text>
<text transform="translate(369.3 848) rotate(-90)" x="0" y="0" font-size="14" text-anchor="middle" textLength="146" lengthAdjust="spacingAndGlyphs">CD45.1<tspan font-size="8.5" dy="-5.5">+</tspan><tspan dy="5.5"> CD8</tspan><tspan font-size="8.5" dy="-5.5">+</tspan><tspan dy="5.5" dx="3"> T Cell (%)</tspan></text>
<line x1="84.9" y1="751.7" x2="84.9" y2="828.5" stroke="#000" stroke-width="1.6"/>
<line x1="84.1" y1="827.7" x2="194" y2="827.7" stroke="#000" stroke-width="1.6"/>
<line x1="80.3" y1="827.7" x2="84.9" y2="827.7" stroke="#000" stroke-width="1.4"/>
<text x="75" y="831.5" font-size="10.6" text-anchor="end" textLength="6.6" lengthAdjust="spacingAndGlyphs">0</text>
<line x1="80.3" y1="803.5" x2="84.9" y2="803.5" stroke="#000" stroke-width="1.4"/>
<text x="75" y="807.3" font-size="10.6" text-anchor="end" textLength="13.2" lengthAdjust="spacingAndGlyphs">10</text>
<line x1="80.3" y1="779.4" x2="84.9" y2="779.4" stroke="#000" stroke-width="1.4"/>
<text x="75" y="783.2" font-size="10.6" text-anchor="end" textLength="13.2" lengthAdjust="spacingAndGlyphs">20</text>
<line x1="80.3" y1="755.2" x2="84.9" y2="755.2" stroke="#000" stroke-width="1.4"/>
<text x="75" y="759" font-size="10.6" text-anchor="end" textLength="13.2" lengthAdjust="spacingAndGlyphs">30</text>
<line x1="102.6" y1="827.7" x2="102.6" y2="832.2" stroke="#000" stroke-width="1.4"/>
<line x1="139.6" y1="827.7" x2="139.6" y2="832.2" stroke="#000" stroke-width="1.4"/>
<line x1="176.5" y1="827.7" x2="176.5" y2="832.2" stroke="#000" stroke-width="1.4"/>
<rect x="127.3" y="777" width="24.7" height="50.7" fill="#000" stroke="none" stroke-width="1"/>
<line x1="139.7" y1="778" x2="139.7" y2="774" stroke="#000" stroke-width="1.5"/>
<line x1="133" y1="774" x2="146.5" y2="774" stroke="#000" stroke-width="1.6"/>
<rect x="164.3" y="804.2" width="24.7" height="23.5" fill="#3d3d3d" stroke="none" stroke-width="1"/>
<line x1="176.7" y1="805.2" x2="176.7" y2="803.4" stroke="#000" stroke-width="1.5"/>
<line x1="170" y1="803.4" x2="183.5" y2="803.4" stroke="#000" stroke-width="1.6"/>
<line x1="141.2" y1="755" x2="175.2" y2="755" stroke="#000" stroke-width="1.5"/>
<polygon points="150.8,747.2 151.5,748.8 153.2,748.9 151.9,750 152.3,751.7 150.8,750.8 149.4,751.7 149.8,750 148.5,748.9 150.2,748.8" fill="#000"/>
<polygon points="155.8,747.2 156.4,748.8 158.1,748.9 156.8,750 157.2,751.7 155.8,750.8 154.3,751.7 154.7,750 153.4,748.9 155.1,748.8" fill="#000"/>
<polygon points="160.6,747.2 161.3,748.8 163,748.9 161.7,750 162.1,751.7 160.6,750.8 159.2,751.7 159.6,750 158.3,748.9 160,748.8" fill="#000"/>
<polygon points="165.5,747.2 166.2,748.8 167.9,748.9 166.6,750 167,751.7 165.5,750.8 164.1,751.7 164.5,750 163.2,748.9 164.9,748.8" fill="#000"/>
<line x1="241.9" y1="750.4" x2="241.9" y2="828.8" stroke="#000" stroke-width="1.6"/>
<line x1="241.1" y1="828" x2="351.3" y2="828" stroke="#000" stroke-width="1.6"/>
<line x1="237.3" y1="828" x2="241.9" y2="828" stroke="#000" stroke-width="1.4"/>
<text x="232.5" y="831.8" font-size="10.6" text-anchor="end" textLength="6.6" lengthAdjust="spacingAndGlyphs">0</text>
<line x1="237.3" y1="809.6" x2="241.9" y2="809.6" stroke="#000" stroke-width="1.4"/>
<text x="232.5" y="813.4" font-size="10.6" text-anchor="end" textLength="13.2" lengthAdjust="spacingAndGlyphs">20</text>
<line x1="237.3" y1="791.2" x2="241.9" y2="791.2" stroke="#000" stroke-width="1.4"/>
<text x="232.5" y="795" font-size="10.6" text-anchor="end" textLength="13.2" lengthAdjust="spacingAndGlyphs">40</text>
<line x1="237.3" y1="772.8" x2="241.9" y2="772.8" stroke="#000" stroke-width="1.4"/>
<text x="232.5" y="776.6" font-size="10.6" text-anchor="end" textLength="13.2" lengthAdjust="spacingAndGlyphs">60</text>
<line x1="237.3" y1="754.4" x2="241.9" y2="754.4" stroke="#000" stroke-width="1.4"/>
<text x="232.5" y="758.2" font-size="10.6" text-anchor="end" textLength="13.2" lengthAdjust="spacingAndGlyphs">80</text>
<line x1="259.8" y1="828" x2="259.8" y2="832.5" stroke="#000" stroke-width="1.4"/>
<line x1="296.4" y1="828" x2="296.4" y2="832.5" stroke="#000" stroke-width="1.4"/>
<line x1="333.3" y1="828" x2="333.3" y2="832.5" stroke="#000" stroke-width="1.4"/>
<rect x="247.1" y="790.3" width="25.6" height="37.7" fill="#bdbdbd" stroke="none" stroke-width="1"/>
<line x1="259.9" y1="791.3" x2="259.9" y2="780.4" stroke="#000" stroke-width="1.5"/>
<line x1="252.5" y1="780.4" x2="266" y2="780.4" stroke="#000" stroke-width="1.6"/>
<rect x="284" y="792" width="25" height="36" fill="#000" stroke="none" stroke-width="1"/>
<line x1="296.5" y1="793" x2="296.5" y2="791.2" stroke="#000" stroke-width="1.5"/>
<line x1="290" y1="791.2" x2="303" y2="791.2" stroke="#000" stroke-width="1.6"/>
<rect x="321.2" y="794.7" width="24.3" height="33.3" fill="#3d3d3d" stroke="none" stroke-width="1"/>
<line x1="333.4" y1="795.7" x2="333.4" y2="792" stroke="#000" stroke-width="1.5"/>
<line x1="327.7" y1="792" x2="339.7" y2="792" stroke="#000" stroke-width="1.6"/>
<line x1="400.3" y1="750.8" x2="400.3" y2="828.8" stroke="#000" stroke-width="1.6"/>
<line x1="399.5" y1="828" x2="510" y2="828" stroke="#000" stroke-width="1.6"/>
<line x1="395.7" y1="828" x2="400.3" y2="828" stroke="#000" stroke-width="1.4"/>
<text x="391.7" y="831.8" font-size="10.6" text-anchor="end" textLength="6.6" lengthAdjust="spacingAndGlyphs">0</text>
<line x1="395.7" y1="809.7" x2="400.3" y2="809.7" stroke="#000" stroke-width="1.4"/>
<text x="391.7" y="813.5" font-size="10.6" text-anchor="end" textLength="13.2" lengthAdjust="spacingAndGlyphs">20</text>
<line x1="395.7" y1="791.4" x2="400.3" y2="791.4" stroke="#000" stroke-width="1.4"/>
<text x="391.7" y="795.2" font-size="10.6" text-anchor="end" textLength="13.2" lengthAdjust="spacingAndGlyphs">40</text>
<line x1="395.7" y1="773.1" x2="400.3" y2="773.1" stroke="#000" stroke-width="1.4"/>
<text x="391.7" y="776.9" font-size="10.6" text-anchor="end" textLength="13.2" lengthAdjust="spacingAndGlyphs">60</text>
<line x1="395.7" y1="754.8" x2="400.3" y2="754.8" stroke="#000" stroke-width="1.4"/>
<text x="391.7" y="758.6" font-size="10.6" text-anchor="end" textLength="13.2" lengthAdjust="spacingAndGlyphs">80</text>
<line x1="418.1" y1="828" x2="418.1" y2="832.5" stroke="#000" stroke-width="1.4"/>
<line x1="455" y1="828" x2="455" y2="832.5" stroke="#000" stroke-width="1.4"/>
<line x1="492" y1="828" x2="492" y2="832.5" stroke="#000" stroke-width="1.4"/>
<rect x="405.4" y="780" width="26.6" height="48" fill="#bdbdbd" stroke="none" stroke-width="1"/>
<line x1="418.7" y1="781" x2="418.7" y2="772.3" stroke="#000" stroke-width="1.5"/>
<line x1="413" y1="772.3" x2="424.6" y2="772.3" stroke="#000" stroke-width="1.6"/>
<rect x="443" y="795" width="25.2" height="33" fill="#000" stroke="none" stroke-width="1"/>
<line x1="455.6" y1="796" x2="455.6" y2="792.7" stroke="#000" stroke-width="1.5"/>
<line x1="449" y1="792.7" x2="462" y2="792.7" stroke="#000" stroke-width="1.6"/>
<rect x="480" y="782.7" width="24.2" height="45.3" fill="#3d3d3d" stroke="none" stroke-width="1"/>
<line x1="492.1" y1="783.7" x2="492.1" y2="781.1" stroke="#000" stroke-width="1.5"/>
<line x1="486" y1="781.1" x2="498.5" y2="781.1" stroke="#000" stroke-width="1.6"/>
<line x1="418.8" y1="757.3" x2="452.7" y2="757.3" stroke="#000" stroke-width="1.5"/>
<polygon points="435.9,749.5 436.6,751.1 438.3,751.2 437,752.3 437.4,754 435.9,753.1 434.4,754 434.8,752.3 433.5,751.2 435.2,751.1" fill="#000"/>
<line x1="457.4" y1="757.3" x2="492" y2="757.3" stroke="#000" stroke-width="1.5"/>
<polygon points="469.8,749.5 470.5,751.1 472.2,751.2 470.9,752.3 471.3,754 469.8,753.1 468.3,754 468.7,752.3 467.4,751.2 469.1,751.1" fill="#000"/>
<polygon points="474.7,749.5 475.4,751.1 477.1,751.2 475.8,752.3 476.2,754 474.7,753.1 473.2,754 473.6,752.3 472.3,751.2 474,751.1" fill="#000"/>
<polygon points="479.6,749.5 480.3,751.1 482,751.2 480.7,752.3 481.1,754 479.6,753.1 478.1,754 478.5,752.3 477.2,751.2 478.9,751.1" fill="#000"/>
<line x1="84.8" y1="861.3" x2="84.8" y2="938.6" stroke="#000" stroke-width="1.6"/>
<line x1="84" y1="937.8" x2="193.8" y2="937.8" stroke="#000" stroke-width="1.6"/>
<line x1="80.2" y1="937.8" x2="84.8" y2="937.8" stroke="#000" stroke-width="1.4"/>
<text x="75" y="941.6" font-size="10.6" text-anchor="end" textLength="6.6" lengthAdjust="spacingAndGlyphs">0</text>
<line x1="80.2" y1="913.5" x2="84.8" y2="913.5" stroke="#000" stroke-width="1.4"/>
<text x="75" y="917.3" font-size="10.6" text-anchor="end" textLength="13.2" lengthAdjust="spacingAndGlyphs">10</text>
<line x1="80.2" y1="889.2" x2="84.8" y2="889.2" stroke="#000" stroke-width="1.4"/>
<text x="75" y="893" font-size="10.6" text-anchor="end" textLength="13.2" lengthAdjust="spacingAndGlyphs">20</text>
<line x1="80.2" y1="864.9" x2="84.8" y2="864.9" stroke="#000" stroke-width="1.4"/>
<text x="75" y="868.7" font-size="10.6" text-anchor="end" textLength="13.2" lengthAdjust="spacingAndGlyphs">30</text>
<line x1="103.2" y1="937.8" x2="103.2" y2="942.3" stroke="#000" stroke-width="1.4"/>
<line x1="139.8" y1="937.8" x2="139.8" y2="942.3" stroke="#000" stroke-width="1.4"/>
<line x1="176.6" y1="937.8" x2="176.6" y2="942.3" stroke="#000" stroke-width="1.4"/>
<rect x="127.2" y="880.4" width="24.8" height="57.4" fill="#000" stroke="none" stroke-width="1"/>
<line x1="139.6" y1="881.4" x2="139.6" y2="877" stroke="#000" stroke-width="1.5"/>
<line x1="133" y1="877" x2="146.5" y2="877" stroke="#000" stroke-width="1.6"/>
<rect x="164" y="903.3" width="24.8" height="34.5" fill="#3d3d3d" stroke="none" stroke-width="1"/>
<line x1="176.4" y1="904.3" x2="176.4" y2="895.8" stroke="#000" stroke-width="1.5"/>
<line x1="169.4" y1="895.8" x2="182.9" y2="895.8" stroke="#000" stroke-width="1.6"/>
<line x1="139.8" y1="868" x2="174.8" y2="868" stroke="#000" stroke-width="1.5"/>
<polygon points="154.9,860.2 155.5,861.8 157.2,861.9 155.9,863 156.3,864.7 154.9,863.8 153.4,864.7 153.8,863 152.5,861.9 154.2,861.8" fill="#000"/>
<polygon points="159.8,860.2 160.4,861.8 162.1,861.9 160.8,863 161.2,864.7 159.8,863.8 158.3,864.7 158.7,863 157.4,861.9 159.1,861.8" fill="#000"/>
<line x1="241.9" y1="860.5" x2="241.9" y2="938.5" stroke="#000" stroke-width="1.6"/>
<line x1="241.1" y1="937.7" x2="347.3" y2="937.7" stroke="#000" stroke-width="1.6"/>
<line x1="237.3" y1="937.7" x2="241.9" y2="937.7" stroke="#000" stroke-width="1.4"/>
<text x="232.7" y="941.5" font-size="10.6" text-anchor="end" textLength="6.6" lengthAdjust="spacingAndGlyphs">0</text>
<line x1="237.3" y1="919.3" x2="241.9" y2="919.3" stroke="#000" stroke-width="1.4"/>
<text x="232.7" y="923.1" font-size="10.6" text-anchor="end" textLength="13.2" lengthAdjust="spacingAndGlyphs">20</text>
<line x1="237.3" y1="900.9" x2="241.9" y2="900.9" stroke="#000" stroke-width="1.4"/>
<text x="232.7" y="904.7" font-size="10.6" text-anchor="end" textLength="13.2" lengthAdjust="spacingAndGlyphs">40</text>
<line x1="237.3" y1="882.5" x2="241.9" y2="882.5" stroke="#000" stroke-width="1.4"/>
<text x="232.7" y="886.3" font-size="10.6" text-anchor="end" textLength="13.2" lengthAdjust="spacingAndGlyphs">60</text>
<line x1="237.3" y1="864.1" x2="241.9" y2="864.1" stroke="#000" stroke-width="1.4"/>
<text x="232.7" y="867.9" font-size="10.6" text-anchor="end" textLength="13.2" lengthAdjust="spacingAndGlyphs">80</text>
<line x1="259.3" y1="937.7" x2="259.3" y2="942.2" stroke="#000" stroke-width="1.4"/>
<line x1="296.2" y1="937.7" x2="296.2" y2="942.2" stroke="#000" stroke-width="1.4"/>
<line x1="333.6" y1="937.7" x2="333.6" y2="942.2" stroke="#000" stroke-width="1.4"/>
<rect x="247.9" y="890" width="24" height="47.7" fill="#bdbdbd" stroke="none" stroke-width="1"/>
<line x1="259.9" y1="891" x2="259.9" y2="883.2" stroke="#000" stroke-width="1.5"/>
<line x1="255" y1="883.2" x2="266.4" y2="883.2" stroke="#000" stroke-width="1.6"/>
<rect x="284.2" y="898.6" width="24.6" height="39.1" fill="#000" stroke="none" stroke-width="1"/>
<line x1="296.5" y1="899.6" x2="296.5" y2="897.8" stroke="#000" stroke-width="1.5"/>
<line x1="290" y1="897.8" x2="303" y2="897.8" stroke="#000" stroke-width="1.6"/>
<rect x="320.5" y="900.2" width="25.3" height="37.5" fill="#3d3d3d" stroke="none" stroke-width="1"/>
<line x1="333.1" y1="901.2" x2="333.1" y2="891.5" stroke="#000" stroke-width="1.5"/>
<line x1="323.6" y1="891.5" x2="339.6" y2="891.5" stroke="#000" stroke-width="1.6"/>
<line x1="399.3" y1="861.5" x2="399.3" y2="940.2" stroke="#000" stroke-width="1.6"/>
<line x1="398.5" y1="939.4" x2="510.5" y2="939.4" stroke="#000" stroke-width="1.6"/>
<line x1="394.7" y1="939.4" x2="399.3" y2="939.4" stroke="#000" stroke-width="1.4"/>
<text x="390.9" y="943.2" font-size="10.6" text-anchor="end" textLength="6.6" lengthAdjust="spacingAndGlyphs">0</text>
<line x1="394.7" y1="921.1" x2="399.3" y2="921.1" stroke="#000" stroke-width="1.4"/>
<text x="390.9" y="924.9" font-size="10.6" text-anchor="end" textLength="13.2" lengthAdjust="spacingAndGlyphs">20</text>
<line x1="394.7" y1="902.8" x2="399.3" y2="902.8" stroke="#000" stroke-width="1.4"/>
<text x="390.9" y="906.6" font-size="10.6" text-anchor="end" textLength="13.2" lengthAdjust="spacingAndGlyphs">40</text>
<line x1="394.7" y1="884.4" x2="399.3" y2="884.4" stroke="#000" stroke-width="1.4"/>
<text x="390.9" y="888.2" font-size="10.6" text-anchor="end" textLength="13.2" lengthAdjust="spacingAndGlyphs">60</text>
<line x1="394.7" y1="866.1" x2="399.3" y2="866.1" stroke="#000" stroke-width="1.4"/>
<text x="390.9" y="869.9" font-size="10.6" text-anchor="end" textLength="13.2" lengthAdjust="spacingAndGlyphs">80</text>
<line x1="417.7" y1="939.4" x2="417.7" y2="943.9" stroke="#000" stroke-width="1.4"/>
<line x1="454.8" y1="939.4" x2="454.8" y2="943.9" stroke="#000" stroke-width="1.4"/>
<line x1="491.7" y1="939.4" x2="491.7" y2="943.9" stroke="#000" stroke-width="1.4"/>
<rect x="405.3" y="898.3" width="25.3" height="41.1" fill="#bdbdbd" stroke="none" stroke-width="1"/>
<line x1="418" y1="899.3" x2="418" y2="891.7" stroke="#000" stroke-width="1.5"/>
<line x1="413.7" y1="891.7" x2="424.1" y2="891.7" stroke="#000" stroke-width="1.6"/>
<rect x="442" y="910.5" width="24.7" height="28.9" fill="#000" stroke="none" stroke-width="1"/>
<line x1="454.4" y1="911.5" x2="454.4" y2="909.6" stroke="#000" stroke-width="1.5"/>
<line x1="448" y1="909.6" x2="461" y2="909.6" stroke="#000" stroke-width="1.6"/>
<rect x="479.2" y="900" width="24.8" height="39.4" fill="#3d3d3d" stroke="none" stroke-width="1"/>
<line x1="491.6" y1="901" x2="491.6" y2="895.3" stroke="#000" stroke-width="1.5"/>
<line x1="484.6" y1="895.3" x2="498.6" y2="895.3" stroke="#000" stroke-width="1.6"/>
<line x1="417.5" y1="870.9" x2="450" y2="870.9" stroke="#000" stroke-width="1.5"/>
<polygon points="433.6,863.1 434.3,864.7 436,864.8 434.7,865.9 435.1,867.6 433.6,866.7 432.1,867.6 432.5,865.9 431.2,864.8 432.9,864.7" fill="#000"/>
<line x1="456.3" y1="870.9" x2="489.7" y2="870.9" stroke="#000" stroke-width="1.5"/>
<polygon points="473.3,863.1 474,864.7 475.7,864.8 474.4,865.9 474.8,867.6 473.3,866.7 471.8,867.6 472.2,865.9 470.9,864.8 472.6,864.7" fill="#000"/>
<text x="78.5" y="958.7" font-size="12.2" textLength="42.7" lengthAdjust="spacingAndGlyphs">No Treg</text>
<text x="127.4" y="958.7" font-size="12.2" textLength="27.6" lengthAdjust="spacingAndGlyphs">st2<tspan font-size="7.6" dy="-5">+/+</tspan></text>
<text x="166.9" y="958.7" font-size="12.2" textLength="24.1" lengthAdjust="spacingAndGlyphs">st2<tspan font-size="7.6" dy="-5">-/-</tspan></text>
<polyline points="139.5,961.3 139.5,965.4 177.4,965.4 177.4,961.3" fill="none" stroke="#000" stroke-width="1.5"/>
<text x="147.4" y="980.2" font-size="12.2" textLength="23.1" lengthAdjust="spacingAndGlyphs">Treg</text>
<text x="237.7" y="958.7" font-size="12.2" textLength="43.3" lengthAdjust="spacingAndGlyphs">No Treg</text>
<text x="287" y="958.7" font-size="12.2" textLength="27.8" lengthAdjust="spacingAndGlyphs">st2<tspan font-size="7.6" dy="-5">+/+</tspan></text>
<text x="327" y="958.7" font-size="12.2" textLength="24.2" lengthAdjust="spacingAndGlyphs">st2<tspan font-size="7.6" dy="-5">-/-</tspan></text>
<polyline points="298,962.3 298,966.4 337.4,966.4 337.4,962.3" fill="none" stroke="#000" stroke-width="1.5"/>
<text x="305.7" y="980.2" font-size="12.2" textLength="24.7" lengthAdjust="spacingAndGlyphs">Treg</text>
<text x="393" y="958.7" font-size="12.2" textLength="42.8" lengthAdjust="spacingAndGlyphs">No Treg</text>
<text x="441.8" y="958.7" font-size="12.2" textLength="27.8" lengthAdjust="spacingAndGlyphs">st2<tspan font-size="7.6" dy="-5">+/+</tspan></text>
<text x="481.3" y="958.7" font-size="12.2" textLength="24.7" lengthAdjust="spacingAndGlyphs">st2<tspan font-size="7.6" dy="-5">-/-</tspan></text>
<polyline points="454,962.3 454,966.4 491.7,966.4 491.7,962.3" fill="none" stroke="#000" stroke-width="1.5"/>
<text x="461.8" y="980.2" font-size="12.2" textLength="23.4" lengthAdjust="spacingAndGlyphs">Treg</text>
<path d="M0 0H520V993H0Z M1 1V991.6H518.6V1Z" fill="#000" fill-rule="evenodd"/>
</svg></body></html>
